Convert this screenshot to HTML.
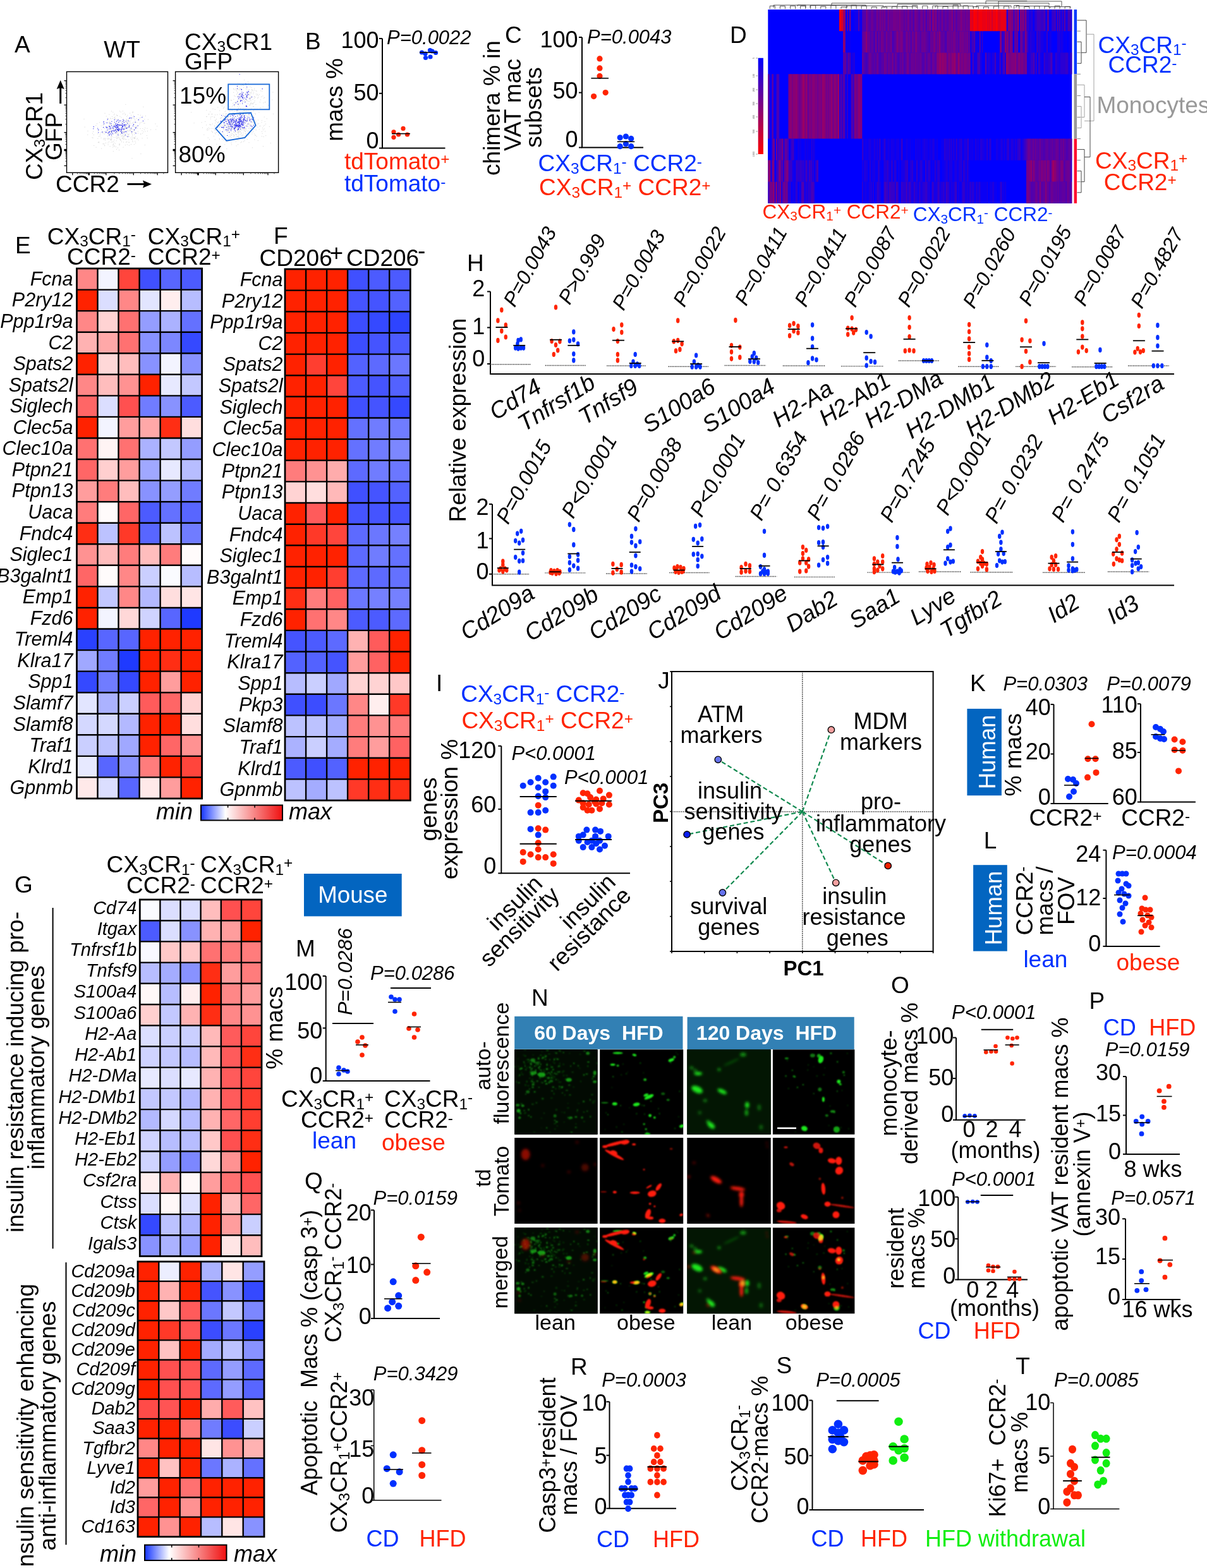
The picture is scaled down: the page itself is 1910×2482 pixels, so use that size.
<!DOCTYPE html>
<html><head><meta charset="utf-8"><title>Figure</title>
<style>
html,body{margin:0;padding:0;background:#fff;}
body{width:1910px;height:2482px;overflow:hidden;}
svg{display:block;font-family:'Liberation Sans', Arial, sans-serif;}
</style></head>
<body>
<svg xmlns="http://www.w3.org/2000/svg" width="1910" height="2482" viewBox="0 0 1910 2482">
<rect width="1910" height="2482" fill="#fff"/>
<text x="23.0" y="83.0" font-size="37.0">A</text>
<text x="193.0" y="91.0" font-size="37.0" text-anchor="middle">WT</text>
<text x="292.0" y="78.5" font-size="37.0"><tspan>CX</tspan><tspan dy="3.70" font-size="24.4">3</tspan><tspan dy="-3.70">CR1</tspan></text>
<text x="292.0" y="110.0" font-size="37.0">GFP</text>
<text x="67.0" y="285.0" font-size="37.0" transform="rotate(-90.0 67.0 285.0)"><tspan>CX</tspan><tspan dy="3.70" font-size="24.4">3</tspan><tspan dy="-3.70">CR1</tspan></text>
<text x="98.0" y="254.0" font-size="37.0" transform="rotate(-90.0 98.0 254.0)">GFP</text>
<text x="88.0" y="304.0" font-size="37.0">CCR2</text>
<line x1="201.5" y1="291.5" x2="230.0" y2="291.5" stroke="#000" stroke-width="3.00" />
<polygon points="240,291.5 226,285.5 228,291.5 226,297.5" fill="#000"/>
<line x1="95.7" y1="164.0" x2="95.7" y2="136.0" stroke="#000" stroke-width="3.00" />
<polygon points="95.7,127 89.7,141 95.7,139 101.7,141" fill="#000"/>
<rect x="105.5" y="113.5" width="160.0" height="159.8" fill="none" stroke="#000" stroke-width="1.40" />
<line x1="101.5" y1="127.7" x2="105.5" y2="127.7" stroke="#000" stroke-width="1.30" />
<line x1="101.5" y1="166.2" x2="105.5" y2="166.2" stroke="#000" stroke-width="1.30" />
<line x1="101.5" y1="209.7" x2="105.5" y2="209.7" stroke="#000" stroke-width="1.30" />
<line x1="101.5" y1="262.4" x2="105.5" y2="262.4" stroke="#000" stroke-width="1.30" />
<line x1="101.5" y1="236.5" x2="105.5" y2="236.5" stroke="#000" stroke-width="1.30" />
<line x1="101.5" y1="237.5" x2="105.5" y2="237.5" stroke="#000" stroke-width="1.30" />
<line x1="101.5" y1="238.5" x2="105.5" y2="238.5" stroke="#000" stroke-width="1.30" />
<line x1="103.3" y1="154.7" x2="105.5" y2="154.7" stroke="#000" stroke-width="0.70" />
<line x1="103.3" y1="147.7" x2="105.5" y2="147.7" stroke="#000" stroke-width="0.70" />
<line x1="103.3" y1="143.1" x2="105.5" y2="143.1" stroke="#000" stroke-width="0.70" />
<line x1="103.3" y1="139.3" x2="105.5" y2="139.3" stroke="#000" stroke-width="0.70" />
<line x1="103.3" y1="136.2" x2="105.5" y2="136.2" stroke="#000" stroke-width="0.70" />
<line x1="103.3" y1="133.5" x2="105.5" y2="133.5" stroke="#000" stroke-width="0.70" />
<line x1="103.3" y1="131.6" x2="105.5" y2="131.6" stroke="#000" stroke-width="0.70" />
<line x1="103.3" y1="129.6" x2="105.5" y2="129.6" stroke="#000" stroke-width="0.70" />
<line x1="103.3" y1="196.7" x2="105.5" y2="196.7" stroke="#000" stroke-width="0.70" />
<line x1="103.3" y1="188.8" x2="105.5" y2="188.8" stroke="#000" stroke-width="0.70" />
<line x1="103.3" y1="183.6" x2="105.5" y2="183.6" stroke="#000" stroke-width="0.70" />
<line x1="103.3" y1="179.3" x2="105.5" y2="179.3" stroke="#000" stroke-width="0.70" />
<line x1="103.3" y1="175.8" x2="105.5" y2="175.8" stroke="#000" stroke-width="0.70" />
<line x1="103.3" y1="172.8" x2="105.5" y2="172.8" stroke="#000" stroke-width="0.70" />
<line x1="103.3" y1="170.6" x2="105.5" y2="170.6" stroke="#000" stroke-width="0.70" />
<line x1="103.3" y1="168.4" x2="105.5" y2="168.4" stroke="#000" stroke-width="0.70" />
<line x1="103.3" y1="228.5" x2="105.5" y2="228.5" stroke="#000" stroke-width="0.70" />
<line x1="103.3" y1="223.7" x2="105.5" y2="223.7" stroke="#000" stroke-width="0.70" />
<line x1="103.3" y1="220.4" x2="105.5" y2="220.4" stroke="#000" stroke-width="0.70" />
<line x1="103.3" y1="217.8" x2="105.5" y2="217.8" stroke="#000" stroke-width="0.70" />
<line x1="103.3" y1="215.6" x2="105.5" y2="215.6" stroke="#000" stroke-width="0.70" />
<line x1="103.3" y1="213.7" x2="105.5" y2="213.7" stroke="#000" stroke-width="0.70" />
<line x1="103.3" y1="212.4" x2="105.5" y2="212.4" stroke="#000" stroke-width="0.70" />
<line x1="103.3" y1="211.0" x2="105.5" y2="211.0" stroke="#000" stroke-width="0.70" />
<line x1="103.3" y1="255.2" x2="105.5" y2="255.2" stroke="#000" stroke-width="0.70" />
<line x1="103.3" y1="250.9" x2="105.5" y2="250.9" stroke="#000" stroke-width="0.70" />
<line x1="103.3" y1="248.1" x2="105.5" y2="248.1" stroke="#000" stroke-width="0.70" />
<line x1="103.3" y1="245.7" x2="105.5" y2="245.7" stroke="#000" stroke-width="0.70" />
<line x1="103.3" y1="243.7" x2="105.5" y2="243.7" stroke="#000" stroke-width="0.70" />
<line x1="103.3" y1="242.1" x2="105.5" y2="242.1" stroke="#000" stroke-width="0.70" />
<line x1="103.3" y1="240.9" x2="105.5" y2="240.9" stroke="#000" stroke-width="0.70" />
<line x1="103.3" y1="239.7" x2="105.5" y2="239.7" stroke="#000" stroke-width="0.70" />
<line x1="114.8" y1="273.3" x2="114.8" y2="277.3" stroke="#000" stroke-width="1.30" />
<line x1="140.1" y1="273.3" x2="140.1" y2="277.3" stroke="#000" stroke-width="1.30" />
<line x1="140.7" y1="273.3" x2="140.7" y2="277.3" stroke="#000" stroke-width="1.30" />
<line x1="141.3" y1="273.3" x2="141.3" y2="277.3" stroke="#000" stroke-width="1.30" />
<line x1="167.9" y1="273.3" x2="167.9" y2="277.3" stroke="#000" stroke-width="1.30" />
<line x1="211.3" y1="273.3" x2="211.3" y2="277.3" stroke="#000" stroke-width="1.30" />
<line x1="249.2" y1="273.3" x2="249.2" y2="277.3" stroke="#000" stroke-width="1.30" />
<line x1="122.4" y1="273.3" x2="122.4" y2="275.5" stroke="#000" stroke-width="0.70" />
<line x1="126.9" y1="273.3" x2="126.9" y2="275.5" stroke="#000" stroke-width="0.70" />
<line x1="129.9" y1="273.3" x2="129.9" y2="275.5" stroke="#000" stroke-width="0.70" />
<line x1="132.5" y1="273.3" x2="132.5" y2="275.5" stroke="#000" stroke-width="0.70" />
<line x1="134.5" y1="273.3" x2="134.5" y2="275.5" stroke="#000" stroke-width="0.70" />
<line x1="136.3" y1="273.3" x2="136.3" y2="275.5" stroke="#000" stroke-width="0.70" />
<line x1="137.5" y1="273.3" x2="137.5" y2="275.5" stroke="#000" stroke-width="0.70" />
<line x1="138.8" y1="273.3" x2="138.8" y2="275.5" stroke="#000" stroke-width="0.70" />
<line x1="149.3" y1="273.3" x2="149.3" y2="275.5" stroke="#000" stroke-width="0.70" />
<line x1="154.1" y1="273.3" x2="154.1" y2="275.5" stroke="#000" stroke-width="0.70" />
<line x1="157.3" y1="273.3" x2="157.3" y2="275.5" stroke="#000" stroke-width="0.70" />
<line x1="159.9" y1="273.3" x2="159.9" y2="275.5" stroke="#000" stroke-width="0.70" />
<line x1="162.1" y1="273.3" x2="162.1" y2="275.5" stroke="#000" stroke-width="0.70" />
<line x1="163.9" y1="273.3" x2="163.9" y2="275.5" stroke="#000" stroke-width="0.70" />
<line x1="165.2" y1="273.3" x2="165.2" y2="275.5" stroke="#000" stroke-width="0.70" />
<line x1="166.6" y1="273.3" x2="166.6" y2="275.5" stroke="#000" stroke-width="0.70" />
<line x1="180.9" y1="273.3" x2="180.9" y2="275.5" stroke="#000" stroke-width="0.70" />
<line x1="188.7" y1="273.3" x2="188.7" y2="275.5" stroke="#000" stroke-width="0.70" />
<line x1="193.9" y1="273.3" x2="193.9" y2="275.5" stroke="#000" stroke-width="0.70" />
<line x1="198.3" y1="273.3" x2="198.3" y2="275.5" stroke="#000" stroke-width="0.70" />
<line x1="201.7" y1="273.3" x2="201.7" y2="275.5" stroke="#000" stroke-width="0.70" />
<line x1="204.8" y1="273.3" x2="204.8" y2="275.5" stroke="#000" stroke-width="0.70" />
<line x1="206.9" y1="273.3" x2="206.9" y2="275.5" stroke="#000" stroke-width="0.70" />
<line x1="209.1" y1="273.3" x2="209.1" y2="275.5" stroke="#000" stroke-width="0.70" />
<line x1="222.6" y1="273.3" x2="222.6" y2="275.5" stroke="#000" stroke-width="0.70" />
<line x1="229.5" y1="273.3" x2="229.5" y2="275.5" stroke="#000" stroke-width="0.70" />
<line x1="234.0" y1="273.3" x2="234.0" y2="275.5" stroke="#000" stroke-width="0.70" />
<line x1="237.8" y1="273.3" x2="237.8" y2="275.5" stroke="#000" stroke-width="0.70" />
<line x1="240.8" y1="273.3" x2="240.8" y2="275.5" stroke="#000" stroke-width="0.70" />
<line x1="243.5" y1="273.3" x2="243.5" y2="275.5" stroke="#000" stroke-width="0.70" />
<line x1="245.4" y1="273.3" x2="245.4" y2="275.5" stroke="#000" stroke-width="0.70" />
<line x1="247.3" y1="273.3" x2="247.3" y2="275.5" stroke="#000" stroke-width="0.70" />
<line x1="258.9" y1="273.3" x2="258.9" y2="275.5" stroke="#000" stroke-width="0.70" />
<rect x="277.6" y="113.5" width="163.0" height="159.8" fill="none" stroke="#000" stroke-width="1.40" />
<line x1="273.6" y1="127.7" x2="277.6" y2="127.7" stroke="#000" stroke-width="1.30" />
<line x1="273.6" y1="166.2" x2="277.6" y2="166.2" stroke="#000" stroke-width="1.30" />
<line x1="273.6" y1="209.7" x2="277.6" y2="209.7" stroke="#000" stroke-width="1.30" />
<line x1="273.6" y1="262.4" x2="277.6" y2="262.4" stroke="#000" stroke-width="1.30" />
<line x1="273.6" y1="236.5" x2="277.6" y2="236.5" stroke="#000" stroke-width="1.30" />
<line x1="273.6" y1="237.5" x2="277.6" y2="237.5" stroke="#000" stroke-width="1.30" />
<line x1="273.6" y1="238.5" x2="277.6" y2="238.5" stroke="#000" stroke-width="1.30" />
<line x1="275.4" y1="154.7" x2="277.6" y2="154.7" stroke="#000" stroke-width="0.70" />
<line x1="275.4" y1="147.7" x2="277.6" y2="147.7" stroke="#000" stroke-width="0.70" />
<line x1="275.4" y1="143.1" x2="277.6" y2="143.1" stroke="#000" stroke-width="0.70" />
<line x1="275.4" y1="139.3" x2="277.6" y2="139.3" stroke="#000" stroke-width="0.70" />
<line x1="275.4" y1="136.2" x2="277.6" y2="136.2" stroke="#000" stroke-width="0.70" />
<line x1="275.4" y1="133.5" x2="277.6" y2="133.5" stroke="#000" stroke-width="0.70" />
<line x1="275.4" y1="131.6" x2="277.6" y2="131.6" stroke="#000" stroke-width="0.70" />
<line x1="275.4" y1="129.6" x2="277.6" y2="129.6" stroke="#000" stroke-width="0.70" />
<line x1="275.4" y1="196.7" x2="277.6" y2="196.7" stroke="#000" stroke-width="0.70" />
<line x1="275.4" y1="188.8" x2="277.6" y2="188.8" stroke="#000" stroke-width="0.70" />
<line x1="275.4" y1="183.6" x2="277.6" y2="183.6" stroke="#000" stroke-width="0.70" />
<line x1="275.4" y1="179.3" x2="277.6" y2="179.3" stroke="#000" stroke-width="0.70" />
<line x1="275.4" y1="175.8" x2="277.6" y2="175.8" stroke="#000" stroke-width="0.70" />
<line x1="275.4" y1="172.8" x2="277.6" y2="172.8" stroke="#000" stroke-width="0.70" />
<line x1="275.4" y1="170.6" x2="277.6" y2="170.6" stroke="#000" stroke-width="0.70" />
<line x1="275.4" y1="168.4" x2="277.6" y2="168.4" stroke="#000" stroke-width="0.70" />
<line x1="275.4" y1="228.5" x2="277.6" y2="228.5" stroke="#000" stroke-width="0.70" />
<line x1="275.4" y1="223.7" x2="277.6" y2="223.7" stroke="#000" stroke-width="0.70" />
<line x1="275.4" y1="220.4" x2="277.6" y2="220.4" stroke="#000" stroke-width="0.70" />
<line x1="275.4" y1="217.8" x2="277.6" y2="217.8" stroke="#000" stroke-width="0.70" />
<line x1="275.4" y1="215.6" x2="277.6" y2="215.6" stroke="#000" stroke-width="0.70" />
<line x1="275.4" y1="213.7" x2="277.6" y2="213.7" stroke="#000" stroke-width="0.70" />
<line x1="275.4" y1="212.4" x2="277.6" y2="212.4" stroke="#000" stroke-width="0.70" />
<line x1="275.4" y1="211.0" x2="277.6" y2="211.0" stroke="#000" stroke-width="0.70" />
<line x1="275.4" y1="255.2" x2="277.6" y2="255.2" stroke="#000" stroke-width="0.70" />
<line x1="275.4" y1="250.9" x2="277.6" y2="250.9" stroke="#000" stroke-width="0.70" />
<line x1="275.4" y1="248.1" x2="277.6" y2="248.1" stroke="#000" stroke-width="0.70" />
<line x1="275.4" y1="245.7" x2="277.6" y2="245.7" stroke="#000" stroke-width="0.70" />
<line x1="275.4" y1="243.7" x2="277.6" y2="243.7" stroke="#000" stroke-width="0.70" />
<line x1="275.4" y1="242.1" x2="277.6" y2="242.1" stroke="#000" stroke-width="0.70" />
<line x1="275.4" y1="240.9" x2="277.6" y2="240.9" stroke="#000" stroke-width="0.70" />
<line x1="275.4" y1="239.7" x2="277.6" y2="239.7" stroke="#000" stroke-width="0.70" />
<line x1="287.1" y1="273.3" x2="287.1" y2="277.3" stroke="#000" stroke-width="1.30" />
<line x1="312.8" y1="273.3" x2="312.8" y2="277.3" stroke="#000" stroke-width="1.30" />
<line x1="313.5" y1="273.3" x2="313.5" y2="277.3" stroke="#000" stroke-width="1.30" />
<line x1="314.1" y1="273.3" x2="314.1" y2="277.3" stroke="#000" stroke-width="1.30" />
<line x1="341.2" y1="273.3" x2="341.2" y2="277.3" stroke="#000" stroke-width="1.30" />
<line x1="385.3" y1="273.3" x2="385.3" y2="277.3" stroke="#000" stroke-width="1.30" />
<line x1="424.0" y1="273.3" x2="424.0" y2="277.3" stroke="#000" stroke-width="1.30" />
<line x1="294.8" y1="273.3" x2="294.8" y2="275.5" stroke="#000" stroke-width="0.70" />
<line x1="299.4" y1="273.3" x2="299.4" y2="275.5" stroke="#000" stroke-width="0.70" />
<line x1="302.5" y1="273.3" x2="302.5" y2="275.5" stroke="#000" stroke-width="0.70" />
<line x1="305.1" y1="273.3" x2="305.1" y2="275.5" stroke="#000" stroke-width="0.70" />
<line x1="307.1" y1="273.3" x2="307.1" y2="275.5" stroke="#000" stroke-width="0.70" />
<line x1="308.9" y1="273.3" x2="308.9" y2="275.5" stroke="#000" stroke-width="0.70" />
<line x1="310.2" y1="273.3" x2="310.2" y2="275.5" stroke="#000" stroke-width="0.70" />
<line x1="311.5" y1="273.3" x2="311.5" y2="275.5" stroke="#000" stroke-width="0.70" />
<line x1="322.2" y1="273.3" x2="322.2" y2="275.5" stroke="#000" stroke-width="0.70" />
<line x1="327.1" y1="273.3" x2="327.1" y2="275.5" stroke="#000" stroke-width="0.70" />
<line x1="330.3" y1="273.3" x2="330.3" y2="275.5" stroke="#000" stroke-width="0.70" />
<line x1="333.1" y1="273.3" x2="333.1" y2="275.5" stroke="#000" stroke-width="0.70" />
<line x1="335.2" y1="273.3" x2="335.2" y2="275.5" stroke="#000" stroke-width="0.70" />
<line x1="337.1" y1="273.3" x2="337.1" y2="275.5" stroke="#000" stroke-width="0.70" />
<line x1="338.5" y1="273.3" x2="338.5" y2="275.5" stroke="#000" stroke-width="0.70" />
<line x1="339.8" y1="273.3" x2="339.8" y2="275.5" stroke="#000" stroke-width="0.70" />
<line x1="354.4" y1="273.3" x2="354.4" y2="275.5" stroke="#000" stroke-width="0.70" />
<line x1="362.4" y1="273.3" x2="362.4" y2="275.5" stroke="#000" stroke-width="0.70" />
<line x1="367.7" y1="273.3" x2="367.7" y2="275.5" stroke="#000" stroke-width="0.70" />
<line x1="372.1" y1="273.3" x2="372.1" y2="275.5" stroke="#000" stroke-width="0.70" />
<line x1="375.6" y1="273.3" x2="375.6" y2="275.5" stroke="#000" stroke-width="0.70" />
<line x1="378.7" y1="273.3" x2="378.7" y2="275.5" stroke="#000" stroke-width="0.70" />
<line x1="380.9" y1="273.3" x2="380.9" y2="275.5" stroke="#000" stroke-width="0.70" />
<line x1="383.1" y1="273.3" x2="383.1" y2="275.5" stroke="#000" stroke-width="0.70" />
<line x1="396.9" y1="273.3" x2="396.9" y2="275.5" stroke="#000" stroke-width="0.70" />
<line x1="403.9" y1="273.3" x2="403.9" y2="275.5" stroke="#000" stroke-width="0.70" />
<line x1="408.5" y1="273.3" x2="408.5" y2="275.5" stroke="#000" stroke-width="0.70" />
<line x1="412.4" y1="273.3" x2="412.4" y2="275.5" stroke="#000" stroke-width="0.70" />
<line x1="415.5" y1="273.3" x2="415.5" y2="275.5" stroke="#000" stroke-width="0.70" />
<line x1="418.2" y1="273.3" x2="418.2" y2="275.5" stroke="#000" stroke-width="0.70" />
<line x1="420.1" y1="273.3" x2="420.1" y2="275.5" stroke="#000" stroke-width="0.70" />
<line x1="422.0" y1="273.3" x2="422.0" y2="275.5" stroke="#000" stroke-width="0.70" />
<line x1="433.9" y1="273.3" x2="433.9" y2="275.5" stroke="#000" stroke-width="0.70" />
<path stroke="#d4d4d4" stroke-width="1" d="M227.8 205.3h1M193.9 180.5h1M186.5 201.2h1M190.3 197.1h1M191.1 198.9h1M165.7 220.4h1M209.6 224.6h1M193.0 199.6h1M181.1 186.5h1M211.6 187.7h1M168.3 205.9h1M221.7 203.6h1M171.5 198.8h1M204.5 201.0h1M176.6 204.3h1M206.9 228.5h1M167.1 200.6h1M175.9 176.0h1M173.5 194.5h1M214.5 199.9h1M159.5 218.3h1M184.9 183.4h1M180.1 199.1h1M174.5 208.0h1M147.0 208.3h1M212.3 213.0h1M214.2 216.2h1M221.8 186.0h1M208.9 178.3h1M179.9 181.9h1M213.0 219.2h1M188.1 228.7h1M178.5 209.0h1M195.1 190.7h1M200.8 228.9h1M171.5 219.8h1M188.9 228.5h1M201.7 212.3h1M204.9 206.3h1M164.1 227.3h1M164.6 212.2h1M204.3 192.3h1M194.9 219.7h1M191.5 193.5h1M133.7 201.1h1M180.2 200.1h1M172.8 212.8h1M180.5 205.3h1M205.6 191.8h1M186.0 234.0h1M209.5 185.6h1M190.4 212.6h1M216.7 203.2h1M181.4 197.1h1M204.9 207.1h1M181.7 204.1h1M183.7 215.7h1M178.2 213.4h1M209.0 208.8h1M175.3 225.0h1M178.4 212.6h1M176.9 184.6h1M196.5 208.1h1M190.5 208.8h1M179.0 197.4h1M188.6 230.3h1M208.3 195.8h1M203.2 197.1h1M182.9 217.5h1M181.5 184.8h1M173.9 208.9h1M194.6 220.8h1M177.7 216.7h1M200.5 201.8h1M208.7 208.9h1M174.8 221.5h1M167.6 209.4h1M192.0 210.5h1M177.5 206.7h1M189.2 218.4h1M176.1 208.3h1M186.8 188.9h1M245.5 196.0h1M162.3 227.8h1M170.6 213.0h1M209.3 194.0h1M183.4 199.3h1M189.4 184.3h1M167.3 206.9h1M212.8 210.1h1M226.6 208.8h1M181.8 204.9h1M151.4 198.6h1M171.6 211.6h1M205.0 195.8h1M180.2 186.7h1M189.4 208.6h1M200.9 193.5h1M231.8 214.6h1M190.1 198.4h1M185.6 207.9h1M191.6 211.3h1M207.4 220.5h1M214.9 200.1h1M199.8 198.8h1M180.3 231.6h1M182.8 232.3h1M185.0 209.3h1M213.8 202.0h1M199.9 200.7h1M182.5 204.3h1M179.0 228.2h1M188.6 227.9h1M138.3 213.3h1M203.2 199.5h1M213.9 210.0h1M186.5 211.5h1M248.2 199.8h1M198.0 198.4h1M194.7 187.8h1M188.0 237.5h1M213.3 210.1h1M214.1 226.2h1M203.9 230.1h1M213.4 204.0h1M226.4 169.2h1M180.6 210.2h1M173.8 205.7h1M179.2 198.4h1M246.2 205.0h1M190.9 222.3h1M187.3 217.2h1M199.0 225.1h1M163.6 219.2h1M194.4 189.6h1M213.3 190.5h1M224.4 206.8h1M205.9 204.0h1M210.1 178.0h1M193.5 196.6h1M197.7 203.5h1M204.3 192.3h1M228.8 229.6h1M187.8 205.4h1M197.8 220.6h1M229.9 183.6h1M179.7 193.0h1M169.7 187.0h1M199.3 188.8h1M222.1 212.3h1M171.4 194.7h1M179.8 225.0h1M175.0 188.1h1M191.0 210.0h1M178.9 228.0h1M196.8 210.2h1M174.9 207.1h1M188.9 175.9h1M197.8 180.8h1M191.4 185.9h1M232.4 203.2h1M209.2 214.4h1M165.5 179.3h1M185.4 217.7h1M193.8 214.9h1M210.7 182.8h1M197.8 229.7h1M180.6 180.3h1M187.4 199.7h1M200.4 192.1h1M193.8 175.9h1M209.1 223.1h1M218.0 181.4h1M198.4 165.3h1M197.7 203.3h1M172.1 212.5h1M194.8 216.8h1M194.5 207.7h1M153.1 195.8h1M182.5 210.3h1M191.9 224.5h1M174.6 204.5h1M197.1 201.2h1M201.9 196.1h1M220.4 196.6h1M214.3 201.3h1M221.8 182.3h1M202.3 197.8h1M196.6 219.8h1M169.2 191.2h1M172.0 211.3h1M154.3 211.9h1M166.3 194.0h1M184.6 211.1h1M179.5 200.5h1M191.2 201.6h1M138.5 207.4h1M193.7 219.0h1M232.9 207.5h1M193.6 192.2h1M193.8 214.9h1M217.3 189.8h1M196.7 214.9h1M229.2 202.7h1M181.2 197.7h1M184.9 197.6h1M208.5 216.4h1M206.5 218.3h1M182.9 211.3h1M184.3 206.7h1M216.5 200.9h1M154.7 207.3h1M177.7 187.5h1M176.2 219.9h1M225.6 193.6h1M212.1 217.3h1M168.8 208.0h1M191.1 207.4h1M160.1 205.2h1M213.2 218.2h1M228.6 195.1h1M229.4 208.0h1M164.8 219.0h1M185.0 212.8h1M189.9 221.0h1M197.1 200.6h1M211.3 205.4h1M183.7 222.8h1M183.8 197.9h1M181.2 187.6h1M180.9 230.9h1M173.8 207.8h1M169.8 200.4h1M222.4 212.1h1M179.8 206.9h1M175.5 197.3h1M173.7 196.1h1M198.5 211.8h1M201.8 201.3h1M164.8 208.2h1M173.5 219.2h1M203.1 213.0h1M185.0 182.5h1M211.2 218.1h1M162.3 211.2h1M215.9 187.4h1M227.4 195.2h1M170.5 226.1h1M197.9 195.6h1M209.6 176.9h1M228.3 188.9h1M197.7 199.0h1M200.7 215.2h1M175.5 217.7h1M186.1 196.9h1M187.5 192.6h1M176.1 219.7h1M189.0 220.3h1M200.6 190.4h1M154.0 201.8h1M197.3 204.3h1M175.4 220.7h1M157.1 193.9h1M194.5 233.1h1M200.3 190.7h1M203.9 212.1h1M210.8 196.9h1M176.0 208.9h1M200.3 224.5h1M233.8 189.2h1M181.5 205.7h1M187.0 212.1h1M201.7 206.9h1M218.9 198.9h1M171.0 187.9h1M171.4 194.5h1M154.3 219.3h1M195.7 198.9h1M174.2 187.1h1M173.6 231.8h1M147.8 213.5h1M206.9 204.5h1M185.7 215.9h1M169.9 215.5h1M220.6 187.2h1M175.6 209.2h1M211.8 219.4h1M205.6 194.3h1M169.7 211.5h1M200.0 189.5h1M193.2 209.1h1M212.9 189.0h1M203.1 188.1h1M183.5 205.3h1M222.4 243.5h1M197.1 210.7h1M212.2 184.3h1M207.3 186.6h1M224.6 218.9h1M202.0 193.0h1M225.4 203.4h1M194.2 212.2h1M157.8 215.7h1M211.9 206.4h1M194.9 192.2h1M204.9 205.7h1M192.2 197.7h1M209.1 218.6h1M199.8 215.5h1M218.5 221.7h1M196.5 201.5h1M183.7 206.4h1M203.0 215.5h1M183.5 208.2h1M172.1 224.4h1M184.2 210.8h1M177.6 203.3h1M178.3 229.2h1M199.2 201.8h1M173.0 199.9h1M203.4 225.0h1M163.4 197.4h1M188.5 197.4h1M158.8 210.2h1M207.0 182.2h1M196.2 216.9h1M211.6 196.6h1M238.1 205.3h1M175.8 220.2h1M169.5 220.0h1M166.8 219.1h1M180.3 221.5h1M206.8 208.6h1M193.2 219.0h1M155.9 216.0h1M200.3 211.1h1M208.5 250.7h1M194.3 215.1h1M195.0 225.0h1M151.6 233.1h1M178.3 177.6h1M170.4 206.0h1M195.9 203.8h1M208.3 202.1h1M190.7 177.3h1M201.7 216.7h1M183.6 181.9h1M165.3 230.8h1M179.9 198.2h1M175.6 216.3h1M180.2 195.5h1M161.9 208.1h1M212.0 200.1h1M209.6 204.6h1M195.0 206.9h1M192.7 218.2h1M201.8 196.0h1M194.6 203.6h1M201.7 205.9h1M200.3 184.6h1M199.6 220.9h1M165.0 229.9h1M197.9 201.4h1M155.9 224.6h1M172.6 201.3h1M202.9 190.0h1M172.3 193.0h1M189.8 213.0h1M200.1 209.1h1M185.1 207.9h1M178.2 233.0h1M195.9 179.0h1M170.6 229.0h1M164.7 203.4h1M200.1 189.5h1M213.3 223.6h1M175.5 222.2h1M174.2 194.7h1M196.9 207.4h1M180.1 217.7h1M162.6 198.3h1M170.4 218.1h1M208.1 211.3h1M166.1 210.6h1M201.2 182.6h1M175.6 215.9h1M206.1 206.2h1M202.8 207.6h1M195.0 203.1h1M174.6 204.4h1M183.9 236.3h1M197.2 204.1h1M187.4 204.2h1M186.6 212.9h1M191.4 215.6h1M178.1 211.6h1M209.5 187.4h1M195.4 207.7h1M185.3 199.7h1M154.9 225.5h1M173.3 191.7h1M205.2 179.2h1M211.3 207.8h1M204.0 201.1h1M167.7 184.1h1M221.1 194.5h1M181.7 227.1h1M179.4 203.8h1M187.3 203.9h1M171.2 200.8h1M217.7 211.0h1M132.5 188.5h1M198.7 202.5h1M184.5 219.7h1M156.3 225.9h1M194.6 211.7h1M197.1 215.2h1M187.0 198.7h1M207.6 204.9h1M166.9 226.3h1M216.2 220.1h1M193.6 209.3h1M184.4 193.5h1M193.3 207.1h1M178.7 230.8h1M159.7 199.2h1M178.6 223.8h1M186.9 201.5h1M174.3 197.7h1M165.9 222.1h1M204.2 216.0h1M178.8 239.6h1M172.4 181.2h1M186.2 207.7h1M207.1 189.5h1M203.8 225.4h1M175.0 197.9h1M157.9 213.2h1M209.1 212.4h1M208.7 220.9h1M194.5 217.0h1M173.0 197.6h1M196.8 193.6h1M203.4 221.2h1M200.1 194.2h1M177.0 225.0h1M176.0 208.6h1M186.8 206.5h1M213.9 194.7h1M163.8 228.1h1M196.5 213.8h1M191.6 215.2h1M217.3 219.0h1M186.5 201.2h1M199.9 206.5h1M203.3 194.1h1M145.5 217.8h1M207.6 211.0h1M225.2 211.1h1M184.2 219.0h1M190.3 221.6h1M196.8 210.2h1M196.6 205.0h1M162.1 210.2h1M146.5 218.3h1M211.8 228.7h1M199.5 194.6h1M160.2 235.1h1M163.5 220.9h1M145.9 211.2h1M205.7 207.2h1M191.2 194.4h1M173.9 220.8h1M200.7 201.6h1M196.1 192.3h1M212.4 218.3h1M176.4 208.7h1M213.0 193.5h1M232.7 218.5h1M186.4 218.6h1M225.2 183.8h1M204.4 201.3h1M187.7 214.9h1M182.5 188.2h1M163.6 209.0h1M204.6 202.8h1M188.9 205.1h1M217.8 208.0h1M177.1 203.5h1M216.1 193.8h1M184.1 205.9h1M170.7 219.9h1M148.2 230.4h1M183.3 190.0h1M197.6 181.9h1M202.7 213.4h1M180.5 201.7h1M211.0 193.4h1M192.5 209.5h1M223.2 193.8h1"/>
<path stroke="#2020ee" stroke-width="1.1" d="M190.5 207.7h1.1M154.2 203.7h1.1M163.3 193.2h1.1M217.4 199.0h1.1M210.8 197.1h1.1M197.6 197.5h1.1M182.3 201.5h1.1M191.8 210.0h1.1M187.2 203.6h1.1M186.4 202.3h1.1M171.6 209.8h1.1M182.7 202.1h1.1M187.0 207.3h1.1M197.3 200.2h1.1M192.5 202.8h1.1M200.6 202.8h1.1M208.0 208.6h1.1M198.6 192.0h1.1M214.5 211.0h1.1M184.9 199.1h1.1M161.2 209.1h1.1M175.9 213.7h1.1M155.3 205.6h1.1M199.4 197.5h1.1M178.9 203.8h1.1M182.6 199.8h1.1M189.4 197.7h1.1M186.8 206.1h1.1M184.5 202.7h1.1M179.4 207.7h1.1M172.0 208.9h1.1M147.6 200.6h1.1M167.7 209.8h1.1M193.8 192.7h1.1M182.0 210.0h1.1M189.1 204.4h1.1M168.7 194.4h1.1M197.8 213.8h1.1M182.2 205.4h1.1M176.5 210.0h1.1M183.3 199.0h1.1M163.1 201.6h1.1M192.2 208.8h1.1M173.1 208.7h1.1M184.8 199.7h1.1M176.3 192.2h1.1M172.5 212.6h1.1M172.8 200.2h1.1M204.9 186.3h1.1M195.5 197.0h1.1M191.9 205.7h1.1M187.1 199.8h1.1M199.4 203.4h1.1M179.2 200.9h1.1M170.4 210.8h1.1M172.3 203.9h1.1M213.7 202.7h1.1M185.2 196.9h1.1M180.6 207.4h1.1M194.2 200.2h1.1M225.9 191.5h1.1M182.6 199.4h1.1M192.6 202.3h1.1M185.7 205.7h1.1M197.1 198.1h1.1M155.2 209.7h1.1M176.1 198.5h1.1M187.3 193.6h1.1M177.9 202.5h1.1M184.1 203.1h1.1M176.8 200.7h1.1M173.9 200.7h1.1M192.8 198.7h1.1M168.7 201.9h1.1M190.8 207.2h1.1M188.2 198.2h1.1M172.4 214.5h1.1M175.5 195.5h1.1M186.7 190.0h1.1M203.9 199.9h1.1M195.7 194.0h1.1M181.8 206.7h1.1M201.6 216.2h1.1M204.4 187.5h1.1M190.3 198.4h1.1M204.4 198.3h1.1M196.0 198.0h1.1M197.7 208.5h1.1M180.6 189.6h1.1M174.7 211.9h1.1M192.3 198.6h1.1M175.7 208.7h1.1M193.3 199.6h1.1M181.7 200.7h1.1M184.8 204.7h1.1M207.1 186.9h1.1M168.9 202.6h1.1M190.4 191.3h1.1M180.6 199.4h1.1M183.0 198.7h1.1M188.0 206.2h1.1M199.6 203.1h1.1M193.1 196.0h1.1M182.5 205.7h1.1M190.8 205.4h1.1M193.0 200.7h1.1M195.4 190.8h1.1M187.0 197.5h1.1M201.1 195.3h1.1M192.5 197.8h1.1M195.9 204.3h1.1M186.2 201.7h1.1M191.6 205.1h1.1M184.5 201.5h1.1M183.1 195.7h1.1M191.5 203.0h1.1M177.7 211.5h1.1M178.5 206.4h1.1M194.2 189.8h1.1M188.6 191.3h1.1M187.4 204.9h1.1M214.8 202.3h1.1M167.5 201.1h1.1M209.9 199.2h1.1M213.7 193.3h1.1M181.1 193.5h1.1M183.5 208.8h1.1M175.9 207.2h1.1M195.3 204.6h1.1M185.2 201.2h1.1M218.8 189.6h1.1M199.5 208.5h1.1M195.3 209.8h1.1M147.3 203.8h1.1M172.4 200.1h1.1M187.3 203.7h1.1M176.7 207.3h1.1M166.6 209.0h1.1M185.1 190.3h1.1M163.7 192.8h1.1M174.6 202.9h1.1M207.0 203.0h1.1M169.7 188.9h1.1M184.1 192.4h1.1M185.8 196.6h1.1M224.3 185.8h1.1M192.6 211.1h1.1M182.4 196.4h1.1M211.7 184.8h1.1M164.0 195.9h1.1M193.6 204.4h1.1M186.3 213.8h1.1M185.2 200.8h1.1M183.8 208.4h1.1M188.4 198.1h1.1M212.0 205.5h1.1M202.6 191.2h1.1M173.4 200.9h1.1M185.0 198.4h1.1M185.6 204.9h1.1M174.5 203.8h1.1M183.3 198.4h1.1M184.9 205.6h1.1M192.9 195.5h1.1M193.8 201.0h1.1M195.1 198.5h1.1M203.4 201.4h1.1M173.4 195.0h1.1M169.7 205.7h1.1M179.9 200.0h1.1"/>
<path stroke="#d4d4d4" stroke-width="1" d="M369.9 215.0h1M419.9 196.2h1M415.8 205.6h1M398.4 194.0h1M344.4 204.7h1M400.4 176.0h1M370.5 201.0h1M385.1 182.7h1M359.6 211.0h1M411.8 199.4h1M393.5 200.3h1M381.5 192.5h1M366.9 189.9h1M374.1 213.5h1M376.1 207.2h1M357.8 208.0h1M302.2 177.9h1M364.4 172.3h1M384.4 200.8h1M351.6 199.2h1M338.4 185.1h1M363.3 175.3h1M394.9 188.6h1M394.4 195.8h1M378.7 185.1h1M365.1 192.0h1M377.1 217.3h1M359.5 195.6h1M379.8 210.0h1M369.5 192.6h1M359.0 198.1h1M377.3 188.4h1M365.2 208.6h1M371.4 189.9h1M387.6 208.0h1M385.5 207.3h1M363.3 200.9h1M378.9 199.7h1M333.3 197.7h1M379.7 204.9h1M365.4 198.5h1M332.2 177.0h1M306.6 194.8h1M407.8 222.5h1M347.2 207.1h1M399.7 193.7h1M328.7 218.0h1M364.1 192.5h1M409.7 204.6h1M390.7 220.5h1M368.9 184.4h1M389.6 198.2h1M388.8 203.9h1M355.8 198.8h1M365.3 195.2h1M371.8 203.4h1M377.4 180.7h1M386.8 178.5h1M421.7 187.9h1M371.6 217.4h1M368.6 180.8h1M341.5 202.6h1M382.1 210.3h1M379.0 191.9h1M383.4 218.8h1M355.4 248.8h1M363.8 216.2h1M414.6 211.4h1M379.7 208.8h1M402.4 161.6h1M383.1 192.9h1M357.6 200.2h1M376.8 205.5h1M359.9 214.3h1M326.6 184.8h1M345.7 199.7h1M361.3 205.6h1M354.9 216.2h1M388.5 190.9h1M334.8 181.3h1M337.9 215.4h1M388.7 180.2h1M413.5 193.9h1M322.3 213.3h1M400.7 198.1h1M352.2 215.3h1M360.9 197.8h1M382.4 202.3h1M361.9 183.4h1M388.6 167.0h1M379.3 201.8h1M383.6 192.9h1M376.9 209.2h1M349.0 198.8h1M380.4 180.4h1M351.2 220.2h1M394.9 187.6h1M388.0 203.8h1M403.0 214.1h1M318.6 193.9h1M402.4 221.0h1M358.5 180.8h1M377.8 189.1h1M371.7 181.7h1M389.0 206.1h1M382.2 182.7h1M334.9 180.1h1M383.0 172.8h1M386.6 222.9h1M358.2 195.4h1M393.8 210.9h1M358.5 195.6h1M374.8 194.4h1M384.9 202.7h1M400.9 174.2h1M398.3 209.6h1M369.3 204.0h1M393.7 202.4h1M366.8 202.1h1M356.9 179.8h1M353.0 187.3h1M376.4 209.3h1M377.6 218.6h1M370.3 189.2h1M356.3 185.6h1M365.6 217.5h1M340.0 206.0h1M372.1 210.0h1M362.2 208.5h1M361.7 207.3h1M329.7 205.4h1M389.2 176.3h1M391.6 182.7h1M394.8 198.6h1M388.2 204.0h1M346.8 220.5h1M400.1 184.5h1M385.8 205.4h1M358.5 184.4h1M401.7 193.4h1M393.5 225.7h1M384.3 186.6h1M395.3 179.8h1M353.7 240.1h1M356.2 204.0h1M350.4 197.4h1M378.1 162.0h1M359.3 208.4h1M392.8 203.8h1M352.8 204.6h1M362.8 188.2h1M373.6 230.9h1M353.7 213.5h1M379.1 178.2h1M353.4 196.6h1M363.1 202.6h1M351.6 184.7h1M395.5 198.4h1M354.7 198.9h1M413.8 190.7h1M340.6 212.0h1M416.5 216.5h1M344.3 169.9h1M400.9 196.2h1M384.2 196.0h1M410.0 199.6h1M365.9 200.5h1M346.4 200.8h1M370.8 168.8h1M347.5 180.8h1M337.9 203.3h1M397.2 202.7h1M339.7 173.2h1M389.4 193.8h1M369.9 179.9h1M327.4 229.0h1M358.6 195.2h1M346.7 219.3h1M364.0 195.6h1M372.7 197.6h1M402.8 172.2h1M385.4 189.0h1M362.5 189.0h1M380.8 179.6h1M359.5 205.4h1M358.7 190.9h1M379.6 198.8h1M363.9 198.3h1M351.7 209.5h1M347.2 175.0h1M380.5 179.0h1M350.0 194.4h1M386.5 190.6h1M361.2 191.3h1M379.1 190.1h1M376.0 216.2h1M365.8 191.9h1M350.2 186.5h1M343.3 181.7h1M357.8 201.8h1M381.1 191.0h1M377.5 178.8h1M415.9 231.6h1M367.8 204.1h1M372.6 207.9h1M356.6 175.8h1M388.2 181.8h1M378.2 184.1h1M353.5 210.8h1M405.9 194.9h1M361.2 201.2h1M358.5 172.8h1M370.0 165.7h1M379.9 190.0h1M374.6 176.5h1M354.0 204.9h1M400.4 208.7h1M378.9 181.4h1M383.0 198.8h1M363.5 215.2h1M353.5 221.6h1M356.2 187.5h1M368.3 178.5h1M360.1 198.1h1M333.1 185.4h1M339.8 190.8h1M395.4 190.9h1M366.2 200.1h1M346.0 200.1h1M358.9 187.9h1M332.7 188.1h1M393.1 213.8h1M363.9 197.9h1M361.1 181.6h1M330.8 220.8h1M348.7 200.0h1M404.6 191.7h1M367.0 200.9h1M362.9 200.8h1M363.5 213.2h1M381.7 180.9h1M341.9 188.5h1M357.8 187.2h1M391.7 187.5h1M361.4 199.6h1M327.8 203.7h1M384.3 217.3h1M350.1 191.3h1M376.3 192.6h1M339.8 210.5h1M365.6 202.8h1M348.3 211.3h1M364.2 187.9h1M389.2 213.4h1M351.4 211.9h1M407.5 201.6h1M341.0 206.0h1M395.4 183.8h1M408.8 195.3h1M369.5 213.4h1M376.7 215.5h1M371.9 203.5h1M372.7 201.4h1M385.0 204.9h1M365.5 211.2h1M370.2 214.9h1M385.7 196.9h1M356.1 198.7h1M402.7 200.8h1M393.6 196.9h1M365.3 188.4h1M329.5 202.5h1M372.9 197.4h1M389.3 184.3h1M409.4 177.6h1M377.6 181.4h1M366.0 214.2h1M339.2 200.5h1M374.4 200.5h1M377.5 209.2h1M382.8 203.2h1M391.5 207.2h1M369.1 180.7h1M389.4 193.1h1M408.0 190.1h1M345.3 213.7h1M355.5 176.9h1M397.7 177.5h1M400.7 184.5h1M380.7 201.0h1M331.8 197.6h1M362.5 199.6h1M383.4 219.9h1M366.5 196.4h1M419.1 208.0h1M388.5 176.4h1M341.0 190.1h1M367.6 204.7h1M431.9 180.3h1M362.7 206.6h1M377.6 213.5h1M365.3 185.2h1M417.6 203.9h1M345.3 192.9h1M370.2 176.8h1M388.5 199.8h1M363.4 188.5h1M407.6 196.5h1M354.2 168.9h1M347.8 207.2h1M403.9 181.1h1M326.1 197.9h1M370.0 209.5h1M355.4 198.9h1M330.2 180.1h1M359.0 191.1h1M382.7 214.5h1M339.7 220.9h1M354.5 191.5h1M395.8 163.8h1M339.1 185.8h1M372.9 212.6h1M395.3 184.7h1M387.7 191.6h1M404.0 193.6h1M394.6 183.2h1M388.4 178.4h1M373.7 174.9h1M368.2 186.6h1M349.9 201.0h1M388.8 199.3h1M378.3 207.8h1M398.4 212.0h1M380.5 225.7h1M360.4 208.9h1M346.4 231.2h1M366.1 199.9h1M402.0 195.0h1M353.0 171.7h1M365.5 226.3h1M375.2 221.9h1M389.7 191.3h1M340.3 194.9h1M385.0 194.5h1M375.1 205.6h1M363.2 177.1h1M363.9 205.4h1M352.9 182.5h1M348.8 194.0h1M368.1 196.4h1M342.8 197.6h1M356.8 183.9h1M329.9 181.5h1M357.0 199.0h1M379.5 197.5h1M375.5 181.2h1M388.1 208.5h1M385.5 190.1h1M368.7 190.5h1M341.5 192.3h1M336.5 172.3h1M382.9 204.8h1M389.1 191.0h1M371.3 204.7h1M362.6 168.7h1M420.2 214.7h1M398.5 198.6h1M353.5 198.6h1M377.6 178.4h1M360.9 205.5h1M404.6 206.2h1M362.7 179.8h1M416.4 199.6h1M388.6 198.3h1M342.4 228.3h1M386.6 215.0h1M354.6 197.5h1M401.9 193.0h1M356.0 182.1h1M342.0 209.5h1M370.6 172.7h1M405.4 215.8h1M397.3 172.0h1M374.2 216.1h1M349.1 186.7h1M366.6 169.6h1M376.6 211.8h1M386.5 218.9h1M374.0 197.5h1M367.8 188.1h1M348.2 187.5h1M370.0 190.4h1M374.2 199.0h1M386.0 190.7h1M326.3 184.4h1M414.0 208.5h1M362.9 195.1h1M370.0 191.4h1M376.2 207.6h1M398.8 192.9h1M365.5 193.3h1M372.6 212.9h1M355.3 228.9h1M384.2 213.6h1M352.1 192.7h1M360.5 198.7h1M327.2 205.0h1M335.0 203.3h1M394.6 197.3h1M368.5 195.8h1M367.5 202.0h1M392.5 207.5h1M405.8 199.8h1M361.7 192.1h1M345.9 193.4h1M360.3 223.9h1M385.0 224.1h1M331.6 203.3h1M396.3 203.6h1M363.7 201.5h1M376.1 201.1h1M379.8 212.5h1M379.0 203.3h1M374.5 205.8h1M358.7 207.6h1M367.3 211.5h1M361.6 198.9h1M370.8 185.5h1M397.6 204.9h1M375.5 216.9h1M367.5 199.4h1M398.9 233.8h1M376.6 222.3h1M378.6 188.6h1M385.8 217.0h1M379.1 206.3h1M351.0 168.0h1M379.7 179.4h1M372.2 189.8h1M376.5 210.6h1M335.8 196.1h1M368.9 216.8h1M373.4 186.5h1M359.2 223.0h1M352.5 198.6h1M377.7 181.9h1M353.9 170.4h1M352.0 207.1h1M376.6 171.6h1M403.3 179.5h1M351.1 220.3h1M382.1 196.9h1M404.7 197.0h1M379.6 190.1h1M369.4 197.0h1M396.1 189.3h1M367.6 167.7h1M334.4 207.6h1M363.3 193.1h1M385.1 193.2h1M373.9 193.9h1M327.6 206.3h1M404.1 214.1h1M372.9 201.3h1M379.9 218.6h1M397.5 192.8h1M368.3 194.7h1M358.5 188.8h1M368.1 163.7h1M378.8 190.8h1M344.0 194.4h1M353.9 213.7h1M346.1 197.8h1M377.7 185.3h1M343.3 202.1h1M361.5 183.8h1M338.8 205.3h1M402.9 189.6h1M381.8 212.1h1M392.1 189.0h1M382.1 206.6h1M425.8 200.3h1M393.7 208.8h1M385.4 184.1h1M377.9 218.4h1M363.8 201.2h1M355.2 201.8h1M379.6 207.6h1M363.7 192.3h1M360.1 201.9h1M376.1 228.8h1M358.8 207.6h1M360.6 191.8h1M395.3 203.9h1M383.6 180.0h1M427.7 226.5h1M357.1 180.0h1M357.0 201.4h1M352.5 202.0h1M358.3 235.6h1M367.4 192.0h1M415.1 202.7h1M372.5 197.7h1M384.3 192.3h1M374.7 190.8h1M343.6 193.8h1M375.8 219.8h1M377.0 193.5h1M374.9 206.2h1M324.3 192.5h1M326.3 174.4h1M356.5 196.4h1M373.2 199.9h1M400.2 204.3h1M380.6 193.9h1M413.7 215.8h1M360.0 190.5h1M389.0 211.9h1M365.8 213.6h1M347.3 196.3h1M394.3 190.7h1M375.8 198.3h1M367.2 173.1h1M365.9 200.9h1M377.1 208.9h1M392.9 193.8h1M368.3 221.5h1M392.0 199.0h1M368.6 213.2h1M396.0 197.6h1M383.1 199.4h1M372.6 224.2h1M346.1 209.2h1M350.9 189.4h1M391.5 181.0h1M353.2 183.3h1M360.5 202.9h1M398.2 189.9h1M392.7 182.1h1M418.7 192.4h1M362.4 202.0h1M374.4 195.9h1M335.9 209.7h1M387.3 192.6h1M346.8 201.5h1M395.8 174.1h1M347.7 199.0h1M354.2 193.0h1M369.4 208.4h1M388.3 211.2h1M391.1 189.2h1M320.0 202.0h1M381.2 203.8h1M357.1 223.9h1M335.6 208.8h1M385.1 210.4h1M401.7 204.5h1M378.9 193.9h1M388.2 203.1h1M388.9 182.2h1M338.9 198.6h1M383.0 176.9h1M349.9 193.1h1M378.0 202.2h1M393.1 195.6h1M381.0 215.4h1M366.1 228.9h1M364.1 199.7h1M331.5 196.9h1M360.6 189.3h1M378.3 183.0h1M376.9 170.9h1M361.4 216.6h1M374.9 206.3h1M352.6 180.2h1M401.8 211.9h1M390.5 198.0h1M397.2 192.3h1M386.9 207.0h1M352.9 217.4h1M374.9 209.2h1M340.0 181.9h1M363.1 205.0h1M397.0 203.2h1M369.5 206.0h1M367.3 200.4h1M380.7 188.7h1M380.9 178.3h1M354.6 207.1h1M358.2 204.7h1M377.0 195.4h1M404.6 204.6h1M359.6 191.1h1M374.7 177.7h1M396.7 197.1h1M335.2 184.5h1M402.3 201.1h1M418.4 198.3h1M382.0 224.6h1M417.7 185.2h1M402.0 142.7h1M383.6 134.5h1M397.9 143.0h1M379.3 177.4h1M402.0 153.0h1M365.4 158.6h1M358.5 144.3h1M399.0 164.4h1M391.9 164.4h1M392.5 145.8h1M390.3 175.2h1M389.3 158.5h1M397.4 138.7h1M375.9 136.5h1M394.8 150.7h1M372.9 140.1h1M399.8 164.6h1M395.5 155.2h1M396.7 155.0h1M394.7 150.0h1M375.8 146.0h1M393.2 174.5h1M377.9 141.6h1M399.5 163.2h1M379.7 147.7h1M381.3 158.4h1M431.4 146.0h1M393.5 148.6h1M391.3 159.2h1M393.1 142.5h1M375.6 165.2h1M392.8 156.5h1M396.9 145.3h1M405.5 144.5h1M374.2 142.4h1M387.1 184.9h1M389.4 157.3h1M409.7 149.5h1M369.2 146.3h1M383.3 134.4h1M384.7 154.8h1M416.3 162.9h1M390.0 147.4h1M378.2 132.1h1M386.2 126.8h1M385.9 172.7h1M382.7 158.2h1M376.0 131.2h1M391.5 150.3h1M394.4 154.8h1M396.3 147.7h1M395.4 165.1h1M380.7 149.5h1M402.6 159.2h1M385.2 135.4h1M384.4 171.0h1M382.2 151.4h1M375.9 152.3h1M388.3 156.9h1M379.3 140.4h1M416.9 155.3h1M376.5 151.6h1M394.8 166.3h1M392.5 149.7h1M395.3 137.4h1M375.5 168.2h1M391.3 153.0h1M379.8 140.1h1M392.0 154.2h1M412.1 143.8h1M388.7 149.6h1M376.3 175.0h1M407.2 155.4h1M369.4 157.3h1M395.3 146.5h1M366.6 174.7h1M369.7 166.3h1M379.2 149.0h1M402.2 140.2h1M383.8 152.9h1M404.4 165.4h1M390.3 139.1h1M404.8 148.8h1M392.4 131.9h1M386.1 159.7h1M383.6 160.9h1M406.3 172.4h1M381.0 135.8h1M354.9 149.9h1M366.2 159.2h1M359.7 166.3h1M389.2 134.8h1M392.2 160.3h1M396.1 153.4h1M396.7 159.7h1M383.5 154.5h1M370.2 162.4h1M370.3 151.2h1M371.9 164.4h1M390.3 141.0h1M391.6 150.6h1M396.9 153.6h1M387.1 150.3h1M365.0 158.6h1M397.9 141.6h1M394.6 166.8h1M400.3 168.4h1M400.4 148.6h1M418.2 154.5h1M380.7 171.2h1M379.4 164.3h1M378.3 168.1h1M407.0 149.2h1M397.4 163.0h1M388.4 160.7h1M388.2 147.1h1M376.1 158.1h1M397.3 164.7h1M396.6 163.1h1M385.3 175.6h1M379.0 164.4h1M388.3 152.1h1M418.7 161.9h1M375.2 160.1h1M384.8 177.7h1M379.9 156.6h1M383.8 149.0h1M400.9 169.0h1M408.0 154.4h1M383.1 162.3h1M385.6 174.2h1M372.1 161.1h1M374.2 144.2h1M369.1 140.4h1M397.7 147.1h1M375.8 141.0h1M377.6 150.0h1M401.9 155.3h1M389.3 153.6h1M399.7 144.0h1M394.2 141.9h1M375.4 162.3h1M390.6 152.5h1M376.5 160.1h1M419.5 161.5h1M397.7 153.9h1M406.2 150.5h1M430.2 158.1h1M391.1 169.6h1M375.2 147.3h1M380.4 152.7h1M414.3 144.3h1M424.0 166.7h1M411.9 158.0h1M369.7 141.4h1M408.5 151.7h1M395.4 159.0h1M410.9 170.8h1M395.4 156.9h1M404.5 143.3h1M381.5 140.5h1M378.4 138.0h1M402.6 152.8h1M415.4 152.1h1M394.8 150.2h1M401.0 162.8h1M386.5 159.7h1M380.6 149.3h1M377.1 165.9h1M377.9 142.8h1M403.7 154.2h1M371.7 142.1h1M382.0 142.0h1M388.6 140.8h1M373.2 163.8h1M412.5 170.3h1M384.2 161.0h1M387.0 175.7h1M393.8 160.5h1M415.7 169.5h1M391.7 143.2h1M385.0 138.7h1M413.0 153.1h1M399.6 157.4h1M380.1 158.4h1M395.3 154.6h1M389.7 159.1h1M377.2 153.7h1M383.9 146.2h1M392.0 129.6h1M371.4 152.6h1M410.9 161.7h1M379.7 171.8h1M391.9 147.1h1M388.2 172.5h1M400.8 146.6h1M375.5 161.8h1M374.1 149.3h1M399.3 142.7h1M379.0 157.4h1"/>
<path stroke="#2020ee" stroke-width="1.1" d="M370.6 202.8h1.1M373.8 198.5h1.1M381.5 190.8h1.1M383.5 201.6h1.1M371.7 191.8h1.1M370.8 203.4h1.1M373.6 192.1h1.1M359.2 196.1h1.1M358.1 201.8h1.1M364.4 188.4h1.1M385.0 195.7h1.1M379.1 189.0h1.1M382.5 195.7h1.1M375.5 199.8h1.1M386.0 193.3h1.1M391.8 196.2h1.1M372.8 198.6h1.1M376.6 203.5h1.1M376.8 193.8h1.1M373.8 199.6h1.1M355.6 189.1h1.1M370.7 197.8h1.1M381.0 192.3h1.1M355.4 184.3h1.1M371.2 192.4h1.1M376.6 200.0h1.1M363.1 203.7h1.1M368.4 194.1h1.1M375.2 183.5h1.1M400.7 190.2h1.1M386.2 189.5h1.1M354.8 190.4h1.1M360.1 184.9h1.1M343.6 201.8h1.1M364.9 196.2h1.1M387.4 190.1h1.1M373.3 200.5h1.1M377.5 195.4h1.1M362.0 190.3h1.1M381.4 192.4h1.1M383.6 197.8h1.1M378.1 198.2h1.1M375.9 201.4h1.1M348.9 193.0h1.1M377.2 204.1h1.1M354.0 193.6h1.1M378.5 201.8h1.1M368.2 183.5h1.1M377.5 199.0h1.1M378.9 196.8h1.1M380.6 189.8h1.1M380.3 199.1h1.1M373.7 189.9h1.1M366.5 199.6h1.1M366.0 203.0h1.1M376.1 193.1h1.1M383.4 193.7h1.1M398.5 200.6h1.1M365.1 193.6h1.1M350.3 201.8h1.1M378.5 195.4h1.1M356.9 205.5h1.1M388.0 190.7h1.1M366.2 192.6h1.1M382.6 195.8h1.1M372.1 193.3h1.1M357.4 192.7h1.1M353.1 202.4h1.1M372.3 194.6h1.1M367.9 189.3h1.1M348.8 191.9h1.1M366.6 192.5h1.1M382.8 198.7h1.1M360.9 190.4h1.1M384.2 180.4h1.1M369.4 199.3h1.1M374.3 191.7h1.1M380.5 190.3h1.1M363.2 196.9h1.1M371.6 198.1h1.1M386.7 201.2h1.1M344.9 199.4h1.1M379.6 198.9h1.1M369.3 193.2h1.1M377.4 189.6h1.1M353.6 200.8h1.1M381.2 186.9h1.1M385.7 188.2h1.1M377.6 186.7h1.1M373.1 190.3h1.1M366.9 197.1h1.1M380.2 188.2h1.1M390.6 187.8h1.1M354.2 194.6h1.1M395.0 189.4h1.1M356.9 192.1h1.1M376.6 197.4h1.1M378.1 200.2h1.1M396.7 193.0h1.1M378.2 194.4h1.1M377.8 201.5h1.1M377.8 188.5h1.1M384.0 202.7h1.1M376.1 205.7h1.1M385.8 184.9h1.1M368.1 188.7h1.1M367.3 190.2h1.1M375.6 198.2h1.1M350.0 201.6h1.1M371.7 200.6h1.1M369.9 181.7h1.1M371.8 197.0h1.1M377.9 193.8h1.1M360.7 190.5h1.1M363.6 189.6h1.1M373.7 196.9h1.1M382.8 196.0h1.1M371.7 198.4h1.1M373.2 188.8h1.1M383.9 193.4h1.1M372.6 202.0h1.1M379.8 198.1h1.1M396.7 199.4h1.1M383.8 194.5h1.1M350.1 182.7h1.1M362.3 209.5h1.1M371.5 192.3h1.1M379.9 200.8h1.1M377.9 197.7h1.1M377.7 192.2h1.1M366.9 182.1h1.1M372.6 194.5h1.1M376.5 200.0h1.1M357.0 189.2h1.1M381.1 184.2h1.1M375.0 194.4h1.1M378.5 188.8h1.1M379.4 186.6h1.1M381.6 193.3h1.1M367.4 195.8h1.1M387.1 186.6h1.1M369.9 187.1h1.1M383.3 197.3h1.1M361.5 193.8h1.1M358.9 195.7h1.1M384.0 189.7h1.1M372.1 184.5h1.1M391.8 185.3h1.1M373.4 191.9h1.1M384.4 191.6h1.1M367.2 186.8h1.1M386.1 182.6h1.1M390.3 200.0h1.1M393.8 186.7h1.1M363.9 196.3h1.1M385.6 187.1h1.1M387.1 186.4h1.1M381.2 194.0h1.1M375.4 194.0h1.1M381.2 183.6h1.1M385.1 190.1h1.1M370.6 190.2h1.1M380.9 196.2h1.1M368.8 189.7h1.1M394.8 191.2h1.1M379.9 192.3h1.1M385.9 201.6h1.1M386.0 203.3h1.1M393.6 180.5h1.1M366.3 188.6h1.1M381.6 195.9h1.1M360.1 205.9h1.1M376.0 204.4h1.1M366.9 200.8h1.1M389.2 191.6h1.1M378.3 194.7h1.1M369.9 197.5h1.1M351.7 201.6h1.1M375.5 187.7h1.1M382.5 182.7h1.1M360.8 203.3h1.1M380.5 190.6h1.1M390.9 191.5h1.1M372.0 195.5h1.1M382.0 197.3h1.1M363.1 193.8h1.1M381.1 201.0h1.1M377.4 200.0h1.1M384.4 188.2h1.1M371.9 207.8h1.1M371.3 199.8h1.1M359.2 214.5h1.1M365.5 200.0h1.1M380.5 185.5h1.1M372.3 201.9h1.1M366.9 201.5h1.1M370.9 202.8h1.1M401.0 186.3h1.1M378.4 190.7h1.1M363.2 196.4h1.1M376.8 197.5h1.1M379.3 181.7h1.1M368.4 183.3h1.1M377.8 199.6h1.1M377.6 191.7h1.1M378.5 199.3h1.1M380.5 191.2h1.1M369.8 202.9h1.1M374.0 196.1h1.1M374.6 198.5h1.1M380.5 192.6h1.1M370.0 193.7h1.1M375.7 198.2h1.1M357.5 205.6h1.1M361.6 196.8h1.1M361.2 193.2h1.1M372.9 198.2h1.1M376.7 199.5h1.1M370.2 204.6h1.1M355.2 198.2h1.1M377.5 191.9h1.1M373.4 190.0h1.1M378.4 192.1h1.1M382.5 196.2h1.1M378.6 195.1h1.1M363.8 200.1h1.1M383.5 192.0h1.1M361.3 192.4h1.1M386.2 184.2h1.1M378.0 192.6h1.1M382.7 185.6h1.1M379.2 188.5h1.1M380.1 204.2h1.1M371.3 206.2h1.1M374.6 199.1h1.1M400.8 198.2h1.1M380.0 180.9h1.1M364.7 198.2h1.1M365.3 190.2h1.1M379.6 186.2h1.1M360.7 200.3h1.1M397.3 188.2h1.1M375.2 198.0h1.1M366.3 190.8h1.1M378.6 188.2h1.1M365.0 206.7h1.1M351.5 208.5h1.1M390.5 189.8h1.1M387.4 194.8h1.1M363.0 192.7h1.1M365.3 204.9h1.1M359.8 188.8h1.1M369.1 191.5h1.1M398.8 189.4h1.1M365.0 191.1h1.1M364.0 183.8h1.1M373.8 190.2h1.1M369.5 202.0h1.1M385.0 198.1h1.1M362.1 195.1h1.1M381.8 149.0h1.1M384.4 146.7h1.1M392.5 144.9h1.1M394.8 156.3h1.1M384.6 156.8h1.1M383.1 149.1h1.1M392.4 149.6h1.1M414.6 140.6h1.1M376.4 164.9h1.1M382.1 146.0h1.1M378.2 149.8h1.1M379.9 159.2h1.1M380.9 151.7h1.1M389.6 154.0h1.1M381.7 141.5h1.1M374.9 136.5h1.1M390.1 146.0h1.1M382.1 153.4h1.1M387.3 161.7h1.1M388.2 149.3h1.1M377.0 156.1h1.1M384.4 151.4h1.1M379.2 154.7h1.1M391.0 150.3h1.1M389.9 152.4h1.1M383.1 164.0h1.1M383.5 154.8h1.1M375.1 160.6h1.1M382.7 151.0h1.1M382.8 155.1h1.1M381.4 141.9h1.1M386.6 155.0h1.1M382.2 159.1h1.1M393.0 145.2h1.1M388.7 157.0h1.1M375.0 140.3h1.1M370.3 166.0h1.1M382.6 148.7h1.1M390.0 168.2h1.1M388.9 168.5h1.1M394.7 189.7h1.1M379.4 148.5h1.1M380.6 159.0h1.1M380.1 160.4h1.1M372.7 162.5h1.1M389.3 167.5h1.1M390.4 154.1h1.1M388.3 132.7h1.1M383.9 154.1h1.1M398.0 153.5h1.1M374.7 174.3h1.1M379.0 153.0h1.1M378.6 117.5h1.1M391.1 147.5h1.1M390.9 146.0h1.1M389.8 168.2h1.1M389.9 151.0h1.1M381.9 152.3h1.1M376.3 153.4h1.1M390.1 137.7h1.1"/>
<rect x="361.2" y="133.4" width="65.1" height="39.9" fill="none" stroke="#1a6ad8" stroke-width="1.80" />
<polygon points="341.2,203.3 362.6,180.5 396.9,178.5 404.6,198.5 387.5,217.9 358.4,222.7" fill="none" stroke="#1a6ad8" stroke-width="1.8"/>
<text x="284.0" y="164.0" font-size="37.0">15%</text>
<text x="282.5" y="257.0" font-size="37.0">80%</text>
<text x="483.0" y="78.0" font-size="37.0">B</text>
<line x1="605.0" y1="61.0" x2="605.0" y2="234.5" stroke="#000" stroke-width="2.00" />
<line x1="604.0" y1="234.5" x2="704.5" y2="234.5" stroke="#000" stroke-width="2.00" />
<line x1="600.0" y1="61.0" x2="605.0" y2="61.0" stroke="#000" stroke-width="2.00" />
<text x="599.5" y="76.0" font-size="36.0" text-anchor="end">100</text>
<line x1="600.0" y1="147.8" x2="605.0" y2="147.8" stroke="#000" stroke-width="2.00" />
<text x="599.5" y="158.5" font-size="36.0" text-anchor="end">50</text>
<line x1="600.0" y1="234.5" x2="605.0" y2="234.5" stroke="#000" stroke-width="2.00" />
<text x="599.5" y="234.5" font-size="36.0" text-anchor="end">0</text>
<text x="612.0" y="69.6" font-size="31.0" font-style="italic">P=0.0022</text>
<text x="542.0" y="158.0" font-size="37.0" text-anchor="middle" transform="rotate(-90.0 542.0 158.0)">macs %</text>
<circle cx="623.0" cy="208.8" r="3.6" fill="#ff2400"/>
<circle cx="630.6" cy="213.0" r="3.6" fill="#ff2400"/>
<circle cx="638.0" cy="203.4" r="3.6" fill="#ff2400"/>
<circle cx="644.5" cy="213.0" r="3.6" fill="#ff2400"/>
<circle cx="623.0" cy="217.3" r="3.6" fill="#ff2400"/>
<line x1="620.0" y1="211.6" x2="649.0" y2="211.6" stroke="#000" stroke-width="1.60" />
<circle cx="667.5" cy="83.0" r="3.6" fill="#0030ff"/>
<circle cx="673.0" cy="85.0" r="3.6" fill="#0030ff"/>
<circle cx="680.5" cy="79.5" r="3.6" fill="#0030ff"/>
<circle cx="684.0" cy="81.0" r="3.6" fill="#0030ff"/>
<circle cx="689.5" cy="83.5" r="3.6" fill="#0030ff"/>
<circle cx="673.5" cy="91.5" r="3.6" fill="#0030ff"/>
<circle cx="681.0" cy="90.0" r="3.6" fill="#0030ff"/>
<line x1="664.0" y1="83.0" x2="691.6" y2="83.0" stroke="#000" stroke-width="1.60" />
<text x="545.0" y="267.7" font-size="37.0" fill="#ff2400"><tspan>tdTomato</tspan><tspan dy="-7.40" font-size="24.4">+</tspan></text>
<text x="545.0" y="303.0" font-size="37.0" fill="#0030ff"><tspan>tdTomato</tspan><tspan dy="-7.40" font-size="24.4">-</tspan></text>
<text x="799.0" y="68.0" font-size="37.0">C</text>
<line x1="921.0" y1="59.0" x2="921.0" y2="233.5" stroke="#000" stroke-width="2.00" />
<line x1="920.0" y1="233.5" x2="1018.0" y2="233.5" stroke="#000" stroke-width="2.00" />
<line x1="916.0" y1="59.0" x2="921.0" y2="59.0" stroke="#000" stroke-width="2.00" />
<text x="914.5" y="74.6" font-size="36.0" text-anchor="end">100</text>
<line x1="916.0" y1="146.6" x2="921.0" y2="146.6" stroke="#000" stroke-width="2.00" />
<text x="914.5" y="155.8" font-size="36.0" text-anchor="end">50</text>
<line x1="916.0" y1="233.5" x2="921.0" y2="233.5" stroke="#000" stroke-width="2.00" />
<text x="914.5" y="233.0" font-size="36.0" text-anchor="end">0</text>
<text x="929.0" y="69.4" font-size="31.0" font-style="italic">P=0.0043</text>
<text x="791.0" y="171.0" font-size="37.0" text-anchor="middle" transform="rotate(-90.0 791.0 171.0)">chimera % in</text>
<text x="824.0" y="166.0" font-size="37.0" text-anchor="middle" transform="rotate(-90.0 824.0 166.0)">VAT mac</text>
<text x="857.0" y="170.0" font-size="37.0" text-anchor="middle" transform="rotate(-90.0 857.0 170.0)">subsets</text>
<circle cx="949.0" cy="92.9" r="4.6" fill="#ff2400"/>
<circle cx="949.0" cy="107.9" r="4.6" fill="#ff2400"/>
<circle cx="949.0" cy="120.4" r="4.6" fill="#ff2400"/>
<circle cx="958.2" cy="146.6" r="4.6" fill="#ff2400"/>
<circle cx="939.6" cy="152.6" r="4.6" fill="#ff2400"/>
<line x1="935.4" y1="123.8" x2="963.0" y2="123.8" stroke="#000" stroke-width="1.60" />
<circle cx="981.2" cy="217.8" r="4.6" fill="#0030ff"/>
<circle cx="990.4" cy="216.0" r="4.6" fill="#0030ff"/>
<circle cx="998.7" cy="219.4" r="4.6" fill="#0030ff"/>
<circle cx="981.2" cy="231.7" r="4.6" fill="#0030ff"/>
<circle cx="990.4" cy="227.7" r="4.6" fill="#0030ff"/>
<circle cx="998.7" cy="231.7" r="4.6" fill="#0030ff"/>
<line x1="976.8" y1="224.3" x2="1004.2" y2="224.3" stroke="#000" stroke-width="1.60" />
<text x="851.6" y="271.0" font-size="37.0" fill="#0030ff"><tspan>CX</tspan><tspan dy="3.70" font-size="24.4">3</tspan><tspan dy="-3.70">CR</tspan><tspan dy="3.70" font-size="24.4">1</tspan><tspan dy="-11.10" font-size="24.4">-</tspan><tspan dy="7.40"> CCR2</tspan><tspan dy="-7.40" font-size="24.4">-</tspan></text>
<text x="853.0" y="309.0" font-size="37.0" fill="#ff2400"><tspan>CX</tspan><tspan dy="3.70" font-size="24.4">3</tspan><tspan dy="-3.70">CR</tspan><tspan dy="3.70" font-size="24.4">1</tspan><tspan dy="-11.10" font-size="24.4">+</tspan><tspan dy="7.40"> CCR2</tspan><tspan dy="-7.40" font-size="24.4">+</tspan></text>
<text x="1155.0" y="68.0" font-size="37.0">D</text>
<rect x="1215.3" y="15.1" width="480.9" height="306.7" fill="#0000ff" />
<path fill="#0000ff" d="M1337.7 15.1h2.9v34.1h-2.9zM1363.2 15.1h1.0v34.1h-1.0zM1659.6 15.1h2.0v34.1h-2.0zM1670.8 15.1h2.1v34.1h-2.1zM1686.0 15.1h2.0v34.1h-2.0zM1337.8 49.2h2.5v34.1h-2.5zM1547.6 49.2h2.1v34.1h-2.1zM1638.5 49.2h1.8v34.1h-1.8zM1657.8 49.2h2.5v34.1h-2.5zM1664.6 49.2h1.3v34.1h-1.3zM1665.6 49.2h2.3v34.1h-2.3zM1667.7 49.2h2.4v34.1h-2.4zM1669.9 49.2h3.1v34.1h-3.1zM1683.9 49.2h1.9v34.1h-1.9zM1688.1 49.2h3.1v34.1h-3.1zM1339.8 83.3h1.5v34.1h-1.5zM1350.9 83.3h1.1v34.1h-1.1zM1536.1 83.3h2.4v34.1h-2.4zM1554.0 83.3h2.3v34.1h-2.3zM1556.0 83.3h1.4v34.1h-1.4zM1625.0 83.3h1.4v34.1h-1.4zM1640.8 83.3h2.6v34.1h-2.6zM1690.8 83.3h2.1v34.1h-2.1zM1218.6 117.3h2.3v102.2h-2.3zM1328.0 117.3h1.8v102.2h-1.8zM1337.2 117.3h1.5v102.2h-1.5zM1341.8 117.3h2.3v102.2h-2.3zM1351.4 117.3h0.8v102.2h-0.8zM1215.3 219.6h1.5v34.1h-1.5zM1216.5 219.6h2.8v34.1h-2.8zM1219.1 219.6h2.6v34.1h-2.6zM1225.5 219.6h2.6v34.1h-2.6zM1259.4 219.6h3.1v34.1h-3.1zM1268.6 219.6h2.2v34.1h-2.2zM1271.6 219.6h1.7v34.1h-1.7zM1281.9 219.6h1.9v34.1h-1.9zM1393.5 219.6h2.1v34.1h-2.1zM1423.0 219.6h2.9v34.1h-2.9zM1428.4 219.6h3.0v34.1h-3.0zM1441.5 219.6h2.3v34.1h-2.3zM1444.8 219.6h1.6v34.1h-1.6zM1446.2 219.6h2.3v34.1h-2.3zM1449.4 219.6h1.3v34.1h-1.3zM1457.4 219.6h2.0v34.1h-2.0zM1479.3 219.6h1.7v34.1h-1.7zM1483.7 219.6h1.8v34.1h-1.8zM1485.3 219.6h1.7v34.1h-1.7zM1486.7 219.6h2.5v34.1h-2.5zM1516.1 219.6h1.2v34.1h-1.2zM1532.9 219.6h1.1v34.1h-1.1zM1540.1 219.6h2.8v34.1h-2.8zM1545.3 219.6h1.2v34.1h-1.2zM1568.3 219.6h2.2v34.1h-2.2zM1570.3 219.6h1.8v34.1h-1.8zM1573.4 219.6h2.5v34.1h-2.5zM1591.6 219.6h1.4v34.1h-1.4zM1597.8 219.6h1.5v34.1h-1.5zM1604.0 219.6h1.6v34.1h-1.6zM1623.8 219.6h0.4v34.1h-0.4zM1225.2 253.6h1.3v34.1h-1.3zM1278.0 253.6h1.8v34.1h-1.8zM1288.0 253.6h2.3v34.1h-2.3zM1294.9 253.6h0.4v34.1h-0.4zM1365.4 253.6h1.5v34.1h-1.5zM1373.3 253.6h3.0v34.1h-3.0zM1387.5 253.6h1.6v34.1h-1.6zM1394.7 253.6h2.6v34.1h-2.6zM1416.9 253.6h1.2v34.1h-1.2zM1418.9 253.6h3.1v34.1h-3.1zM1422.9 253.6h3.1v34.1h-3.1zM1437.9 253.6h2.0v34.1h-2.0zM1461.0 253.6h3.2v34.1h-3.2zM1474.2 253.6h1.6v34.1h-1.6zM1476.4 253.6h1.3v34.1h-1.3zM1487.0 253.6h2.7v34.1h-2.7zM1489.4 253.6h1.6v34.1h-1.6zM1509.0 253.6h1.9v34.1h-1.9zM1251.6 287.7h2.5v34.1h-2.5zM1256.5 287.7h1.5v34.1h-1.5zM1261.6 287.7h2.6v34.1h-2.6zM1288.5 287.7h1.8v34.1h-1.8zM1382.8 287.7h2.5v34.1h-2.5zM1394.6 287.7h2.2v34.1h-2.2zM1396.6 287.7h1.9v34.1h-1.9zM1405.4 287.7h1.4v34.1h-1.4zM1424.9 287.7h1.4v34.1h-1.4zM1472.1 287.7h2.4v34.1h-2.4zM1562.7 287.7h3.1v34.1h-3.1zM1577.6 287.7h2.8v34.1h-2.8zM1585.2 287.7h1.3v34.1h-1.3z"/>
<path fill="#0a00f4" d="M1341.5 15.1h2.8v34.1h-2.8zM1351.0 15.1h1.2v34.1h-1.2zM1351.9 15.1h2.0v34.1h-2.0zM1355.5 15.1h2.6v34.1h-2.6zM1362.2 15.1h1.3v34.1h-1.3zM1593.3 15.1h2.1v34.1h-2.1zM1603.4 15.1h1.1v34.1h-1.1zM1633.6 15.1h1.6v34.1h-1.6zM1634.9 15.1h2.7v34.1h-2.7zM1654.2 15.1h3.1v34.1h-3.1zM1661.4 15.1h3.1v34.1h-3.1zM1674.5 15.1h1.7v34.1h-1.7zM1682.5 15.1h1.7v34.1h-1.7zM1688.8 15.1h1.6v34.1h-1.6zM1340.0 49.2h3.1v34.1h-3.1zM1342.9 49.2h1.8v34.1h-1.8zM1344.4 49.2h1.8v34.1h-1.8zM1535.0 49.2h2.6v34.1h-2.6zM1543.0 49.2h1.9v34.1h-1.9zM1551.4 49.2h3.1v34.1h-3.1zM1596.1 49.2h1.5v34.1h-1.5zM1602.5 49.2h2.9v34.1h-2.9zM1610.9 49.2h2.0v34.1h-2.0zM1612.6 49.2h2.1v34.1h-2.1zM1617.0 49.2h1.3v34.1h-1.3zM1619.1 49.2h2.2v34.1h-2.2zM1634.0 49.2h1.2v34.1h-1.2zM1637.2 49.2h1.5v34.1h-1.5zM1643.4 49.2h1.3v34.1h-1.3zM1651.7 49.2h2.3v34.1h-2.3zM1653.7 49.2h2.0v34.1h-2.0zM1660.0 49.2h1.1v34.1h-1.1zM1662.7 49.2h1.3v34.1h-1.3zM1663.8 49.2h1.1v34.1h-1.1zM1677.3 49.2h2.3v34.1h-2.3zM1681.1 49.2h3.0v34.1h-3.0zM1685.6 49.2h2.8v34.1h-2.8zM1691.0 49.2h2.4v34.1h-2.4zM1693.1 49.2h2.8v34.1h-2.8zM1346.0 83.3h2.2v34.1h-2.2zM1541.2 83.3h1.4v34.1h-1.4zM1557.2 83.3h2.1v34.1h-2.1zM1568.0 83.3h2.4v34.1h-2.4zM1577.5 83.3h1.9v34.1h-1.9zM1579.1 83.3h2.7v34.1h-2.7zM1583.3 83.3h2.9v34.1h-2.9zM1590.3 83.3h1.7v34.1h-1.7zM1629.4 83.3h1.3v34.1h-1.3zM1647.8 83.3h2.1v34.1h-2.1zM1649.6 83.3h2.3v34.1h-2.3zM1665.2 83.3h2.4v34.1h-2.4zM1667.3 83.3h3.0v34.1h-3.0zM1672.2 83.3h1.1v34.1h-1.1zM1224.7 117.3h1.9v102.2h-1.9zM1226.3 117.3h2.8v102.2h-2.8zM1338.4 117.3h2.4v102.2h-2.4zM1343.9 117.3h2.7v102.2h-2.7zM1229.8 219.6h1.7v34.1h-1.7zM1239.2 219.6h1.8v34.1h-1.8zM1247.5 219.6h2.4v34.1h-2.4zM1249.7 219.6h1.2v34.1h-1.2zM1256.2 219.6h1.1v34.1h-1.1zM1257.1 219.6h2.5v34.1h-2.5zM1264.1 219.6h1.7v34.1h-1.7zM1266.6 219.6h2.2v34.1h-2.2zM1270.5 219.6h1.3v34.1h-1.3zM1275.1 219.6h2.4v34.1h-2.4zM1278.4 219.6h2.4v34.1h-2.4zM1280.6 219.6h1.6v34.1h-1.6zM1285.1 219.6h1.6v34.1h-1.6zM1289.1 219.6h1.2v34.1h-1.2zM1366.8 219.6h2.7v34.1h-2.7zM1370.8 219.6h2.9v34.1h-2.9zM1377.7 219.6h1.3v34.1h-1.3zM1379.6 219.6h3.2v34.1h-3.2zM1385.0 219.6h2.4v34.1h-2.4zM1389.0 219.6h2.3v34.1h-2.3zM1395.4 219.6h1.7v34.1h-1.7zM1401.7 219.6h1.1v34.1h-1.1zM1402.6 219.6h2.1v34.1h-2.1zM1407.0 219.6h2.2v34.1h-2.2zM1408.9 219.6h1.9v34.1h-1.9zM1412.1 219.6h1.3v34.1h-1.3zM1415.2 219.6h3.2v34.1h-3.2zM1431.1 219.6h1.7v34.1h-1.7zM1432.6 219.6h1.5v34.1h-1.5zM1435.9 219.6h2.5v34.1h-2.5zM1438.1 219.6h2.8v34.1h-2.8zM1443.5 219.6h1.5v34.1h-1.5zM1452.4 219.6h1.2v34.1h-1.2zM1454.8 219.6h1.8v34.1h-1.8zM1467.7 219.6h2.8v34.1h-2.8zM1473.3 219.6h1.6v34.1h-1.6zM1480.8 219.6h2.2v34.1h-2.2zM1488.9 219.6h2.6v34.1h-2.6zM1491.3 219.6h2.9v34.1h-2.9zM1496.6 219.6h1.4v34.1h-1.4zM1499.4 219.6h2.2v34.1h-2.2zM1506.3 219.6h2.2v34.1h-2.2zM1510.0 219.6h2.3v34.1h-2.3zM1514.5 219.6h1.8v34.1h-1.8zM1522.1 219.6h1.7v34.1h-1.7zM1523.5 219.6h2.5v34.1h-2.5zM1533.8 219.6h1.5v34.1h-1.5zM1535.1 219.6h1.1v34.1h-1.1zM1537.2 219.6h1.6v34.1h-1.6zM1548.7 219.6h2.7v34.1h-2.7zM1558.2 219.6h2.0v34.1h-2.0zM1562.8 219.6h2.8v34.1h-2.8zM1571.9 219.6h1.7v34.1h-1.7zM1579.2 219.6h1.4v34.1h-1.4zM1580.3 219.6h2.8v34.1h-2.8zM1586.5 219.6h1.3v34.1h-1.3zM1587.6 219.6h1.5v34.1h-1.5zM1590.1 219.6h1.8v34.1h-1.8zM1596.7 219.6h1.3v34.1h-1.3zM1607.8 219.6h1.7v34.1h-1.7zM1616.1 219.6h1.8v34.1h-1.8zM1226.2 253.6h2.8v34.1h-2.8zM1253.6 253.6h1.6v34.1h-1.6zM1256.4 253.6h3.2v34.1h-3.2zM1272.9 253.6h1.9v34.1h-1.9zM1377.3 253.6h3.1v34.1h-3.1zM1384.2 253.6h2.0v34.1h-2.0zM1386.0 253.6h1.8v34.1h-1.8zM1391.7 253.6h3.2v34.1h-3.2zM1397.1 253.6h1.4v34.1h-1.4zM1407.4 253.6h3.2v34.1h-3.2zM1412.3 253.6h1.3v34.1h-1.3zM1413.4 253.6h2.5v34.1h-2.5zM1436.6 253.6h1.5v34.1h-1.5zM1444.7 253.6h3.0v34.1h-3.0zM1447.4 253.6h2.9v34.1h-2.9zM1451.9 253.6h2.4v34.1h-2.4zM1466.2 253.6h1.3v34.1h-1.3zM1471.9 253.6h2.6v34.1h-2.6zM1477.4 253.6h2.0v34.1h-2.0zM1480.3 253.6h2.2v34.1h-2.2zM1490.8 253.6h2.2v34.1h-2.2zM1492.7 253.6h1.8v34.1h-1.8zM1499.5 253.6h2.6v34.1h-2.6zM1506.2 253.6h3.1v34.1h-3.1zM1511.7 253.6h1.2v34.1h-1.2zM1514.1 253.6h3.2v34.1h-3.2zM1521.8 253.6h2.7v34.1h-2.7zM1528.1 253.6h2.2v34.1h-2.2zM1225.4 287.7h2.0v34.1h-2.0zM1229.8 287.7h1.5v34.1h-1.5zM1235.8 287.7h2.3v34.1h-2.3zM1266.3 287.7h1.7v34.1h-1.7zM1272.7 287.7h2.5v34.1h-2.5zM1365.4 287.7h3.1v34.1h-3.1zM1371.2 287.7h2.5v34.1h-2.5zM1373.4 287.7h2.0v34.1h-2.0zM1376.4 287.7h1.7v34.1h-1.7zM1378.9 287.7h2.1v34.1h-2.1zM1392.8 287.7h2.1v34.1h-2.1zM1421.6 287.7h1.2v34.1h-1.2zM1422.6 287.7h2.5v34.1h-2.5zM1453.3 287.7h1.6v34.1h-1.6zM1502.1 287.7h2.4v34.1h-2.4zM1513.7 287.7h2.7v34.1h-2.7zM1517.2 287.7h3.0v34.1h-3.0zM1520.0 287.7h2.3v34.1h-2.3zM1532.3 287.7h1.7v34.1h-1.7zM1537.1 287.7h1.2v34.1h-1.2zM1542.1 287.7h1.5v34.1h-1.5zM1543.4 287.7h1.3v34.1h-1.3zM1551.1 287.7h1.7v34.1h-1.7zM1552.6 287.7h2.1v34.1h-2.1zM1554.4 287.7h2.7v34.1h-2.7zM1556.9 287.7h3.1v34.1h-3.1zM1559.7 287.7h2.4v34.1h-2.4zM1565.6 287.7h1.2v34.1h-1.2zM1568.9 287.7h1.3v34.1h-1.3zM1572.8 287.7h2.6v34.1h-2.6zM1575.2 287.7h2.7v34.1h-2.7zM1580.2 287.7h3.0v34.1h-3.0zM1588.0 287.7h2.5v34.1h-2.5z"/>
<path fill="#1500e9" d="M1353.7 15.1h2.0v34.1h-2.0zM1359.8 15.1h2.7v34.1h-2.7zM1611.7 15.1h2.5v34.1h-2.5zM1628.3 15.1h2.1v34.1h-2.1zM1677.5 15.1h2.9v34.1h-2.9zM1544.6 49.2h1.5v34.1h-1.5zM1545.8 49.2h2.0v34.1h-2.0zM1585.0 49.2h1.5v34.1h-1.5zM1627.0 49.2h2.8v34.1h-2.8zM1636.1 49.2h1.4v34.1h-1.4zM1646.1 49.2h2.3v34.1h-2.3zM1649.1 49.2h2.8v34.1h-2.8zM1660.9 49.2h2.0v34.1h-2.0zM1695.7 49.2h0.7v34.1h-0.7zM1347.9 83.3h3.2v34.1h-3.2zM1542.3 83.3h1.8v34.1h-1.8zM1543.9 83.3h2.8v34.1h-2.8zM1550.8 83.3h1.5v34.1h-1.5zM1552.1 83.3h2.2v34.1h-2.2zM1560.9 83.3h2.9v34.1h-2.9zM1565.4 83.3h1.9v34.1h-1.9zM1567.0 83.3h1.2v34.1h-1.2zM1572.5 83.3h2.2v34.1h-2.2zM1575.3 83.3h2.4v34.1h-2.4zM1626.1 83.3h2.6v34.1h-2.6zM1637.0 83.3h2.6v34.1h-2.6zM1645.4 83.3h2.7v34.1h-2.7zM1675.1 83.3h3.0v34.1h-3.0zM1223.5 117.3h1.4v102.2h-1.4zM1332.2 117.3h1.5v102.2h-1.5zM1250.6 219.6h1.1v34.1h-1.1zM1262.2 219.6h2.2v34.1h-2.2zM1265.6 219.6h1.3v34.1h-1.3zM1273.1 219.6h2.3v34.1h-2.3zM1277.2 219.6h1.5v34.1h-1.5zM1287.9 219.6h1.4v34.1h-1.4zM1365.8 219.6h1.3v34.1h-1.3zM1369.2 219.6h1.8v34.1h-1.8zM1373.4 219.6h2.7v34.1h-2.7zM1378.8 219.6h1.1v34.1h-1.1zM1396.9 219.6h2.3v34.1h-2.3zM1400.5 219.6h1.5v34.1h-1.5zM1404.5 219.6h2.8v34.1h-2.8zM1413.1 219.6h2.3v34.1h-2.3zM1418.1 219.6h2.4v34.1h-2.4zM1420.3 219.6h1.8v34.1h-1.8zM1421.8 219.6h1.4v34.1h-1.4zM1433.8 219.6h2.4v34.1h-2.4zM1440.7 219.6h1.1v34.1h-1.1zM1450.4 219.6h2.2v34.1h-2.2zM1453.3 219.6h1.8v34.1h-1.8zM1456.4 219.6h1.3v34.1h-1.3zM1459.2 219.6h3.0v34.1h-3.0zM1463.7 219.6h1.6v34.1h-1.6zM1465.1 219.6h2.9v34.1h-2.9zM1470.3 219.6h3.2v34.1h-3.2zM1474.6 219.6h1.5v34.1h-1.5zM1477.7 219.6h1.8v34.1h-1.8zM1482.7 219.6h1.2v34.1h-1.2zM1502.4 219.6h1.6v34.1h-1.6zM1512.0 219.6h1.2v34.1h-1.2zM1518.1 219.6h1.7v34.1h-1.7zM1528.0 219.6h1.6v34.1h-1.6zM1529.3 219.6h1.4v34.1h-1.4zM1536.0 219.6h1.4v34.1h-1.4zM1538.5 219.6h1.8v34.1h-1.8zM1546.2 219.6h2.8v34.1h-2.8zM1555.6 219.6h2.9v34.1h-2.9zM1560.0 219.6h2.0v34.1h-2.0zM1575.7 219.6h2.2v34.1h-2.2zM1577.6 219.6h1.8v34.1h-1.8zM1582.9 219.6h1.4v34.1h-1.4zM1614.6 219.6h1.8v34.1h-1.8zM1219.1 253.6h2.8v34.1h-2.8zM1230.2 253.6h1.9v34.1h-1.9zM1235.8 253.6h1.1v34.1h-1.1zM1239.0 253.6h2.1v34.1h-2.1zM1255.0 253.6h1.6v34.1h-1.6zM1285.0 253.6h1.7v34.1h-1.7zM1371.2 253.6h2.4v34.1h-2.4zM1380.1 253.6h2.7v34.1h-2.7zM1398.2 253.6h1.2v34.1h-1.2zM1425.7 253.6h2.8v34.1h-2.8zM1428.2 253.6h2.1v34.1h-2.1zM1430.1 253.6h2.1v34.1h-2.1zM1433.0 253.6h1.2v34.1h-1.2zM1454.0 253.6h3.0v34.1h-3.0zM1458.3 253.6h2.9v34.1h-2.9zM1467.2 253.6h1.2v34.1h-1.2zM1494.3 253.6h2.5v34.1h-2.5zM1503.6 253.6h2.0v34.1h-2.0zM1531.4 253.6h2.1v34.1h-2.1zM1533.3 253.6h1.0v34.1h-1.0zM1246.2 287.7h1.5v34.1h-1.5zM1253.8 287.7h2.9v34.1h-2.9zM1263.9 287.7h2.6v34.1h-2.6zM1275.9 287.7h2.5v34.1h-2.5zM1368.2 287.7h3.2v34.1h-3.2zM1385.0 287.7h3.1v34.1h-3.1zM1390.6 287.7h1.4v34.1h-1.4zM1416.5 287.7h1.8v34.1h-1.8zM1435.8 287.7h1.8v34.1h-1.8zM1443.1 287.7h2.8v34.1h-2.8zM1448.2 287.7h1.7v34.1h-1.7zM1450.8 287.7h2.8v34.1h-2.8zM1455.9 287.7h2.6v34.1h-2.6zM1468.3 287.7h1.1v34.1h-1.1zM1470.8 287.7h1.5v34.1h-1.5zM1477.4 287.7h2.6v34.1h-2.6zM1479.7 287.7h1.5v34.1h-1.5zM1481.0 287.7h1.8v34.1h-1.8zM1486.4 287.7h3.2v34.1h-3.2zM1490.5 287.7h1.1v34.1h-1.1zM1494.1 287.7h2.9v34.1h-2.9zM1499.6 287.7h1.2v34.1h-1.2zM1506.6 287.7h3.2v34.1h-3.2zM1527.6 287.7h2.5v34.1h-2.5zM1540.9 287.7h1.5v34.1h-1.5zM1546.1 287.7h3.0v34.1h-3.0zM1566.6 287.7h2.5v34.1h-2.5zM1586.2 287.7h2.0v34.1h-2.0zM1590.2 287.7h2.0v34.1h-2.0z"/>
<path fill="#1f00df" d="M1625.1 15.1h1.3v34.1h-1.3zM1630.2 15.1h2.7v34.1h-2.7zM1694.3 15.1h2.2v34.1h-2.2zM1631.5 49.2h2.8v34.1h-2.8zM1634.9 49.2h1.4v34.1h-1.4zM1648.1 49.2h1.3v34.1h-1.3zM1655.5 49.2h1.2v34.1h-1.2zM1672.8 49.2h1.3v34.1h-1.3zM1673.8 49.2h3.0v34.1h-3.0zM1679.3 49.2h2.0v34.1h-2.0zM1570.2 83.3h2.6v34.1h-2.6zM1654.4 83.3h1.9v34.1h-1.9zM1656.1 83.3h3.1v34.1h-3.1zM1673.0 83.3h2.3v34.1h-2.3zM1346.3 117.3h1.2v102.2h-1.2zM1286.5 219.6h1.7v34.1h-1.7zM1375.9 219.6h2.1v34.1h-2.1zM1382.5 219.6h2.8v34.1h-2.8zM1387.2 219.6h2.1v34.1h-2.1zM1410.5 219.6h1.8v34.1h-1.8zM1448.2 219.6h1.4v34.1h-1.4zM1462.0 219.6h2.0v34.1h-2.0zM1475.9 219.6h2.1v34.1h-2.1zM1503.7 219.6h1.6v34.1h-1.6zM1525.7 219.6h2.5v34.1h-2.5zM1542.6 219.6h2.9v34.1h-2.9zM1552.8 219.6h1.2v34.1h-1.2zM1553.8 219.6h2.0v34.1h-2.0zM1584.0 219.6h2.7v34.1h-2.7zM1588.8 219.6h1.5v34.1h-1.5zM1599.0 219.6h3.1v34.1h-3.1zM1601.8 219.6h2.4v34.1h-2.4zM1605.3 219.6h2.8v34.1h-2.8zM1617.6 219.6h1.9v34.1h-1.9zM1364.0 253.6h1.6v34.1h-1.6zM1366.7 253.6h2.4v34.1h-2.4zM1368.8 253.6h2.7v34.1h-2.7zM1382.6 253.6h1.9v34.1h-1.9zM1401.3 253.6h2.5v34.1h-2.5zM1404.9 253.6h2.7v34.1h-2.7zM1417.9 253.6h1.2v34.1h-1.2zM1421.7 253.6h1.4v34.1h-1.4zM1439.6 253.6h2.7v34.1h-2.7zM1475.5 253.6h1.1v34.1h-1.1zM1482.2 253.6h2.1v34.1h-2.1zM1496.6 253.6h3.2v34.1h-3.2zM1501.9 253.6h2.0v34.1h-2.0zM1512.6 253.6h1.8v34.1h-1.8zM1517.0 253.6h2.9v34.1h-2.9zM1525.9 253.6h2.4v34.1h-2.4zM1248.5 287.7h1.4v34.1h-1.4zM1257.7 287.7h2.8v34.1h-2.8zM1380.7 287.7h1.3v34.1h-1.3zM1431.9 287.7h1.5v34.1h-1.5zM1440.7 287.7h2.7v34.1h-2.7zM1458.3 287.7h2.8v34.1h-2.8zM1467.5 287.7h1.1v34.1h-1.1zM1469.1 287.7h2.0v34.1h-2.0zM1504.3 287.7h2.5v34.1h-2.5zM1516.1 287.7h1.4v34.1h-1.4zM1525.9 287.7h2.0v34.1h-2.0zM1529.9 287.7h2.6v34.1h-2.6zM1561.9 287.7h1.1v34.1h-1.1zM1569.9 287.7h3.2v34.1h-3.2z"/>
<path fill="#2a00d4" d="M1637.3 15.1h3.2v34.1h-3.2zM1629.6 49.2h2.1v34.1h-2.1zM1676.5 49.2h1.1v34.1h-1.1zM1535.0 83.3h1.4v34.1h-1.4zM1563.6 83.3h2.1v34.1h-2.1zM1585.9 83.3h1.6v34.1h-1.6zM1591.8 83.3h0.5v34.1h-0.5zM1628.4 83.3h1.2v34.1h-1.2zM1652.8 83.3h1.8v34.1h-1.8zM1658.9 83.3h1.2v34.1h-1.2zM1659.9 83.3h2.6v34.1h-2.6zM1677.8 83.3h2.8v34.1h-2.8zM1680.4 83.3h2.9v34.1h-2.9zM1683.1 83.3h2.6v34.1h-2.6zM1688.6 83.3h2.4v34.1h-2.4zM1692.6 83.3h2.7v34.1h-2.7zM1216.6 117.3h2.2v102.2h-2.2zM1283.6 219.6h1.8v34.1h-1.8zM1391.0 219.6h2.8v34.1h-2.8zM1493.9 219.6h2.9v34.1h-2.9zM1497.7 219.6h1.9v34.1h-1.9zM1505.1 219.6h1.5v34.1h-1.5zM1508.3 219.6h1.9v34.1h-1.9zM1517.1 219.6h1.3v34.1h-1.3zM1519.6 219.6h2.8v34.1h-2.8zM1551.2 219.6h1.9v34.1h-1.9zM1565.4 219.6h3.2v34.1h-3.2zM1592.7 219.6h3.2v34.1h-3.2zM1609.3 219.6h2.9v34.1h-2.9zM1619.2 219.6h2.3v34.1h-2.3zM1261.9 253.6h2.8v34.1h-2.8zM1264.4 253.6h1.7v34.1h-1.7zM1268.5 253.6h2.7v34.1h-2.7zM1271.0 253.6h2.2v34.1h-2.2zM1286.5 253.6h1.8v34.1h-1.8zM1290.1 253.6h2.3v34.1h-2.3zM1388.9 253.6h3.1v34.1h-3.1zM1399.2 253.6h2.3v34.1h-2.3zM1442.1 253.6h1.7v34.1h-1.7zM1465.1 253.6h1.4v34.1h-1.4zM1468.2 253.6h2.6v34.1h-2.6zM1470.6 253.6h1.6v34.1h-1.6zM1484.1 253.6h3.2v34.1h-3.2zM1505.3 253.6h1.1v34.1h-1.1zM1510.6 253.6h1.3v34.1h-1.3zM1519.7 253.6h2.4v34.1h-2.4zM1249.7 287.7h2.1v34.1h-2.1zM1278.2 287.7h1.3v34.1h-1.3zM1279.3 287.7h3.2v34.1h-3.2zM1375.2 287.7h1.4v34.1h-1.4zM1381.7 287.7h1.3v34.1h-1.3zM1391.8 287.7h1.3v34.1h-1.3zM1398.2 287.7h1.6v34.1h-1.6zM1415.6 287.7h1.1v34.1h-1.1zM1427.5 287.7h2.1v34.1h-2.1zM1429.4 287.7h2.8v34.1h-2.8zM1449.7 287.7h1.3v34.1h-1.3zM1460.8 287.7h3.1v34.1h-3.1zM1482.6 287.7h2.4v34.1h-2.4zM1489.3 287.7h1.4v34.1h-1.4zM1491.3 287.7h2.1v34.1h-2.1zM1509.6 287.7h2.6v34.1h-2.6zM1522.0 287.7h2.7v34.1h-2.7zM1533.7 287.7h0.5v34.1h-0.5zM1534.0 287.7h2.2v34.1h-2.2zM1535.9 287.7h1.4v34.1h-1.4zM1538.0 287.7h3.2v34.1h-3.2zM1544.4 287.7h1.9v34.1h-1.9zM1548.9 287.7h2.5v34.1h-2.5z"/>
<path fill="#3500c9" d="M1626.1 15.1h2.4v34.1h-2.4zM1632.6 15.1h1.2v34.1h-1.2zM1647.6 15.1h1.6v34.1h-1.6zM1649.0 15.1h2.6v34.1h-2.6zM1665.4 15.1h2.9v34.1h-2.9zM1680.1 15.1h2.6v34.1h-2.6zM1687.8 15.1h1.3v34.1h-1.3zM1538.8 49.2h1.7v34.1h-1.7zM1586.2 49.2h3.2v34.1h-3.2zM1641.1 49.2h2.5v34.1h-2.5zM1630.5 83.3h1.6v34.1h-1.6zM1631.8 83.3h2.8v34.1h-2.8zM1670.1 83.3h2.4v34.1h-2.4zM1685.4 83.3h2.3v34.1h-2.3zM1695.1 83.3h1.4v34.1h-1.4zM1220.7 117.3h1.4v102.2h-1.4zM1348.7 117.3h1.1v102.2h-1.1zM1245.1 219.6h1.2v34.1h-1.2zM1251.5 219.6h2.8v34.1h-2.8zM1364.0 219.6h2.0v34.1h-2.0zM1399.0 219.6h1.8v34.1h-1.8zM1425.6 219.6h3.0v34.1h-3.0zM1513.0 219.6h1.8v34.1h-1.8zM1530.5 219.6h2.7v34.1h-2.7zM1561.7 219.6h1.3v34.1h-1.3zM1595.7 219.6h1.2v34.1h-1.2zM1611.9 219.6h2.9v34.1h-2.9zM1247.5 253.6h2.3v34.1h-2.3zM1249.6 253.6h2.3v34.1h-2.3zM1252.5 253.6h1.4v34.1h-1.4zM1259.4 253.6h2.7v34.1h-2.7zM1265.8 253.6h3.0v34.1h-3.0zM1276.1 253.6h2.1v34.1h-2.1zM1282.3 253.6h2.0v34.1h-2.0zM1376.1 253.6h1.5v34.1h-1.5zM1403.5 253.6h1.6v34.1h-1.6zM1410.3 253.6h2.2v34.1h-2.2zM1432.0 253.6h1.3v34.1h-1.3zM1433.9 253.6h1.2v34.1h-1.2zM1434.9 253.6h2.0v34.1h-2.0zM1443.5 253.6h1.4v34.1h-1.4zM1450.0 253.6h2.1v34.1h-2.1zM1456.7 253.6h1.8v34.1h-1.8zM1524.2 253.6h1.9v34.1h-1.9zM1530.1 253.6h1.6v34.1h-1.6zM1694.6 253.6h1.8v34.1h-1.8zM1271.9 287.7h1.1v34.1h-1.1zM1274.9 287.7h1.3v34.1h-1.3zM1282.3 287.7h1.8v34.1h-1.8zM1364.0 287.7h1.6v34.1h-1.6zM1377.8 287.7h1.3v34.1h-1.3zM1387.9 287.7h3.0v34.1h-3.0zM1401.5 287.7h2.1v34.1h-2.1zM1403.3 287.7h2.3v34.1h-2.3zM1409.6 287.7h1.6v34.1h-1.6zM1411.0 287.7h2.8v34.1h-2.8zM1413.5 287.7h2.4v34.1h-2.4zM1419.9 287.7h2.0v34.1h-2.0zM1437.3 287.7h2.5v34.1h-2.5zM1445.7 287.7h2.8v34.1h-2.8zM1463.7 287.7h2.5v34.1h-2.5zM1465.9 287.7h1.8v34.1h-1.8zM1474.3 287.7h1.6v34.1h-1.6zM1475.7 287.7h2.0v34.1h-2.0zM1493.1 287.7h1.3v34.1h-1.3zM1500.5 287.7h1.8v34.1h-1.8zM1582.9 287.7h2.5v34.1h-2.5zM1693.6 287.7h1.4v34.1h-1.4z"/>
<path fill="#3f00bf" d="M1464.6 15.1h1.9v34.1h-1.9zM1624.0 15.1h1.3v34.1h-1.3zM1640.3 15.1h2.6v34.1h-2.6zM1642.6 15.1h2.4v34.1h-2.4zM1644.7 15.1h1.6v34.1h-1.6zM1646.1 15.1h1.7v34.1h-1.7zM1664.3 15.1h1.4v34.1h-1.4zM1668.0 15.1h3.0v34.1h-3.0zM1691.4 15.1h3.2v34.1h-3.2zM1383.3 49.2h1.6v34.1h-1.6zM1624.0 49.2h3.2v34.1h-3.2zM1640.0 49.2h1.4v34.1h-1.4zM1644.5 49.2h1.8v34.1h-1.8zM1656.4 49.2h1.6v34.1h-1.6zM1370.0 83.3h2.1v34.1h-2.1zM1385.3 83.3h1.2v34.1h-1.2zM1538.3 83.3h3.1v34.1h-3.1zM1639.4 83.3h1.6v34.1h-1.6zM1643.1 83.3h2.5v34.1h-2.5zM1651.7 83.3h1.4v34.1h-1.4zM1687.4 83.3h1.5v34.1h-1.5zM1340.5 117.3h1.5v102.2h-1.5zM1254.0 219.6h2.4v34.1h-2.4zM1501.3 219.6h1.3v34.1h-1.3zM1621.2 219.6h2.9v34.1h-2.9zM1643.1 219.6h1.2v34.1h-1.2zM1233.8 253.6h1.1v34.1h-1.1zM1251.6 253.6h1.1v34.1h-1.1zM1279.5 253.6h3.0v34.1h-3.0zM1284.0 253.6h1.2v34.1h-1.2zM1293.9 253.6h1.2v34.1h-1.2zM1415.6 253.6h1.6v34.1h-1.6zM1464.0 253.6h1.3v34.1h-1.3zM1479.2 253.6h1.4v34.1h-1.4zM1247.5 287.7h1.2v34.1h-1.2zM1260.3 287.7h1.6v34.1h-1.6zM1285.8 287.7h3.0v34.1h-3.0zM1406.5 287.7h1.9v34.1h-1.9zM1408.2 287.7h1.7v34.1h-1.7zM1426.0 287.7h1.8v34.1h-1.8zM1433.1 287.7h2.9v34.1h-2.9zM1454.6 287.7h1.6v34.1h-1.6zM1484.7 287.7h1.9v34.1h-1.9zM1496.8 287.7h3.0v34.1h-3.0zM1511.9 287.7h2.0v34.1h-2.0zM1524.5 287.7h1.7v34.1h-1.7z"/>
<path fill="#4a00b4" d="M1357.8 15.1h2.2v34.1h-2.2zM1364.0 15.1h2.5v34.1h-2.5zM1367.8 15.1h2.4v34.1h-2.4zM1444.5 15.1h2.6v34.1h-2.6zM1472.9 15.1h2.5v34.1h-2.5zM1651.3 15.1h2.1v34.1h-2.1zM1653.1 15.1h1.3v34.1h-1.3zM1388.2 49.2h2.1v34.1h-2.1zM1412.6 49.2h2.1v34.1h-2.1zM1468.9 49.2h2.7v34.1h-2.7zM1471.4 49.2h1.1v34.1h-1.1zM1490.8 49.2h1.2v34.1h-1.2zM1495.2 49.2h2.9v34.1h-2.9zM1537.3 49.2h1.7v34.1h-1.7zM1554.2 49.2h1.0v34.1h-1.0zM1589.2 49.2h1.2v34.1h-1.2zM1342.0 83.3h2.9v34.1h-2.9zM1344.6 83.3h1.6v34.1h-1.6zM1367.8 83.3h2.4v34.1h-2.4zM1371.8 83.3h2.6v34.1h-2.6zM1382.8 83.3h1.2v34.1h-1.2zM1390.1 83.3h2.9v34.1h-2.9zM1392.8 83.3h2.4v34.1h-2.4zM1421.4 83.3h2.4v34.1h-2.4zM1430.9 83.3h1.6v34.1h-1.6zM1439.6 83.3h1.3v34.1h-1.3zM1461.6 83.3h1.4v34.1h-1.4zM1472.5 83.3h2.5v34.1h-2.5zM1546.4 83.3h2.4v34.1h-2.4zM1548.6 83.3h2.5v34.1h-2.5zM1581.6 83.3h2.0v34.1h-2.0zM1587.3 83.3h3.2v34.1h-3.2zM1634.4 83.3h2.9v34.1h-2.9zM1662.2 83.3h3.2v34.1h-3.2zM1230.4 117.3h2.9v102.2h-2.9zM1349.6 117.3h2.1v102.2h-2.1zM1232.3 219.6h2.3v34.1h-2.3zM1240.7 219.6h2.0v34.1h-2.0zM1650.7 219.6h2.4v34.1h-2.4zM1676.4 219.6h1.3v34.1h-1.3zM1687.1 219.6h2.0v34.1h-2.0zM1274.6 253.6h1.8v34.1h-1.8zM1292.2 253.6h2.0v34.1h-2.0zM1215.3 287.7h2.8v34.1h-2.8zM1267.7 287.7h1.8v34.1h-1.8zM1270.7 287.7h1.4v34.1h-1.4zM1283.9 287.7h2.1v34.1h-2.1zM1399.6 287.7h2.2v34.1h-2.2zM1418.0 287.7h2.1v34.1h-2.1zM1439.6 287.7h1.3v34.1h-1.3zM1631.8 287.7h2.5v34.1h-2.5zM1648.3 287.7h1.2v34.1h-1.2zM1685.8 287.7h1.2v34.1h-1.2z"/>
<path fill="#5500aa" d="M1375.0 15.1h3.2v34.1h-3.2zM1383.6 15.1h3.0v34.1h-3.0zM1401.0 15.1h2.6v34.1h-2.6zM1438.7 15.1h2.7v34.1h-2.7zM1452.7 15.1h3.0v34.1h-3.0zM1460.3 15.1h2.1v34.1h-2.1zM1482.2 15.1h1.5v34.1h-1.5zM1486.7 15.1h3.1v34.1h-3.1zM1492.3 15.1h3.1v34.1h-3.1zM1499.0 15.1h2.3v34.1h-2.3zM1507.5 15.1h2.7v34.1h-2.7zM1511.9 15.1h2.6v34.1h-2.6zM1604.3 15.1h1.6v34.1h-1.6zM1616.7 15.1h1.4v34.1h-1.4zM1619.7 15.1h2.3v34.1h-2.3zM1672.6 15.1h2.1v34.1h-2.1zM1676.0 15.1h1.7v34.1h-1.7zM1375.9 49.2h2.0v34.1h-2.0zM1381.0 49.2h1.3v34.1h-1.3zM1382.0 49.2h1.5v34.1h-1.5zM1390.8 49.2h2.9v34.1h-2.9zM1399.5 49.2h2.3v34.1h-2.3zM1410.7 49.2h2.1v34.1h-2.1zM1415.7 49.2h1.1v34.1h-1.1zM1421.7 49.2h1.1v34.1h-1.1zM1429.0 49.2h3.1v34.1h-3.1zM1431.9 49.2h1.5v34.1h-1.5zM1440.3 49.2h3.2v34.1h-3.2zM1455.4 49.2h3.1v34.1h-3.1zM1467.5 49.2h1.7v34.1h-1.7zM1516.3 49.2h2.3v34.1h-2.3zM1540.3 49.2h3.0v34.1h-3.0zM1549.4 49.2h2.3v34.1h-2.3zM1622.0 49.2h1.2v34.1h-1.2zM1337.3 83.3h2.7v34.1h-2.7zM1366.4 83.3h1.6v34.1h-1.6zM1380.5 83.3h2.6v34.1h-2.6zM1396.0 83.3h1.8v34.1h-1.8zM1402.9 83.3h1.1v34.1h-1.1zM1403.8 83.3h2.0v34.1h-2.0zM1410.2 83.3h1.1v34.1h-1.1zM1415.4 83.3h1.5v34.1h-1.5zM1419.4 83.3h1.3v34.1h-1.3zM1420.4 83.3h1.2v34.1h-1.2zM1429.2 83.3h1.9v34.1h-1.9zM1459.5 83.3h2.4v34.1h-2.4zM1465.6 83.3h2.3v34.1h-2.3zM1478.7 83.3h2.4v34.1h-2.4zM1559.0 83.3h2.1v34.1h-2.1zM1228.8 117.3h1.8v102.2h-1.8zM1329.5 117.3h2.9v102.2h-2.9zM1333.4 117.3h1.5v102.2h-1.5zM1334.7 117.3h2.7v102.2h-2.7zM1221.4 219.6h2.4v34.1h-2.4zM1235.5 219.6h2.0v34.1h-2.0zM1246.0 219.6h1.8v34.1h-1.8zM1624.0 219.6h1.7v34.1h-1.7zM1631.1 219.6h2.9v34.1h-2.9zM1636.0 219.6h2.0v34.1h-2.0zM1640.3 219.6h1.4v34.1h-1.4zM1646.9 219.6h3.2v34.1h-3.2zM1649.8 219.6h1.2v34.1h-1.2zM1652.9 219.6h2.1v34.1h-2.1zM1659.2 219.6h2.3v34.1h-2.3zM1666.4 219.6h1.3v34.1h-1.3zM1667.4 219.6h1.6v34.1h-1.6zM1679.9 219.6h1.4v34.1h-1.4zM1684.0 219.6h1.9v34.1h-1.9zM1688.8 219.6h2.3v34.1h-2.3zM1693.6 219.6h2.7v34.1h-2.7zM1696.1 219.6h0.4v34.1h-0.4zM1228.8 253.6h1.7v34.1h-1.7zM1236.7 253.6h2.5v34.1h-2.5zM1632.7 253.6h1.1v34.1h-1.1zM1662.3 253.6h1.8v34.1h-1.8zM1682.6 253.6h2.7v34.1h-2.7zM1685.1 253.6h1.1v34.1h-1.1zM1692.8 253.6h2.1v34.1h-2.1zM1232.7 287.7h2.1v34.1h-2.1zM1242.6 287.7h2.1v34.1h-2.1zM1269.2 287.7h1.8v34.1h-1.8zM1635.1 287.7h1.7v34.1h-1.7zM1642.2 287.7h2.6v34.1h-2.6zM1659.1 287.7h2.4v34.1h-2.4zM1676.3 287.7h1.5v34.1h-1.5zM1678.7 287.7h1.5v34.1h-1.5zM1687.6 287.7h1.6v34.1h-1.6zM1692.6 287.7h1.3v34.1h-1.3z"/>
<path fill="#5f009f" d="M1366.3 15.1h1.7v34.1h-1.7zM1372.7 15.1h2.5v34.1h-2.5zM1382.3 15.1h1.6v34.1h-1.6zM1389.1 15.1h3.0v34.1h-3.0zM1397.5 15.1h1.6v34.1h-1.6zM1403.3 15.1h1.2v34.1h-1.2zM1406.7 15.1h1.9v34.1h-1.9zM1430.4 15.1h1.9v34.1h-1.9zM1434.5 15.1h1.5v34.1h-1.5zM1483.5 15.1h1.7v34.1h-1.7zM1497.1 15.1h2.1v34.1h-2.1zM1607.9 15.1h3.0v34.1h-3.0zM1657.0 15.1h2.9v34.1h-2.9zM1683.9 15.1h2.3v34.1h-2.3zM1690.1 15.1h1.5v34.1h-1.5zM1364.0 49.2h1.7v34.1h-1.7zM1377.6 49.2h2.2v34.1h-2.2zM1387.3 49.2h1.1v34.1h-1.1zM1404.1 49.2h1.7v34.1h-1.7zM1405.5 49.2h1.6v34.1h-1.6zM1406.9 49.2h1.2v34.1h-1.2zM1414.4 49.2h1.6v34.1h-1.6zM1437.7 49.2h1.2v34.1h-1.2zM1444.8 49.2h1.1v34.1h-1.1zM1445.7 49.2h1.9v34.1h-1.9zM1450.9 49.2h2.9v34.1h-2.9zM1464.0 49.2h1.6v34.1h-1.6zM1465.4 49.2h2.4v34.1h-2.4zM1474.1 49.2h1.6v34.1h-1.6zM1479.8 49.2h2.8v34.1h-2.8zM1484.8 49.2h1.2v34.1h-1.2zM1487.8 49.2h3.2v34.1h-3.2zM1493.5 49.2h2.0v34.1h-2.0zM1497.9 49.2h1.3v34.1h-1.3zM1512.2 49.2h3.1v34.1h-3.1zM1528.5 49.2h1.5v34.1h-1.5zM1531.0 49.2h1.5v34.1h-1.5zM1532.2 49.2h1.3v34.1h-1.3zM1607.1 49.2h1.7v34.1h-1.7zM1334.0 83.3h2.8v34.1h-2.8zM1378.6 83.3h1.3v34.1h-1.3zM1395.0 83.3h1.3v34.1h-1.3zM1397.5 83.3h1.1v34.1h-1.1zM1407.5 83.3h2.9v34.1h-2.9zM1413.5 83.3h2.1v34.1h-2.1zM1417.9 83.3h1.7v34.1h-1.7zM1425.2 83.3h3.0v34.1h-3.0zM1432.2 83.3h2.7v34.1h-2.7zM1438.5 83.3h1.4v34.1h-1.4zM1445.8 83.3h1.4v34.1h-1.4zM1450.4 83.3h1.3v34.1h-1.3zM1452.5 83.3h2.7v34.1h-2.7zM1457.8 83.3h1.9v34.1h-1.9zM1608.0 83.3h2.5v34.1h-2.5zM1221.9 117.3h1.9v102.2h-1.9zM1347.2 117.3h1.8v102.2h-1.8zM1231.2 219.6h1.4v34.1h-1.4zM1654.7 219.6h1.7v34.1h-1.7zM1656.2 219.6h1.5v34.1h-1.5zM1657.4 219.6h2.0v34.1h-2.0zM1661.3 219.6h2.2v34.1h-2.2zM1663.2 219.6h1.4v34.1h-1.4zM1668.8 219.6h2.3v34.1h-2.3zM1673.7 219.6h2.9v34.1h-2.9zM1685.6 219.6h1.7v34.1h-1.7zM1690.9 219.6h3.0v34.1h-3.0zM1637.6 253.6h1.8v34.1h-1.8zM1640.2 253.6h3.2v34.1h-3.2zM1645.7 253.6h1.4v34.1h-1.4zM1660.8 253.6h1.7v34.1h-1.7zM1676.2 253.6h2.1v34.1h-2.1zM1231.1 287.7h1.9v34.1h-1.9zM1237.8 287.7h2.2v34.1h-2.2zM1629.0 287.7h3.0v34.1h-3.0zM1634.0 287.7h1.3v34.1h-1.3zM1636.5 287.7h2.4v34.1h-2.4zM1649.2 287.7h1.1v34.1h-1.1zM1650.1 287.7h1.3v34.1h-1.3zM1651.1 287.7h1.8v34.1h-1.8zM1661.3 287.7h2.2v34.1h-2.2zM1667.5 287.7h3.2v34.1h-3.2zM1672.2 287.7h2.6v34.1h-2.6zM1677.5 287.7h1.5v34.1h-1.5zM1680.0 287.7h3.2v34.1h-3.2zM1682.9 287.7h3.1v34.1h-3.1zM1686.7 287.7h1.1v34.1h-1.1z"/>
<path fill="#6a0094" d="M1378.0 15.1h1.7v34.1h-1.7zM1379.4 15.1h2.1v34.1h-2.1zM1381.2 15.1h1.3v34.1h-1.3zM1394.5 15.1h1.4v34.1h-1.4zM1410.6 15.1h1.4v34.1h-1.4zM1411.7 15.1h1.2v34.1h-1.2zM1419.6 15.1h2.1v34.1h-2.1zM1421.5 15.1h1.3v34.1h-1.3zM1427.4 15.1h3.2v34.1h-3.2zM1432.0 15.1h2.7v34.1h-2.7zM1441.2 15.1h2.2v34.1h-2.2zM1443.1 15.1h1.7v34.1h-1.7zM1449.8 15.1h1.9v34.1h-1.9zM1455.4 15.1h2.8v34.1h-2.8zM1466.3 15.1h3.1v34.1h-3.1zM1477.2 15.1h2.5v34.1h-2.5zM1485.0 15.1h2.0v34.1h-2.0zM1495.1 15.1h1.1v34.1h-1.1zM1495.9 15.1h1.5v34.1h-1.5zM1501.0 15.1h2.8v34.1h-2.8zM1503.5 15.1h2.3v34.1h-2.3zM1514.2 15.1h3.1v34.1h-3.1zM1517.0 15.1h3.0v34.1h-3.0zM1522.7 15.1h1.4v34.1h-1.4zM1523.8 15.1h1.6v34.1h-1.6zM1527.4 15.1h2.6v34.1h-2.6zM1530.8 15.1h3.1v34.1h-3.1zM1592.0 15.1h1.6v34.1h-1.6zM1365.5 49.2h1.4v34.1h-1.4zM1366.6 49.2h3.0v34.1h-3.0zM1373.5 49.2h1.3v34.1h-1.3zM1379.5 49.2h1.7v34.1h-1.7zM1397.1 49.2h2.6v34.1h-2.6zM1407.8 49.2h2.3v34.1h-2.3zM1416.6 49.2h2.5v34.1h-2.5zM1427.7 49.2h1.6v34.1h-1.6zM1436.0 49.2h1.9v34.1h-1.9zM1447.3 49.2h1.1v34.1h-1.1zM1453.5 49.2h2.1v34.1h-2.1zM1459.1 49.2h2.8v34.1h-2.8zM1461.7 49.2h1.2v34.1h-1.2zM1483.8 49.2h1.2v34.1h-1.2zM1491.7 49.2h2.0v34.1h-2.0zM1500.6 49.2h1.5v34.1h-1.5zM1501.8 49.2h3.0v34.1h-3.0zM1506.1 49.2h1.6v34.1h-1.6zM1515.0 49.2h1.5v34.1h-1.5zM1524.8 49.2h1.9v34.1h-1.9zM1533.3 49.2h2.0v34.1h-2.0zM1605.1 49.2h2.3v34.1h-2.3zM1608.6 49.2h2.5v34.1h-2.5zM1364.0 83.3h2.7v34.1h-2.7zM1374.1 83.3h2.3v34.1h-2.3zM1379.6 83.3h1.1v34.1h-1.1zM1383.7 83.3h1.8v34.1h-1.8zM1386.3 83.3h3.1v34.1h-3.1zM1389.1 83.3h1.3v34.1h-1.3zM1400.0 83.3h3.2v34.1h-3.2zM1423.6 83.3h1.9v34.1h-1.9zM1440.7 83.3h3.0v34.1h-3.0zM1443.5 83.3h2.6v34.1h-2.6zM1447.0 83.3h2.2v34.1h-2.2zM1454.9 83.3h1.5v34.1h-1.5zM1456.1 83.3h1.9v34.1h-1.9zM1462.8 83.3h3.0v34.1h-3.0zM1467.6 83.3h2.6v34.1h-2.6zM1470.0 83.3h2.8v34.1h-2.8zM1474.7 83.3h1.7v34.1h-1.7zM1476.2 83.3h2.8v34.1h-2.8zM1480.9 83.3h2.3v34.1h-2.3zM1497.6 83.3h2.0v34.1h-2.0zM1499.3 83.3h1.5v34.1h-1.5zM1512.7 83.3h2.1v34.1h-2.1zM1615.8 83.3h1.2v34.1h-1.2zM1620.4 83.3h1.1v34.1h-1.1zM1262.9 117.3h3.2v102.2h-3.2zM1273.4 117.3h1.1v102.2h-1.1zM1278.0 117.3h3.2v102.2h-3.2zM1353.6 117.3h1.1v102.2h-1.1zM1234.3 219.6h1.4v34.1h-1.4zM1242.5 219.6h2.8v34.1h-2.8zM1625.5 219.6h1.2v34.1h-1.2zM1626.4 219.6h3.2v34.1h-3.2zM1629.4 219.6h1.1v34.1h-1.1zM1633.7 219.6h2.5v34.1h-2.5zM1637.7 219.6h2.9v34.1h-2.9zM1641.5 219.6h1.8v34.1h-1.8zM1644.1 219.6h3.0v34.1h-3.0zM1664.4 219.6h2.3v34.1h-2.3zM1670.9 219.6h2.2v34.1h-2.2zM1672.8 219.6h1.2v34.1h-1.2zM1677.5 219.6h2.6v34.1h-2.6zM1681.1 219.6h2.3v34.1h-2.3zM1240.8 253.6h1.9v34.1h-1.9zM1242.5 253.6h1.8v34.1h-1.8zM1655.3 253.6h2.0v34.1h-2.0zM1674.1 253.6h2.4v34.1h-2.4zM1686.0 253.6h2.7v34.1h-2.7zM1689.7 253.6h1.2v34.1h-1.2zM1690.7 253.6h2.3v34.1h-2.3zM1239.8 287.7h1.7v34.1h-1.7zM1639.9 287.7h2.5v34.1h-2.5zM1647.2 287.7h1.4v34.1h-1.4zM1652.7 287.7h1.5v34.1h-1.5zM1657.4 287.7h2.0v34.1h-2.0zM1664.5 287.7h3.2v34.1h-3.2zM1670.4 287.7h2.0v34.1h-2.0zM1674.6 287.7h1.9v34.1h-1.9zM1690.1 287.7h1.1v34.1h-1.1zM1691.0 287.7h1.8v34.1h-1.8zM1694.7 287.7h1.7v34.1h-1.7z"/>
<path fill="#74008a" d="M1369.9 15.1h3.1v34.1h-3.1zM1386.4 15.1h3.0v34.1h-3.0zM1391.8 15.1h3.0v34.1h-3.0zM1395.7 15.1h2.1v34.1h-2.1zM1398.9 15.1h2.3v34.1h-2.3zM1404.2 15.1h2.8v34.1h-2.8zM1408.4 15.1h2.4v34.1h-2.4zM1412.7 15.1h1.8v34.1h-1.8zM1414.3 15.1h3.0v34.1h-3.0zM1417.0 15.1h1.8v34.1h-1.8zM1423.7 15.1h3.1v34.1h-3.1zM1435.8 15.1h3.2v34.1h-3.2zM1446.8 15.1h3.2v34.1h-3.2zM1451.4 15.1h1.5v34.1h-1.5zM1458.0 15.1h2.5v34.1h-2.5zM1462.1 15.1h2.8v34.1h-2.8zM1469.2 15.1h1.4v34.1h-1.4zM1489.5 15.1h3.0v34.1h-3.0zM1509.9 15.1h2.2v34.1h-2.2zM1525.1 15.1h2.5v34.1h-2.5zM1529.7 15.1h1.4v34.1h-1.4zM1533.7 15.1h1.5v34.1h-1.5zM1605.6 15.1h2.5v34.1h-2.5zM1372.4 49.2h1.4v34.1h-1.4zM1374.5 49.2h1.6v34.1h-1.6zM1384.6 49.2h2.9v34.1h-2.9zM1393.5 49.2h1.6v34.1h-1.6zM1394.8 49.2h2.6v34.1h-2.6zM1401.5 49.2h2.8v34.1h-2.8zM1422.6 49.2h1.5v34.1h-1.5zM1423.8 49.2h2.7v34.1h-2.7zM1433.1 49.2h3.1v34.1h-3.1zM1438.6 49.2h1.9v34.1h-1.9zM1462.6 49.2h1.6v34.1h-1.6zM1472.2 49.2h2.1v34.1h-2.1zM1475.4 49.2h2.1v34.1h-2.1zM1482.3 49.2h1.8v34.1h-1.8zM1499.0 49.2h1.9v34.1h-1.9zM1504.6 49.2h1.8v34.1h-1.8zM1507.4 49.2h2.5v34.1h-2.5zM1509.6 49.2h2.9v34.1h-2.9zM1520.1 49.2h2.8v34.1h-2.8zM1522.6 49.2h2.4v34.1h-2.4zM1526.4 49.2h2.4v34.1h-2.4zM1592.2 49.2h1.4v34.1h-1.4zM1601.6 49.2h1.1v34.1h-1.1zM1621.0 49.2h1.2v34.1h-1.2zM1336.5 83.3h1.1v34.1h-1.1zM1341.1 83.3h1.1v34.1h-1.1zM1377.4 83.3h1.4v34.1h-1.4zM1398.4 83.3h1.9v34.1h-1.9zM1405.5 83.3h2.2v34.1h-2.2zM1411.0 83.3h2.7v34.1h-2.7zM1416.6 83.3h1.6v34.1h-1.6zM1428.0 83.3h1.5v34.1h-1.5zM1434.7 83.3h1.8v34.1h-1.8zM1436.2 83.3h2.5v34.1h-2.5zM1448.9 83.3h1.8v34.1h-1.8zM1504.1 83.3h2.0v34.1h-2.0zM1514.5 83.3h1.5v34.1h-1.5zM1518.4 83.3h2.1v34.1h-2.1zM1522.9 83.3h2.9v34.1h-2.9zM1529.6 83.3h2.0v34.1h-2.0zM1531.3 83.3h3.1v34.1h-3.1zM1574.4 83.3h1.1v34.1h-1.1zM1596.9 83.3h3.1v34.1h-3.1zM1614.3 83.3h1.8v34.1h-1.8zM1617.6 83.3h3.1v34.1h-3.1zM1621.2 83.3h3.2v34.1h-3.2zM1215.3 117.3h1.6v102.2h-1.6zM1265.9 117.3h3.2v102.2h-3.2zM1277.1 117.3h1.2v102.2h-1.2zM1282.1 117.3h1.7v102.2h-1.7zM1293.2 117.3h3.0v102.2h-3.0zM1298.8 117.3h2.4v102.2h-2.4zM1305.9 117.3h3.0v102.2h-3.0zM1310.0 117.3h1.8v102.2h-1.8zM1317.3 117.3h1.5v102.2h-1.5zM1323.0 117.3h3.1v102.2h-3.1zM1355.5 117.3h2.8v102.2h-2.8zM1227.9 219.6h2.1v34.1h-2.1zM1630.3 219.6h1.1v34.1h-1.1zM1683.1 219.6h1.2v34.1h-1.2zM1246.8 253.6h1.0v34.1h-1.0zM1624.0 253.6h2.2v34.1h-2.2zM1626.0 253.6h2.2v34.1h-2.2zM1639.2 253.6h1.2v34.1h-1.2zM1643.2 253.6h2.8v34.1h-2.8zM1649.7 253.6h2.3v34.1h-2.3zM1651.8 253.6h1.4v34.1h-1.4zM1659.2 253.6h1.9v34.1h-1.9zM1672.2 253.6h2.1v34.1h-2.1zM1688.5 253.6h1.5v34.1h-1.5zM1217.9 287.7h1.4v34.1h-1.4zM1219.0 287.7h3.2v34.1h-3.2zM1222.0 287.7h1.6v34.1h-1.6zM1624.0 287.7h2.8v34.1h-2.8zM1626.5 287.7h2.7v34.1h-2.7zM1638.6 287.7h1.5v34.1h-1.5zM1656.5 287.7h1.1v34.1h-1.1zM1688.9 287.7h1.4v34.1h-1.4z"/>
<path fill="#7f007f" d="M1344.1 15.1h2.2v34.1h-2.2zM1418.6 15.1h1.3v34.1h-1.3zM1426.6 15.1h1.1v34.1h-1.1zM1470.3 15.1h2.8v34.1h-2.8zM1479.4 15.1h3.1v34.1h-3.1zM1519.8 15.1h3.1v34.1h-3.1zM1596.5 15.1h1.6v34.1h-1.6zM1599.3 15.1h2.1v34.1h-2.1zM1602.4 15.1h1.2v34.1h-1.2zM1614.0 15.1h3.0v34.1h-3.0zM1621.8 15.1h2.4v34.1h-2.4zM1336.0 49.2h2.0v34.1h-2.0zM1390.0 49.2h1.1v34.1h-1.1zM1409.9 49.2h1.1v34.1h-1.1zM1418.9 49.2h3.1v34.1h-3.1zM1443.3 49.2h1.8v34.1h-1.8zM1448.1 49.2h1.8v34.1h-1.8zM1449.7 49.2h1.5v34.1h-1.5zM1458.2 49.2h1.1v34.1h-1.1zM1477.3 49.2h2.7v34.1h-2.7zM1518.3 49.2h2.0v34.1h-2.0zM1529.8 49.2h1.5v34.1h-1.5zM1582.0 49.2h2.2v34.1h-2.2zM1597.3 49.2h2.2v34.1h-2.2zM1599.2 49.2h2.6v34.1h-2.6zM1614.5 49.2h2.8v34.1h-2.8zM1351.7 83.3h0.5v34.1h-0.5zM1376.2 83.3h1.5v34.1h-1.5zM1451.5 83.3h1.3v34.1h-1.3zM1489.7 83.3h1.4v34.1h-1.4zM1501.6 83.3h1.8v34.1h-1.8zM1520.3 83.3h2.9v34.1h-2.9zM1527.3 83.3h1.1v34.1h-1.1zM1592.9 83.3h1.2v34.1h-1.2zM1594.6 83.3h2.5v34.1h-2.5zM1599.7 83.3h2.6v34.1h-2.6zM1602.0 83.3h2.5v34.1h-2.5zM1604.3 83.3h2.7v34.1h-2.7zM1610.2 83.3h2.9v34.1h-2.9zM1624.2 83.3h1.0v34.1h-1.0zM1247.5 117.3h2.1v102.2h-2.1zM1253.6 117.3h1.1v102.2h-1.1zM1283.5 117.3h2.7v102.2h-2.7zM1290.3 117.3h3.1v102.2h-3.1zM1295.9 117.3h3.1v102.2h-3.1zM1308.6 117.3h1.6v102.2h-1.6zM1311.6 117.3h3.0v102.2h-3.0zM1318.6 117.3h1.7v102.2h-1.7zM1360.7 117.3h2.2v102.2h-2.2zM1223.6 219.6h2.2v34.1h-2.2zM1237.2 219.6h2.2v34.1h-2.2zM1221.6 253.6h2.5v34.1h-2.5zM1223.9 253.6h1.5v34.1h-1.5zM1244.0 253.6h3.0v34.1h-3.0zM1627.9 253.6h2.9v34.1h-2.9zM1633.6 253.6h2.9v34.1h-2.9zM1636.3 253.6h1.6v34.1h-1.6zM1646.9 253.6h1.6v34.1h-1.6zM1648.2 253.6h1.8v34.1h-1.8zM1653.0 253.6h1.6v34.1h-1.6zM1654.3 253.6h1.3v34.1h-1.3zM1670.6 253.6h1.9v34.1h-1.9zM1678.0 253.6h3.0v34.1h-3.0zM1680.8 253.6h2.1v34.1h-2.1zM1227.1 287.7h3.0v34.1h-3.0zM1241.2 287.7h1.7v34.1h-1.7zM1644.5 287.7h2.9v34.1h-2.9zM1654.0 287.7h2.8v34.1h-2.8zM1663.2 287.7h1.5v34.1h-1.5z"/>
<path fill="#8a0074" d="M1340.4 15.1h1.3v34.1h-1.3zM1422.5 15.1h1.4v34.1h-1.4zM1505.6 15.1h2.2v34.1h-2.2zM1617.8 15.1h2.2v34.1h-2.2zM1369.4 49.2h3.2v34.1h-3.2zM1426.2 49.2h1.7v34.1h-1.7zM1485.8 49.2h2.3v34.1h-2.3zM1583.9 49.2h1.3v34.1h-1.3zM1593.4 49.2h2.9v34.1h-2.9zM1618.1 49.2h1.3v34.1h-1.3zM1483.0 83.3h2.5v34.1h-2.5zM1493.7 83.3h2.2v34.1h-2.2zM1495.7 83.3h2.2v34.1h-2.2zM1503.2 83.3h1.1v34.1h-1.1zM1505.8 83.3h1.5v34.1h-1.5zM1507.1 83.3h3.1v34.1h-3.1zM1511.6 83.3h1.3v34.1h-1.3zM1525.6 83.3h2.0v34.1h-2.0zM1528.1 83.3h1.7v34.1h-1.7zM1612.8 83.3h1.7v34.1h-1.7zM1251.1 117.3h2.7v102.2h-2.7zM1255.7 117.3h3.0v102.2h-3.0zM1261.3 117.3h1.9v102.2h-1.9zM1286.0 117.3h1.3v102.2h-1.3zM1287.1 117.3h1.4v102.2h-1.4zM1289.1 117.3h1.5v102.2h-1.5zM1303.9 117.3h2.3v102.2h-2.3zM1320.0 117.3h3.2v102.2h-3.2zM1352.0 117.3h1.9v102.2h-1.9zM1354.4 117.3h1.3v102.2h-1.3zM1362.6 117.3h1.7v102.2h-1.7zM1215.3 253.6h3.1v34.1h-3.1zM1218.2 253.6h1.1v34.1h-1.1zM1231.8 253.6h2.2v34.1h-2.2zM1657.1 253.6h2.4v34.1h-2.4zM1663.9 253.6h2.3v34.1h-2.3zM1244.4 287.7h2.0v34.1h-2.0z"/>
<path fill="#94006a" d="M1335.7 15.1h2.3v34.1h-2.3zM1475.2 15.1h2.3v34.1h-2.3zM1597.9 15.1h1.7v34.1h-1.7zM1601.2 15.1h1.5v34.1h-1.5zM1334.0 49.2h2.3v34.1h-2.3zM1590.1 49.2h2.4v34.1h-2.4zM1622.9 49.2h1.4v34.1h-1.4zM1485.3 83.3h2.8v34.1h-2.8zM1487.8 83.3h2.1v34.1h-2.1zM1490.8 83.3h3.1v34.1h-3.1zM1500.6 83.3h1.3v34.1h-1.3zM1515.8 83.3h2.9v34.1h-2.9zM1534.2 83.3h1.1v34.1h-1.1zM1606.8 83.3h1.4v34.1h-1.4zM1616.7 83.3h1.1v34.1h-1.1zM1249.4 117.3h2.0v102.2h-2.0zM1254.5 117.3h1.4v102.2h-1.4zM1258.4 117.3h3.1v102.2h-3.1zM1268.8 117.3h1.9v102.2h-1.9zM1274.3 117.3h3.0v102.2h-3.0zM1281.0 117.3h1.4v102.2h-1.4zM1288.2 117.3h1.1v102.2h-1.1zM1300.9 117.3h2.1v102.2h-2.1zM1302.8 117.3h1.4v102.2h-1.4zM1314.4 117.3h3.2v102.2h-3.2zM1358.1 117.3h1.9v102.2h-1.9zM1359.7 117.3h1.2v102.2h-1.2zM1234.7 253.6h1.4v34.1h-1.4zM1630.5 253.6h2.5v34.1h-2.5zM1668.3 253.6h2.5v34.1h-2.5zM1234.6 287.7h1.5v34.1h-1.5z"/>
<path fill="#9f005f" d="M1333.5 15.1h2.4v34.1h-2.4zM1595.1 15.1h1.6v34.1h-1.6zM1509.9 83.3h1.9v34.1h-1.9zM1592.0 83.3h1.1v34.1h-1.1zM1593.8 83.3h1.1v34.1h-1.1zM1270.4 117.3h3.2v102.2h-3.2zM1325.8 117.3h1.2v102.2h-1.2zM1326.7 117.3h1.5v102.2h-1.5zM1665.9 253.6h2.6v34.1h-2.6zM1223.4 287.7h2.3v34.1h-2.3z"/>
<path fill="#bf003f" d="M1610.6 15.1h1.4v34.1h-1.4z"/>
<path fill="#df001f" d="M1579.6 15.1h2.9v34.1h-2.9z"/>
<path fill="#e90015" d="M1535.0 15.1h2.0v34.1h-2.0zM1536.7 15.1h1.8v34.1h-1.8zM1539.1 15.1h2.0v34.1h-2.0zM1545.8 15.1h1.6v34.1h-1.6zM1553.9 15.1h2.6v34.1h-2.6zM1556.2 15.1h1.2v34.1h-1.2zM1557.1 15.1h3.1v34.1h-3.1zM1562.6 15.1h2.9v34.1h-2.9zM1566.8 15.1h1.3v34.1h-1.3zM1567.9 15.1h1.6v34.1h-1.6zM1570.5 15.1h1.7v34.1h-1.7zM1574.0 15.1h2.3v34.1h-2.3zM1582.2 15.1h3.2v34.1h-3.2zM1585.2 15.1h2.9v34.1h-2.9zM1587.8 15.1h1.8v34.1h-1.8zM1589.4 15.1h1.3v34.1h-1.3zM1590.5 15.1h1.4v34.1h-1.4zM1591.6 15.1h0.6v34.1h-0.6z"/>
<path fill="#f4000a" d="M1328.0 15.1h1.8v34.1h-1.8zM1329.5 15.1h2.2v34.1h-2.2zM1332.4 15.1h1.2v34.1h-1.2zM1333.4 15.1h0.4v34.1h-0.4zM1542.8 15.1h3.2v34.1h-3.2zM1547.2 15.1h2.8v34.1h-2.8zM1549.7 15.1h3.1v34.1h-3.1zM1552.5 15.1h1.6v34.1h-1.6zM1560.0 15.1h2.8v34.1h-2.8zM1565.3 15.1h1.8v34.1h-1.8zM1569.2 15.1h1.5v34.1h-1.5zM1571.9 15.1h1.4v34.1h-1.4zM1577.8 15.1h2.0v34.1h-2.0z"/>
<path fill="#ff0000" d="M1331.5 15.1h1.2v34.1h-1.2zM1538.3 15.1h1.1v34.1h-1.1zM1540.9 15.1h2.2v34.1h-2.2zM1573.1 15.1h1.1v34.1h-1.1zM1576.0 15.1h2.1v34.1h-2.1z"/>
<rect x="1699.5" y="15.1" width="4.6" height="102.2" fill="#0a3cff" />
<rect x="1699.5" y="117.3" width="4.6" height="102.2" fill="#999999" />
<rect x="1699.5" y="219.6" width="4.6" height="102.2" fill="#ff1030" />
<polyline points="1704.5,66.2 1711.0,66.2 1711.0,100.3 1704.5,100.3" stroke="#333" stroke-width="0.9" fill="none"/>
<polyline points="1704.5,32.1 1719.0,32.1 1719.0,83.3 1711.0,83.3" stroke="#333" stroke-width="0.9" fill="none"/>
<polyline points="1704.5,168.4 1711.0,168.4 1711.0,202.5 1704.5,202.5" stroke="#999" stroke-width="0.9" fill="none"/>
<polyline points="1704.5,134.4 1716.0,134.4 1716.0,185.5 1711.0,185.5" stroke="#999" stroke-width="0.9" fill="none"/>
<polyline points="1704.5,270.7 1711.0,270.7 1711.0,304.8 1704.5,304.8" stroke="#333" stroke-width="0.9" fill="none"/>
<polyline points="1704.5,236.6 1716.0,236.6 1716.0,287.7 1711.0,287.7" stroke="#333" stroke-width="0.9" fill="none"/>
<polyline points="1719.0,54.2 1731.0,54.2 1731.0,191.4 1716.0,191.4" stroke="#999" stroke-width="0.9" fill="none"/>
<polyline points="1716.0,248.6 1725.0,248.6 1725.0,153.4 1716.0,153.4" stroke="#333" stroke-width="0.9" fill="none"/>
<line x1="1704.5" y1="49.2" x2="1710.0" y2="49.2" stroke="#555" stroke-width="0.70" />
<line x1="1704.5" y1="83.3" x2="1710.0" y2="83.3" stroke="#555" stroke-width="0.70" />
<line x1="1704.5" y1="117.3" x2="1710.0" y2="117.3" stroke="#555" stroke-width="0.70" />
<line x1="1704.5" y1="151.4" x2="1710.0" y2="151.4" stroke="#555" stroke-width="0.70" />
<line x1="1704.5" y1="185.5" x2="1710.0" y2="185.5" stroke="#555" stroke-width="0.70" />
<line x1="1704.5" y1="219.6" x2="1710.0" y2="219.6" stroke="#555" stroke-width="0.70" />
<line x1="1704.5" y1="253.6" x2="1710.0" y2="253.6" stroke="#555" stroke-width="0.70" />
<line x1="1704.5" y1="287.7" x2="1710.0" y2="287.7" stroke="#555" stroke-width="0.70" />
<polyline points="1218.3,14.1 1218.3,9.4 1226.3,9.4 1226.3,14.1" stroke="#444" stroke-width="0.9" fill="none"/>
<polyline points="1234.4,14.1 1234.4,9.7 1242.4,9.7 1242.4,14.1" stroke="#444" stroke-width="0.9" fill="none"/>
<polyline points="1250.5,14.1 1250.5,9.3 1258.5,9.3 1258.5,14.1" stroke="#444" stroke-width="0.9" fill="none"/>
<polyline points="1266.6,14.1 1266.6,9.6 1274.6,9.6 1274.6,14.1" stroke="#444" stroke-width="0.9" fill="none"/>
<polyline points="1282.7,14.1 1282.7,8.7 1290.7,8.7 1290.7,14.1" stroke="#444" stroke-width="0.9" fill="none"/>
<polyline points="1298.8,14.1 1298.8,10.2 1306.8,10.2 1306.8,14.1" stroke="#444" stroke-width="0.9" fill="none"/>
<polyline points="1314.9,14.1 1314.9,8.7 1322.9,8.7 1322.9,14.1" stroke="#444" stroke-width="0.9" fill="none"/>
<polyline points="1331.0,14.1 1331.0,11.0 1339.0,11.0 1339.0,14.1" stroke="#444" stroke-width="0.9" fill="none"/>
<polyline points="1347.1,14.1 1347.1,8.2 1355.1,8.2 1355.1,14.1" stroke="#444" stroke-width="0.9" fill="none"/>
<polyline points="1363.2,14.1 1363.2,9.3 1371.2,9.3 1371.2,14.1" stroke="#444" stroke-width="0.9" fill="none"/>
<polyline points="1379.3,14.1 1379.3,11.1 1387.3,11.1 1387.3,14.1" stroke="#444" stroke-width="0.9" fill="none"/>
<polyline points="1395.4,14.1 1395.4,10.9 1403.4,10.9 1403.4,14.1" stroke="#444" stroke-width="0.9" fill="none"/>
<polyline points="1411.5,14.1 1411.5,10.4 1419.5,10.4 1419.5,14.1" stroke="#444" stroke-width="0.9" fill="none"/>
<polyline points="1427.6,14.1 1427.6,9.7 1435.6,9.7 1435.6,14.1" stroke="#444" stroke-width="0.9" fill="none"/>
<polyline points="1443.7,14.1 1443.7,8.6 1451.7,8.6 1451.7,14.1" stroke="#444" stroke-width="0.9" fill="none"/>
<polyline points="1459.8,14.1 1459.8,9.2 1467.8,9.2 1467.8,14.1" stroke="#444" stroke-width="0.9" fill="none"/>
<polyline points="1475.9,14.1 1475.9,9.1 1483.9,9.1 1483.9,14.1" stroke="#444" stroke-width="0.9" fill="none"/>
<polyline points="1492.0,14.1 1492.0,10.3 1500.0,10.3 1500.0,14.1" stroke="#444" stroke-width="0.9" fill="none"/>
<polyline points="1508.1,14.1 1508.1,8.1 1516.1,8.1 1516.1,14.1" stroke="#444" stroke-width="0.9" fill="none"/>
<polyline points="1524.2,14.1 1524.2,9.0 1532.2,9.0 1532.2,14.1" stroke="#444" stroke-width="0.9" fill="none"/>
<polyline points="1540.3,14.1 1540.3,10.4 1548.3,10.4 1548.3,14.1" stroke="#444" stroke-width="0.9" fill="none"/>
<polyline points="1556.4,14.1 1556.4,10.9 1564.4,10.9 1564.4,14.1" stroke="#444" stroke-width="0.9" fill="none"/>
<polyline points="1572.5,14.1 1572.5,9.9 1580.5,9.9 1580.5,14.1" stroke="#444" stroke-width="0.9" fill="none"/>
<polyline points="1588.6,14.1 1588.6,9.9 1596.6,9.9 1596.6,14.1" stroke="#444" stroke-width="0.9" fill="none"/>
<polyline points="1604.7,14.1 1604.7,8.6 1612.7,8.6 1612.7,14.1" stroke="#444" stroke-width="0.9" fill="none"/>
<polyline points="1620.8,14.1 1620.8,10.5 1628.8,10.5 1628.8,14.1" stroke="#444" stroke-width="0.9" fill="none"/>
<polyline points="1636.9,14.1 1636.9,9.7 1644.9,9.7 1644.9,14.1" stroke="#444" stroke-width="0.9" fill="none"/>
<polyline points="1653.0,14.1 1653.0,9.9 1661.0,9.9 1661.0,14.1" stroke="#444" stroke-width="0.9" fill="none"/>
<polyline points="1669.1,14.1 1669.1,9.2 1677.1,9.2 1677.1,14.1" stroke="#444" stroke-width="0.9" fill="none"/>
<polyline points="1685.2,14.1 1685.2,10.3 1693.2,10.3 1693.2,14.1" stroke="#444" stroke-width="0.9" fill="none"/>
<polyline points="1224.0,12.1 1224.0,8.1 1275.0,8.1 1275.0,12.1" stroke="#444" stroke-width="0.9" fill="none"/>
<polyline points="1282.0,12.1 1282.0,8.6 1340.0,8.6 1340.0,12.1" stroke="#444" stroke-width="0.9" fill="none"/>
<polyline points="1340.0,12.1 1340.0,9.1 1398.0,9.1 1398.0,12.1" stroke="#444" stroke-width="0.9" fill="none"/>
<polyline points="1400.0,12.1 1400.0,10.1 1450.0,10.1 1450.0,12.1" stroke="#444" stroke-width="0.9" fill="none"/>
<polyline points="1480.0,12.1 1480.0,9.6 1540.0,9.6 1540.0,12.1" stroke="#444" stroke-width="0.9" fill="none"/>
<polyline points="1545.0,12.1 1545.0,9.1 1600.0,9.1 1600.0,12.1" stroke="#444" stroke-width="0.9" fill="none"/>
<polyline points="1608.0,12.1 1608.0,9.6 1660.0,9.6 1660.0,12.1" stroke="#444" stroke-width="0.9" fill="none"/>
<polyline points="1662.0,12.1 1662.0,10.6 1694.0,10.6 1694.0,12.1" stroke="#444" stroke-width="0.9" fill="none"/>
<polyline points="1262.0,10.0 1262.0,8.0 1370.0,8.0 1370.0,10.0" stroke="#444" stroke-width="0.9" fill="none"/>
<polyline points="1316.0,8.0 1316.0,5.0 1660.0,5.0 1660.0,8.0" stroke="#444" stroke-width="0.9" fill="none"/>
<polyline points="1420.0,10.0 1420.0,6.5 1520.0,6.5 1520.0,10.0" stroke="#444" stroke-width="0.9" fill="none"/>
<polyline points="1580.0,10.0 1580.0,2.0 1680.0,2.0 1680.0,10.0" stroke="#444" stroke-width="0.9" fill="none"/>
<polyline points="1560.0,6.5 1560.0,1.5 1625.0,1.5 1625.0,2.0" stroke="#444" stroke-width="0.9" fill="none"/>
<defs><linearGradient id="dkey" x1="0" y1="0" x2="0" y2="1"><stop offset="0" stop-color="#0000ff"/><stop offset="1" stop-color="#ff0000"/></linearGradient></defs>
<rect x="1199.7" y="91.8" width="8.2" height="152.2" fill="url(#dkey)" />
<line x1="1196.0" y1="92.0" x2="1199.0" y2="92.0" stroke="#666" stroke-width="0.60" />
<text x="1194.0" y="92.0" font-size="4.0" text-anchor="middle" fill="#555" transform="rotate(-90.0 1194.0 92.0)">5</text>
<line x1="1196.0" y1="120.0" x2="1199.0" y2="120.0" stroke="#666" stroke-width="0.60" />
<text x="1194.0" y="120.0" font-size="4.0" text-anchor="middle" fill="#555" transform="rotate(-90.0 1194.0 120.0)">100</text>
<line x1="1196.0" y1="142.0" x2="1199.0" y2="142.0" stroke="#666" stroke-width="0.60" />
<text x="1194.0" y="142.0" font-size="4.0" text-anchor="middle" fill="#555" transform="rotate(-90.0 1194.0 142.0)">200</text>
<line x1="1196.0" y1="164.0" x2="1199.0" y2="164.0" stroke="#666" stroke-width="0.60" />
<text x="1194.0" y="164.0" font-size="4.0" text-anchor="middle" fill="#555" transform="rotate(-90.0 1194.0 164.0)">300</text>
<line x1="1196.0" y1="185.0" x2="1199.0" y2="185.0" stroke="#666" stroke-width="0.60" />
<text x="1194.0" y="185.0" font-size="4.0" text-anchor="middle" fill="#555" transform="rotate(-90.0 1194.0 185.0)">400</text>
<line x1="1196.0" y1="208.0" x2="1199.0" y2="208.0" stroke="#666" stroke-width="0.60" />
<text x="1194.0" y="208.0" font-size="4.0" text-anchor="middle" fill="#555" transform="rotate(-90.0 1194.0 208.0)">500</text>
<line x1="1196.0" y1="244.0" x2="1199.0" y2="244.0" stroke="#666" stroke-width="0.60" />
<text x="1194.0" y="244.0" font-size="4.0" text-anchor="middle" fill="#555" transform="rotate(-90.0 1194.0 244.0)">1000</text>
<text x="1737.5" y="83.6" font-size="37.0" fill="#0030ff"><tspan>CX</tspan><tspan dy="3.70" font-size="24.4">3</tspan><tspan dy="-3.70">CR</tspan><tspan dy="3.70" font-size="24.4">1</tspan><tspan dy="-11.10" font-size="24.4">-</tspan></text>
<text x="1753.5" y="115.3" font-size="37.0" fill="#0030ff"><tspan>CCR2</tspan><tspan dy="-7.40" font-size="24.4">-</tspan></text>
<text x="1735.4" y="178.6" font-size="37.0" fill="#999999">Monocytes</text>
<text x="1733.0" y="266.7" font-size="37.0" fill="#ff2400"><tspan>CX</tspan><tspan dy="3.70" font-size="24.4">3</tspan><tspan dy="-3.70">CR</tspan><tspan dy="3.70" font-size="24.4">1</tspan><tspan dy="-11.10" font-size="24.4">+</tspan></text>
<text x="1746.7" y="300.6" font-size="37.0" fill="#ff2400"><tspan>CCR2</tspan><tspan dy="-7.40" font-size="24.4">+</tspan></text>
<text x="1206.5" y="345.8" font-size="31.5" fill="#ff2400"><tspan>CX</tspan><tspan dy="3.15" font-size="20.8">3</tspan><tspan dy="-3.15">CR</tspan><tspan dy="3.15" font-size="20.8">1</tspan><tspan dy="-9.45" font-size="20.8">+</tspan><tspan dy="6.30"> CCR2</tspan><tspan dy="-6.30" font-size="20.8">+</tspan></text>
<text x="1444.7" y="350.4" font-size="31.5" fill="#0030ff"><tspan>CX</tspan><tspan dy="3.15" font-size="20.8">3</tspan><tspan dy="-3.15">CR</tspan><tspan dy="3.15" font-size="20.8">1</tspan><tspan dy="-9.45" font-size="20.8">-</tspan><tspan dy="6.30"> CCR2</tspan><tspan dy="-6.30" font-size="20.8">-</tspan></text>
<text x="24.0" y="400.7" font-size="37.0">E</text>
<text x="74.8" y="386.5" font-size="37.0"><tspan>CX</tspan><tspan dy="3.70" font-size="24.4">3</tspan><tspan dy="-3.70">CR</tspan><tspan dy="3.70" font-size="24.4">1</tspan><tspan dy="-11.10" font-size="24.4">-</tspan></text>
<text x="106.0" y="418.9" font-size="37.0"><tspan>CCR2</tspan><tspan dy="-7.40" font-size="24.4">-</tspan></text>
<text x="233.8" y="386.5" font-size="37.0"><tspan>CX</tspan><tspan dy="3.70" font-size="24.4">3</tspan><tspan dy="-3.70">CR</tspan><tspan dy="3.70" font-size="24.4">1</tspan><tspan dy="-11.10" font-size="24.4">+</tspan></text>
<text x="233.8" y="418.9" font-size="37.0"><tspan>CCR2</tspan><tspan dy="-7.40" font-size="24.4">+</tspan></text>
<rect x="121.5" y="425.0" width="33.3" height="33.9" fill="#ff8787" />
<rect x="154.5" y="425.0" width="33.3" height="33.9" fill="#f3f4ff" />
<rect x="187.5" y="425.0" width="33.3" height="33.9" fill="#ff453c" />
<rect x="220.6" y="425.0" width="33.3" height="33.9" fill="#4050ff" />
<rect x="253.6" y="425.0" width="33.3" height="33.9" fill="#5866ff" />
<rect x="286.6" y="425.0" width="33.3" height="33.9" fill="#4c5bff" />
<rect x="121.5" y="458.6" width="33.3" height="33.9" fill="#ff2200" />
<rect x="154.5" y="458.6" width="33.3" height="33.9" fill="#dbdeff" />
<rect x="187.5" y="458.6" width="33.3" height="33.9" fill="#ff8787" />
<rect x="220.6" y="458.6" width="33.3" height="33.9" fill="#e2e5ff" />
<rect x="253.6" y="458.6" width="33.3" height="33.9" fill="#ffeeee" />
<rect x="286.6" y="458.6" width="33.3" height="33.9" fill="#b7bdff" />
<rect x="121.5" y="492.1" width="33.3" height="33.9" fill="#ff8787" />
<rect x="154.5" y="492.1" width="33.3" height="33.9" fill="#ffd3d3" />
<rect x="187.5" y="492.1" width="33.3" height="33.9" fill="#ff7171" />
<rect x="220.6" y="492.1" width="33.3" height="33.9" fill="#949dff" />
<rect x="253.6" y="492.1" width="33.3" height="33.9" fill="#abb2ff" />
<rect x="286.6" y="492.1" width="33.3" height="33.9" fill="#6471ff" />
<rect x="121.5" y="525.7" width="33.3" height="33.9" fill="#ffb2b2" />
<rect x="154.5" y="525.7" width="33.3" height="33.9" fill="#ffa8a8" />
<rect x="187.5" y="525.7" width="33.3" height="33.9" fill="#ff7171" />
<rect x="220.6" y="525.7" width="33.3" height="33.9" fill="#8892ff" />
<rect x="253.6" y="525.7" width="33.3" height="33.9" fill="#7c87ff" />
<rect x="286.6" y="525.7" width="33.3" height="33.9" fill="#3549ff" />
<rect x="121.5" y="559.2" width="33.3" height="33.9" fill="#ff2200" />
<rect x="154.5" y="559.2" width="33.3" height="33.9" fill="#ffd8d8" />
<rect x="187.5" y="559.2" width="33.3" height="33.9" fill="#ffbdbd" />
<rect x="220.6" y="559.2" width="33.3" height="33.9" fill="#8892ff" />
<rect x="253.6" y="559.2" width="33.3" height="33.9" fill="#f3f4ff" />
<rect x="286.6" y="559.2" width="33.3" height="33.9" fill="#8892ff" />
<rect x="121.5" y="592.8" width="33.3" height="33.9" fill="#ff8787" />
<rect x="154.5" y="592.8" width="33.3" height="33.9" fill="#ffbdbd" />
<rect x="187.5" y="592.8" width="33.3" height="33.9" fill="#ff9292" />
<rect x="220.6" y="592.8" width="33.3" height="33.9" fill="#ff2200" />
<rect x="253.6" y="592.8" width="33.3" height="33.9" fill="#e7e9ff" />
<rect x="286.6" y="592.8" width="33.3" height="33.9" fill="#c3c8ff" />
<rect x="121.5" y="626.4" width="33.3" height="33.9" fill="#ff6666" />
<rect x="154.5" y="626.4" width="33.3" height="33.9" fill="#dbdeff" />
<rect x="187.5" y="626.4" width="33.3" height="33.9" fill="#ff5050" />
<rect x="220.6" y="626.4" width="33.3" height="33.9" fill="#707cff" />
<rect x="253.6" y="626.4" width="33.3" height="33.9" fill="#8892ff" />
<rect x="286.6" y="626.4" width="33.3" height="33.9" fill="#4c5bff" />
<rect x="121.5" y="659.9" width="33.3" height="33.9" fill="#ff2200" />
<rect x="154.5" y="659.9" width="33.3" height="33.9" fill="#f3f4ff" />
<rect x="187.5" y="659.9" width="33.3" height="33.9" fill="#ff9d9d" />
<rect x="220.6" y="659.9" width="33.3" height="33.9" fill="#ffa8a8" />
<rect x="253.6" y="659.9" width="33.3" height="33.9" fill="#ff2e14" />
<rect x="286.6" y="659.9" width="33.3" height="33.9" fill="#ffdede" />
<rect x="121.5" y="693.5" width="33.3" height="33.9" fill="#ff7171" />
<rect x="154.5" y="693.5" width="33.3" height="33.9" fill="#fff4f4" />
<rect x="187.5" y="693.5" width="33.3" height="33.9" fill="#ff7171" />
<rect x="220.6" y="693.5" width="33.3" height="33.9" fill="#abb2ff" />
<rect x="253.6" y="693.5" width="33.3" height="33.9" fill="#c3c8ff" />
<rect x="286.6" y="693.5" width="33.3" height="33.9" fill="#949dff" />
<rect x="121.5" y="727.0" width="33.3" height="33.9" fill="#ff6666" />
<rect x="154.5" y="727.0" width="33.3" height="33.9" fill="#ffcfcf" />
<rect x="187.5" y="727.0" width="33.3" height="33.9" fill="#ff9d9d" />
<rect x="220.6" y="727.0" width="33.3" height="33.9" fill="#a0a8ff" />
<rect x="253.6" y="727.0" width="33.3" height="33.9" fill="#e7e9ff" />
<rect x="286.6" y="727.0" width="33.3" height="33.9" fill="#b7bdff" />
<rect x="121.5" y="760.6" width="33.3" height="33.9" fill="#ff9d9d" />
<rect x="154.5" y="760.6" width="33.3" height="33.9" fill="#ff7c7c" />
<rect x="187.5" y="760.6" width="33.3" height="33.9" fill="#ffbdbd" />
<rect x="220.6" y="760.6" width="33.3" height="33.9" fill="#8892ff" />
<rect x="253.6" y="760.6" width="33.3" height="33.9" fill="#949dff" />
<rect x="286.6" y="760.6" width="33.3" height="33.9" fill="#707cff" />
<rect x="121.5" y="794.2" width="33.3" height="33.9" fill="#ff7c7c" />
<rect x="154.5" y="794.2" width="33.3" height="33.9" fill="#fffbfb" />
<rect x="187.5" y="794.2" width="33.3" height="33.9" fill="#ff6666" />
<rect x="220.6" y="794.2" width="33.3" height="33.9" fill="#4c5bff" />
<rect x="253.6" y="794.2" width="33.3" height="33.9" fill="#6471ff" />
<rect x="286.6" y="794.2" width="33.3" height="33.9" fill="#5866ff" />
<rect x="121.5" y="827.7" width="33.3" height="33.9" fill="#ff2e14" />
<rect x="154.5" y="827.7" width="33.3" height="33.9" fill="#bcc2ff" />
<rect x="187.5" y="827.7" width="33.3" height="33.9" fill="#ff3928" />
<rect x="220.6" y="827.7" width="33.3" height="33.9" fill="#5866ff" />
<rect x="253.6" y="827.7" width="33.3" height="33.9" fill="#bcc2ff" />
<rect x="286.6" y="827.7" width="33.3" height="33.9" fill="#707cff" />
<rect x="121.5" y="861.3" width="33.3" height="33.9" fill="#ff9292" />
<rect x="154.5" y="861.3" width="33.3" height="33.9" fill="#ffbdbd" />
<rect x="187.5" y="861.3" width="33.3" height="33.9" fill="#ff7c7c" />
<rect x="220.6" y="861.3" width="33.3" height="33.9" fill="#ffbdbd" />
<rect x="253.6" y="861.3" width="33.3" height="33.9" fill="#ff7c7c" />
<rect x="286.6" y="861.3" width="33.3" height="33.9" fill="#fffbfb" />
<rect x="121.5" y="894.8" width="33.3" height="33.9" fill="#ff6666" />
<rect x="154.5" y="894.8" width="33.3" height="33.9" fill="#fffbfb" />
<rect x="187.5" y="894.8" width="33.3" height="33.9" fill="#ff8787" />
<rect x="220.6" y="894.8" width="33.3" height="33.9" fill="#cacfff" />
<rect x="253.6" y="894.8" width="33.3" height="33.9" fill="#fafbff" />
<rect x="286.6" y="894.8" width="33.3" height="33.9" fill="#b7bdff" />
<rect x="121.5" y="928.4" width="33.3" height="33.9" fill="#ff2200" />
<rect x="154.5" y="928.4" width="33.3" height="33.9" fill="#c3c8ff" />
<rect x="187.5" y="928.4" width="33.3" height="33.9" fill="#ff8787" />
<rect x="220.6" y="928.4" width="33.3" height="33.9" fill="#b3b9ff" />
<rect x="253.6" y="928.4" width="33.3" height="33.9" fill="#ffdede" />
<rect x="286.6" y="928.4" width="33.3" height="33.9" fill="#ffe5e5" />
<rect x="121.5" y="962.0" width="33.3" height="33.9" fill="#ff2200" />
<rect x="154.5" y="962.0" width="33.3" height="33.9" fill="#f3f4ff" />
<rect x="187.5" y="962.0" width="33.3" height="33.9" fill="#ffd8d8" />
<rect x="220.6" y="962.0" width="33.3" height="33.9" fill="#cfd3ff" />
<rect x="253.6" y="962.0" width="33.3" height="33.9" fill="#5866ff" />
<rect x="286.6" y="962.0" width="33.3" height="33.9" fill="#1f3aff" />
<rect x="121.5" y="995.5" width="33.3" height="33.9" fill="#2a41ff" />
<rect x="154.5" y="995.5" width="33.3" height="33.9" fill="#5866ff" />
<rect x="187.5" y="995.5" width="33.3" height="33.9" fill="#5866ff" />
<rect x="220.6" y="995.5" width="33.3" height="33.9" fill="#ff2200" />
<rect x="253.6" y="995.5" width="33.3" height="33.9" fill="#ff2200" />
<rect x="286.6" y="995.5" width="33.3" height="33.9" fill="#ff2200" />
<rect x="121.5" y="1029.1" width="33.3" height="33.9" fill="#a0a8ff" />
<rect x="154.5" y="1029.1" width="33.3" height="33.9" fill="#707cff" />
<rect x="187.5" y="1029.1" width="33.3" height="33.9" fill="#1f3aff" />
<rect x="220.6" y="1029.1" width="33.3" height="33.9" fill="#ff2200" />
<rect x="253.6" y="1029.1" width="33.3" height="33.9" fill="#ff2e14" />
<rect x="286.6" y="1029.1" width="33.3" height="33.9" fill="#ff2200" />
<rect x="121.5" y="1062.6" width="33.3" height="33.9" fill="#3549ff" />
<rect x="154.5" y="1062.6" width="33.3" height="33.9" fill="#707cff" />
<rect x="187.5" y="1062.6" width="33.3" height="33.9" fill="#3549ff" />
<rect x="220.6" y="1062.6" width="33.3" height="33.9" fill="#ff2200" />
<rect x="253.6" y="1062.6" width="33.3" height="33.9" fill="#ff9d9d" />
<rect x="286.6" y="1062.6" width="33.3" height="33.9" fill="#ff2200" />
<rect x="121.5" y="1096.2" width="33.3" height="33.9" fill="#e2e5ff" />
<rect x="154.5" y="1096.2" width="33.3" height="33.9" fill="#abb2ff" />
<rect x="187.5" y="1096.2" width="33.3" height="33.9" fill="#cacfff" />
<rect x="220.6" y="1096.2" width="33.3" height="33.9" fill="#ff5b5b" />
<rect x="253.6" y="1096.2" width="33.3" height="33.9" fill="#ff6666" />
<rect x="286.6" y="1096.2" width="33.3" height="33.9" fill="#ffd3d3" />
<rect x="121.5" y="1129.8" width="33.3" height="33.9" fill="#d4d8ff" />
<rect x="154.5" y="1129.8" width="33.3" height="33.9" fill="#d4d8ff" />
<rect x="187.5" y="1129.8" width="33.3" height="33.9" fill="#b3b9ff" />
<rect x="220.6" y="1129.8" width="33.3" height="33.9" fill="#ff2200" />
<rect x="253.6" y="1129.8" width="33.3" height="33.9" fill="#ff2200" />
<rect x="286.6" y="1129.8" width="33.3" height="33.9" fill="#ffdede" />
<rect x="121.5" y="1163.3" width="33.3" height="33.9" fill="#cacfff" />
<rect x="154.5" y="1163.3" width="33.3" height="33.9" fill="#bcc2ff" />
<rect x="187.5" y="1163.3" width="33.3" height="33.9" fill="#a0a8ff" />
<rect x="220.6" y="1163.3" width="33.3" height="33.9" fill="#ff2200" />
<rect x="253.6" y="1163.3" width="33.3" height="33.9" fill="#ff6666" />
<rect x="286.6" y="1163.3" width="33.3" height="33.9" fill="#ff9292" />
<rect x="121.5" y="1196.9" width="33.3" height="33.9" fill="#e7e9ff" />
<rect x="154.5" y="1196.9" width="33.3" height="33.9" fill="#5866ff" />
<rect x="187.5" y="1196.9" width="33.3" height="33.9" fill="#8892ff" />
<rect x="220.6" y="1196.9" width="33.3" height="33.9" fill="#ff7c7c" />
<rect x="253.6" y="1196.9" width="33.3" height="33.9" fill="#ff2200" />
<rect x="286.6" y="1196.9" width="33.3" height="33.9" fill="#ff453c" />
<rect x="121.5" y="1230.4" width="33.3" height="33.9" fill="#ffe9e9" />
<rect x="154.5" y="1230.4" width="33.3" height="33.9" fill="#dbdeff" />
<rect x="187.5" y="1230.4" width="33.3" height="33.9" fill="#5866ff" />
<rect x="220.6" y="1230.4" width="33.3" height="33.9" fill="#ffe9e9" />
<rect x="253.6" y="1230.4" width="33.3" height="33.9" fill="#ff9d9d" />
<rect x="286.6" y="1230.4" width="33.3" height="33.9" fill="#ff2200" />
<line x1="154.5" y1="425.0" x2="154.5" y2="1264.0" stroke="#000" stroke-width="2.40" />
<line x1="187.5" y1="425.0" x2="187.5" y2="1264.0" stroke="#000" stroke-width="2.40" />
<line x1="220.6" y1="425.0" x2="220.6" y2="1264.0" stroke="#000" stroke-width="2.40" />
<line x1="253.6" y1="425.0" x2="253.6" y2="1264.0" stroke="#000" stroke-width="2.40" />
<line x1="286.6" y1="425.0" x2="286.6" y2="1264.0" stroke="#000" stroke-width="2.40" />
<line x1="121.5" y1="458.6" x2="319.6" y2="458.6" stroke="#000" stroke-width="2.40" />
<line x1="121.5" y1="492.1" x2="319.6" y2="492.1" stroke="#000" stroke-width="2.40" />
<line x1="121.5" y1="525.7" x2="319.6" y2="525.7" stroke="#000" stroke-width="2.40" />
<line x1="121.5" y1="559.2" x2="319.6" y2="559.2" stroke="#000" stroke-width="2.40" />
<line x1="121.5" y1="592.8" x2="319.6" y2="592.8" stroke="#000" stroke-width="2.40" />
<line x1="121.5" y1="626.4" x2="319.6" y2="626.4" stroke="#000" stroke-width="2.40" />
<line x1="121.5" y1="659.9" x2="319.6" y2="659.9" stroke="#000" stroke-width="2.40" />
<line x1="121.5" y1="693.5" x2="319.6" y2="693.5" stroke="#000" stroke-width="2.40" />
<line x1="121.5" y1="727.0" x2="319.6" y2="727.0" stroke="#000" stroke-width="2.40" />
<line x1="121.5" y1="760.6" x2="319.6" y2="760.6" stroke="#000" stroke-width="2.40" />
<line x1="121.5" y1="794.2" x2="319.6" y2="794.2" stroke="#000" stroke-width="2.40" />
<line x1="121.5" y1="827.7" x2="319.6" y2="827.7" stroke="#000" stroke-width="2.40" />
<line x1="121.5" y1="861.3" x2="319.6" y2="861.3" stroke="#000" stroke-width="2.40" />
<line x1="121.5" y1="894.8" x2="319.6" y2="894.8" stroke="#000" stroke-width="2.40" />
<line x1="121.5" y1="928.4" x2="319.6" y2="928.4" stroke="#000" stroke-width="2.40" />
<line x1="121.5" y1="962.0" x2="319.6" y2="962.0" stroke="#000" stroke-width="2.40" />
<line x1="121.5" y1="995.5" x2="319.6" y2="995.5" stroke="#000" stroke-width="2.40" />
<line x1="121.5" y1="1029.1" x2="319.6" y2="1029.1" stroke="#000" stroke-width="2.40" />
<line x1="121.5" y1="1062.6" x2="319.6" y2="1062.6" stroke="#000" stroke-width="2.40" />
<line x1="121.5" y1="1096.2" x2="319.6" y2="1096.2" stroke="#000" stroke-width="2.40" />
<line x1="121.5" y1="1129.8" x2="319.6" y2="1129.8" stroke="#000" stroke-width="2.40" />
<line x1="121.5" y1="1163.3" x2="319.6" y2="1163.3" stroke="#000" stroke-width="2.40" />
<line x1="121.5" y1="1196.9" x2="319.6" y2="1196.9" stroke="#000" stroke-width="2.40" />
<line x1="121.5" y1="1230.4" x2="319.6" y2="1230.4" stroke="#000" stroke-width="2.40" />
<rect x="121.5" y="425.0" width="198.1" height="839.0" fill="none" stroke="#000" stroke-width="2.80" />
<text x="115.5" y="451.8" font-size="30.5" text-anchor="end" font-style="italic">Fcna</text>
<text x="115.5" y="485.3" font-size="30.5" text-anchor="end" font-style="italic">P2ry12</text>
<text x="115.5" y="518.9" font-size="30.5" text-anchor="end" font-style="italic">Ppp1r9a</text>
<text x="115.5" y="552.5" font-size="30.5" text-anchor="end" font-style="italic">C2</text>
<text x="115.5" y="586.0" font-size="30.5" text-anchor="end" font-style="italic">Spats2</text>
<text x="115.5" y="619.6" font-size="30.5" text-anchor="end" font-style="italic">Spats2l</text>
<text x="115.5" y="653.1" font-size="30.5" text-anchor="end" font-style="italic">Siglech</text>
<text x="115.5" y="686.7" font-size="30.5" text-anchor="end" font-style="italic">Clec5a</text>
<text x="115.5" y="720.3" font-size="30.5" text-anchor="end" font-style="italic">Clec10a</text>
<text x="115.5" y="753.8" font-size="30.5" text-anchor="end" font-style="italic">Ptpn21</text>
<text x="115.5" y="787.4" font-size="30.5" text-anchor="end" font-style="italic">Ptpn13</text>
<text x="115.5" y="820.9" font-size="30.5" text-anchor="end" font-style="italic">Uaca</text>
<text x="115.5" y="854.5" font-size="30.5" text-anchor="end" font-style="italic">Fndc4</text>
<text x="115.5" y="888.1" font-size="30.5" text-anchor="end" font-style="italic">Siglec1</text>
<text x="115.5" y="921.6" font-size="30.5" text-anchor="end" font-style="italic">B3galnt1</text>
<text x="115.5" y="955.2" font-size="30.5" text-anchor="end" font-style="italic">Emp1</text>
<text x="115.5" y="988.7" font-size="30.5" text-anchor="end" font-style="italic">Fzd6</text>
<text x="115.5" y="1022.3" font-size="30.5" text-anchor="end" font-style="italic">Treml4</text>
<text x="115.5" y="1055.9" font-size="30.5" text-anchor="end" font-style="italic">Klra17</text>
<text x="115.5" y="1089.4" font-size="30.5" text-anchor="end" font-style="italic">Spp1</text>
<text x="115.5" y="1123.0" font-size="30.5" text-anchor="end" font-style="italic">Slamf7</text>
<text x="115.5" y="1156.5" font-size="30.5" text-anchor="end" font-style="italic">Slamf8</text>
<text x="115.5" y="1190.1" font-size="30.5" text-anchor="end" font-style="italic">Traf1</text>
<text x="115.5" y="1223.7" font-size="30.5" text-anchor="end" font-style="italic">Klrd1</text>
<text x="115.5" y="1257.2" font-size="30.5" text-anchor="end" font-style="italic">Gpnmb</text>
<text x="433.0" y="385.5" font-size="37.0">F</text>
<text x="410.6" y="421.0" font-size="37.0">CD206</text>
<text x="521.5" y="413.0" font-size="37.0">+</text>
<text x="548.0" y="421.0" font-size="37.0">CD206</text>
<text x="661.0" y="409.0" font-size="37.0">-</text>
<rect x="451.0" y="426.0" width="33.3" height="33.9" fill="#ff2200" />
<rect x="484.1" y="426.0" width="33.3" height="33.9" fill="#ff2200" />
<rect x="517.1" y="426.0" width="33.3" height="33.9" fill="#ff2200" />
<rect x="550.1" y="426.0" width="33.3" height="33.9" fill="#4050ff" />
<rect x="583.2" y="426.0" width="33.3" height="33.9" fill="#4c5bff" />
<rect x="616.2" y="426.0" width="33.3" height="33.9" fill="#4c5bff" />
<rect x="451.0" y="459.6" width="33.3" height="33.9" fill="#ff2200" />
<rect x="484.1" y="459.6" width="33.3" height="33.9" fill="#ff2200" />
<rect x="517.1" y="459.6" width="33.3" height="33.9" fill="#ff2200" />
<rect x="550.1" y="459.6" width="33.3" height="33.9" fill="#4554ff" />
<rect x="583.2" y="459.6" width="33.3" height="33.9" fill="#4554ff" />
<rect x="616.2" y="459.6" width="33.3" height="33.9" fill="#5362ff" />
<rect x="451.0" y="493.3" width="33.3" height="33.9" fill="#ff2200" />
<rect x="484.1" y="493.3" width="33.3" height="33.9" fill="#ff2200" />
<rect x="517.1" y="493.3" width="33.3" height="33.9" fill="#ff2200" />
<rect x="550.1" y="493.3" width="33.3" height="33.9" fill="#3c4dff" />
<rect x="583.2" y="493.3" width="33.3" height="33.9" fill="#3549ff" />
<rect x="616.2" y="493.3" width="33.3" height="33.9" fill="#2e44ff" />
<rect x="451.0" y="526.9" width="33.3" height="33.9" fill="#ff2200" />
<rect x="484.1" y="526.9" width="33.3" height="33.9" fill="#ff2200" />
<rect x="517.1" y="526.9" width="33.3" height="33.9" fill="#ff2200" />
<rect x="550.1" y="526.9" width="33.3" height="33.9" fill="#3c4dff" />
<rect x="583.2" y="526.9" width="33.3" height="33.9" fill="#4554ff" />
<rect x="616.2" y="526.9" width="33.3" height="33.9" fill="#4c5bff" />
<rect x="451.0" y="560.6" width="33.3" height="33.9" fill="#ff2200" />
<rect x="484.1" y="560.6" width="33.3" height="33.9" fill="#ff3e30" />
<rect x="517.1" y="560.6" width="33.3" height="33.9" fill="#ff2200" />
<rect x="550.1" y="560.6" width="33.3" height="33.9" fill="#5362ff" />
<rect x="583.2" y="560.6" width="33.3" height="33.9" fill="#5d6aff" />
<rect x="616.2" y="560.6" width="33.3" height="33.9" fill="#6b77ff" />
<rect x="451.0" y="594.2" width="33.3" height="33.9" fill="#ff2200" />
<rect x="484.1" y="594.2" width="33.3" height="33.9" fill="#ff2200" />
<rect x="517.1" y="594.2" width="33.3" height="33.9" fill="#ff453c" />
<rect x="550.1" y="594.2" width="33.3" height="33.9" fill="#4c5bff" />
<rect x="583.2" y="594.2" width="33.3" height="33.9" fill="#4554ff" />
<rect x="616.2" y="594.2" width="33.3" height="33.9" fill="#5362ff" />
<rect x="451.0" y="627.8" width="33.3" height="33.9" fill="#ff2200" />
<rect x="484.1" y="627.8" width="33.3" height="33.9" fill="#ff2200" />
<rect x="517.1" y="627.8" width="33.3" height="33.9" fill="#ff2200" />
<rect x="550.1" y="627.8" width="33.3" height="33.9" fill="#4050ff" />
<rect x="583.2" y="627.8" width="33.3" height="33.9" fill="#4554ff" />
<rect x="616.2" y="627.8" width="33.3" height="33.9" fill="#3549ff" />
<rect x="451.0" y="661.5" width="33.3" height="33.9" fill="#ff2200" />
<rect x="484.1" y="661.5" width="33.3" height="33.9" fill="#ff2200" />
<rect x="517.1" y="661.5" width="33.3" height="33.9" fill="#ff2200" />
<rect x="550.1" y="661.5" width="33.3" height="33.9" fill="#6471ff" />
<rect x="583.2" y="661.5" width="33.3" height="33.9" fill="#707cff" />
<rect x="616.2" y="661.5" width="33.3" height="33.9" fill="#707cff" />
<rect x="451.0" y="695.1" width="33.3" height="33.9" fill="#ff2200" />
<rect x="484.1" y="695.1" width="33.3" height="33.9" fill="#ff2200" />
<rect x="517.1" y="695.1" width="33.3" height="33.9" fill="#ff2200" />
<rect x="550.1" y="695.1" width="33.3" height="33.9" fill="#6471ff" />
<rect x="583.2" y="695.1" width="33.3" height="33.9" fill="#707cff" />
<rect x="616.2" y="695.1" width="33.3" height="33.9" fill="#7c87ff" />
<rect x="451.0" y="728.8" width="33.3" height="33.9" fill="#ff7c7c" />
<rect x="484.1" y="728.8" width="33.3" height="33.9" fill="#ff9292" />
<rect x="517.1" y="728.8" width="33.3" height="33.9" fill="#ffacac" />
<rect x="550.1" y="728.8" width="33.3" height="33.9" fill="#5d6aff" />
<rect x="583.2" y="728.8" width="33.3" height="33.9" fill="#707cff" />
<rect x="616.2" y="728.8" width="33.3" height="33.9" fill="#6b77ff" />
<rect x="451.0" y="762.4" width="33.3" height="33.9" fill="#ffd3d3" />
<rect x="484.1" y="762.4" width="33.3" height="33.9" fill="#ffdede" />
<rect x="517.1" y="762.4" width="33.3" height="33.9" fill="#ffb9b9" />
<rect x="550.1" y="762.4" width="33.3" height="33.9" fill="#4050ff" />
<rect x="583.2" y="762.4" width="33.3" height="33.9" fill="#4554ff" />
<rect x="616.2" y="762.4" width="33.3" height="33.9" fill="#5362ff" />
<rect x="451.0" y="796.0" width="33.3" height="33.9" fill="#ff2200" />
<rect x="484.1" y="796.0" width="33.3" height="33.9" fill="#ff5b5b" />
<rect x="517.1" y="796.0" width="33.3" height="33.9" fill="#ff2200" />
<rect x="550.1" y="796.0" width="33.3" height="33.9" fill="#4554ff" />
<rect x="583.2" y="796.0" width="33.3" height="33.9" fill="#4554ff" />
<rect x="616.2" y="796.0" width="33.3" height="33.9" fill="#4554ff" />
<rect x="451.0" y="829.7" width="33.3" height="33.9" fill="#ff2200" />
<rect x="484.1" y="829.7" width="33.3" height="33.9" fill="#ff3928" />
<rect x="517.1" y="829.7" width="33.3" height="33.9" fill="#ff453c" />
<rect x="550.1" y="829.7" width="33.3" height="33.9" fill="#5d6aff" />
<rect x="583.2" y="829.7" width="33.3" height="33.9" fill="#6b77ff" />
<rect x="616.2" y="829.7" width="33.3" height="33.9" fill="#7580ff" />
<rect x="451.0" y="863.3" width="33.3" height="33.9" fill="#ff2200" />
<rect x="484.1" y="863.3" width="33.3" height="33.9" fill="#ff2200" />
<rect x="517.1" y="863.3" width="33.3" height="33.9" fill="#ff2200" />
<rect x="550.1" y="863.3" width="33.3" height="33.9" fill="#5d6aff" />
<rect x="583.2" y="863.3" width="33.3" height="33.9" fill="#707cff" />
<rect x="616.2" y="863.3" width="33.3" height="33.9" fill="#6471ff" />
<rect x="451.0" y="897.0" width="33.3" height="33.9" fill="#ff2200" />
<rect x="484.1" y="897.0" width="33.3" height="33.9" fill="#ff2200" />
<rect x="517.1" y="897.0" width="33.3" height="33.9" fill="#ff3e30" />
<rect x="550.1" y="897.0" width="33.3" height="33.9" fill="#5d6aff" />
<rect x="583.2" y="897.0" width="33.3" height="33.9" fill="#5d6aff" />
<rect x="616.2" y="897.0" width="33.3" height="33.9" fill="#6471ff" />
<rect x="451.0" y="930.6" width="33.3" height="33.9" fill="#ff2e14" />
<rect x="484.1" y="930.6" width="33.3" height="33.9" fill="#ff7c7c" />
<rect x="517.1" y="930.6" width="33.3" height="33.9" fill="#ff6262" />
<rect x="550.1" y="930.6" width="33.3" height="33.9" fill="#6b77ff" />
<rect x="583.2" y="930.6" width="33.3" height="33.9" fill="#7580ff" />
<rect x="616.2" y="930.6" width="33.3" height="33.9" fill="#7580ff" />
<rect x="451.0" y="964.2" width="33.3" height="33.9" fill="#ff2200" />
<rect x="484.1" y="964.2" width="33.3" height="33.9" fill="#ff7171" />
<rect x="517.1" y="964.2" width="33.3" height="33.9" fill="#ff8787" />
<rect x="550.1" y="964.2" width="33.3" height="33.9" fill="#4c5bff" />
<rect x="583.2" y="964.2" width="33.3" height="33.9" fill="#4c5bff" />
<rect x="616.2" y="964.2" width="33.3" height="33.9" fill="#5d6aff" />
<rect x="451.0" y="997.9" width="33.3" height="33.9" fill="#4554ff" />
<rect x="484.1" y="997.9" width="33.3" height="33.9" fill="#4c5bff" />
<rect x="517.1" y="997.9" width="33.3" height="33.9" fill="#5d6aff" />
<rect x="550.1" y="997.9" width="33.3" height="33.9" fill="#ffb2b2" />
<rect x="583.2" y="997.9" width="33.3" height="33.9" fill="#ff5b5b" />
<rect x="616.2" y="997.9" width="33.3" height="33.9" fill="#ff2200" />
<rect x="451.0" y="1031.5" width="33.3" height="33.9" fill="#5362ff" />
<rect x="484.1" y="1031.5" width="33.3" height="33.9" fill="#5362ff" />
<rect x="517.1" y="1031.5" width="33.3" height="33.9" fill="#4554ff" />
<rect x="550.1" y="1031.5" width="33.3" height="33.9" fill="#ff9d9d" />
<rect x="583.2" y="1031.5" width="33.3" height="33.9" fill="#ff6262" />
<rect x="616.2" y="1031.5" width="33.3" height="33.9" fill="#ff2200" />
<rect x="451.0" y="1065.2" width="33.3" height="33.9" fill="#b7bdff" />
<rect x="484.1" y="1065.2" width="33.3" height="33.9" fill="#cacfff" />
<rect x="517.1" y="1065.2" width="33.3" height="33.9" fill="#a0a8ff" />
<rect x="550.1" y="1065.2" width="33.3" height="33.9" fill="#ffd3d3" />
<rect x="583.2" y="1065.2" width="33.3" height="33.9" fill="#ffd3d3" />
<rect x="616.2" y="1065.2" width="33.3" height="33.9" fill="#ffc8c8" />
<rect x="451.0" y="1098.8" width="33.3" height="33.9" fill="#4050ff" />
<rect x="484.1" y="1098.8" width="33.3" height="33.9" fill="#3c4dff" />
<rect x="517.1" y="1098.8" width="33.3" height="33.9" fill="#6b77ff" />
<rect x="550.1" y="1098.8" width="33.3" height="33.9" fill="#ff8787" />
<rect x="583.2" y="1098.8" width="33.3" height="33.9" fill="#ffeeee" />
<rect x="616.2" y="1098.8" width="33.3" height="33.9" fill="#ff3928" />
<rect x="451.0" y="1132.4" width="33.3" height="33.9" fill="#bcc2ff" />
<rect x="484.1" y="1132.4" width="33.3" height="33.9" fill="#bcc2ff" />
<rect x="517.1" y="1132.4" width="33.3" height="33.9" fill="#a4acff" />
<rect x="550.1" y="1132.4" width="33.3" height="33.9" fill="#ff7c7c" />
<rect x="583.2" y="1132.4" width="33.3" height="33.9" fill="#ff9292" />
<rect x="616.2" y="1132.4" width="33.3" height="33.9" fill="#ff7c7c" />
<rect x="451.0" y="1166.1" width="33.3" height="33.9" fill="#abb2ff" />
<rect x="484.1" y="1166.1" width="33.3" height="33.9" fill="#cacfff" />
<rect x="517.1" y="1166.1" width="33.3" height="33.9" fill="#a4acff" />
<rect x="550.1" y="1166.1" width="33.3" height="33.9" fill="#ff7c7c" />
<rect x="583.2" y="1166.1" width="33.3" height="33.9" fill="#ff9d9d" />
<rect x="616.2" y="1166.1" width="33.3" height="33.9" fill="#ff6262" />
<rect x="451.0" y="1199.7" width="33.3" height="33.9" fill="#4c5bff" />
<rect x="484.1" y="1199.7" width="33.3" height="33.9" fill="#4050ff" />
<rect x="517.1" y="1199.7" width="33.3" height="33.9" fill="#5362ff" />
<rect x="550.1" y="1199.7" width="33.3" height="33.9" fill="#ff2200" />
<rect x="583.2" y="1199.7" width="33.3" height="33.9" fill="#ff2200" />
<rect x="616.2" y="1199.7" width="33.3" height="33.9" fill="#ff2200" />
<rect x="451.0" y="1233.4" width="33.3" height="33.9" fill="#bcc2ff" />
<rect x="484.1" y="1233.4" width="33.3" height="33.9" fill="#a4acff" />
<rect x="517.1" y="1233.4" width="33.3" height="33.9" fill="#bcc2ff" />
<rect x="550.1" y="1233.4" width="33.3" height="33.9" fill="#ff3928" />
<rect x="583.2" y="1233.4" width="33.3" height="33.9" fill="#ff2e14" />
<rect x="616.2" y="1233.4" width="33.3" height="33.9" fill="#ff2e14" />
<line x1="484.1" y1="426.0" x2="484.1" y2="1267.0" stroke="#000" stroke-width="2.40" />
<line x1="517.1" y1="426.0" x2="517.1" y2="1267.0" stroke="#000" stroke-width="2.40" />
<line x1="550.1" y1="426.0" x2="550.1" y2="1267.0" stroke="#000" stroke-width="2.40" />
<line x1="583.2" y1="426.0" x2="583.2" y2="1267.0" stroke="#000" stroke-width="2.40" />
<line x1="616.2" y1="426.0" x2="616.2" y2="1267.0" stroke="#000" stroke-width="2.40" />
<line x1="451.0" y1="459.6" x2="649.3" y2="459.6" stroke="#000" stroke-width="2.40" />
<line x1="451.0" y1="493.3" x2="649.3" y2="493.3" stroke="#000" stroke-width="2.40" />
<line x1="451.0" y1="526.9" x2="649.3" y2="526.9" stroke="#000" stroke-width="2.40" />
<line x1="451.0" y1="560.6" x2="649.3" y2="560.6" stroke="#000" stroke-width="2.40" />
<line x1="451.0" y1="594.2" x2="649.3" y2="594.2" stroke="#000" stroke-width="2.40" />
<line x1="451.0" y1="627.8" x2="649.3" y2="627.8" stroke="#000" stroke-width="2.40" />
<line x1="451.0" y1="661.5" x2="649.3" y2="661.5" stroke="#000" stroke-width="2.40" />
<line x1="451.0" y1="695.1" x2="649.3" y2="695.1" stroke="#000" stroke-width="2.40" />
<line x1="451.0" y1="728.8" x2="649.3" y2="728.8" stroke="#000" stroke-width="2.40" />
<line x1="451.0" y1="762.4" x2="649.3" y2="762.4" stroke="#000" stroke-width="2.40" />
<line x1="451.0" y1="796.0" x2="649.3" y2="796.0" stroke="#000" stroke-width="2.40" />
<line x1="451.0" y1="829.7" x2="649.3" y2="829.7" stroke="#000" stroke-width="2.40" />
<line x1="451.0" y1="863.3" x2="649.3" y2="863.3" stroke="#000" stroke-width="2.40" />
<line x1="451.0" y1="897.0" x2="649.3" y2="897.0" stroke="#000" stroke-width="2.40" />
<line x1="451.0" y1="930.6" x2="649.3" y2="930.6" stroke="#000" stroke-width="2.40" />
<line x1="451.0" y1="964.2" x2="649.3" y2="964.2" stroke="#000" stroke-width="2.40" />
<line x1="451.0" y1="997.9" x2="649.3" y2="997.9" stroke="#000" stroke-width="2.40" />
<line x1="451.0" y1="1031.5" x2="649.3" y2="1031.5" stroke="#000" stroke-width="2.40" />
<line x1="451.0" y1="1065.2" x2="649.3" y2="1065.2" stroke="#000" stroke-width="2.40" />
<line x1="451.0" y1="1098.8" x2="649.3" y2="1098.8" stroke="#000" stroke-width="2.40" />
<line x1="451.0" y1="1132.4" x2="649.3" y2="1132.4" stroke="#000" stroke-width="2.40" />
<line x1="451.0" y1="1166.1" x2="649.3" y2="1166.1" stroke="#000" stroke-width="2.40" />
<line x1="451.0" y1="1199.7" x2="649.3" y2="1199.7" stroke="#000" stroke-width="2.40" />
<line x1="451.0" y1="1233.4" x2="649.3" y2="1233.4" stroke="#000" stroke-width="2.40" />
<rect x="451.0" y="426.0" width="198.3" height="841.0" fill="none" stroke="#000" stroke-width="2.80" />
<text x="447.5" y="452.8" font-size="30.5" text-anchor="end" font-style="italic">Fcna</text>
<text x="447.5" y="486.5" font-size="30.5" text-anchor="end" font-style="italic">P2ry12</text>
<text x="447.5" y="520.1" font-size="30.5" text-anchor="end" font-style="italic">Ppp1r9a</text>
<text x="447.5" y="553.7" font-size="30.5" text-anchor="end" font-style="italic">C2</text>
<text x="447.5" y="587.4" font-size="30.5" text-anchor="end" font-style="italic">Spats2</text>
<text x="447.5" y="621.0" font-size="30.5" text-anchor="end" font-style="italic">Spats2l</text>
<text x="447.5" y="654.7" font-size="30.5" text-anchor="end" font-style="italic">Siglech</text>
<text x="447.5" y="688.3" font-size="30.5" text-anchor="end" font-style="italic">Clec5a</text>
<text x="447.5" y="721.9" font-size="30.5" text-anchor="end" font-style="italic">Clec10a</text>
<text x="447.5" y="755.6" font-size="30.5" text-anchor="end" font-style="italic">Ptpn21</text>
<text x="447.5" y="789.2" font-size="30.5" text-anchor="end" font-style="italic">Ptpn13</text>
<text x="447.5" y="822.9" font-size="30.5" text-anchor="end" font-style="italic">Uaca</text>
<text x="447.5" y="856.5" font-size="30.5" text-anchor="end" font-style="italic">Fndc4</text>
<text x="447.5" y="890.1" font-size="30.5" text-anchor="end" font-style="italic">Siglec1</text>
<text x="447.5" y="923.8" font-size="30.5" text-anchor="end" font-style="italic">B3galnt1</text>
<text x="447.5" y="957.4" font-size="30.5" text-anchor="end" font-style="italic">Emp1</text>
<text x="447.5" y="991.1" font-size="30.5" text-anchor="end" font-style="italic">Fzd6</text>
<text x="447.5" y="1024.7" font-size="30.5" text-anchor="end" font-style="italic">Treml4</text>
<text x="447.5" y="1058.3" font-size="30.5" text-anchor="end" font-style="italic">Klra17</text>
<text x="447.5" y="1092.0" font-size="30.5" text-anchor="end" font-style="italic">Spp1</text>
<text x="447.5" y="1125.6" font-size="30.5" text-anchor="end" font-style="italic">Pkp3</text>
<text x="447.5" y="1159.3" font-size="30.5" text-anchor="end" font-style="italic">Slamf8</text>
<text x="447.5" y="1192.9" font-size="30.5" text-anchor="end" font-style="italic">Traf1</text>
<text x="447.5" y="1226.5" font-size="30.5" text-anchor="end" font-style="italic">Klrd1</text>
<text x="447.5" y="1260.2" font-size="30.5" text-anchor="end" font-style="italic">Gpnmb</text>
<defs><linearGradient id="cb1" x1="0" y1="0" x2="1" y2="0"><stop offset="0" stop-color="#1434ff"/><stop offset="0.3" stop-color="#ffffff"/><stop offset="1" stop-color="#f01010"/></linearGradient></defs>
<rect x="318.0" y="1274.5" width="129.0" height="24.0" fill="url(#cb1)" stroke="#000" stroke-width="2.00" />
<line x1="360.6" y1="1274.5" x2="360.6" y2="1278.5" stroke="#000" stroke-width="1.50" />
<line x1="360.6" y1="1294.5" x2="360.6" y2="1298.5" stroke="#000" stroke-width="1.50" />
<line x1="403.1" y1="1274.5" x2="403.1" y2="1278.5" stroke="#000" stroke-width="1.50" />
<line x1="403.1" y1="1294.5" x2="403.1" y2="1298.5" stroke="#000" stroke-width="1.50" />
<text x="305.0" y="1297.0" font-size="36.0" text-anchor="end" font-style="italic">min</text>
<text x="457.0" y="1297.0" font-size="36.0" font-style="italic">max</text>
<text x="23.0" y="1412.8" font-size="37.0">G</text>
<text x="168.5" y="1381.4" font-size="37.0"><tspan>CX</tspan><tspan dy="3.70" font-size="24.4">3</tspan><tspan dy="-3.70">CR</tspan><tspan dy="3.70" font-size="24.4">1</tspan><tspan dy="-11.10" font-size="24.4">-</tspan></text>
<text x="317.0" y="1381.4" font-size="37.0"><tspan>CX</tspan><tspan dy="3.70" font-size="24.4">3</tspan><tspan dy="-3.70">CR</tspan><tspan dy="3.70" font-size="24.4">1</tspan><tspan dy="-11.10" font-size="24.4">+</tspan></text>
<text x="200.0" y="1414.2" font-size="37.0"><tspan>CCR2</tspan><tspan dy="-7.40" font-size="24.4">-</tspan></text>
<text x="317.0" y="1414.2" font-size="37.0"><tspan>CCR2</tspan><tspan dy="-7.40" font-size="24.4">+</tspan></text>
<rect x="221.3" y="1424.0" width="32.4" height="33.5" fill="#fafbff" />
<rect x="253.4" y="1424.0" width="32.4" height="33.5" fill="#dbdeff" />
<rect x="285.5" y="1424.0" width="32.4" height="33.5" fill="#dbdeff" />
<rect x="317.6" y="1424.0" width="32.4" height="33.5" fill="#ffbdbd" />
<rect x="349.8" y="1424.0" width="32.4" height="33.5" fill="#ff5050" />
<rect x="381.9" y="1424.0" width="32.4" height="33.5" fill="#ff453c" />
<rect x="221.3" y="1457.2" width="32.4" height="33.5" fill="#4c5bff" />
<rect x="253.4" y="1457.2" width="32.4" height="33.5" fill="#dbdeff" />
<rect x="285.5" y="1457.2" width="32.4" height="33.5" fill="#8892ff" />
<rect x="317.6" y="1457.2" width="32.4" height="33.5" fill="#ffb2b2" />
<rect x="349.8" y="1457.2" width="32.4" height="33.5" fill="#ff9d9d" />
<rect x="381.9" y="1457.2" width="32.4" height="33.5" fill="#ff2200" />
<rect x="221.3" y="1490.4" width="32.4" height="33.5" fill="#f8f8ff" />
<rect x="253.4" y="1490.4" width="32.4" height="33.5" fill="#ffc8c8" />
<rect x="285.5" y="1490.4" width="32.4" height="33.5" fill="#ffc8c8" />
<rect x="317.6" y="1490.4" width="32.4" height="33.5" fill="#ff7171" />
<rect x="349.8" y="1490.4" width="32.4" height="33.5" fill="#ff7c7c" />
<rect x="381.9" y="1490.4" width="32.4" height="33.5" fill="#ff7c7c" />
<rect x="221.3" y="1523.6" width="32.4" height="33.5" fill="#b7bdff" />
<rect x="253.4" y="1523.6" width="32.4" height="33.5" fill="#a4acff" />
<rect x="285.5" y="1523.6" width="32.4" height="33.5" fill="#8892ff" />
<rect x="317.6" y="1523.6" width="32.4" height="33.5" fill="#ff2e14" />
<rect x="349.8" y="1523.6" width="32.4" height="33.5" fill="#ff9d9d" />
<rect x="381.9" y="1523.6" width="32.4" height="33.5" fill="#ff7c7c" />
<rect x="221.3" y="1556.8" width="32.4" height="33.5" fill="#fff8f8" />
<rect x="253.4" y="1556.8" width="32.4" height="33.5" fill="#b7bdff" />
<rect x="285.5" y="1556.8" width="32.4" height="33.5" fill="#ffeeee" />
<rect x="317.6" y="1556.8" width="32.4" height="33.5" fill="#ff2200" />
<rect x="349.8" y="1556.8" width="32.4" height="33.5" fill="#ff8787" />
<rect x="381.9" y="1556.8" width="32.4" height="33.5" fill="#ff9d9d" />
<rect x="221.3" y="1590.0" width="32.4" height="33.5" fill="#ffcfcf" />
<rect x="253.4" y="1590.0" width="32.4" height="33.5" fill="#c3c8ff" />
<rect x="285.5" y="1590.0" width="32.4" height="33.5" fill="#ffb2b2" />
<rect x="317.6" y="1590.0" width="32.4" height="33.5" fill="#ff2e14" />
<rect x="349.8" y="1590.0" width="32.4" height="33.5" fill="#ff8787" />
<rect x="381.9" y="1590.0" width="32.4" height="33.5" fill="#ff9292" />
<rect x="221.3" y="1623.2" width="32.4" height="33.5" fill="#dbdeff" />
<rect x="253.4" y="1623.2" width="32.4" height="33.5" fill="#cacfff" />
<rect x="285.5" y="1623.2" width="32.4" height="33.5" fill="#cacfff" />
<rect x="317.6" y="1623.2" width="32.4" height="33.5" fill="#ffb9b9" />
<rect x="349.8" y="1623.2" width="32.4" height="33.5" fill="#ff5b5b" />
<rect x="381.9" y="1623.2" width="32.4" height="33.5" fill="#ff453c" />
<rect x="221.3" y="1656.4" width="32.4" height="33.5" fill="#cfd3ff" />
<rect x="253.4" y="1656.4" width="32.4" height="33.5" fill="#c3c8ff" />
<rect x="285.5" y="1656.4" width="32.4" height="33.5" fill="#b7bdff" />
<rect x="317.6" y="1656.4" width="32.4" height="33.5" fill="#ffb9b9" />
<rect x="349.8" y="1656.4" width="32.4" height="33.5" fill="#ff5b5b" />
<rect x="381.9" y="1656.4" width="32.4" height="33.5" fill="#ff2e14" />
<rect x="221.3" y="1689.6" width="32.4" height="33.5" fill="#e7e9ff" />
<rect x="253.4" y="1689.6" width="32.4" height="33.5" fill="#dbdeff" />
<rect x="285.5" y="1689.6" width="32.4" height="33.5" fill="#e7e9ff" />
<rect x="317.6" y="1689.6" width="32.4" height="33.5" fill="#ffb2b2" />
<rect x="349.8" y="1689.6" width="32.4" height="33.5" fill="#ff5b5b" />
<rect x="381.9" y="1689.6" width="32.4" height="33.5" fill="#ff453c" />
<rect x="221.3" y="1722.9" width="32.4" height="33.5" fill="#c3c8ff" />
<rect x="253.4" y="1722.9" width="32.4" height="33.5" fill="#c3c8ff" />
<rect x="285.5" y="1722.9" width="32.4" height="33.5" fill="#b3b9ff" />
<rect x="317.6" y="1722.9" width="32.4" height="33.5" fill="#ffb2b2" />
<rect x="349.8" y="1722.9" width="32.4" height="33.5" fill="#ff5b5b" />
<rect x="381.9" y="1722.9" width="32.4" height="33.5" fill="#ff3e30" />
<rect x="221.3" y="1756.1" width="32.4" height="33.5" fill="#b3b9ff" />
<rect x="253.4" y="1756.1" width="32.4" height="33.5" fill="#d4d8ff" />
<rect x="285.5" y="1756.1" width="32.4" height="33.5" fill="#b7bdff" />
<rect x="317.6" y="1756.1" width="32.4" height="33.5" fill="#ffb2b2" />
<rect x="349.8" y="1756.1" width="32.4" height="33.5" fill="#ff6666" />
<rect x="381.9" y="1756.1" width="32.4" height="33.5" fill="#ff3e30" />
<rect x="221.3" y="1789.3" width="32.4" height="33.5" fill="#cfd3ff" />
<rect x="253.4" y="1789.3" width="32.4" height="33.5" fill="#b7bdff" />
<rect x="285.5" y="1789.3" width="32.4" height="33.5" fill="#b7bdff" />
<rect x="317.6" y="1789.3" width="32.4" height="33.5" fill="#ffc8c8" />
<rect x="349.8" y="1789.3" width="32.4" height="33.5" fill="#ff5050" />
<rect x="381.9" y="1789.3" width="32.4" height="33.5" fill="#ff2e14" />
<rect x="221.3" y="1822.5" width="32.4" height="33.5" fill="#cfd3ff" />
<rect x="253.4" y="1822.5" width="32.4" height="33.5" fill="#949dff" />
<rect x="285.5" y="1822.5" width="32.4" height="33.5" fill="#7c87ff" />
<rect x="317.6" y="1822.5" width="32.4" height="33.5" fill="#ffd8d8" />
<rect x="349.8" y="1822.5" width="32.4" height="33.5" fill="#ff9292" />
<rect x="381.9" y="1822.5" width="32.4" height="33.5" fill="#ff2200" />
<rect x="221.3" y="1855.7" width="32.4" height="33.5" fill="#ffeeee" />
<rect x="253.4" y="1855.7" width="32.4" height="33.5" fill="#ffb2b2" />
<rect x="285.5" y="1855.7" width="32.4" height="33.5" fill="#fff8f8" />
<rect x="317.6" y="1855.7" width="32.4" height="33.5" fill="#ff9d9d" />
<rect x="349.8" y="1855.7" width="32.4" height="33.5" fill="#ff7171" />
<rect x="381.9" y="1855.7" width="32.4" height="33.5" fill="#ff5050" />
<rect x="221.3" y="1888.9" width="32.4" height="33.5" fill="#dbdeff" />
<rect x="253.4" y="1888.9" width="32.4" height="33.5" fill="#fff8f8" />
<rect x="285.5" y="1888.9" width="32.4" height="33.5" fill="#dbdeff" />
<rect x="317.6" y="1888.9" width="32.4" height="33.5" fill="#ff2200" />
<rect x="349.8" y="1888.9" width="32.4" height="33.5" fill="#ffbdbd" />
<rect x="381.9" y="1888.9" width="32.4" height="33.5" fill="#ff6666" />
<rect x="221.3" y="1922.1" width="32.4" height="33.5" fill="#3549ff" />
<rect x="253.4" y="1922.1" width="32.4" height="33.5" fill="#bcc2ff" />
<rect x="285.5" y="1922.1" width="32.4" height="33.5" fill="#abb2ff" />
<rect x="317.6" y="1922.1" width="32.4" height="33.5" fill="#ff2200" />
<rect x="349.8" y="1922.1" width="32.4" height="33.5" fill="#ff9d9d" />
<rect x="381.9" y="1922.1" width="32.4" height="33.5" fill="#cacfff" />
<rect x="221.3" y="1955.3" width="32.4" height="33.5" fill="#8892ff" />
<rect x="253.4" y="1955.3" width="32.4" height="33.5" fill="#abb2ff" />
<rect x="285.5" y="1955.3" width="32.4" height="33.5" fill="#949dff" />
<rect x="317.6" y="1955.3" width="32.4" height="33.5" fill="#ff2200" />
<rect x="349.8" y="1955.3" width="32.4" height="33.5" fill="#ffe5e5" />
<rect x="381.9" y="1955.3" width="32.4" height="33.5" fill="#ffbdbd" />
<line x1="253.4" y1="1424.0" x2="253.4" y2="1988.5" stroke="#000" stroke-width="2.40" />
<line x1="285.5" y1="1424.0" x2="285.5" y2="1988.5" stroke="#000" stroke-width="2.40" />
<line x1="317.6" y1="1424.0" x2="317.6" y2="1988.5" stroke="#000" stroke-width="2.40" />
<line x1="349.8" y1="1424.0" x2="349.8" y2="1988.5" stroke="#000" stroke-width="2.40" />
<line x1="381.9" y1="1424.0" x2="381.9" y2="1988.5" stroke="#000" stroke-width="2.40" />
<line x1="221.3" y1="1457.2" x2="414.0" y2="1457.2" stroke="#000" stroke-width="2.40" />
<line x1="221.3" y1="1490.4" x2="414.0" y2="1490.4" stroke="#000" stroke-width="2.40" />
<line x1="221.3" y1="1523.6" x2="414.0" y2="1523.6" stroke="#000" stroke-width="2.40" />
<line x1="221.3" y1="1556.8" x2="414.0" y2="1556.8" stroke="#000" stroke-width="2.40" />
<line x1="221.3" y1="1590.0" x2="414.0" y2="1590.0" stroke="#000" stroke-width="2.40" />
<line x1="221.3" y1="1623.2" x2="414.0" y2="1623.2" stroke="#000" stroke-width="2.40" />
<line x1="221.3" y1="1656.4" x2="414.0" y2="1656.4" stroke="#000" stroke-width="2.40" />
<line x1="221.3" y1="1689.6" x2="414.0" y2="1689.6" stroke="#000" stroke-width="2.40" />
<line x1="221.3" y1="1722.9" x2="414.0" y2="1722.9" stroke="#000" stroke-width="2.40" />
<line x1="221.3" y1="1756.1" x2="414.0" y2="1756.1" stroke="#000" stroke-width="2.40" />
<line x1="221.3" y1="1789.3" x2="414.0" y2="1789.3" stroke="#000" stroke-width="2.40" />
<line x1="221.3" y1="1822.5" x2="414.0" y2="1822.5" stroke="#000" stroke-width="2.40" />
<line x1="221.3" y1="1855.7" x2="414.0" y2="1855.7" stroke="#000" stroke-width="2.40" />
<line x1="221.3" y1="1888.9" x2="414.0" y2="1888.9" stroke="#000" stroke-width="2.40" />
<line x1="221.3" y1="1922.1" x2="414.0" y2="1922.1" stroke="#000" stroke-width="2.40" />
<line x1="221.3" y1="1955.3" x2="414.0" y2="1955.3" stroke="#000" stroke-width="2.40" />
<rect x="221.3" y="1424.0" width="192.7" height="564.5" fill="none" stroke="#000" stroke-width="2.80" />
<text x="216.5" y="1446.6" font-size="29.0" text-anchor="end" font-style="italic">Cd74</text>
<text x="216.5" y="1479.8" font-size="29.0" text-anchor="end" font-style="italic">Itgax</text>
<text x="216.5" y="1513.0" font-size="29.0" text-anchor="end" font-style="italic">Tnfrsf1b</text>
<text x="216.5" y="1546.2" font-size="29.0" text-anchor="end" font-style="italic">Tnfsf9</text>
<text x="216.5" y="1579.4" font-size="29.0" text-anchor="end" font-style="italic">S100a4</text>
<text x="216.5" y="1612.6" font-size="29.0" text-anchor="end" font-style="italic">S100a6</text>
<text x="216.5" y="1645.8" font-size="29.0" text-anchor="end" font-style="italic">H2-Aa</text>
<text x="216.5" y="1679.0" font-size="29.0" text-anchor="end" font-style="italic">H2-Ab1</text>
<text x="216.5" y="1712.2" font-size="29.0" text-anchor="end" font-style="italic">H2-DMa</text>
<text x="216.5" y="1745.5" font-size="29.0" text-anchor="end" font-style="italic">H2-DMb1</text>
<text x="216.5" y="1778.7" font-size="29.0" text-anchor="end" font-style="italic">H2-DMb2</text>
<text x="216.5" y="1811.9" font-size="29.0" text-anchor="end" font-style="italic">H2-Eb1</text>
<text x="216.5" y="1845.1" font-size="29.0" text-anchor="end" font-style="italic">H2-Eb2</text>
<text x="216.5" y="1878.3" font-size="29.0" text-anchor="end" font-style="italic">Csf2ra</text>
<text x="216.5" y="1911.5" font-size="29.0" text-anchor="end" font-style="italic">Ctss</text>
<text x="216.5" y="1944.7" font-size="29.0" text-anchor="end" font-style="italic">Ctsk</text>
<text x="216.5" y="1977.9" font-size="29.0" text-anchor="end" font-style="italic">Igals3</text>
<rect x="218.0" y="1997.0" width="33.6" height="31.4" fill="#ff2200" />
<rect x="251.3" y="1997.0" width="33.6" height="31.4" fill="#eceeff" />
<rect x="284.7" y="1997.0" width="33.6" height="31.4" fill="#ff2200" />
<rect x="318.0" y="1997.0" width="33.6" height="31.4" fill="#abb2ff" />
<rect x="351.3" y="1997.0" width="33.6" height="31.4" fill="#ffe5e5" />
<rect x="384.7" y="1997.0" width="33.6" height="31.4" fill="#949dff" />
<rect x="218.0" y="2028.1" width="33.6" height="31.4" fill="#ff2200" />
<rect x="251.3" y="2028.1" width="33.6" height="31.4" fill="#ffb2b2" />
<rect x="284.7" y="2028.1" width="33.6" height="31.4" fill="#ff2200" />
<rect x="318.0" y="2028.1" width="33.6" height="31.4" fill="#4554ff" />
<rect x="351.3" y="2028.1" width="33.6" height="31.4" fill="#8892ff" />
<rect x="384.7" y="2028.1" width="33.6" height="31.4" fill="#3549ff" />
<rect x="218.0" y="2059.2" width="33.6" height="31.4" fill="#ff2200" />
<rect x="251.3" y="2059.2" width="33.6" height="31.4" fill="#ffc8c8" />
<rect x="284.7" y="2059.2" width="33.6" height="31.4" fill="#ff5b5b" />
<rect x="318.0" y="2059.2" width="33.6" height="31.4" fill="#6b77ff" />
<rect x="351.3" y="2059.2" width="33.6" height="31.4" fill="#c3c8ff" />
<rect x="384.7" y="2059.2" width="33.6" height="31.4" fill="#7c87ff" />
<rect x="218.0" y="2090.3" width="33.6" height="31.4" fill="#ff2200" />
<rect x="251.3" y="2090.3" width="33.6" height="31.4" fill="#ff3928" />
<rect x="284.7" y="2090.3" width="33.6" height="31.4" fill="#ff5454" />
<rect x="318.0" y="2090.3" width="33.6" height="31.4" fill="#3c4dff" />
<rect x="351.3" y="2090.3" width="33.6" height="31.4" fill="#6b77ff" />
<rect x="384.7" y="2090.3" width="33.6" height="31.4" fill="#2a41ff" />
<rect x="218.0" y="2121.4" width="33.6" height="31.4" fill="#ff2200" />
<rect x="251.3" y="2121.4" width="33.6" height="31.4" fill="#ffc2c2" />
<rect x="284.7" y="2121.4" width="33.6" height="31.4" fill="#ff2200" />
<rect x="318.0" y="2121.4" width="33.6" height="31.4" fill="#a4acff" />
<rect x="351.3" y="2121.4" width="33.6" height="31.4" fill="#bcc2ff" />
<rect x="384.7" y="2121.4" width="33.6" height="31.4" fill="#8892ff" />
<rect x="218.0" y="2152.5" width="33.6" height="31.4" fill="#ff2200" />
<rect x="251.3" y="2152.5" width="33.6" height="31.4" fill="#ff5050" />
<rect x="284.7" y="2152.5" width="33.6" height="31.4" fill="#ff5454" />
<rect x="318.0" y="2152.5" width="33.6" height="31.4" fill="#5d6aff" />
<rect x="351.3" y="2152.5" width="33.6" height="31.4" fill="#949dff" />
<rect x="384.7" y="2152.5" width="33.6" height="31.4" fill="#5d6aff" />
<rect x="218.0" y="2183.6" width="33.6" height="31.4" fill="#ff2200" />
<rect x="251.3" y="2183.6" width="33.6" height="31.4" fill="#ff5050" />
<rect x="284.7" y="2183.6" width="33.6" height="31.4" fill="#ff5454" />
<rect x="318.0" y="2183.6" width="33.6" height="31.4" fill="#5d6aff" />
<rect x="351.3" y="2183.6" width="33.6" height="31.4" fill="#949dff" />
<rect x="384.7" y="2183.6" width="33.6" height="31.4" fill="#5866ff" />
<rect x="218.0" y="2214.8" width="33.6" height="31.4" fill="#ff4b48" />
<rect x="251.3" y="2214.8" width="33.6" height="31.4" fill="#ff5454" />
<rect x="284.7" y="2214.8" width="33.6" height="31.4" fill="#ff2200" />
<rect x="318.0" y="2214.8" width="33.6" height="31.4" fill="#ffacac" />
<rect x="351.3" y="2214.8" width="33.6" height="31.4" fill="#ff5b5b" />
<rect x="384.7" y="2214.8" width="33.6" height="31.4" fill="#ffc2c2" />
<rect x="218.0" y="2245.9" width="33.6" height="31.4" fill="#ff2200" />
<rect x="251.3" y="2245.9" width="33.6" height="31.4" fill="#ff2200" />
<rect x="284.7" y="2245.9" width="33.6" height="31.4" fill="#ff7c7c" />
<rect x="318.0" y="2245.9" width="33.6" height="31.4" fill="#707cff" />
<rect x="351.3" y="2245.9" width="33.6" height="31.4" fill="#3c4dff" />
<rect x="384.7" y="2245.9" width="33.6" height="31.4" fill="#cacfff" />
<rect x="218.0" y="2277.0" width="33.6" height="31.4" fill="#ff8787" />
<rect x="251.3" y="2277.0" width="33.6" height="31.4" fill="#ff2200" />
<rect x="284.7" y="2277.0" width="33.6" height="31.4" fill="#ff2200" />
<rect x="318.0" y="2277.0" width="33.6" height="31.4" fill="#ffe5e5" />
<rect x="351.3" y="2277.0" width="33.6" height="31.4" fill="#ff9292" />
<rect x="384.7" y="2277.0" width="33.6" height="31.4" fill="#ffb2b2" />
<rect x="218.0" y="2308.1" width="33.6" height="31.4" fill="#ff2200" />
<rect x="251.3" y="2308.1" width="33.6" height="31.4" fill="#ffc2c2" />
<rect x="284.7" y="2308.1" width="33.6" height="31.4" fill="#ff2200" />
<rect x="318.0" y="2308.1" width="33.6" height="31.4" fill="#6b77ff" />
<rect x="351.3" y="2308.1" width="33.6" height="31.4" fill="#abb2ff" />
<rect x="384.7" y="2308.1" width="33.6" height="31.4" fill="#6471ff" />
<rect x="218.0" y="2339.2" width="33.6" height="31.4" fill="#ff9d9d" />
<rect x="251.3" y="2339.2" width="33.6" height="31.4" fill="#ff2200" />
<rect x="284.7" y="2339.2" width="33.6" height="31.4" fill="#ff7171" />
<rect x="318.0" y="2339.2" width="33.6" height="31.4" fill="#ff2200" />
<rect x="351.3" y="2339.2" width="33.6" height="31.4" fill="#ff2200" />
<rect x="384.7" y="2339.2" width="33.6" height="31.4" fill="#ff2200" />
<rect x="218.0" y="2370.3" width="33.6" height="31.4" fill="#ff6666" />
<rect x="251.3" y="2370.3" width="33.6" height="31.4" fill="#ff2200" />
<rect x="284.7" y="2370.3" width="33.6" height="31.4" fill="#ff9292" />
<rect x="318.0" y="2370.3" width="33.6" height="31.4" fill="#ff2200" />
<rect x="351.3" y="2370.3" width="33.6" height="31.4" fill="#ff2200" />
<rect x="384.7" y="2370.3" width="33.6" height="31.4" fill="#ff2200" />
<rect x="218.0" y="2401.4" width="33.6" height="31.4" fill="#ff2200" />
<rect x="251.3" y="2401.4" width="33.6" height="31.4" fill="#ff9292" />
<rect x="284.7" y="2401.4" width="33.6" height="31.4" fill="#ff2200" />
<rect x="318.0" y="2401.4" width="33.6" height="31.4" fill="#b7bdff" />
<rect x="351.3" y="2401.4" width="33.6" height="31.4" fill="#ffe5e5" />
<rect x="384.7" y="2401.4" width="33.6" height="31.4" fill="#8892ff" />
<line x1="251.3" y1="1997.0" x2="251.3" y2="2432.5" stroke="#000" stroke-width="2.40" />
<line x1="284.7" y1="1997.0" x2="284.7" y2="2432.5" stroke="#000" stroke-width="2.40" />
<line x1="318.0" y1="1997.0" x2="318.0" y2="2432.5" stroke="#000" stroke-width="2.40" />
<line x1="351.3" y1="1997.0" x2="351.3" y2="2432.5" stroke="#000" stroke-width="2.40" />
<line x1="384.7" y1="1997.0" x2="384.7" y2="2432.5" stroke="#000" stroke-width="2.40" />
<line x1="218.0" y1="2028.1" x2="418.0" y2="2028.1" stroke="#000" stroke-width="2.40" />
<line x1="218.0" y1="2059.2" x2="418.0" y2="2059.2" stroke="#000" stroke-width="2.40" />
<line x1="218.0" y1="2090.3" x2="418.0" y2="2090.3" stroke="#000" stroke-width="2.40" />
<line x1="218.0" y1="2121.4" x2="418.0" y2="2121.4" stroke="#000" stroke-width="2.40" />
<line x1="218.0" y1="2152.5" x2="418.0" y2="2152.5" stroke="#000" stroke-width="2.40" />
<line x1="218.0" y1="2183.6" x2="418.0" y2="2183.6" stroke="#000" stroke-width="2.40" />
<line x1="218.0" y1="2214.8" x2="418.0" y2="2214.8" stroke="#000" stroke-width="2.40" />
<line x1="218.0" y1="2245.9" x2="418.0" y2="2245.9" stroke="#000" stroke-width="2.40" />
<line x1="218.0" y1="2277.0" x2="418.0" y2="2277.0" stroke="#000" stroke-width="2.40" />
<line x1="218.0" y1="2308.1" x2="418.0" y2="2308.1" stroke="#000" stroke-width="2.40" />
<line x1="218.0" y1="2339.2" x2="418.0" y2="2339.2" stroke="#000" stroke-width="2.40" />
<line x1="218.0" y1="2370.3" x2="418.0" y2="2370.3" stroke="#000" stroke-width="2.40" />
<line x1="218.0" y1="2401.4" x2="418.0" y2="2401.4" stroke="#000" stroke-width="2.40" />
<rect x="218.0" y="1997.0" width="200.0" height="435.5" fill="none" stroke="#000" stroke-width="2.80" />
<text x="214.0" y="2021.6" font-size="29.0" text-anchor="end" font-style="italic">Cd209a</text>
<text x="214.0" y="2052.7" font-size="29.0" text-anchor="end" font-style="italic">Cd209b</text>
<text x="214.0" y="2083.8" font-size="29.0" text-anchor="end" font-style="italic">Cd209c</text>
<text x="214.0" y="2114.9" font-size="29.0" text-anchor="end" font-style="italic">Cd209d</text>
<text x="214.0" y="2146.0" font-size="29.0" text-anchor="end" font-style="italic">Cd209e</text>
<text x="214.0" y="2177.1" font-size="29.0" text-anchor="end" font-style="italic">Cd209f</text>
<text x="214.0" y="2208.2" font-size="29.0" text-anchor="end" font-style="italic">Cd209g</text>
<text x="214.0" y="2239.3" font-size="29.0" text-anchor="end" font-style="italic">Dab2</text>
<text x="214.0" y="2270.4" font-size="29.0" text-anchor="end" font-style="italic">Saa3</text>
<text x="214.0" y="2301.5" font-size="29.0" text-anchor="end" font-style="italic">Tgfbr2</text>
<text x="214.0" y="2332.6" font-size="29.0" text-anchor="end" font-style="italic">Lyve1</text>
<text x="214.0" y="2363.7" font-size="29.0" text-anchor="end" font-style="italic">Id2</text>
<text x="214.0" y="2394.8" font-size="29.0" text-anchor="end" font-style="italic">Id3</text>
<text x="214.0" y="2425.9" font-size="29.0" text-anchor="end" font-style="italic">Cd163</text>
<line x1="83.6" y1="1437.0" x2="83.6" y2="1976.4" stroke="#000" stroke-width="2.00" />
<line x1="104.5" y1="1998.2" x2="104.5" y2="2445.3" stroke="#000" stroke-width="2.00" />
<text x="37.2" y="1697.0" font-size="37.0" text-anchor="middle" transform="rotate(-90.0 37.2 1697.0)">insulin resistance inducing pro-</text>
<text x="70.2" y="1689.7" font-size="37.0" text-anchor="middle" transform="rotate(-90.0 70.2 1689.7)">inflammatory genes</text>
<text x="53.3" y="2032.0" font-size="37.0" text-anchor="end" transform="rotate(-90.0 53.3 2032.0)">insulin sensitivity enhancing</text>
<text x="87.6" y="2257.0" font-size="37.0" text-anchor="middle" transform="rotate(-90.0 87.6 2257.0)">anti-inflammatory genes</text>
<defs><linearGradient id="cb2" x1="0" y1="0" x2="1" y2="0"><stop offset="0" stop-color="#1434ff"/><stop offset="0.3" stop-color="#ffffff"/><stop offset="1" stop-color="#f01010"/></linearGradient></defs>
<rect x="229.0" y="2445.5" width="129.5" height="24.5" fill="url(#cb2)" stroke="#000" stroke-width="2.00" />
<line x1="271.7" y1="2445.5" x2="271.7" y2="2449.5" stroke="#000" stroke-width="1.50" />
<line x1="271.7" y1="2466.0" x2="271.7" y2="2470.0" stroke="#000" stroke-width="1.50" />
<line x1="314.5" y1="2445.5" x2="314.5" y2="2449.5" stroke="#000" stroke-width="1.50" />
<line x1="314.5" y1="2466.0" x2="314.5" y2="2470.0" stroke="#000" stroke-width="1.50" />
<text x="216.0" y="2472.0" font-size="36.0" text-anchor="end" font-style="italic">min</text>
<text x="370.0" y="2472.0" font-size="36.0" font-style="italic">max</text>
<text x="739.0" y="428.9" font-size="37.0">H</text>
<line x1="776.0" y1="461.5" x2="776.0" y2="592.0" stroke="#000" stroke-width="2.00" />
<line x1="775.0" y1="592.0" x2="1858.0" y2="592.0" stroke="#000" stroke-width="2.00" />
<line x1="771.0" y1="461.5" x2="776.0" y2="461.5" stroke="#000" stroke-width="2.00" />
<text x="767.3" y="468.8" font-size="36.0" text-anchor="end">2</text>
<line x1="771.0" y1="518.5" x2="776.0" y2="518.5" stroke="#000" stroke-width="2.00" />
<text x="767.3" y="528.7" font-size="36.0" text-anchor="end">1</text>
<line x1="771.0" y1="576.0" x2="776.0" y2="576.0" stroke="#000" stroke-width="2.00" />
<text x="767.3" y="579.5" font-size="36.0" text-anchor="end">0</text>
<line x1="779.0" y1="798.0" x2="779.0" y2="926.5" stroke="#000" stroke-width="2.00" />
<line x1="778.0" y1="926.5" x2="1858.0" y2="926.5" stroke="#000" stroke-width="2.00" />
<line x1="774.0" y1="798.0" x2="779.0" y2="798.0" stroke="#000" stroke-width="2.00" />
<text x="773.5" y="815.0" font-size="36.0" text-anchor="end">2</text>
<line x1="774.0" y1="852.5" x2="779.0" y2="852.5" stroke="#000" stroke-width="2.00" />
<text x="773.5" y="867.7" font-size="36.0" text-anchor="end">1</text>
<line x1="774.0" y1="908.7" x2="779.0" y2="908.7" stroke="#000" stroke-width="2.00" />
<text x="773.5" y="916.7" font-size="36.0" text-anchor="end">0</text>
<text x="737.0" y="665.0" font-size="37.0" text-anchor="middle" transform="rotate(-90.0 737.0 665.0)">Relative expression</text>
<line x1="775.5" y1="576.8" x2="840.3" y2="576.8" stroke="#222" stroke-width="1.40" stroke-dasharray="1.3,1.3"/>
<ellipse cx="793.8" cy="490.7" rx="2.7" ry="4.1" fill="#ff2400"/>
<ellipse cx="787.9" cy="507.4" rx="2.7" ry="4.1" fill="#ff2400"/>
<ellipse cx="800.3" cy="514.7" rx="2.7" ry="4.1" fill="#ff2400"/>
<ellipse cx="793.8" cy="523.9" rx="2.7" ry="4.1" fill="#ff2400"/>
<ellipse cx="800.3" cy="533.5" rx="2.7" ry="4.1" fill="#ff2400"/>
<ellipse cx="787.9" cy="538.9" rx="2.7" ry="4.1" fill="#ff2400"/>
<ellipse cx="820.0" cy="538.9" rx="2.7" ry="4.1" fill="#0030ff"/>
<ellipse cx="824.3" cy="537.4" rx="2.7" ry="4.1" fill="#0030ff"/>
<ellipse cx="815.7" cy="550.7" rx="2.7" ry="4.1" fill="#0030ff"/>
<ellipse cx="820.0" cy="551.7" rx="2.7" ry="4.1" fill="#0030ff"/>
<ellipse cx="824.3" cy="550.7" rx="2.7" ry="4.1" fill="#0030ff"/>
<ellipse cx="828.5" cy="550.7" rx="2.7" ry="4.1" fill="#0030ff"/>
<ellipse cx="818.9" cy="544.3" rx="2.7" ry="4.1" fill="#0030ff"/>
<line x1="784.5" y1="518.1" x2="803.5" y2="518.1" stroke="#000" stroke-width="1.80" />
<line x1="812.2" y1="546.8" x2="831.2" y2="546.8" stroke="#000" stroke-width="1.80" />
<text x="814.5" y="487.5" font-size="32.0" font-style="italic" transform="rotate(-61.0 814.5 487.5)">P=0.0043</text>
<text x="784.5" y="666.0" font-size="37.0" font-style="italic" transform="rotate(-32.0 784.5 666.0)">Cd74</text>
<line x1="862.8" y1="578.5" x2="927.1" y2="578.5" stroke="#222" stroke-width="1.40" stroke-dasharray="1.3,1.3"/>
<ellipse cx="879.5" cy="486.4" rx="2.7" ry="4.1" fill="#ff2400"/>
<ellipse cx="873.1" cy="540.0" rx="2.7" ry="4.1" fill="#ff2400"/>
<ellipse cx="885.9" cy="540.4" rx="2.7" ry="4.1" fill="#ff2400"/>
<ellipse cx="879.5" cy="546.0" rx="2.7" ry="4.1" fill="#ff2400"/>
<ellipse cx="882.7" cy="554.5" rx="2.7" ry="4.1" fill="#ff2400"/>
<ellipse cx="876.3" cy="561.0" rx="2.7" ry="4.1" fill="#ff2400"/>
<ellipse cx="907.8" cy="525.4" rx="2.7" ry="4.1" fill="#0030ff"/>
<ellipse cx="901.4" cy="539.5" rx="2.7" ry="4.1" fill="#0030ff"/>
<ellipse cx="907.8" cy="537.8" rx="2.7" ry="4.1" fill="#0030ff"/>
<ellipse cx="914.6" cy="544.3" rx="2.7" ry="4.1" fill="#0030ff"/>
<ellipse cx="907.8" cy="560.3" rx="2.7" ry="4.1" fill="#0030ff"/>
<ellipse cx="907.8" cy="570.4" rx="2.7" ry="4.1" fill="#0030ff"/>
<line x1="870.0" y1="537.8" x2="889.0" y2="537.8" stroke="#000" stroke-width="1.80" />
<line x1="898.4" y1="546.8" x2="917.4" y2="546.8" stroke="#000" stroke-width="1.80" />
<text x="901.5" y="483.8" font-size="32.0" font-style="italic" transform="rotate(-61.0 901.5 483.8)">P&gt;0.999</text>
<text x="829.5" y="684.0" font-size="37.0" font-style="italic" transform="rotate(-32.0 829.5 684.0)">Tnfrsf1b</text>
<line x1="960.3" y1="579.0" x2="1022.4" y2="579.0" stroke="#222" stroke-width="1.40" stroke-dasharray="1.3,1.3"/>
<ellipse cx="983.8" cy="514.3" rx="2.7" ry="4.1" fill="#ff2400"/>
<ellipse cx="971.0" cy="521.1" rx="2.7" ry="4.1" fill="#ff2400"/>
<ellipse cx="983.8" cy="526.0" rx="2.7" ry="4.1" fill="#ff2400"/>
<ellipse cx="977.4" cy="540.0" rx="2.7" ry="4.1" fill="#ff2400"/>
<ellipse cx="977.4" cy="561.0" rx="2.7" ry="4.1" fill="#ff2400"/>
<ellipse cx="977.4" cy="570.4" rx="2.7" ry="4.1" fill="#ff2400"/>
<ellipse cx="1005.2" cy="561.0" rx="2.7" ry="4.1" fill="#0030ff"/>
<ellipse cx="1002.0" cy="572.5" rx="2.7" ry="4.1" fill="#0030ff"/>
<ellipse cx="998.8" cy="579.0" rx="2.7" ry="4.1" fill="#0030ff"/>
<ellipse cx="1005.2" cy="579.0" rx="2.7" ry="4.1" fill="#0030ff"/>
<ellipse cx="1011.7" cy="579.0" rx="2.7" ry="4.1" fill="#0030ff"/>
<ellipse cx="1008.5" cy="576.4" rx="2.7" ry="4.1" fill="#0030ff"/>
<line x1="969.0" y1="538.7" x2="988.0" y2="538.7" stroke="#000" stroke-width="1.80" />
<line x1="995.7" y1="574.9" x2="1014.7" y2="574.9" stroke="#000" stroke-width="1.80" />
<text x="986.7" y="492.9" font-size="32.0" font-style="italic" transform="rotate(-61.0 986.7 492.9)">P=0.0043</text>
<text x="925.5" y="673.6" font-size="37.0" font-style="italic" transform="rotate(-32.0 925.5 673.6)">Tnfsf9</text>
<line x1="1057.7" y1="580.2" x2="1120.9" y2="580.2" stroke="#222" stroke-width="1.40" stroke-dasharray="1.3,1.3"/>
<ellipse cx="1072.7" cy="507.4" rx="2.7" ry="4.1" fill="#ff2400"/>
<ellipse cx="1066.3" cy="540.4" rx="2.7" ry="4.1" fill="#ff2400"/>
<ellipse cx="1072.7" cy="538.9" rx="2.7" ry="4.1" fill="#ff2400"/>
<ellipse cx="1079.1" cy="544.3" rx="2.7" ry="4.1" fill="#ff2400"/>
<ellipse cx="1069.5" cy="555.4" rx="2.7" ry="4.1" fill="#ff2400"/>
<ellipse cx="1075.9" cy="553.2" rx="2.7" ry="4.1" fill="#ff2400"/>
<ellipse cx="1101.6" cy="562.5" rx="2.7" ry="4.1" fill="#0030ff"/>
<ellipse cx="1098.4" cy="572.5" rx="2.7" ry="4.1" fill="#0030ff"/>
<ellipse cx="1095.2" cy="580.7" rx="2.7" ry="4.1" fill="#0030ff"/>
<ellipse cx="1101.6" cy="580.7" rx="2.7" ry="4.1" fill="#0030ff"/>
<ellipse cx="1108.0" cy="580.7" rx="2.7" ry="4.1" fill="#0030ff"/>
<ellipse cx="1104.8" cy="578.1" rx="2.7" ry="4.1" fill="#0030ff"/>
<line x1="1063.2" y1="540.4" x2="1082.2" y2="540.4" stroke="#000" stroke-width="1.80" />
<line x1="1092.1" y1="576.0" x2="1111.1" y2="576.0" stroke="#000" stroke-width="1.80" />
<text x="1082.9" y="487.5" font-size="32.0" font-style="italic" transform="rotate(-61.0 1082.9 487.5)">P=0.0022</text>
<text x="1026.9" y="686.3" font-size="37.0" font-style="italic" transform="rotate(-32.0 1026.9 686.3)">S100a6</text>
<line x1="1146.8" y1="578.5" x2="1212.1" y2="578.5" stroke="#222" stroke-width="1.40" stroke-dasharray="1.3,1.3"/>
<ellipse cx="1163.9" cy="506.8" rx="2.7" ry="4.1" fill="#ff2400"/>
<ellipse cx="1157.5" cy="546.8" rx="2.7" ry="4.1" fill="#ff2400"/>
<ellipse cx="1170.8" cy="549.6" rx="2.7" ry="4.1" fill="#ff2400"/>
<ellipse cx="1157.5" cy="557.1" rx="2.7" ry="4.1" fill="#ff2400"/>
<ellipse cx="1157.5" cy="567.8" rx="2.7" ry="4.1" fill="#ff2400"/>
<ellipse cx="1170.8" cy="565.7" rx="2.7" ry="4.1" fill="#ff2400"/>
<ellipse cx="1193.3" cy="559.2" rx="2.7" ry="4.1" fill="#0030ff"/>
<ellipse cx="1190.3" cy="564.6" rx="2.7" ry="4.1" fill="#0030ff"/>
<ellipse cx="1196.7" cy="566.7" rx="2.7" ry="4.1" fill="#0030ff"/>
<ellipse cx="1186.8" cy="572.1" rx="2.7" ry="4.1" fill="#0030ff"/>
<ellipse cx="1193.3" cy="572.5" rx="2.7" ry="4.1" fill="#0030ff"/>
<ellipse cx="1199.7" cy="573.8" rx="2.7" ry="4.1" fill="#0030ff"/>
<line x1="1153.5" y1="549.0" x2="1172.5" y2="549.0" stroke="#000" stroke-width="1.80" />
<line x1="1183.9" y1="568.2" x2="1202.9" y2="568.2" stroke="#000" stroke-width="1.80" />
<text x="1180.8" y="485.5" font-size="32.0" font-style="italic" transform="rotate(-61.0 1180.8 485.5)">P=0.0411</text>
<text x="1121.2" y="686.3" font-size="37.0" font-style="italic" transform="rotate(-32.0 1121.2 686.3)">S100a4</text>
<line x1="1238.9" y1="579.0" x2="1305.3" y2="579.0" stroke="#222" stroke-width="1.40" stroke-dasharray="1.3,1.3"/>
<ellipse cx="1256.0" cy="512.1" rx="2.7" ry="4.1" fill="#ff2400"/>
<ellipse cx="1249.6" cy="515.3" rx="2.7" ry="4.1" fill="#ff2400"/>
<ellipse cx="1262.9" cy="516.4" rx="2.7" ry="4.1" fill="#ff2400"/>
<ellipse cx="1256.0" cy="523.9" rx="2.7" ry="4.1" fill="#ff2400"/>
<ellipse cx="1249.6" cy="531.4" rx="2.7" ry="4.1" fill="#ff2400"/>
<ellipse cx="1262.9" cy="526.7" rx="2.7" ry="4.1" fill="#ff2400"/>
<ellipse cx="1285.6" cy="514.3" rx="2.7" ry="4.1" fill="#0030ff"/>
<ellipse cx="1285.6" cy="535.7" rx="2.7" ry="4.1" fill="#0030ff"/>
<ellipse cx="1285.6" cy="549.0" rx="2.7" ry="4.1" fill="#0030ff"/>
<ellipse cx="1285.6" cy="567.4" rx="2.7" ry="4.1" fill="#0030ff"/>
<ellipse cx="1292.0" cy="569.5" rx="2.7" ry="4.1" fill="#0030ff"/>
<ellipse cx="1278.9" cy="574.2" rx="2.7" ry="4.1" fill="#0030ff"/>
<line x1="1246.7" y1="521.1" x2="1265.7" y2="521.1" stroke="#000" stroke-width="1.80" />
<line x1="1276.0" y1="551.7" x2="1295.0" y2="551.7" stroke="#000" stroke-width="1.80" />
<text x="1275.2" y="487.5" font-size="32.0" font-style="italic" transform="rotate(-61.0 1275.2 487.5)">P=0.0411</text>
<text x="1231.9" y="677.2" font-size="37.0" font-style="italic" transform="rotate(-32.0 1231.9 677.2)">H2-Aa</text>
<line x1="1331.0" y1="579.6" x2="1397.4" y2="579.6" stroke="#222" stroke-width="1.40" stroke-dasharray="1.3,1.3"/>
<ellipse cx="1348.1" cy="503.1" rx="2.7" ry="4.1" fill="#ff2400"/>
<ellipse cx="1341.7" cy="519.6" rx="2.7" ry="4.1" fill="#ff2400"/>
<ellipse cx="1348.1" cy="520.7" rx="2.7" ry="4.1" fill="#ff2400"/>
<ellipse cx="1354.5" cy="521.8" rx="2.7" ry="4.1" fill="#ff2400"/>
<ellipse cx="1341.7" cy="529.3" rx="2.7" ry="4.1" fill="#ff2400"/>
<ellipse cx="1350.7" cy="526.7" rx="2.7" ry="4.1" fill="#ff2400"/>
<ellipse cx="1371.2" cy="526.0" rx="2.7" ry="4.1" fill="#0030ff"/>
<ellipse cx="1378.1" cy="532.5" rx="2.7" ry="4.1" fill="#0030ff"/>
<ellipse cx="1371.2" cy="566.7" rx="2.7" ry="4.1" fill="#0030ff"/>
<ellipse cx="1378.1" cy="572.1" rx="2.7" ry="4.1" fill="#0030ff"/>
<ellipse cx="1384.5" cy="573.2" rx="2.7" ry="4.1" fill="#0030ff"/>
<ellipse cx="1371.2" cy="578.5" rx="2.7" ry="4.1" fill="#0030ff"/>
<line x1="1338.0" y1="520.3" x2="1357.0" y2="520.3" stroke="#000" stroke-width="1.80" />
<line x1="1366.2" y1="558.2" x2="1385.2" y2="558.2" stroke="#000" stroke-width="1.80" />
<text x="1353.5" y="488.0" font-size="32.0" font-style="italic" transform="rotate(-61.0 1353.5 488.0)">P=0.0087</text>
<text x="1305.9" y="675.3" font-size="37.0" font-style="italic" transform="rotate(-32.0 1305.9 675.3)">H2-Ab1</text>
<line x1="1422.0" y1="571.0" x2="1486.3" y2="571.0" stroke="#222" stroke-width="1.40" stroke-dasharray="1.3,1.3"/>
<ellipse cx="1439.1" cy="503.1" rx="2.7" ry="4.1" fill="#ff2400"/>
<ellipse cx="1439.1" cy="518.1" rx="2.7" ry="4.1" fill="#ff2400"/>
<ellipse cx="1439.1" cy="533.1" rx="2.7" ry="4.1" fill="#ff2400"/>
<ellipse cx="1432.3" cy="555.4" rx="2.7" ry="4.1" fill="#ff2400"/>
<ellipse cx="1439.1" cy="554.5" rx="2.7" ry="4.1" fill="#ff2400"/>
<ellipse cx="1446.0" cy="555.4" rx="2.7" ry="4.1" fill="#ff2400"/>
<ellipse cx="1461.6" cy="571.0" rx="2.7" ry="4.1" fill="#0030ff"/>
<ellipse cx="1465.9" cy="571.0" rx="2.7" ry="4.1" fill="#0030ff"/>
<ellipse cx="1470.2" cy="571.0" rx="2.7" ry="4.1" fill="#0030ff"/>
<ellipse cx="1474.5" cy="571.0" rx="2.7" ry="4.1" fill="#0030ff"/>
<line x1="1429.6" y1="536.8" x2="1448.6" y2="536.8" stroke="#000" stroke-width="1.80" />
<line x1="1458.5" y1="571.0" x2="1477.5" y2="571.0" stroke="#000" stroke-width="1.80" />
<text x="1438.3" y="488.0" font-size="32.0" font-style="italic" transform="rotate(-61.0 1438.3 488.0)">P=0.0022</text>
<text x="1377.8" y="679.0" font-size="37.0" font-style="italic" transform="rotate(-32.0 1377.8 679.0)">H2-DMa</text>
<line x1="1516.4" y1="580.2" x2="1580.7" y2="580.2" stroke="#222" stroke-width="1.40" stroke-dasharray="1.3,1.3"/>
<ellipse cx="1533.6" cy="513.8" rx="2.7" ry="4.1" fill="#ff2400"/>
<ellipse cx="1533.6" cy="525.0" rx="2.7" ry="4.1" fill="#ff2400"/>
<ellipse cx="1533.6" cy="536.3" rx="2.7" ry="4.1" fill="#ff2400"/>
<ellipse cx="1533.6" cy="549.6" rx="2.7" ry="4.1" fill="#ff2400"/>
<ellipse cx="1533.6" cy="559.7" rx="2.7" ry="4.1" fill="#ff2400"/>
<ellipse cx="1533.6" cy="568.9" rx="2.7" ry="4.1" fill="#ff2400"/>
<ellipse cx="1561.8" cy="546.0" rx="2.7" ry="4.1" fill="#0030ff"/>
<ellipse cx="1561.8" cy="565.7" rx="2.7" ry="4.1" fill="#0030ff"/>
<ellipse cx="1568.2" cy="571.0" rx="2.7" ry="4.1" fill="#0030ff"/>
<ellipse cx="1555.4" cy="580.2" rx="2.7" ry="4.1" fill="#0030ff"/>
<ellipse cx="1561.8" cy="580.2" rx="2.7" ry="4.1" fill="#0030ff"/>
<ellipse cx="1568.2" cy="580.2" rx="2.7" ry="4.1" fill="#0030ff"/>
<line x1="1524.1" y1="542.1" x2="1543.1" y2="542.1" stroke="#000" stroke-width="1.80" />
<line x1="1553.4" y1="570.8" x2="1572.4" y2="570.8" stroke="#000" stroke-width="1.80" />
<text x="1541.5" y="489.9" font-size="32.0" font-style="italic" transform="rotate(-61.0 1541.5 489.9)">P=0.0260</text>
<text x="1442.4" y="695.6" font-size="37.0" font-style="italic" transform="rotate(-32.0 1442.4 695.6)">H2-DMb1</text>
<line x1="1607.4" y1="580.2" x2="1670.6" y2="580.2" stroke="#222" stroke-width="1.40" stroke-dasharray="1.3,1.3"/>
<ellipse cx="1623.5" cy="507.8" rx="2.7" ry="4.1" fill="#ff2400"/>
<ellipse cx="1617.1" cy="537.8" rx="2.7" ry="4.1" fill="#ff2400"/>
<ellipse cx="1629.9" cy="539.5" rx="2.7" ry="4.1" fill="#ff2400"/>
<ellipse cx="1623.5" cy="556.0" rx="2.7" ry="4.1" fill="#ff2400"/>
<ellipse cx="1629.9" cy="573.2" rx="2.7" ry="4.1" fill="#ff2400"/>
<ellipse cx="1617.1" cy="580.2" rx="2.7" ry="4.1" fill="#ff2400"/>
<ellipse cx="1652.0" cy="543.8" rx="2.7" ry="4.1" fill="#0030ff"/>
<ellipse cx="1644.9" cy="580.2" rx="2.7" ry="4.1" fill="#0030ff"/>
<ellipse cx="1649.2" cy="580.2" rx="2.7" ry="4.1" fill="#0030ff"/>
<ellipse cx="1653.5" cy="580.2" rx="2.7" ry="4.1" fill="#0030ff"/>
<ellipse cx="1657.8" cy="580.2" rx="2.7" ry="4.1" fill="#0030ff"/>
<line x1="1614.0" y1="549.2" x2="1633.0" y2="549.2" stroke="#000" stroke-width="1.80" />
<line x1="1642.0" y1="574.2" x2="1661.0" y2="574.2" stroke="#000" stroke-width="1.80" />
<text x="1630.1" y="486.2" font-size="32.0" font-style="italic" transform="rotate(-61.0 1630.1 486.2)">P=0.0195</text>
<text x="1537.5" y="692.0" font-size="37.0" font-style="italic" transform="rotate(-32.0 1537.5 692.0)">H2-DMb2</text>
<line x1="1696.3" y1="580.7" x2="1760.6" y2="580.7" stroke="#222" stroke-width="1.40" stroke-dasharray="1.3,1.3"/>
<ellipse cx="1712.8" cy="510.4" rx="2.7" ry="4.1" fill="#ff2400"/>
<ellipse cx="1712.8" cy="520.3" rx="2.7" ry="4.1" fill="#ff2400"/>
<ellipse cx="1712.8" cy="532.5" rx="2.7" ry="4.1" fill="#ff2400"/>
<ellipse cx="1712.8" cy="549.6" rx="2.7" ry="4.1" fill="#ff2400"/>
<ellipse cx="1706.4" cy="557.1" rx="2.7" ry="4.1" fill="#ff2400"/>
<ellipse cx="1719.2" cy="555.0" rx="2.7" ry="4.1" fill="#ff2400"/>
<ellipse cx="1740.9" cy="553.9" rx="2.7" ry="4.1" fill="#0030ff"/>
<ellipse cx="1734.9" cy="580.2" rx="2.7" ry="4.1" fill="#0030ff"/>
<ellipse cx="1739.2" cy="580.2" rx="2.7" ry="4.1" fill="#0030ff"/>
<ellipse cx="1743.4" cy="580.2" rx="2.7" ry="4.1" fill="#0030ff"/>
<ellipse cx="1747.7" cy="580.2" rx="2.7" ry="4.1" fill="#0030ff"/>
<line x1="1703.3" y1="537.4" x2="1722.3" y2="537.4" stroke="#000" stroke-width="1.80" />
<line x1="1731.7" y1="574.9" x2="1750.7" y2="574.9" stroke="#000" stroke-width="1.80" />
<text x="1716.8" y="486.2" font-size="32.0" font-style="italic" transform="rotate(-61.0 1716.8 486.2)">P=0.0087</text>
<text x="1667.4" y="673.5" font-size="37.0" font-style="italic" transform="rotate(-32.0 1667.4 673.5)">H2-Eb1</text>
<line x1="1785.2" y1="579.0" x2="1850.5" y2="579.0" stroke="#222" stroke-width="1.40" stroke-dasharray="1.3,1.3"/>
<ellipse cx="1802.3" cy="498.8" rx="2.7" ry="4.1" fill="#ff2400"/>
<ellipse cx="1802.3" cy="516.0" rx="2.7" ry="4.1" fill="#ff2400"/>
<ellipse cx="1800.2" cy="551.8" rx="2.7" ry="4.1" fill="#ff2400"/>
<ellipse cx="1795.9" cy="557.5" rx="2.7" ry="4.1" fill="#ff2400"/>
<ellipse cx="1804.5" cy="557.1" rx="2.7" ry="4.1" fill="#ff2400"/>
<ellipse cx="1809.2" cy="555.0" rx="2.7" ry="4.1" fill="#ff2400"/>
<ellipse cx="1831.9" cy="514.9" rx="2.7" ry="4.1" fill="#0030ff"/>
<ellipse cx="1831.9" cy="534.2" rx="2.7" ry="4.1" fill="#0030ff"/>
<ellipse cx="1831.9" cy="547.5" rx="2.7" ry="4.1" fill="#0030ff"/>
<ellipse cx="1825.3" cy="579.0" rx="2.7" ry="4.1" fill="#0030ff"/>
<ellipse cx="1831.9" cy="579.0" rx="2.7" ry="4.1" fill="#0030ff"/>
<ellipse cx="1838.8" cy="579.0" rx="2.7" ry="4.1" fill="#0030ff"/>
<line x1="1792.9" y1="539.3" x2="1811.9" y2="539.3" stroke="#000" stroke-width="1.80" />
<line x1="1822.5" y1="555.6" x2="1841.5" y2="555.6" stroke="#000" stroke-width="1.80" />
<text x="1807.1" y="489.9" font-size="32.0" font-style="italic" transform="rotate(-61.0 1807.1 489.9)">P=0.4827</text>
<text x="1752.2" y="671.6" font-size="37.0" font-style="italic" transform="rotate(-32.0 1752.2 671.6)">Csf2ra</text>
<line x1="778.9" y1="908.7" x2="837.0" y2="908.7" stroke="#222" stroke-width="1.40" stroke-dasharray="1.3,1.3"/>
<ellipse cx="795.8" cy="888.5" rx="2.7" ry="4.1" fill="#ff2400"/>
<ellipse cx="795.8" cy="893.9" rx="2.7" ry="4.1" fill="#ff2400"/>
<ellipse cx="792.1" cy="900.3" rx="2.7" ry="4.1" fill="#ff2400"/>
<ellipse cx="799.2" cy="900.3" rx="2.7" ry="4.1" fill="#ff2400"/>
<ellipse cx="795.8" cy="904.6" rx="2.7" ry="4.1" fill="#ff2400"/>
<ellipse cx="790.0" cy="902.5" rx="2.7" ry="4.1" fill="#ff2400"/>
<ellipse cx="801.8" cy="902.5" rx="2.7" ry="4.1" fill="#ff2400"/>
<ellipse cx="824.7" cy="840.8" rx="2.7" ry="4.1" fill="#0030ff"/>
<ellipse cx="818.7" cy="844.6" rx="2.7" ry="4.1" fill="#0030ff"/>
<ellipse cx="815.7" cy="856.0" rx="2.7" ry="4.1" fill="#0030ff"/>
<ellipse cx="821.7" cy="859.6" rx="2.7" ry="4.1" fill="#0030ff"/>
<ellipse cx="827.5" cy="854.9" rx="2.7" ry="4.1" fill="#0030ff"/>
<ellipse cx="827.5" cy="875.3" rx="2.7" ry="4.1" fill="#0030ff"/>
<ellipse cx="815.7" cy="882.1" rx="2.7" ry="4.1" fill="#0030ff"/>
<ellipse cx="821.7" cy="888.1" rx="2.7" ry="4.1" fill="#0030ff"/>
<ellipse cx="827.5" cy="887.5" rx="2.7" ry="4.1" fill="#0030ff"/>
<ellipse cx="821.7" cy="905.7" rx="2.7" ry="4.1" fill="#0030ff"/>
<line x1="786.8" y1="899.2" x2="804.8" y2="899.2" stroke="#000" stroke-width="1.80" />
<line x1="813.2" y1="869.7" x2="831.2" y2="869.7" stroke="#000" stroke-width="1.80" />
<text x="803.9" y="831.5" font-size="33.5" font-style="italic" transform="rotate(-61.0 803.9 831.5)">P=0.0015</text>
<text x="738.5" y="1014.4" font-size="37.0" font-style="italic" transform="rotate(-32.0 738.5 1014.4)">Cd209a</text>
<line x1="862.4" y1="906.9" x2="926.6" y2="906.9" stroke="#222" stroke-width="1.40" stroke-dasharray="1.3,1.3"/>
<ellipse cx="872.0" cy="903.0" rx="2.7" ry="4.1" fill="#ff2400"/>
<ellipse cx="877.0" cy="904.0" rx="2.7" ry="4.1" fill="#ff2400"/>
<ellipse cx="882.0" cy="903.0" rx="2.7" ry="4.1" fill="#ff2400"/>
<ellipse cx="886.0" cy="905.0" rx="2.7" ry="4.1" fill="#ff2400"/>
<ellipse cx="874.0" cy="907.0" rx="2.7" ry="4.1" fill="#ff2400"/>
<ellipse cx="880.0" cy="908.0" rx="2.7" ry="4.1" fill="#ff2400"/>
<ellipse cx="885.0" cy="907.0" rx="2.7" ry="4.1" fill="#ff2400"/>
<ellipse cx="871.0" cy="906.0" rx="2.7" ry="4.1" fill="#ff2400"/>
<ellipse cx="901.4" cy="830.3" rx="2.7" ry="4.1" fill="#0030ff"/>
<ellipse cx="907.8" cy="838.2" rx="2.7" ry="4.1" fill="#0030ff"/>
<ellipse cx="907.8" cy="862.4" rx="2.7" ry="4.1" fill="#0030ff"/>
<ellipse cx="901.4" cy="881.0" rx="2.7" ry="4.1" fill="#0030ff"/>
<ellipse cx="914.6" cy="877.8" rx="2.7" ry="4.1" fill="#0030ff"/>
<ellipse cx="901.4" cy="890.7" rx="2.7" ry="4.1" fill="#0030ff"/>
<ellipse cx="914.6" cy="887.0" rx="2.7" ry="4.1" fill="#0030ff"/>
<ellipse cx="907.8" cy="895.6" rx="2.7" ry="4.1" fill="#0030ff"/>
<ellipse cx="901.4" cy="902.0" rx="2.7" ry="4.1" fill="#0030ff"/>
<ellipse cx="914.6" cy="899.7" rx="2.7" ry="4.1" fill="#0030ff"/>
<line x1="869.4" y1="905.2" x2="887.4" y2="905.2" stroke="#000" stroke-width="1.80" />
<line x1="898.3" y1="876.5" x2="916.3" y2="876.5" stroke="#000" stroke-width="1.80" />
<text x="907.3" y="822.5" font-size="33.5" font-style="italic" transform="rotate(-61.0 907.3 822.5)">P&lt;0.0001</text>
<text x="840.0" y="1016.2" font-size="37.0" font-style="italic" transform="rotate(-32.0 840.0 1016.2)">Cd209b</text>
<line x1="959.2" y1="908.0" x2="1024.5" y2="908.0" stroke="#222" stroke-width="1.40" stroke-dasharray="1.3,1.3"/>
<ellipse cx="969.9" cy="892.8" rx="2.7" ry="4.1" fill="#ff2400"/>
<ellipse cx="983.2" cy="893.9" rx="2.7" ry="4.1" fill="#ff2400"/>
<ellipse cx="976.3" cy="901.0" rx="2.7" ry="4.1" fill="#ff2400"/>
<ellipse cx="969.9" cy="906.7" rx="2.7" ry="4.1" fill="#ff2400"/>
<ellipse cx="983.2" cy="905.7" rx="2.7" ry="4.1" fill="#ff2400"/>
<ellipse cx="1005.9" cy="837.1" rx="2.7" ry="4.1" fill="#0030ff"/>
<ellipse cx="999.5" cy="848.9" rx="2.7" ry="4.1" fill="#0030ff"/>
<ellipse cx="999.5" cy="858.6" rx="2.7" ry="4.1" fill="#0030ff"/>
<ellipse cx="1012.7" cy="857.5" rx="2.7" ry="4.1" fill="#0030ff"/>
<ellipse cx="1005.9" cy="863.9" rx="2.7" ry="4.1" fill="#0030ff"/>
<ellipse cx="1005.9" cy="879.5" rx="2.7" ry="4.1" fill="#0030ff"/>
<ellipse cx="999.5" cy="894.5" rx="2.7" ry="4.1" fill="#0030ff"/>
<ellipse cx="1005.9" cy="897.1" rx="2.7" ry="4.1" fill="#0030ff"/>
<ellipse cx="1012.7" cy="900.3" rx="2.7" ry="4.1" fill="#0030ff"/>
<ellipse cx="999.5" cy="904.6" rx="2.7" ry="4.1" fill="#0030ff"/>
<line x1="967.5" y1="899.9" x2="985.5" y2="899.9" stroke="#000" stroke-width="1.80" />
<line x1="995.7" y1="874.0" x2="1013.7" y2="874.0" stroke="#000" stroke-width="1.80" />
<text x="1010.7" y="827.9" font-size="33.5" font-style="italic" transform="rotate(-61.0 1010.7 827.9)">P=0.0038</text>
<text x="941.6" y="1014.4" font-size="37.0" font-style="italic" transform="rotate(-32.0 941.6 1014.4)">Cd209c</text>
<line x1="1059.4" y1="906.5" x2="1122.5" y2="906.5" stroke="#222" stroke-width="1.40" stroke-dasharray="1.3,1.3"/>
<ellipse cx="1067.0" cy="899.0" rx="2.7" ry="4.1" fill="#ff2400"/>
<ellipse cx="1072.0" cy="897.0" rx="2.7" ry="4.1" fill="#ff2400"/>
<ellipse cx="1077.0" cy="898.0" rx="2.7" ry="4.1" fill="#ff2400"/>
<ellipse cx="1082.0" cy="900.0" rx="2.7" ry="4.1" fill="#ff2400"/>
<ellipse cx="1069.0" cy="905.0" rx="2.7" ry="4.1" fill="#ff2400"/>
<ellipse cx="1074.0" cy="906.0" rx="2.7" ry="4.1" fill="#ff2400"/>
<ellipse cx="1079.0" cy="905.0" rx="2.7" ry="4.1" fill="#ff2400"/>
<ellipse cx="1070.0" cy="902.0" rx="2.7" ry="4.1" fill="#ff2400"/>
<ellipse cx="1081.0" cy="904.0" rx="2.7" ry="4.1" fill="#ff2400"/>
<ellipse cx="1100.6" cy="832.9" rx="2.7" ry="4.1" fill="#0030ff"/>
<ellipse cx="1107.6" cy="831.1" rx="2.7" ry="4.1" fill="#0030ff"/>
<ellipse cx="1097.3" cy="853.8" rx="2.7" ry="4.1" fill="#0030ff"/>
<ellipse cx="1110.8" cy="853.2" rx="2.7" ry="4.1" fill="#0030ff"/>
<ellipse cx="1104.2" cy="859.6" rx="2.7" ry="4.1" fill="#0030ff"/>
<ellipse cx="1097.3" cy="877.4" rx="2.7" ry="4.1" fill="#0030ff"/>
<ellipse cx="1104.2" cy="876.8" rx="2.7" ry="4.1" fill="#0030ff"/>
<ellipse cx="1110.8" cy="880.6" rx="2.7" ry="4.1" fill="#0030ff"/>
<ellipse cx="1104.2" cy="886.0" rx="2.7" ry="4.1" fill="#0030ff"/>
<ellipse cx="1104.2" cy="896.0" rx="2.7" ry="4.1" fill="#0030ff"/>
<line x1="1065.6" y1="902.5" x2="1083.6" y2="902.5" stroke="#000" stroke-width="1.80" />
<line x1="1095.1" y1="865.0" x2="1113.1" y2="865.0" stroke="#000" stroke-width="1.80" />
<text x="1110.5" y="820.5" font-size="33.5" font-style="italic" transform="rotate(-61.0 1110.5 820.5)">P&lt;0.0001</text>
<text x="1034.1" y="1014.4" font-size="37.0" font-style="italic" transform="rotate(-32.0 1034.1 1014.4)">Cd209d</text>
<line x1="1163.9" y1="912.5" x2="1229.2" y2="912.5" stroke="#222" stroke-width="1.40" stroke-dasharray="1.3,1.3"/>
<ellipse cx="1180.0" cy="892.8" rx="2.7" ry="4.1" fill="#ff2400"/>
<ellipse cx="1173.1" cy="898.2" rx="2.7" ry="4.1" fill="#ff2400"/>
<ellipse cx="1186.4" cy="895.4" rx="2.7" ry="4.1" fill="#ff2400"/>
<ellipse cx="1180.0" cy="904.0" rx="2.7" ry="4.1" fill="#ff2400"/>
<ellipse cx="1173.1" cy="905.7" rx="2.7" ry="4.1" fill="#ff2400"/>
<ellipse cx="1186.4" cy="904.6" rx="2.7" ry="4.1" fill="#ff2400"/>
<ellipse cx="1209.5" cy="841.0" rx="2.7" ry="4.1" fill="#0030ff"/>
<ellipse cx="1209.5" cy="878.9" rx="2.7" ry="4.1" fill="#0030ff"/>
<ellipse cx="1203.5" cy="897.1" rx="2.7" ry="4.1" fill="#0030ff"/>
<ellipse cx="1209.5" cy="901.0" rx="2.7" ry="4.1" fill="#0030ff"/>
<ellipse cx="1215.3" cy="904.6" rx="2.7" ry="4.1" fill="#0030ff"/>
<ellipse cx="1203.5" cy="908.2" rx="2.7" ry="4.1" fill="#0030ff"/>
<ellipse cx="1209.5" cy="908.2" rx="2.7" ry="4.1" fill="#0030ff"/>
<ellipse cx="1215.3" cy="907.8" rx="2.7" ry="4.1" fill="#0030ff"/>
<ellipse cx="1206.8" cy="904.6" rx="2.7" ry="4.1" fill="#0030ff"/>
<ellipse cx="1212.1" cy="905.7" rx="2.7" ry="4.1" fill="#0030ff"/>
<line x1="1170.8" y1="900.1" x2="1188.8" y2="900.1" stroke="#000" stroke-width="1.80" />
<line x1="1200.5" y1="895.8" x2="1218.5" y2="895.8" stroke="#000" stroke-width="1.80" />
<text x="1204.9" y="826.0" font-size="33.5" font-style="italic" transform="rotate(-61.0 1204.9 826.0)">P= 0.6354</text>
<text x="1139.4" y="1014.4" font-size="37.0" font-style="italic" transform="rotate(-32.0 1139.4 1014.4)">Cd209e</text>
<line x1="1257.0" y1="913.4" x2="1321.3" y2="913.4" stroke="#222" stroke-width="1.40" stroke-dasharray="1.3,1.3"/>
<ellipse cx="1270.4" cy="866.0" rx="2.7" ry="4.1" fill="#ff2400"/>
<ellipse cx="1275.7" cy="871.0" rx="2.7" ry="4.1" fill="#ff2400"/>
<ellipse cx="1270.4" cy="876.1" rx="2.7" ry="4.1" fill="#ff2400"/>
<ellipse cx="1270.4" cy="884.3" rx="2.7" ry="4.1" fill="#ff2400"/>
<ellipse cx="1279.6" cy="885.3" rx="2.7" ry="4.1" fill="#ff2400"/>
<ellipse cx="1265.7" cy="890.7" rx="2.7" ry="4.1" fill="#ff2400"/>
<ellipse cx="1275.7" cy="890.7" rx="2.7" ry="4.1" fill="#ff2400"/>
<ellipse cx="1279.6" cy="896.7" rx="2.7" ry="4.1" fill="#ff2400"/>
<ellipse cx="1265.7" cy="904.6" rx="2.7" ry="4.1" fill="#ff2400"/>
<ellipse cx="1275.7" cy="903.5" rx="2.7" ry="4.1" fill="#ff2400"/>
<ellipse cx="1295.6" cy="835.0" rx="2.7" ry="4.1" fill="#0030ff"/>
<ellipse cx="1302.5" cy="836.1" rx="2.7" ry="4.1" fill="#0030ff"/>
<ellipse cx="1309.6" cy="833.3" rx="2.7" ry="4.1" fill="#0030ff"/>
<ellipse cx="1295.6" cy="859.0" rx="2.7" ry="4.1" fill="#0030ff"/>
<ellipse cx="1302.5" cy="858.1" rx="2.7" ry="4.1" fill="#0030ff"/>
<ellipse cx="1302.5" cy="866.0" rx="2.7" ry="4.1" fill="#0030ff"/>
<ellipse cx="1309.6" cy="882.1" rx="2.7" ry="4.1" fill="#0030ff"/>
<ellipse cx="1302.5" cy="886.0" rx="2.7" ry="4.1" fill="#0030ff"/>
<ellipse cx="1309.6" cy="891.7" rx="2.7" ry="4.1" fill="#0030ff"/>
<ellipse cx="1295.6" cy="894.5" rx="2.7" ry="4.1" fill="#0030ff"/>
<line x1="1263.9" y1="887.5" x2="1281.9" y2="887.5" stroke="#000" stroke-width="1.80" />
<line x1="1293.6" y1="864.3" x2="1311.6" y2="864.3" stroke="#000" stroke-width="1.80" />
<text x="1295.5" y="826.0" font-size="33.5" font-style="italic" transform="rotate(-61.0 1295.5 826.0)">P= 0.0286</text>
<text x="1253.5" y="1001.7" font-size="37.0" font-style="italic" transform="rotate(-32.0 1253.5 1001.7)">Dab2</text>
<line x1="1372.7" y1="906.1" x2="1439.1" y2="906.1" stroke="#222" stroke-width="1.40" stroke-dasharray="1.3,1.3"/>
<ellipse cx="1383.4" cy="884.3" rx="2.7" ry="4.1" fill="#ff2400"/>
<ellipse cx="1396.7" cy="880.0" rx="2.7" ry="4.1" fill="#ff2400"/>
<ellipse cx="1388.8" cy="889.6" rx="2.7" ry="4.1" fill="#ff2400"/>
<ellipse cx="1396.7" cy="889.6" rx="2.7" ry="4.1" fill="#ff2400"/>
<ellipse cx="1383.4" cy="892.8" rx="2.7" ry="4.1" fill="#ff2400"/>
<ellipse cx="1392.0" cy="896.0" rx="2.7" ry="4.1" fill="#ff2400"/>
<ellipse cx="1383.4" cy="900.3" rx="2.7" ry="4.1" fill="#ff2400"/>
<ellipse cx="1396.7" cy="900.3" rx="2.7" ry="4.1" fill="#ff2400"/>
<ellipse cx="1388.8" cy="902.5" rx="2.7" ry="4.1" fill="#ff2400"/>
<ellipse cx="1383.4" cy="905.2" rx="2.7" ry="4.1" fill="#ff2400"/>
<ellipse cx="1419.9" cy="851.1" rx="2.7" ry="4.1" fill="#0030ff"/>
<ellipse cx="1419.9" cy="865.0" rx="2.7" ry="4.1" fill="#0030ff"/>
<ellipse cx="1421.0" cy="885.3" rx="2.7" ry="4.1" fill="#0030ff"/>
<ellipse cx="1415.6" cy="898.2" rx="2.7" ry="4.1" fill="#0030ff"/>
<ellipse cx="1424.1" cy="901.4" rx="2.7" ry="4.1" fill="#0030ff"/>
<ellipse cx="1413.4" cy="904.6" rx="2.7" ry="4.1" fill="#0030ff"/>
<ellipse cx="1419.9" cy="904.6" rx="2.7" ry="4.1" fill="#0030ff"/>
<ellipse cx="1426.3" cy="903.5" rx="2.7" ry="4.1" fill="#0030ff"/>
<ellipse cx="1416.6" cy="905.7" rx="2.7" ry="4.1" fill="#0030ff"/>
<ellipse cx="1423.1" cy="906.7" rx="2.7" ry="4.1" fill="#0030ff"/>
<line x1="1380.3" y1="893.5" x2="1398.3" y2="893.5" stroke="#000" stroke-width="1.80" />
<line x1="1411.0" y1="890.7" x2="1429.0" y2="890.7" stroke="#000" stroke-width="1.80" />
<text x="1411.2" y="828.9" font-size="33.5" font-style="italic" transform="rotate(-61.0 1411.2 828.9)">P=0.7245</text>
<text x="1353.8" y="996.4" font-size="37.0" font-style="italic" transform="rotate(-32.0 1353.8 996.4)">Saa1</text>
<line x1="1454.0" y1="905.0" x2="1520.7" y2="905.0" stroke="#222" stroke-width="1.40" stroke-dasharray="1.3,1.3"/>
<ellipse cx="1467.0" cy="893.0" rx="2.7" ry="4.1" fill="#ff2400"/>
<ellipse cx="1473.0" cy="891.0" rx="2.7" ry="4.1" fill="#ff2400"/>
<ellipse cx="1478.0" cy="894.0" rx="2.7" ry="4.1" fill="#ff2400"/>
<ellipse cx="1466.0" cy="899.0" rx="2.7" ry="4.1" fill="#ff2400"/>
<ellipse cx="1471.0" cy="898.0" rx="2.7" ry="4.1" fill="#ff2400"/>
<ellipse cx="1477.0" cy="900.0" rx="2.7" ry="4.1" fill="#ff2400"/>
<ellipse cx="1468.0" cy="904.0" rx="2.7" ry="4.1" fill="#ff2400"/>
<ellipse cx="1474.0" cy="905.0" rx="2.7" ry="4.1" fill="#ff2400"/>
<ellipse cx="1479.0" cy="904.0" rx="2.7" ry="4.1" fill="#ff2400"/>
<ellipse cx="1504.0" cy="836.7" rx="2.7" ry="4.1" fill="#0030ff"/>
<ellipse cx="1499.7" cy="841.0" rx="2.7" ry="4.1" fill="#0030ff"/>
<ellipse cx="1504.0" cy="862.8" rx="2.7" ry="4.1" fill="#0030ff"/>
<ellipse cx="1499.7" cy="866.0" rx="2.7" ry="4.1" fill="#0030ff"/>
<ellipse cx="1499.7" cy="884.3" rx="2.7" ry="4.1" fill="#0030ff"/>
<ellipse cx="1504.0" cy="889.6" rx="2.7" ry="4.1" fill="#0030ff"/>
<ellipse cx="1508.3" cy="888.5" rx="2.7" ry="4.1" fill="#0030ff"/>
<ellipse cx="1496.0" cy="891.7" rx="2.7" ry="4.1" fill="#0030ff"/>
<line x1="1463.6" y1="900.3" x2="1481.6" y2="900.3" stroke="#000" stroke-width="1.80" />
<line x1="1492.9" y1="870.3" x2="1510.9" y2="870.3" stroke="#000" stroke-width="1.80" />
<text x="1499.7" y="817.8" font-size="33.5" font-style="italic" transform="rotate(-61.0 1499.7 817.8)">P&lt;0.0001</text>
<text x="1449.7" y="990.8" font-size="37.0" font-style="italic" transform="rotate(-32.0 1449.7 990.8)">Lyve</text>
<line x1="1535.7" y1="905.7" x2="1603.2" y2="905.7" stroke="#222" stroke-width="1.40" stroke-dasharray="1.3,1.3"/>
<ellipse cx="1554.5" cy="873.1" rx="2.7" ry="4.1" fill="#ff2400"/>
<ellipse cx="1551.8" cy="882.1" rx="2.7" ry="4.1" fill="#ff2400"/>
<ellipse cx="1554.5" cy="885.3" rx="2.7" ry="4.1" fill="#ff2400"/>
<ellipse cx="1547.5" cy="888.5" rx="2.7" ry="4.1" fill="#ff2400"/>
<ellipse cx="1551.8" cy="891.7" rx="2.7" ry="4.1" fill="#ff2400"/>
<ellipse cx="1557.1" cy="891.7" rx="2.7" ry="4.1" fill="#ff2400"/>
<ellipse cx="1561.4" cy="892.8" rx="2.7" ry="4.1" fill="#ff2400"/>
<ellipse cx="1554.5" cy="896.0" rx="2.7" ry="4.1" fill="#ff2400"/>
<ellipse cx="1547.5" cy="900.3" rx="2.7" ry="4.1" fill="#ff2400"/>
<ellipse cx="1561.4" cy="901.4" rx="2.7" ry="4.1" fill="#ff2400"/>
<ellipse cx="1586.0" cy="842.5" rx="2.7" ry="4.1" fill="#0030ff"/>
<ellipse cx="1581.7" cy="848.9" rx="2.7" ry="4.1" fill="#0030ff"/>
<ellipse cx="1583.9" cy="858.6" rx="2.7" ry="4.1" fill="#0030ff"/>
<ellipse cx="1583.9" cy="869.3" rx="2.7" ry="4.1" fill="#0030ff"/>
<ellipse cx="1579.6" cy="876.8" rx="2.7" ry="4.1" fill="#0030ff"/>
<ellipse cx="1588.2" cy="876.1" rx="2.7" ry="4.1" fill="#0030ff"/>
<ellipse cx="1581.7" cy="887.5" rx="2.7" ry="4.1" fill="#0030ff"/>
<ellipse cx="1586.0" cy="889.6" rx="2.7" ry="4.1" fill="#0030ff"/>
<ellipse cx="1590.3" cy="889.0" rx="2.7" ry="4.1" fill="#0030ff"/>
<ellipse cx="1577.5" cy="895.0" rx="2.7" ry="4.1" fill="#0030ff"/>
<line x1="1545.2" y1="890.3" x2="1563.2" y2="890.3" stroke="#000" stroke-width="1.80" />
<line x1="1574.9" y1="873.1" x2="1592.9" y2="873.1" stroke="#000" stroke-width="1.80" />
<text x="1577.1" y="830.7" font-size="33.5" font-style="italic" transform="rotate(-61.0 1577.1 830.7)">P= 0.0232</text>
<text x="1497.7" y="1011.1" font-size="37.0" font-style="italic" transform="rotate(-32.0 1497.7 1011.1)">Tgfbr2</text>
<line x1="1650.3" y1="906.3" x2="1716.7" y2="906.3" stroke="#222" stroke-width="1.40" stroke-dasharray="1.3,1.3"/>
<ellipse cx="1664.2" cy="882.1" rx="2.7" ry="4.1" fill="#ff2400"/>
<ellipse cx="1670.6" cy="880.0" rx="2.7" ry="4.1" fill="#ff2400"/>
<ellipse cx="1667.4" cy="887.5" rx="2.7" ry="4.1" fill="#ff2400"/>
<ellipse cx="1664.2" cy="893.9" rx="2.7" ry="4.1" fill="#ff2400"/>
<ellipse cx="1670.6" cy="893.9" rx="2.7" ry="4.1" fill="#ff2400"/>
<ellipse cx="1661.0" cy="900.3" rx="2.7" ry="4.1" fill="#ff2400"/>
<ellipse cx="1667.4" cy="901.0" rx="2.7" ry="4.1" fill="#ff2400"/>
<ellipse cx="1674.5" cy="901.0" rx="2.7" ry="4.1" fill="#ff2400"/>
<ellipse cx="1697.4" cy="841.8" rx="2.7" ry="4.1" fill="#0030ff"/>
<ellipse cx="1697.4" cy="861.8" rx="2.7" ry="4.1" fill="#0030ff"/>
<ellipse cx="1697.4" cy="884.3" rx="2.7" ry="4.1" fill="#0030ff"/>
<ellipse cx="1691.0" cy="895.4" rx="2.7" ry="4.1" fill="#0030ff"/>
<ellipse cx="1697.4" cy="900.3" rx="2.7" ry="4.1" fill="#0030ff"/>
<ellipse cx="1703.8" cy="901.4" rx="2.7" ry="4.1" fill="#0030ff"/>
<ellipse cx="1691.0" cy="902.5" rx="2.7" ry="4.1" fill="#0030ff"/>
<ellipse cx="1697.4" cy="903.5" rx="2.7" ry="4.1" fill="#0030ff"/>
<ellipse cx="1701.0" cy="902.5" rx="2.7" ry="4.1" fill="#0030ff"/>
<line x1="1658.5" y1="891.7" x2="1676.5" y2="891.7" stroke="#000" stroke-width="1.80" />
<line x1="1688.1" y1="889.6" x2="1706.1" y2="889.6" stroke="#000" stroke-width="1.80" />
<text x="1682.3" y="828.9" font-size="33.5" font-style="italic" transform="rotate(-61.0 1682.3 828.9)">P= 0.2475</text>
<text x="1667.4" y="987.1" font-size="37.0" font-style="italic" transform="rotate(-32.0 1667.4 987.1)">Id2</text>
<line x1="1753.1" y1="905.0" x2="1818.4" y2="905.0" stroke="#222" stroke-width="1.40" stroke-dasharray="1.3,1.3"/>
<ellipse cx="1771.3" cy="848.9" rx="2.7" ry="4.1" fill="#ff2400"/>
<ellipse cx="1767.0" cy="854.3" rx="2.7" ry="4.1" fill="#ff2400"/>
<ellipse cx="1771.3" cy="861.8" rx="2.7" ry="4.1" fill="#ff2400"/>
<ellipse cx="1767.0" cy="869.3" rx="2.7" ry="4.1" fill="#ff2400"/>
<ellipse cx="1775.6" cy="875.7" rx="2.7" ry="4.1" fill="#ff2400"/>
<ellipse cx="1761.7" cy="876.8" rx="2.7" ry="4.1" fill="#ff2400"/>
<ellipse cx="1767.0" cy="884.3" rx="2.7" ry="4.1" fill="#ff2400"/>
<ellipse cx="1771.3" cy="886.4" rx="2.7" ry="4.1" fill="#ff2400"/>
<ellipse cx="1775.6" cy="887.5" rx="2.7" ry="4.1" fill="#ff2400"/>
<ellipse cx="1762.3" cy="892.8" rx="2.7" ry="4.1" fill="#ff2400"/>
<ellipse cx="1799.1" cy="843.1" rx="2.7" ry="4.1" fill="#0030ff"/>
<ellipse cx="1801.3" cy="866.0" rx="2.7" ry="4.1" fill="#0030ff"/>
<ellipse cx="1796.6" cy="873.1" rx="2.7" ry="4.1" fill="#0030ff"/>
<ellipse cx="1791.6" cy="886.4" rx="2.7" ry="4.1" fill="#0030ff"/>
<ellipse cx="1801.3" cy="890.7" rx="2.7" ry="4.1" fill="#0030ff"/>
<ellipse cx="1797.0" cy="891.7" rx="2.7" ry="4.1" fill="#0030ff"/>
<ellipse cx="1791.6" cy="895.0" rx="2.7" ry="4.1" fill="#0030ff"/>
<ellipse cx="1805.6" cy="897.1" rx="2.7" ry="4.1" fill="#0030ff"/>
<ellipse cx="1801.3" cy="900.3" rx="2.7" ry="4.1" fill="#0030ff"/>
<ellipse cx="1791.6" cy="905.2" rx="2.7" ry="4.1" fill="#0030ff"/>
<line x1="1760.0" y1="874.0" x2="1778.0" y2="874.0" stroke="#000" stroke-width="1.80" />
<line x1="1788.7" y1="884.7" x2="1806.7" y2="884.7" stroke="#000" stroke-width="1.80" />
<text x="1770.8" y="828.9" font-size="33.5" font-style="italic" transform="rotate(-61.0 1770.8 828.9)">P= 0.1051</text>
<text x="1761.5" y="989.0" font-size="37.0" font-style="italic" transform="rotate(-32.0 1761.5 989.0)">Id3</text>
<text x="690.0" y="1093.8" font-size="37.0">I</text>
<text x="729.2" y="1111.0" font-size="37.0" fill="#0030ff"><tspan>CX</tspan><tspan dy="3.70" font-size="24.4">3</tspan><tspan dy="-3.70">CR</tspan><tspan dy="3.70" font-size="24.4">1</tspan><tspan dy="-11.10" font-size="24.4">-</tspan><tspan dy="7.40"> CCR2</tspan><tspan dy="-7.40" font-size="24.4">-</tspan></text>
<text x="730.4" y="1153.3" font-size="37.0" fill="#ff2400"><tspan>CX</tspan><tspan dy="3.70" font-size="24.4">3</tspan><tspan dy="-3.70">CR</tspan><tspan dy="3.70" font-size="24.4">1</tspan><tspan dy="-11.10" font-size="24.4">+</tspan><tspan dy="7.40"> CCR2</tspan><tspan dy="-7.40" font-size="24.4">+</tspan></text>
<line x1="793.3" y1="1180.8" x2="793.3" y2="1382.3" stroke="#000" stroke-width="2.00" />
<line x1="792.3" y1="1382.3" x2="997.0" y2="1382.3" stroke="#000" stroke-width="2.00" />
<line x1="788.3" y1="1180.8" x2="793.3" y2="1180.8" stroke="#000" stroke-width="2.00" />
<text x="785.3" y="1200.3" font-size="36.0" text-anchor="end">120</text>
<line x1="788.3" y1="1280.8" x2="793.3" y2="1280.8" stroke="#000" stroke-width="2.00" />
<text x="785.3" y="1286.0" font-size="36.0" text-anchor="end">60</text>
<line x1="788.3" y1="1382.3" x2="793.3" y2="1382.3" stroke="#000" stroke-width="2.00" />
<text x="785.3" y="1383.4" font-size="36.0" text-anchor="end">0</text>
<text x="809.4" y="1203.0" font-size="31.0" font-style="italic">P&lt;0.0001</text>
<text x="892.9" y="1241.0" font-size="31.0" font-style="italic">P&lt;0.0001</text>
<text x="691.0" y="1281.0" font-size="37.0" text-anchor="middle" transform="rotate(-90.0 691.0 1281.0)">genes</text>
<text x="724.0" y="1281.0" font-size="37.0" text-anchor="middle" transform="rotate(-90.0 724.0 1281.0)">expression %</text>
<circle cx="827.7" cy="1243.8" r="5.0" fill="#0030ff"/>
<circle cx="839.6" cy="1238.3" r="5.0" fill="#0030ff"/>
<circle cx="851.7" cy="1231.8" r="5.0" fill="#0030ff"/>
<circle cx="863.2" cy="1238.3" r="5.0" fill="#0030ff"/>
<circle cx="875.7" cy="1229.6" r="5.0" fill="#0030ff"/>
<circle cx="875.7" cy="1243.8" r="5.0" fill="#0030ff"/>
<circle cx="851.7" cy="1246.5" r="5.0" fill="#0030ff"/>
<circle cx="863.2" cy="1252.9" r="5.0" fill="#0030ff"/>
<circle cx="851.7" cy="1260.2" r="5.0" fill="#0030ff"/>
<circle cx="863.2" cy="1262.1" r="5.0" fill="#0030ff"/>
<circle cx="839.6" cy="1286.1" r="5.0" fill="#0030ff"/>
<circle cx="851.7" cy="1286.1" r="5.0" fill="#0030ff"/>
<circle cx="863.2" cy="1282.7" r="5.0" fill="#0030ff"/>
<circle cx="839.6" cy="1312.4" r="5.0" fill="#0030ff"/>
<circle cx="851.7" cy="1321.6" r="5.0" fill="#0030ff"/>
<circle cx="851.7" cy="1274.7" r="5.0" fill="#ff2400"/>
<circle cx="851.7" cy="1311.3" r="5.0" fill="#ff2400"/>
<circle cx="863.2" cy="1313.6" r="5.0" fill="#ff2400"/>
<circle cx="851.7" cy="1334.2" r="5.0" fill="#ff2400"/>
<circle cx="827.7" cy="1349.1" r="5.0" fill="#ff2400"/>
<circle cx="839.6" cy="1352.5" r="5.0" fill="#ff2400"/>
<circle cx="851.7" cy="1344.5" r="5.0" fill="#ff2400"/>
<circle cx="863.2" cy="1357.1" r="5.0" fill="#ff2400"/>
<circle cx="875.7" cy="1352.5" r="5.0" fill="#ff2400"/>
<circle cx="827.7" cy="1363.9" r="5.0" fill="#ff2400"/>
<circle cx="851.7" cy="1357.1" r="5.0" fill="#ff2400"/>
<circle cx="875.7" cy="1366.9" r="5.0" fill="#ff2400"/>
<circle cx="922.7" cy="1255.2" r="5.0" fill="#ff2400"/>
<circle cx="929.5" cy="1256.3" r="5.0" fill="#ff2400"/>
<circle cx="949.0" cy="1251.8" r="5.0" fill="#ff2400"/>
<circle cx="963.9" cy="1258.6" r="5.0" fill="#ff2400"/>
<circle cx="915.8" cy="1266.6" r="5.0" fill="#ff2400"/>
<circle cx="934.1" cy="1262.1" r="5.0" fill="#ff2400"/>
<circle cx="943.3" cy="1265.5" r="5.0" fill="#ff2400"/>
<circle cx="954.7" cy="1264.4" r="5.0" fill="#ff2400"/>
<circle cx="963.9" cy="1273.5" r="5.0" fill="#ff2400"/>
<circle cx="922.7" cy="1271.2" r="5.0" fill="#ff2400"/>
<circle cx="931.8" cy="1273.5" r="5.0" fill="#ff2400"/>
<circle cx="943.3" cy="1272.4" r="5.0" fill="#ff2400"/>
<circle cx="952.4" cy="1271.2" r="5.0" fill="#ff2400"/>
<circle cx="929.5" cy="1282.7" r="5.0" fill="#ff2400"/>
<circle cx="936.4" cy="1282.7" r="5.0" fill="#ff2400"/>
<circle cx="949.0" cy="1280.4" r="5.0" fill="#ff2400"/>
<circle cx="922.7" cy="1278.1" r="5.0" fill="#ff2400"/>
<circle cx="941.0" cy="1268.9" r="5.0" fill="#ff2400"/>
<circle cx="928.4" cy="1313.6" r="5.0" fill="#0030ff"/>
<circle cx="942.1" cy="1313.6" r="5.0" fill="#0030ff"/>
<circle cx="950.1" cy="1315.9" r="5.0" fill="#0030ff"/>
<circle cx="915.8" cy="1323.9" r="5.0" fill="#0030ff"/>
<circle cx="922.7" cy="1321.6" r="5.0" fill="#0030ff"/>
<circle cx="942.1" cy="1323.9" r="5.0" fill="#0030ff"/>
<circle cx="962.7" cy="1323.9" r="5.0" fill="#0030ff"/>
<circle cx="915.8" cy="1330.8" r="5.0" fill="#0030ff"/>
<circle cx="929.5" cy="1333.0" r="5.0" fill="#0030ff"/>
<circle cx="936.4" cy="1330.8" r="5.0" fill="#0030ff"/>
<circle cx="949.0" cy="1330.8" r="5.0" fill="#0030ff"/>
<circle cx="922.7" cy="1341.1" r="5.0" fill="#0030ff"/>
<circle cx="936.4" cy="1341.1" r="5.0" fill="#0030ff"/>
<circle cx="949.0" cy="1344.5" r="5.0" fill="#0030ff"/>
<circle cx="957.0" cy="1338.8" r="5.0" fill="#0030ff"/>
<circle cx="943.3" cy="1335.3" r="5.0" fill="#0030ff"/>
<line x1="822.6" y1="1260.9" x2="880.8" y2="1260.9" stroke="#000" stroke-width="2.00" />
<line x1="822.6" y1="1335.8" x2="880.8" y2="1335.8" stroke="#000" stroke-width="2.00" />
<line x1="910.1" y1="1267.8" x2="968.0" y2="1267.8" stroke="#000" stroke-width="2.00" />
<line x1="910.1" y1="1328.9" x2="968.0" y2="1328.9" stroke="#000" stroke-width="2.00" />
<text x="786.5" y="1475.0" font-size="37.0" transform="rotate(-45.0 786.5 1475.0)">insulin</text>
<text x="773.9" y="1532.2" font-size="37.0" transform="rotate(-45.0 773.9 1532.2)">sensitivity</text>
<text x="902.1" y="1472.7" font-size="37.0" transform="rotate(-45.0 902.1 1472.7)">insulin</text>
<text x="881.5" y="1539.1" font-size="37.0" transform="rotate(-45.0 881.5 1539.1)">resistance</text>
<text x="1041.3" y="1089.7" font-size="37.0">J</text>
<rect x="1063.0" y="1063.0" width="413.6" height="443.0" fill="none" stroke="#000" stroke-width="2.00" />
<line x1="1269.8" y1="1063.0" x2="1269.8" y2="1506.0" stroke="#000" stroke-width="1.30" stroke-dasharray="1.5,1.5"/>
<line x1="1063.0" y1="1284.8" x2="1476.6" y2="1284.8" stroke="#000" stroke-width="1.30" stroke-dasharray="1.5,1.5"/>
<line x1="1060.0" y1="1063.0" x2="1063.0" y2="1063.0" stroke="#000" stroke-width="1.60" />
<line x1="1063.0" y1="1506.0" x2="1063.0" y2="1509.0" stroke="#000" stroke-width="1.60" />
<line x1="1060.0" y1="1118.4" x2="1063.0" y2="1118.4" stroke="#000" stroke-width="1.60" />
<line x1="1114.7" y1="1506.0" x2="1114.7" y2="1509.0" stroke="#000" stroke-width="1.60" />
<line x1="1060.0" y1="1173.8" x2="1063.0" y2="1173.8" stroke="#000" stroke-width="1.60" />
<line x1="1166.4" y1="1506.0" x2="1166.4" y2="1509.0" stroke="#000" stroke-width="1.60" />
<line x1="1060.0" y1="1229.1" x2="1063.0" y2="1229.1" stroke="#000" stroke-width="1.60" />
<line x1="1218.1" y1="1506.0" x2="1218.1" y2="1509.0" stroke="#000" stroke-width="1.60" />
<line x1="1060.0" y1="1284.5" x2="1063.0" y2="1284.5" stroke="#000" stroke-width="1.60" />
<line x1="1269.8" y1="1506.0" x2="1269.8" y2="1509.0" stroke="#000" stroke-width="1.60" />
<line x1="1060.0" y1="1339.9" x2="1063.0" y2="1339.9" stroke="#000" stroke-width="1.60" />
<line x1="1321.5" y1="1506.0" x2="1321.5" y2="1509.0" stroke="#000" stroke-width="1.60" />
<line x1="1060.0" y1="1395.2" x2="1063.0" y2="1395.2" stroke="#000" stroke-width="1.60" />
<line x1="1373.2" y1="1506.0" x2="1373.2" y2="1509.0" stroke="#000" stroke-width="1.60" />
<line x1="1060.0" y1="1450.6" x2="1063.0" y2="1450.6" stroke="#000" stroke-width="1.60" />
<line x1="1424.9" y1="1506.0" x2="1424.9" y2="1509.0" stroke="#000" stroke-width="1.60" />
<line x1="1060.0" y1="1506.0" x2="1063.0" y2="1506.0" stroke="#000" stroke-width="1.60" />
<line x1="1476.6" y1="1506.0" x2="1476.6" y2="1509.0" stroke="#000" stroke-width="1.60" />
<line x1="1269.8" y1="1284.8" x2="1136.3" y2="1202.3" stroke="#128a50" stroke-width="2.20" stroke-dasharray="7,4"/>
<line x1="1269.8" y1="1284.8" x2="1087.1" y2="1320.9" stroke="#128a50" stroke-width="2.20" stroke-dasharray="7,4"/>
<line x1="1269.8" y1="1284.8" x2="1143.4" y2="1413.0" stroke="#128a50" stroke-width="2.20" stroke-dasharray="7,4"/>
<line x1="1269.8" y1="1284.8" x2="1315.4" y2="1155.2" stroke="#128a50" stroke-width="2.20" stroke-dasharray="7,4"/>
<line x1="1269.8" y1="1284.8" x2="1405.2" y2="1370.4" stroke="#128a50" stroke-width="2.20" stroke-dasharray="7,4"/>
<line x1="1269.8" y1="1284.8" x2="1322.7" y2="1397.3" stroke="#128a50" stroke-width="2.20" stroke-dasharray="7,4"/>
<circle cx="1136.3" cy="1202.3" r="5.2" fill="#6673ee" stroke="#000" stroke-width="1.40"/>
<circle cx="1087.1" cy="1320.9" r="5.2" fill="#0a1ef0" stroke="#000" stroke-width="1.40"/>
<circle cx="1143.4" cy="1413.0" r="5.2" fill="#6673ee" stroke="#000" stroke-width="1.40"/>
<circle cx="1315.4" cy="1155.2" r="5.2" fill="#f4a0a0" stroke="#000" stroke-width="1.40"/>
<circle cx="1405.2" cy="1370.4" r="5.2" fill="#ee2200" stroke="#000" stroke-width="1.40"/>
<circle cx="1322.7" cy="1397.3" r="5.2" fill="#f4a0a0" stroke="#000" stroke-width="1.40"/>
<text x="1140.7" y="1143.4" font-size="36.0" text-anchor="middle">ATM</text>
<text x="1141.4" y="1176.1" font-size="36.0" text-anchor="middle">markers</text>
<text x="1393.4" y="1153.9" font-size="36.0" text-anchor="middle">MDM</text>
<text x="1394.0" y="1186.6" font-size="36.0" text-anchor="middle">markers</text>
<text x="1155.1" y="1263.8" font-size="36.0" text-anchor="middle">insulin</text>
<text x="1160.4" y="1296.5" font-size="36.0" text-anchor="middle">sensitivity</text>
<text x="1160.4" y="1329.3" font-size="36.0" text-anchor="middle">genes</text>
<text x="1394.0" y="1280.8" font-size="36.0" text-anchor="middle">pro-</text>
<text x="1394.0" y="1316.2" font-size="36.0" text-anchor="middle">inflammatory</text>
<text x="1393.4" y="1348.9" font-size="36.0" text-anchor="middle">genes</text>
<text x="1153.2" y="1447.0" font-size="36.0" text-anchor="middle">survival</text>
<text x="1153.2" y="1479.8" font-size="36.0" text-anchor="middle">genes</text>
<text x="1352.2" y="1431.4" font-size="36.0" text-anchor="middle">insulin</text>
<text x="1351.6" y="1464.0" font-size="36.0" text-anchor="middle">resistance</text>
<text x="1356.8" y="1496.8" font-size="36.0" text-anchor="middle">genes</text>
<text x="1057.0" y="1271.0" font-size="33.0" text-anchor="middle" font-weight="bold" transform="rotate(-90.0 1057.0 1271.0)">PC3</text>
<text x="1271.5" y="1544.0" font-size="33.0" text-anchor="middle" font-weight="bold">PC1</text>
<text x="1535.0" y="1093.7" font-size="37.0">K</text>
<text x="1587.4" y="1093.0" font-size="31.0" font-style="italic">P=0.0303</text>
<text x="1751.2" y="1093.0" font-size="31.0" font-style="italic">P=0.0079</text>
<rect x="1530.4" y="1121.9" width="54.5" height="137.3" fill="#0365c0" />
<text x="1574.5" y="1190.5" font-size="36.5" text-anchor="middle" fill="#fff" transform="rotate(-90.0 1574.5 1190.5)">Human</text>
<text x="1616.0" y="1194.7" font-size="37.0" text-anchor="middle" transform="rotate(-90.0 1616.0 1194.7)">% macs</text>
<line x1="1667.5" y1="1115.0" x2="1667.5" y2="1272.0" stroke="#000" stroke-width="2.00" />
<line x1="1666.5" y1="1272.0" x2="1753.7" y2="1272.0" stroke="#000" stroke-width="2.00" />
<line x1="1662.5" y1="1115.0" x2="1667.5" y2="1115.0" stroke="#000" stroke-width="2.00" />
<text x="1662.9" y="1132.0" font-size="36.0" text-anchor="end">40</text>
<line x1="1662.5" y1="1193.5" x2="1667.5" y2="1193.5" stroke="#000" stroke-width="2.00" />
<text x="1662.9" y="1202.4" font-size="36.0" text-anchor="end">20</text>
<line x1="1662.5" y1="1272.0" x2="1667.5" y2="1272.0" stroke="#000" stroke-width="2.00" />
<text x="1662.9" y="1274.0" font-size="36.0" text-anchor="end">0</text>
<circle cx="1690.0" cy="1233.0" r="5.0" fill="#0030ff"/>
<circle cx="1698.0" cy="1234.0" r="5.0" fill="#0030ff"/>
<circle cx="1703.0" cy="1240.0" r="5.0" fill="#0030ff"/>
<circle cx="1699.0" cy="1253.0" r="5.0" fill="#0030ff"/>
<circle cx="1692.0" cy="1261.0" r="5.0" fill="#0030ff"/>
<line x1="1683.9" y1="1242.9" x2="1705.9" y2="1242.9" stroke="#000" stroke-width="1.60" />
<circle cx="1727.5" cy="1146.2" r="5.0" fill="#ff2400"/>
<circle cx="1721.5" cy="1201.2" r="5.0" fill="#ff2400"/>
<circle cx="1733.5" cy="1201.2" r="5.0" fill="#ff2400"/>
<circle cx="1734.5" cy="1222.9" r="5.0" fill="#ff2400"/>
<circle cx="1721.0" cy="1230.6" r="5.0" fill="#ff2400"/>
<line x1="1716.6" y1="1200.4" x2="1738.4" y2="1200.4" stroke="#000" stroke-width="1.60" />
<line x1="1804.9" y1="1114.2" x2="1804.9" y2="1269.5" stroke="#000" stroke-width="2.00" />
<line x1="1803.9" y1="1269.5" x2="1891.9" y2="1269.5" stroke="#000" stroke-width="2.00" />
<line x1="1799.9" y1="1114.2" x2="1804.9" y2="1114.2" stroke="#000" stroke-width="2.00" />
<text x="1799.9" y="1128.3" font-size="36.0" text-anchor="end">110</text>
<line x1="1799.9" y1="1191.0" x2="1804.9" y2="1191.0" stroke="#000" stroke-width="2.00" />
<text x="1799.9" y="1201.2" font-size="36.0" text-anchor="end">85</text>
<line x1="1799.9" y1="1269.5" x2="1804.9" y2="1269.5" stroke="#000" stroke-width="2.00" />
<text x="1799.9" y="1274.0" font-size="36.0" text-anchor="end">60</text>
<circle cx="1829.0" cy="1151.0" r="5.0" fill="#0030ff"/>
<circle cx="1836.0" cy="1154.0" r="5.0" fill="#0030ff"/>
<circle cx="1841.0" cy="1158.0" r="5.0" fill="#0030ff"/>
<circle cx="1829.0" cy="1166.0" r="5.0" fill="#0030ff"/>
<circle cx="1836.0" cy="1169.0" r="5.0" fill="#0030ff"/>
<circle cx="1842.0" cy="1170.0" r="5.0" fill="#0030ff"/>
<line x1="1821.5" y1="1162.8" x2="1843.3" y2="1162.8" stroke="#000" stroke-width="1.60" />
<circle cx="1858.6" cy="1170.5" r="5.0" fill="#ff2400"/>
<circle cx="1871.4" cy="1174.3" r="5.0" fill="#ff2400"/>
<circle cx="1858.6" cy="1187.0" r="5.0" fill="#ff2400"/>
<circle cx="1871.4" cy="1187.9" r="5.0" fill="#ff2400"/>
<circle cx="1865.0" cy="1220.4" r="5.0" fill="#ff2400"/>
<line x1="1854.0" y1="1187.9" x2="1876.0" y2="1187.9" stroke="#000" stroke-width="1.60" />
<text x="1628.4" y="1307.3" font-size="37.0"><tspan>CCR2</tspan><tspan dy="-7.40" font-size="24.4">+</tspan></text>
<text x="1774.2" y="1307.3" font-size="37.0"><tspan>CCR2</tspan><tspan dy="-7.40" font-size="24.4">-</tspan></text>
<text x="1556.7" y="1343.2" font-size="37.0">L</text>
<rect x="1540.1" y="1369.2" width="53.7" height="136.4" fill="#0365c0" />
<text x="1585.0" y="1437.4" font-size="36.5" text-anchor="middle" fill="#fff" transform="rotate(-90.0 1585.0 1437.4)">Human</text>
<text x="1633.5" y="1426.0" font-size="37.0" text-anchor="middle" transform="rotate(-90.0 1633.5 1426.0)"><tspan>CCR2</tspan><tspan dy="-7.40" font-size="24.4">-</tspan></text>
<text x="1666.0" y="1426.0" font-size="37.0" text-anchor="middle" transform="rotate(-90.0 1666.0 1426.0)">macs /</text>
<text x="1700.0" y="1426.0" font-size="37.0" text-anchor="middle" transform="rotate(-90.0 1700.0 1426.0)">FOV</text>
<line x1="1750.4" y1="1345.7" x2="1750.4" y2="1497.9" stroke="#000" stroke-width="2.00" />
<line x1="1749.4" y1="1497.9" x2="1835.6" y2="1497.9" stroke="#000" stroke-width="2.00" />
<line x1="1745.4" y1="1345.7" x2="1750.4" y2="1345.7" stroke="#000" stroke-width="2.00" />
<text x="1742.4" y="1363.6" font-size="36.0" text-anchor="end">24</text>
<line x1="1745.4" y1="1422.0" x2="1750.4" y2="1422.0" stroke="#000" stroke-width="2.00" />
<text x="1742.4" y="1432.7" font-size="36.0" text-anchor="end">12</text>
<line x1="1745.4" y1="1497.9" x2="1750.4" y2="1497.9" stroke="#000" stroke-width="2.00" />
<text x="1742.4" y="1505.6" font-size="36.0" text-anchor="end">0</text>
<text x="1760.1" y="1359.8" font-size="31.0" font-style="italic">P=0.0004</text>
<circle cx="1770.0" cy="1383.0" r="4.5" fill="#0030ff"/>
<circle cx="1776.0" cy="1383.0" r="4.5" fill="#0030ff"/>
<circle cx="1782.0" cy="1383.0" r="4.5" fill="#0030ff"/>
<circle cx="1769.0" cy="1394.0" r="4.5" fill="#0030ff"/>
<circle cx="1782.0" cy="1399.0" r="4.5" fill="#0030ff"/>
<circle cx="1775.0" cy="1407.0" r="4.5" fill="#0030ff"/>
<circle cx="1786.0" cy="1402.0" r="4.5" fill="#0030ff"/>
<circle cx="1770.0" cy="1413.0" r="4.5" fill="#0030ff"/>
<circle cx="1779.0" cy="1415.0" r="4.5" fill="#0030ff"/>
<circle cx="1786.0" cy="1418.0" r="4.5" fill="#0030ff"/>
<circle cx="1772.0" cy="1425.0" r="4.5" fill="#0030ff"/>
<circle cx="1781.0" cy="1430.0" r="4.5" fill="#0030ff"/>
<circle cx="1776.0" cy="1437.0" r="4.5" fill="#0030ff"/>
<circle cx="1772.0" cy="1447.0" r="4.5" fill="#0030ff"/>
<circle cx="1777.0" cy="1459.0" r="4.5" fill="#0030ff"/>
<line x1="1763.0" y1="1416.6" x2="1788.0" y2="1416.6" stroke="#000" stroke-width="1.60" />
<circle cx="1812.0" cy="1421.0" r="4.5" fill="#ff2400"/>
<circle cx="1807.0" cy="1438.0" r="4.5" fill="#ff2400"/>
<circle cx="1813.0" cy="1440.0" r="4.5" fill="#ff2400"/>
<circle cx="1820.0" cy="1440.0" r="4.5" fill="#ff2400"/>
<circle cx="1805.0" cy="1446.0" r="4.5" fill="#ff2400"/>
<circle cx="1816.0" cy="1449.0" r="4.5" fill="#ff2400"/>
<circle cx="1822.0" cy="1452.0" r="4.5" fill="#ff2400"/>
<circle cx="1808.0" cy="1456.0" r="4.5" fill="#ff2400"/>
<circle cx="1818.0" cy="1460.0" r="4.5" fill="#ff2400"/>
<circle cx="1812.0" cy="1465.0" r="4.5" fill="#ff2400"/>
<circle cx="1822.0" cy="1468.0" r="4.5" fill="#ff2400"/>
<circle cx="1806.0" cy="1475.0" r="4.5" fill="#ff2400"/>
<line x1="1800.0" y1="1449.3" x2="1824.0" y2="1449.3" stroke="#000" stroke-width="1.60" />
<text x="1619.4" y="1531.2" font-size="37.0" fill="#0030ff">lean</text>
<text x="1766.5" y="1536.3" font-size="37.0" fill="#ff2400">obese</text>
<rect x="481.0" y="1383.0" width="154.7" height="67.4" fill="#0365c0" />
<text x="558.3" y="1429.0" font-size="36.7" text-anchor="middle" fill="#fff">Mouse</text>
<text x="468.0" y="1514.0" font-size="37.0">M</text>
<line x1="515.7" y1="1545.0" x2="515.7" y2="1711.0" stroke="#000" stroke-width="2.00" />
<line x1="514.7" y1="1711.0" x2="680.5" y2="1711.0" stroke="#000" stroke-width="2.00" />
<line x1="510.7" y1="1545.0" x2="515.7" y2="1545.0" stroke="#000" stroke-width="2.00" />
<text x="510.4" y="1567.2" font-size="36.0" text-anchor="end">100</text>
<line x1="510.7" y1="1627.4" x2="515.7" y2="1627.4" stroke="#000" stroke-width="2.00" />
<text x="510.4" y="1643.9" font-size="36.0" text-anchor="end">50</text>
<line x1="510.7" y1="1711.0" x2="515.7" y2="1711.0" stroke="#000" stroke-width="2.00" />
<text x="510.4" y="1714.9" font-size="36.0" text-anchor="end">0</text>
<text x="447.0" y="1627.0" font-size="37.0" text-anchor="middle" transform="rotate(-90.0 447.0 1627.0)">% macs</text>
<text x="556.5" y="1607.0" font-size="32.0" font-style="italic" transform="rotate(-90.0 556.5 1607.0)">P=0.0286</text>
<text x="586.0" y="1551.0" font-size="31.0" font-style="italic">P=0.0286</text>
<line x1="526.0" y1="1620.0" x2="591.0" y2="1620.0" stroke="#000" stroke-width="2.00" />
<line x1="618.0" y1="1564.0" x2="682.0" y2="1564.0" stroke="#000" stroke-width="2.00" />
<circle cx="536.0" cy="1690.0" r="3.8" fill="#0030ff"/>
<circle cx="544.0" cy="1694.0" r="3.8" fill="#0030ff"/>
<circle cx="550.0" cy="1696.0" r="3.8" fill="#0030ff"/>
<circle cx="536.0" cy="1700.0" r="3.8" fill="#0030ff"/>
<line x1="531.0" y1="1694.6" x2="552.0" y2="1694.6" stroke="#000" stroke-width="1.60" />
<circle cx="573.0" cy="1642.0" r="3.8" fill="#ff2400"/>
<circle cx="566.0" cy="1649.0" r="3.8" fill="#ff2400"/>
<circle cx="578.0" cy="1655.0" r="3.8" fill="#ff2400"/>
<circle cx="573.0" cy="1670.0" r="3.8" fill="#ff2400"/>
<line x1="563.0" y1="1654.0" x2="583.0" y2="1654.0" stroke="#000" stroke-width="1.60" />
<circle cx="619.0" cy="1578.0" r="3.8" fill="#0030ff"/>
<circle cx="625.0" cy="1582.0" r="3.8" fill="#0030ff"/>
<circle cx="632.0" cy="1582.0" r="3.8" fill="#0030ff"/>
<circle cx="625.0" cy="1601.0" r="3.8" fill="#0030ff"/>
<line x1="614.0" y1="1586.5" x2="635.0" y2="1586.5" stroke="#000" stroke-width="1.60" />
<circle cx="655.5" cy="1605.0" r="3.8" fill="#ff2400"/>
<circle cx="647.0" cy="1628.0" r="3.8" fill="#ff2400"/>
<circle cx="661.0" cy="1630.0" r="3.8" fill="#ff2400"/>
<circle cx="655.5" cy="1642.0" r="3.8" fill="#ff2400"/>
<line x1="645.0" y1="1625.5" x2="666.0" y2="1625.5" stroke="#000" stroke-width="1.60" />
<text x="445.0" y="1752.0" font-size="37.0"><tspan>CX</tspan><tspan dy="3.70" font-size="24.4">3</tspan><tspan dy="-3.70">CR</tspan><tspan dy="3.70" font-size="24.4">1</tspan><tspan dy="-11.10" font-size="24.4">+</tspan></text>
<text x="476.0" y="1785.0" font-size="37.0"><tspan>CCR2</tspan><tspan dy="-7.40" font-size="24.4">+</tspan></text>
<text x="608.0" y="1752.0" font-size="37.0"><tspan>CX</tspan><tspan dy="3.70" font-size="24.4">3</tspan><tspan dy="-3.70">CR</tspan><tspan dy="3.70" font-size="24.4">1</tspan><tspan dy="-11.10" font-size="24.4">-</tspan></text>
<text x="608.0" y="1785.0" font-size="37.0"><tspan>CCR2</tspan><tspan dy="-7.40" font-size="24.4">-</tspan></text>
<text x="494.0" y="1818.0" font-size="37.0" fill="#0030ff">lean</text>
<text x="604.0" y="1821.0" font-size="37.0" fill="#ff2400">obese</text>
<text x="841.0" y="1592.0" font-size="37.0">N</text>
<rect x="814.2" y="1608.8" width="266.3" height="52.0" fill="#3280b4" />
<rect x="1087.6" y="1609.8" width="264.1" height="51.2" fill="#3280b4" />
<text x="947.4" y="1645.5" font-size="32.0" text-anchor="middle" fill="#fff" font-weight="bold" xml:space="preserve">60 Days  HFD</text>
<text x="1213.0" y="1646.0" font-size="32.0" text-anchor="middle" fill="#fff" font-weight="bold" xml:space="preserve">120 Days  HFD</text>
<text x="776.0" y="1687.0" font-size="34.0" text-anchor="middle" transform="rotate(-90.0 776.0 1687.0)">auto-</text>
<text x="805.0" y="1683.0" font-size="34.0" text-anchor="middle" transform="rotate(-90.0 805.0 1683.0)">fluorescence</text>
<text x="776.0" y="1864.5" font-size="34.0" text-anchor="middle" transform="rotate(-90.0 776.0 1864.5)">td</text>
<text x="805.0" y="1869.6" font-size="34.0" text-anchor="middle" transform="rotate(-90.0 805.0 1869.6)">Tomato</text>
<text x="803.0" y="2013.8" font-size="34.0" text-anchor="middle" transform="rotate(-90.0 803.0 2013.8)">merged</text>
<text x="878.7" y="2105.2" font-size="34.0" text-anchor="middle">lean</text>
<text x="1022.3" y="2105.2" font-size="34.0" text-anchor="middle">obese</text>
<text x="1158.0" y="2105.2" font-size="34.0" text-anchor="middle">lean</text>
<text x="1289.0" y="2105.2" font-size="34.0" text-anchor="middle">obese</text>
<defs><filter id="bl1" x="-50%" y="-50%" width="200%" height="200%"><feGaussianBlur stdDeviation="1.2"/></filter><filter id="bl2" x="-50%" y="-50%" width="200%" height="200%"><feGaussianBlur stdDeviation="2.2"/></filter></defs>
<clipPath id="nc00"><rect x="814.2" y="1661.3" width="131.4" height="134.4"/></clipPath>
<rect x="814.2" y="1661.3" width="131.4" height="134.4" fill="#000" />
<clipPath id="nc01"><rect x="814.2" y="1801.0" width="131.4" height="136.0"/></clipPath>
<rect x="814.2" y="1801.0" width="131.4" height="136.0" fill="#000" />
<clipPath id="nc02"><rect x="814.2" y="1943.3" width="131.4" height="136.0"/></clipPath>
<rect x="814.2" y="1943.3" width="131.4" height="136.0" fill="#000" />
<clipPath id="nc10"><rect x="949.2" y="1661.3" width="132.0" height="134.4"/></clipPath>
<rect x="949.2" y="1661.3" width="132.0" height="134.4" fill="#000" />
<clipPath id="nc11"><rect x="949.2" y="1801.0" width="132.0" height="136.0"/></clipPath>
<rect x="949.2" y="1801.0" width="132.0" height="136.0" fill="#000" />
<clipPath id="nc12"><rect x="949.2" y="1943.3" width="132.0" height="136.0"/></clipPath>
<rect x="949.2" y="1943.3" width="132.0" height="136.0" fill="#000" />
<clipPath id="nc20"><rect x="1087.3" y="1661.3" width="132.4" height="134.4"/></clipPath>
<rect x="1087.3" y="1661.3" width="132.4" height="134.4" fill="#000" />
<clipPath id="nc21"><rect x="1087.3" y="1801.0" width="132.4" height="136.0"/></clipPath>
<rect x="1087.3" y="1801.0" width="132.4" height="136.0" fill="#000" />
<clipPath id="nc22"><rect x="1087.3" y="1943.3" width="132.4" height="136.0"/></clipPath>
<rect x="1087.3" y="1943.3" width="132.4" height="136.0" fill="#000" />
<clipPath id="nc30"><rect x="1222.9" y="1661.3" width="129.5" height="134.4"/></clipPath>
<rect x="1222.9" y="1661.3" width="129.5" height="134.4" fill="#000" />
<clipPath id="nc31"><rect x="1222.9" y="1801.0" width="129.5" height="136.0"/></clipPath>
<rect x="1222.9" y="1801.0" width="129.5" height="136.0" fill="#000" />
<clipPath id="nc32"><rect x="1222.9" y="1943.3" width="129.5" height="136.0"/></clipPath>
<rect x="1222.9" y="1943.3" width="129.5" height="136.0" fill="#000" />
<rect x="1087.3" y="1661.3" width="132.4" height="134.4" fill="#031603" />
<rect x="814.2" y="1661.3" width="131.4" height="134.4" fill="#020a02" />
<rect x="1087.3" y="1943.3" width="132.4" height="136.0" fill="#031603" />
<rect x="814.2" y="1943.3" width="131.4" height="136.0" fill="#020a02" />
<g clip-path="url(#nc00)"><g filter="url(#bl1)" fill="#1ee81e"><ellipse cx="911.4" cy="1767.9" rx="2.1" ry="1.5" opacity="0.43"/><ellipse cx="809.4" cy="1702.5" rx="1.7" ry="1.7" opacity="0.20"/><ellipse cx="856.7" cy="1712.8" rx="1.6" ry="0.6" opacity="0.23"/><ellipse cx="885.7" cy="1683.3" rx="0.9" ry="1.6" opacity="0.20"/><ellipse cx="830.8" cy="1661.5" rx="2.0" ry="0.9" opacity="0.23"/><ellipse cx="928.5" cy="1700.1" rx="2.1" ry="1.2" opacity="0.36"/><ellipse cx="884.8" cy="1687.5" rx="2.1" ry="1.7" opacity="0.25"/><ellipse cx="861.9" cy="1702.1" rx="0.8" ry="1.0" opacity="0.34"/><ellipse cx="848.3" cy="1683.9" rx="1.2" ry="1.6" opacity="0.30"/><ellipse cx="825.2" cy="1697.9" rx="0.8" ry="1.8" opacity="0.17"/><ellipse cx="924.9" cy="1663.7" rx="1.9" ry="1.0" opacity="0.33"/><ellipse cx="868.3" cy="1697.9" rx="2.1" ry="0.8" opacity="0.38"/><ellipse cx="937.6" cy="1707.4" rx="1.2" ry="1.2" opacity="0.39"/><ellipse cx="855.8" cy="1670.3" rx="2.0" ry="0.6" opacity="0.44"/><ellipse cx="841.4" cy="1711.5" rx="2.1" ry="1.0" opacity="0.43"/><ellipse cx="855.1" cy="1703.8" rx="1.0" ry="0.7" opacity="0.21"/><ellipse cx="944.8" cy="1682.9" rx="0.8" ry="1.8" opacity="0.32"/><ellipse cx="858.3" cy="1714.0" rx="1.9" ry="1.1" opacity="0.29"/><ellipse cx="860.7" cy="1693.5" rx="1.4" ry="1.6" opacity="0.20"/><ellipse cx="938.6" cy="1745.8" rx="1.9" ry="0.7" opacity="0.29"/><ellipse cx="865.6" cy="1685.6" rx="1.4" ry="1.8" opacity="0.41"/><ellipse cx="873.6" cy="1726.7" rx="1.8" ry="1.2" opacity="0.25"/><ellipse cx="868.0" cy="1706.1" rx="2.2" ry="1.8" opacity="0.35"/><ellipse cx="851.6" cy="1700.4" rx="1.1" ry="1.5" opacity="0.42"/><ellipse cx="864.0" cy="1671.7" rx="1.7" ry="1.4" opacity="0.38"/><ellipse cx="851.6" cy="1684.4" rx="1.4" ry="1.5" opacity="0.36"/><ellipse cx="883.5" cy="1688.5" rx="1.6" ry="0.6" opacity="0.32"/><ellipse cx="845.7" cy="1681.5" rx="1.9" ry="1.4" opacity="0.40"/><ellipse cx="836.0" cy="1677.3" rx="1.9" ry="1.0" opacity="0.41"/><ellipse cx="904.4" cy="1792.1" rx="2.1" ry="1.2" opacity="0.32"/><ellipse cx="880.6" cy="1667.1" rx="1.4" ry="1.4" opacity="0.37"/><ellipse cx="836.7" cy="1765.9" rx="1.6" ry="1.4" opacity="0.29"/><ellipse cx="915.7" cy="1746.6" rx="1.8" ry="0.6" opacity="0.21"/><ellipse cx="847.9" cy="1687.3" rx="1.7" ry="1.4" opacity="0.17"/><ellipse cx="857.2" cy="1699.9" rx="0.9" ry="1.0" opacity="0.22"/><ellipse cx="878.0" cy="1698.8" rx="1.3" ry="1.3" opacity="0.34"/><ellipse cx="856.8" cy="1695.0" rx="1.3" ry="0.9" opacity="0.28"/><ellipse cx="865.7" cy="1683.5" rx="0.8" ry="1.3" opacity="0.19"/><ellipse cx="858.7" cy="1739.1" rx="2.1" ry="1.6" opacity="0.29"/><ellipse cx="898.3" cy="1710.8" rx="0.9" ry="1.3" opacity="0.33"/><ellipse cx="941.0" cy="1742.9" rx="1.2" ry="1.7" opacity="0.16"/><ellipse cx="830.9" cy="1687.5" rx="0.9" ry="1.4" opacity="0.42"/><ellipse cx="843.2" cy="1699.5" rx="1.1" ry="1.8" opacity="0.27"/><ellipse cx="933.9" cy="1741.1" rx="1.1" ry="1.8" opacity="0.31"/><ellipse cx="831.9" cy="1731.9" rx="1.4" ry="0.9" opacity="0.30"/><ellipse cx="840.6" cy="1684.8" rx="1.1" ry="1.5" opacity="0.40"/><ellipse cx="840.5" cy="1693.0" rx="2.1" ry="1.5" opacity="0.23"/><ellipse cx="890.0" cy="1730.0" rx="1.1" ry="1.3" opacity="0.30"/><ellipse cx="893.3" cy="1760.9" rx="0.9" ry="1.5" opacity="0.25"/><ellipse cx="858.2" cy="1701.1" rx="1.5" ry="1.2" opacity="0.27"/><ellipse cx="891.6" cy="1666.2" rx="1.1" ry="1.1" opacity="0.43"/><ellipse cx="885.7" cy="1663.3" rx="1.9" ry="1.1" opacity="0.33"/><ellipse cx="897.0" cy="1725.9" rx="2.1" ry="1.1" opacity="0.28"/><ellipse cx="839.9" cy="1701.0" rx="1.9" ry="0.7" opacity="0.41"/><ellipse cx="870.9" cy="1699.7" rx="1.9" ry="1.7" opacity="0.20"/><ellipse cx="833.8" cy="1690.3" rx="1.2" ry="0.8" opacity="0.33"/><ellipse cx="823.2" cy="1692.1" rx="1.9" ry="1.6" opacity="0.36"/><ellipse cx="846.7" cy="1657.0" rx="2.2" ry="1.4" opacity="0.18"/><ellipse cx="842.9" cy="1747.8" rx="2.1" ry="1.5" opacity="0.20"/><ellipse cx="866.1" cy="1691.4" rx="1.6" ry="1.1" opacity="0.21"/><ellipse cx="819.9" cy="1675.8" rx="1.3" ry="0.7" opacity="0.18"/><ellipse cx="911.4" cy="1779.0" rx="0.9" ry="1.1" opacity="0.25"/><ellipse cx="878.3" cy="1787.1" rx="1.3" ry="0.7" opacity="0.37"/><ellipse cx="840.1" cy="1683.1" rx="2.1" ry="1.3" opacity="0.34"/><ellipse cx="841.7" cy="1691.9" rx="1.8" ry="1.2" opacity="0.20"/><ellipse cx="833.7" cy="1711.9" rx="1.0" ry="1.5" opacity="0.35"/><ellipse cx="851.9" cy="1690.0" rx="0.9" ry="1.3" opacity="0.23"/><ellipse cx="877.1" cy="1704.6" rx="1.9" ry="0.6" opacity="0.37"/><ellipse cx="885.0" cy="1723.3" rx="1.7" ry="0.9" opacity="0.20"/><ellipse cx="901.3" cy="1771.3" rx="0.9" ry="1.3" opacity="0.27"/><ellipse cx="842.4" cy="1712.0" rx="1.2" ry="1.1" opacity="0.20"/><ellipse cx="899.1" cy="1769.1" rx="1.4" ry="1.6" opacity="0.31"/><ellipse cx="889.3" cy="1760.5" rx="1.3" ry="0.7" opacity="0.17"/><ellipse cx="896.9" cy="1702.5" rx="1.4" ry="1.5" opacity="0.16"/><ellipse cx="877.6" cy="1682.9" rx="1.3" ry="1.2" opacity="0.19"/><ellipse cx="866.7" cy="1706.7" rx="1.3" ry="1.7" opacity="0.21"/><ellipse cx="854.2" cy="1703.5" rx="1.1" ry="0.9" opacity="0.30"/><ellipse cx="873.3" cy="1689.2" rx="2.1" ry="1.4" opacity="0.36"/><ellipse cx="865.6" cy="1692.9" rx="1.7" ry="0.9" opacity="0.36"/><ellipse cx="835.6" cy="1688.2" rx="0.7" ry="0.9" opacity="0.19"/><ellipse cx="875.0" cy="1693.1" rx="1.2" ry="1.2" opacity="0.25"/><ellipse cx="908.2" cy="1683.2" rx="1.1" ry="1.4" opacity="0.44"/><ellipse cx="870.6" cy="1792.0" rx="0.7" ry="0.7" opacity="0.39"/><ellipse cx="880.4" cy="1700.2" rx="2.2" ry="1.2" opacity="0.26"/><ellipse cx="894.8" cy="1708.3" rx="1.4" ry="1.7" opacity="0.18"/><ellipse cx="875.3" cy="1699.7" rx="0.8" ry="0.9" opacity="0.28"/><ellipse cx="861.5" cy="1696.5" rx="2.2" ry="0.8" opacity="0.31"/><ellipse cx="848.0" cy="1694.2" rx="1.2" ry="0.7" opacity="0.32"/><ellipse cx="892.6" cy="1776.1" rx="1.0" ry="0.6" opacity="0.32"/><ellipse cx="838.7" cy="1689.4" rx="1.6" ry="1.5" opacity="0.43"/><ellipse cx="820.7" cy="1703.5" rx="1.0" ry="0.7" opacity="0.25"/><ellipse cx="861.4" cy="1669.7" rx="1.2" ry="0.8" opacity="0.19"/><ellipse cx="874.5" cy="1702.8" rx="1.6" ry="0.9" opacity="0.18"/><ellipse cx="820.5" cy="1688.1" rx="1.1" ry="1.0" opacity="0.19"/><ellipse cx="843.1" cy="1716.8" rx="1.5" ry="1.7" opacity="0.35"/><ellipse cx="889.5" cy="1720.6" rx="1.9" ry="1.4" opacity="0.44"/><ellipse cx="906.1" cy="1697.2" rx="1.9" ry="1.1" opacity="0.20"/><ellipse cx="863.8" cy="1704.9" rx="1.7" ry="0.9" opacity="0.18"/><ellipse cx="887.2" cy="1665.0" rx="0.8" ry="0.8" opacity="0.27"/><ellipse cx="938.5" cy="1743.3" rx="1.0" ry="1.1" opacity="0.27"/><ellipse cx="882.6" cy="1696.7" rx="1.9" ry="1.5" opacity="0.19"/><ellipse cx="836.6" cy="1756.4" rx="1.4" ry="1.7" opacity="0.39"/><ellipse cx="838.0" cy="1723.7" rx="1.4" ry="1.1" opacity="0.29"/><ellipse cx="936.9" cy="1732.7" rx="2.2" ry="1.3" opacity="0.19"/><ellipse cx="869.1" cy="1668.3" rx="2.2" ry="0.6" opacity="0.33"/><ellipse cx="870.9" cy="1685.8" rx="1.0" ry="0.9" opacity="0.22"/><ellipse cx="861.0" cy="1761.9" rx="1.1" ry="1.0" opacity="0.24"/><ellipse cx="924.3" cy="1775.2" rx="1.6" ry="1.1" opacity="0.20"/><ellipse cx="878.4" cy="1666.4" rx="1.0" ry="0.7" opacity="0.37"/><ellipse cx="840.3" cy="1768.1" rx="1.2" ry="1.4" opacity="0.41"/><ellipse cx="919.0" cy="1711.7" rx="0.7" ry="1.2" opacity="0.33"/><ellipse cx="842.8" cy="1703.1" rx="0.7" ry="1.0" opacity="0.27"/><ellipse cx="850.4" cy="1681.8" rx="2.2" ry="1.6" opacity="0.43"/><ellipse cx="902.0" cy="1733.2" rx="1.9" ry="1.0" opacity="0.34"/><ellipse cx="882.6" cy="1699.4" rx="0.8" ry="0.7" opacity="0.27"/><ellipse cx="913.7" cy="1757.0" rx="1.2" ry="1.7" opacity="0.24"/><ellipse cx="823.6" cy="1762.3" rx="1.7" ry="1.7" opacity="0.42"/><ellipse cx="924.0" cy="1760.3" rx="1.6" ry="0.9" opacity="0.31"/><ellipse cx="845.5" cy="1791.9" rx="1.5" ry="1.1" opacity="0.16"/><ellipse cx="868.9" cy="1713.6" rx="2.0" ry="1.7" opacity="0.34"/><ellipse cx="879.9" cy="1708.8" rx="1.5" ry="1.5" opacity="0.27"/><ellipse cx="842.1" cy="1702.2" rx="1.1" ry="1.3" opacity="0.42"/><ellipse cx="833.3" cy="1677.6" rx="1.0" ry="0.7" opacity="0.33"/><ellipse cx="929.3" cy="1758.9" rx="1.3" ry="1.1" opacity="0.32"/><ellipse cx="853.8" cy="1698.9" rx="1.6" ry="1.8" opacity="0.22"/><ellipse cx="875.4" cy="1707.3" rx="1.6" ry="0.8" opacity="0.22"/><ellipse cx="898.9" cy="1753.8" rx="1.8" ry="0.7" opacity="0.30"/><ellipse cx="939.6" cy="1704.0" rx="2.0" ry="1.4" opacity="0.43"/><ellipse cx="843.6" cy="1669.9" rx="1.4" ry="0.7" opacity="0.22"/><ellipse cx="865.8" cy="1699.7" rx="1.6" ry="0.7" opacity="0.38"/><ellipse cx="921.1" cy="1769.0" rx="1.8" ry="1.7" opacity="0.44"/><ellipse cx="940.6" cy="1675.1" rx="0.9" ry="0.7" opacity="0.22"/><ellipse cx="827.0" cy="1700.7" rx="1.8" ry="0.7" opacity="0.28"/><ellipse cx="863.3" cy="1677.1" rx="1.6" ry="1.0" opacity="0.36"/><ellipse cx="903.1" cy="1687.5" rx="0.8" ry="1.5" opacity="0.37"/><ellipse cx="873.2" cy="1706.0" rx="1.2" ry="1.5" opacity="0.43"/><ellipse cx="850.3" cy="1711.2" rx="1.7" ry="1.5" opacity="0.33"/><ellipse cx="836.0" cy="1718.5" rx="1.5" ry="0.7" opacity="0.29"/><ellipse cx="852.3" cy="1690.6" rx="1.1" ry="0.7" opacity="0.30"/><ellipse cx="885.1" cy="1713.1" rx="2.1" ry="0.7" opacity="0.27"/><ellipse cx="814.9" cy="1763.9" rx="1.2" ry="0.6" opacity="0.24"/><ellipse cx="838.3" cy="1706.6" rx="0.8" ry="0.9" opacity="0.45"/><ellipse cx="847.9" cy="1696.3" rx="1.1" ry="1.7" opacity="0.36"/><ellipse cx="821.1" cy="1713.9" rx="1.9" ry="1.1" opacity="0.34"/><ellipse cx="898.7" cy="1746.5" rx="0.8" ry="0.6" opacity="0.39"/><ellipse cx="882.5" cy="1676.7" rx="2.1" ry="1.1" opacity="0.45"/><ellipse cx="931.0" cy="1681.2" rx="1.9" ry="1.1" opacity="0.45"/><ellipse cx="842.6" cy="1717.8" rx="1.1" ry="1.2" opacity="0.25"/><ellipse cx="830.4" cy="1684.0" rx="1.4" ry="0.7" opacity="0.27"/><ellipse cx="930.2" cy="1687.6" rx="0.7" ry="1.6" opacity="0.44"/><ellipse cx="832.1" cy="1693.0" rx="2.1" ry="1.7" opacity="0.17"/><ellipse cx="842.0" cy="1700.1" rx="1.8" ry="1.0" opacity="0.39"/><ellipse cx="802.2" cy="1690.9" rx="1.8" ry="0.7" opacity="0.19"/><ellipse cx="863.3" cy="1710.7" rx="1.4" ry="1.3" opacity="0.45"/><ellipse cx="842.0" cy="1690.7" rx="1.5" ry="1.5" opacity="0.20"/><ellipse cx="855.5" cy="1693.6" rx="1.9" ry="1.1" opacity="0.31"/><ellipse cx="918.1" cy="1668.8" rx="1.5" ry="0.6" opacity="0.28"/><ellipse cx="872.9" cy="1696.9" rx="1.4" ry="1.4" opacity="0.43"/><ellipse cx="825.2" cy="1691.1" rx="2.1" ry="1.7" opacity="0.45"/><ellipse cx="879.4" cy="1723.4" rx="0.8" ry="1.1" opacity="0.38"/><ellipse cx="865.1" cy="1785.2" rx="1.1" ry="1.3" opacity="0.41"/><ellipse cx="842.4" cy="1708.5" rx="1.5" ry="0.8" opacity="0.30"/><ellipse cx="871.8" cy="1702.0" rx="0.9" ry="1.8" opacity="0.24"/><ellipse cx="863.1" cy="1672.8" rx="1.1" ry="1.6" opacity="0.35"/><ellipse cx="845.8" cy="1687.7" rx="1.1" ry="1.7" opacity="0.29"/><ellipse cx="837.4" cy="1679.7" rx="0.8" ry="1.5" opacity="0.33"/><ellipse cx="892.1" cy="1702.3" rx="1.4" ry="1.6" opacity="0.17"/><ellipse cx="829.6" cy="1757.9" rx="1.6" ry="1.3" opacity="0.23"/><ellipse cx="828.7" cy="1669.9" rx="1.7" ry="0.7" opacity="0.18"/><ellipse cx="831.2" cy="1671.5" rx="1.8" ry="0.7" opacity="0.35"/><ellipse cx="830.0" cy="1762.4" rx="1.1" ry="1.0" opacity="0.16"/><ellipse cx="881.8" cy="1782.2" rx="1.4" ry="0.8" opacity="0.23"/><ellipse cx="869.0" cy="1692.2" rx="0.8" ry="1.0" opacity="0.19"/><ellipse cx="835.3" cy="1681.3" rx="1.0" ry="0.8" opacity="0.31"/><ellipse cx="872.8" cy="1738.1" rx="2.1" ry="0.8" opacity="0.24"/><ellipse cx="814.4" cy="1688.5" rx="1.5" ry="1.4" opacity="0.29"/><ellipse cx="923.7" cy="1700.6" rx="0.9" ry="0.9" opacity="0.27"/><ellipse cx="848.9" cy="1745.6" rx="1.7" ry="1.7" opacity="0.20"/><ellipse cx="858.3" cy="1675.1" rx="1.6" ry="1.6" opacity="0.33"/><ellipse cx="875.6" cy="1692.9" rx="1.7" ry="1.5" opacity="0.24"/><ellipse cx="851.9" cy="1700.8" rx="0.8" ry="1.5" opacity="0.28"/><ellipse cx="822.4" cy="1701.7" rx="1.0" ry="1.7" opacity="0.39"/><ellipse cx="880.5" cy="1675.3" rx="1.3" ry="0.9" opacity="0.17"/><ellipse cx="852.2" cy="1675.8" rx="1.5" ry="1.7" opacity="0.44"/><ellipse cx="883.5" cy="1709.7" rx="0.9" ry="1.2" opacity="0.19"/><ellipse cx="885.3" cy="1719.9" rx="1.1" ry="1.3" opacity="0.45"/><ellipse cx="862.3" cy="1711.6" rx="2.1" ry="1.1" opacity="0.35"/><ellipse cx="856.9" cy="1770.0" rx="1.5" ry="0.8" opacity="0.18"/><ellipse cx="875.2" cy="1720.7" rx="2.1" ry="1.3" opacity="0.31"/><ellipse cx="855.6" cy="1684.5" rx="1.4" ry="1.5" opacity="0.34"/><ellipse cx="865.2" cy="1715.9" rx="1.8" ry="0.7" opacity="0.45"/><ellipse cx="860.5" cy="1700.6" rx="1.4" ry="1.3" opacity="0.41"/><ellipse cx="853.2" cy="1689.0" rx="1.6" ry="0.9" opacity="0.27"/><ellipse cx="854.3" cy="1688.3" rx="1.8" ry="1.0" opacity="0.34"/><ellipse cx="878.2" cy="1778.4" rx="2.1" ry="0.9" opacity="0.26"/><ellipse cx="831.6" cy="1717.6" rx="1.3" ry="1.8" opacity="0.20"/><ellipse cx="913.4" cy="1758.9" rx="0.7" ry="1.7" opacity="0.25"/><ellipse cx="900.8" cy="1717.7" rx="2.0" ry="1.4" opacity="0.26"/><ellipse cx="880.4" cy="1756.6" rx="1.6" ry="1.6" opacity="0.21"/><ellipse cx="891.6" cy="1695.5" rx="1.9" ry="1.6" opacity="0.18"/><ellipse cx="876.9" cy="1677.3" rx="1.0" ry="1.8" opacity="0.41"/><ellipse cx="870.0" cy="1677.4" rx="1.3" ry="1.4" opacity="0.23"/><ellipse cx="885.4" cy="1696.6" rx="1.6" ry="1.5" opacity="0.31"/><ellipse cx="844.9" cy="1716.7" rx="1.3" ry="1.3" opacity="0.38"/><ellipse cx="853.4" cy="1690.7" rx="1.1" ry="1.6" opacity="0.21"/><ellipse cx="890.2" cy="1697.5" rx="0.9" ry="1.1" opacity="0.29"/><ellipse cx="876.6" cy="1731.2" rx="0.7" ry="1.6" opacity="0.39"/><ellipse cx="923.6" cy="1743.6" rx="1.8" ry="1.6" opacity="0.34"/><ellipse cx="901.4" cy="1667.2" rx="1.0" ry="0.7" opacity="0.26"/><ellipse cx="850.3" cy="1699.7" rx="1.0" ry="0.6" opacity="0.29"/><ellipse cx="853.6" cy="1681.5" rx="0.9" ry="1.7" opacity="0.42"/><ellipse cx="842.6" cy="1715.3" rx="1.4" ry="1.1" opacity="0.17"/><ellipse cx="859.6" cy="1673.9" rx="2.0" ry="1.4" opacity="0.39"/><ellipse cx="934.3" cy="1767.6" rx="1.3" ry="1.4" opacity="0.36"/><ellipse cx="907.7" cy="1720.7" rx="1.0" ry="1.0" opacity="0.24"/><ellipse cx="915.0" cy="1687.0" rx="1.5" ry="1.6" opacity="0.27"/><ellipse cx="841.3" cy="1687.1" rx="0.9" ry="0.9" opacity="0.16"/><ellipse cx="847.8" cy="1698.3" rx="0.7" ry="1.3" opacity="0.44"/><ellipse cx="856.9" cy="1785.2" rx="0.8" ry="0.8" opacity="0.16"/><ellipse cx="829.2" cy="1681.2" rx="1.4" ry="1.6" opacity="0.29"/><ellipse cx="893.8" cy="1733.3" rx="1.0" ry="1.1" opacity="0.29"/><ellipse cx="844.3" cy="1700.8" rx="1.9" ry="0.7" opacity="0.32"/><ellipse cx="842.5" cy="1679.1" rx="0.8" ry="1.5" opacity="0.28"/><ellipse cx="877.8" cy="1676.2" rx="1.2" ry="1.4" opacity="0.20"/><ellipse cx="825.0" cy="1747.2" rx="2.1" ry="1.4" opacity="0.17"/><ellipse cx="875.7" cy="1720.7" rx="0.9" ry="0.9" opacity="0.29"/><ellipse cx="849.4" cy="1686.0" rx="1.1" ry="0.7" opacity="0.25"/><ellipse cx="852.4" cy="1674.2" rx="1.2" ry="1.7" opacity="0.19"/><ellipse cx="863.9" cy="1715.8" rx="1.4" ry="0.7" opacity="0.41"/><ellipse cx="847.6" cy="1681.1" rx="2.0" ry="0.7" opacity="0.23"/><ellipse cx="852.9" cy="1721.2" rx="1.5" ry="1.0" opacity="0.31"/><ellipse cx="888.8" cy="1721.8" rx="1.7" ry="1.3" opacity="0.28"/><ellipse cx="870.8" cy="1706.4" rx="2.0" ry="1.0" opacity="0.27"/><ellipse cx="891.6" cy="1684.8" rx="1.4" ry="1.5" opacity="0.17"/><ellipse cx="857.7" cy="1664.9" rx="0.8" ry="0.7" opacity="0.35"/><ellipse cx="853.3" cy="1692.2" rx="1.4" ry="0.8" opacity="0.26"/><ellipse cx="881.0" cy="1775.7" rx="2.0" ry="1.3" opacity="0.41"/><ellipse cx="838.9" cy="1697.3" rx="1.6" ry="0.7" opacity="0.42"/><ellipse cx="866.3" cy="1662.6" rx="2.1" ry="1.1" opacity="0.41"/><ellipse cx="831.3" cy="1761.5" rx="1.8" ry="1.1" opacity="0.24"/><ellipse cx="816.8" cy="1712.4" rx="1.3" ry="0.9" opacity="0.34"/><ellipse cx="839.6" cy="1685.2" rx="1.1" ry="0.6" opacity="0.40"/><ellipse cx="846.1" cy="1728.2" rx="1.6" ry="1.2" opacity="0.43"/><ellipse cx="854.3" cy="1706.7" rx="1.6" ry="0.8" opacity="0.44"/><ellipse cx="840.2" cy="1695.3" rx="1.5" ry="0.7" opacity="0.23"/><ellipse cx="917.4" cy="1690.9" rx="1.4" ry="0.6" opacity="0.20"/><ellipse cx="873.4" cy="1694.1" rx="1.1" ry="0.7" opacity="0.19"/><ellipse cx="911.2" cy="1784.6" rx="2.0" ry="1.5" opacity="0.24"/><ellipse cx="855.3" cy="1700.4" rx="1.0" ry="1.5" opacity="0.31"/><ellipse cx="843.1" cy="1721.0" rx="2.0" ry="1.5" opacity="0.38"/><ellipse cx="887.2" cy="1712.7" rx="1.6" ry="0.9" opacity="0.17"/><ellipse cx="846.4" cy="1697.2" rx="0.8" ry="0.9" opacity="0.27"/><ellipse cx="878.0" cy="1773.5" rx="1.8" ry="1.3" opacity="0.26"/><ellipse cx="844.6" cy="1713.4" rx="2.0" ry="1.5" opacity="0.25"/><ellipse cx="882.7" cy="1696.3" rx="1.0" ry="0.6" opacity="0.25"/><ellipse cx="864.4" cy="1715.2" rx="1.6" ry="0.9" opacity="0.38"/><ellipse cx="865.1" cy="1692.0" rx="1.6" ry="1.4" opacity="0.38"/><ellipse cx="875.7" cy="1681.1" rx="1.7" ry="0.7" opacity="0.22"/><ellipse cx="847.6" cy="1693.5" rx="1.8" ry="1.0" opacity="0.30"/><ellipse cx="924.1" cy="1701.8" rx="1.5" ry="1.3" opacity="0.35"/><ellipse cx="857.2" cy="1701.3" rx="6.0" ry="4.0" opacity="0.59"/><ellipse cx="844.2" cy="1698.3" rx="5.0" ry="3.0" opacity="0.52"/><ellipse cx="900.2" cy="1709.3" rx="4.5" ry="3.0" opacity="0.65"/><ellipse cx="941.2" cy="1698.3" rx="2.5" ry="3.5" opacity="0.59"/><ellipse cx="941.2" cy="1712.3" rx="3.0" ry="2.0" opacity="0.59"/><ellipse cx="930.2" cy="1667.3" rx="3.0" ry="2.5" opacity="0.52"/><ellipse cx="843.2" cy="1678.3" rx="4.0" ry="3.0" opacity="0.45"/><ellipse cx="820.6" cy="1758.3" rx="3.0" ry="3.0" opacity="0.65"/><ellipse cx="819.2" cy="1749.3" rx="3.0" ry="2.0" opacity="0.52"/><ellipse cx="827.2" cy="1750.3" rx="2.5" ry="2.0" opacity="0.52"/><ellipse cx="903.2" cy="1769.3" rx="3.0" ry="2.0" opacity="0.45"/><ellipse cx="878.2" cy="1766.3" rx="2.5" ry="2.5" opacity="0.39"/><ellipse cx="835.2" cy="1728.3" rx="3.0" ry="2.5" opacity="0.39"/><ellipse cx="822.2" cy="1769.3" rx="2.0" ry="2.0" opacity="0.52"/><ellipse cx="872.2" cy="1711.3" rx="3.0" ry="2.0" opacity="0.39"/></g></g>
<g clip-path="url(#nc10)"><g filter="url(#bl1)" fill="#1ee81e"><ellipse cx="977.6" cy="1666.9" rx="8.0" ry="1.6" opacity="1.00"/><ellipse cx="1003.9" cy="1670.1" rx="3.2" ry="1.8" opacity="1.00" transform="rotate(15 1003.9 1670.1)"/><ellipse cx="969.6" cy="1685.3" rx="4.0" ry="1.7" opacity="1.00"/><ellipse cx="977.6" cy="1686.8" rx="2.0" ry="1.5" opacity="0.90"/><ellipse cx="1062.2" cy="1678.0" rx="4.8" ry="2.4" opacity="1.00" transform="rotate(-20 1062.2 1678.0)"/><ellipse cx="1020.7" cy="1709.1" rx="2.5" ry="2.0" opacity="0.80"/><ellipse cx="1027.0" cy="1736.3" rx="8.0" ry="2.8" opacity="1.00" transform="rotate(-25 1027.0 1736.3)"/><ellipse cx="1022.2" cy="1733.3" rx="4.0" ry="2.0" opacity="1.00" transform="rotate(-25 1022.2 1733.3)"/><ellipse cx="1007.1" cy="1748.2" rx="5.5" ry="2.8" opacity="1.00" transform="rotate(-10 1007.1 1748.2)"/><ellipse cx="972.8" cy="1747.3" rx="4.0" ry="2.5" opacity="1.00"/><ellipse cx="956.9" cy="1745.5" rx="6.0" ry="0.8" opacity="0.80"/><ellipse cx="1028.6" cy="1765.8" rx="2.4" ry="2.4" opacity="1.00"/><ellipse cx="1035.8" cy="1769.0" rx="1.8" ry="1.8" opacity="1.00"/><ellipse cx="1078.9" cy="1782.5" rx="4.0" ry="2.5" opacity="1.00" transform="rotate(-20 1078.9 1782.5)"/><ellipse cx="1024.6" cy="1795.3" rx="4.5" ry="2.0" opacity="1.00"/><ellipse cx="1057.2" cy="1741.0" rx="2.5" ry="1.5" opacity="0.60"/><ellipse cx="1049.2" cy="1731.3" rx="3.0" ry="2.0" opacity="0.40"/><ellipse cx="1019.2" cy="1779.3" rx="1.5" ry="1.5" opacity="0.80"/><ellipse cx="1022.2" cy="1787.3" rx="1.5" ry="1.5" opacity="0.80"/><ellipse cx="1067.2" cy="1673.3" rx="2.0" ry="2.0" opacity="0.80"/><ellipse cx="991.2" cy="1699.6" rx="0.8" ry="0.9" opacity="0.56"/><ellipse cx="968.3" cy="1721.3" rx="0.9" ry="0.6" opacity="0.34"/><ellipse cx="1070.1" cy="1666.0" rx="0.8" ry="0.7" opacity="0.31"/><ellipse cx="985.8" cy="1684.3" rx="0.8" ry="1.1" opacity="0.33"/><ellipse cx="996.2" cy="1753.6" rx="0.9" ry="0.5" opacity="0.39"/><ellipse cx="987.2" cy="1779.6" rx="0.8" ry="0.7" opacity="0.49"/><ellipse cx="1013.3" cy="1682.7" rx="1.0" ry="1.0" opacity="0.49"/><ellipse cx="1020.0" cy="1763.5" rx="1.2" ry="0.9" opacity="0.32"/><ellipse cx="1015.9" cy="1749.4" rx="0.7" ry="1.0" opacity="0.45"/><ellipse cx="1030.1" cy="1743.1" rx="1.0" ry="1.1" opacity="0.58"/><ellipse cx="1042.0" cy="1754.8" rx="0.7" ry="0.9" opacity="0.55"/><ellipse cx="959.0" cy="1761.4" rx="0.7" ry="0.8" opacity="0.51"/><ellipse cx="1043.6" cy="1762.8" rx="0.8" ry="1.2" opacity="0.48"/><ellipse cx="1023.7" cy="1792.2" rx="0.7" ry="1.0" opacity="0.68"/><ellipse cx="962.0" cy="1764.3" rx="1.0" ry="0.9" opacity="0.62"/><ellipse cx="1061.3" cy="1682.4" rx="0.8" ry="0.9" opacity="0.58"/><ellipse cx="1073.9" cy="1767.7" rx="1.1" ry="0.5" opacity="0.47"/><ellipse cx="1068.1" cy="1786.3" rx="1.0" ry="0.7" opacity="0.61"/><ellipse cx="1019.3" cy="1750.1" rx="0.9" ry="1.1" opacity="0.59"/><ellipse cx="1075.4" cy="1727.5" rx="0.8" ry="1.0" opacity="0.52"/><ellipse cx="957.5" cy="1788.0" rx="0.7" ry="0.8" opacity="0.32"/><ellipse cx="975.6" cy="1784.0" rx="0.7" ry="0.7" opacity="0.62"/><ellipse cx="982.1" cy="1750.1" rx="0.9" ry="1.1" opacity="0.49"/><ellipse cx="993.3" cy="1697.0" rx="0.8" ry="0.5" opacity="0.35"/><ellipse cx="970.2" cy="1704.2" rx="1.0" ry="1.2" opacity="0.44"/><ellipse cx="983.2" cy="1701.4" rx="0.9" ry="0.8" opacity="0.35"/><ellipse cx="1018.2" cy="1698.3" rx="0.6" ry="1.0" opacity="0.34"/><ellipse cx="1007.4" cy="1762.9" rx="0.9" ry="1.1" opacity="0.43"/><ellipse cx="1072.3" cy="1669.0" rx="1.1" ry="0.8" opacity="0.30"/><ellipse cx="984.4" cy="1791.8" rx="1.0" ry="1.0" opacity="0.62"/></g></g>
<g clip-path="url(#nc20)"><g filter="url(#bl2)" fill="#1ee81e"><ellipse cx="1104.7" cy="1699.3" rx="6.5" ry="2.6" opacity="1.00"/><ellipse cx="1094.3" cy="1690.3" rx="3.0" ry="2.5" opacity="0.50"/><ellipse cx="1100.3" cy="1694.3" rx="3.0" ry="2.0" opacity="0.50"/><ellipse cx="1103.1" cy="1724.6" rx="9.5" ry="5.0" opacity="1.00" transform="rotate(25 1103.1 1724.6)"/><ellipse cx="1142.7" cy="1727.7" rx="8.0" ry="3.2" opacity="1.00" transform="rotate(25 1142.7 1727.7)"/><ellipse cx="1115.8" cy="1742.0" rx="3.0" ry="2.5" opacity="0.50"/><ellipse cx="1182.3" cy="1749.3" rx="3.2" ry="5.0" opacity="1.00"/><ellipse cx="1181.3" cy="1761.3" rx="2.5" ry="5.0" opacity="0.70"/><ellipse cx="1125.3" cy="1781.3" rx="7.0" ry="4.0" opacity="1.00" transform="rotate(40 1125.3 1781.3)"/><ellipse cx="1120.3" cy="1775.3" rx="3.0" ry="2.5" opacity="0.60"/><ellipse cx="1175.9" cy="1669.3" rx="5.0" ry="3.0" opacity="0.60"/><ellipse cx="1137.9" cy="1692.9" rx="2.5" ry="2.5" opacity="0.60"/><ellipse cx="1157.3" cy="1681.3" rx="14.0" ry="1.2" opacity="0.35" transform="rotate(-25 1157.3 1681.3)"/><ellipse cx="1201.3" cy="1753.1" rx="3.0" ry="5.0" opacity="0.35"/><ellipse cx="1204.3" cy="1784.3" rx="3.0" ry="4.0" opacity="0.35"/><ellipse cx="1107.3" cy="1761.3" rx="3.0" ry="3.0" opacity="0.30"/></g></g>
<g clip-path="url(#nc30)"><g filter="url(#bl1)" fill="#1ee81e"><ellipse cx="1298.9" cy="1677.1" rx="4.0" ry="6.0" opacity="1.00" transform="rotate(20 1298.9 1677.1)"/><ellipse cx="1295.9" cy="1671.3" rx="3.0" ry="3.0" opacity="0.70"/><ellipse cx="1285.9" cy="1670.8" rx="4.0" ry="3.0" opacity="0.50"/><ellipse cx="1244.9" cy="1675.3" rx="3.0" ry="1.5" opacity="0.60"/><ellipse cx="1256.9" cy="1704.0" rx="2.5" ry="1.5" opacity="0.60" transform="rotate(20 1256.9 1704.0)"/><ellipse cx="1327.3" cy="1711.9" rx="3.0" ry="3.0" opacity="1.00"/><ellipse cx="1329.9" cy="1716.3" rx="2.0" ry="1.5" opacity="0.90"/><ellipse cx="1297.3" cy="1724.6" rx="3.0" ry="3.0" opacity="0.50"/><ellipse cx="1302.9" cy="1740.3" rx="2.0" ry="4.0" opacity="1.00"/><ellipse cx="1317.9" cy="1759.3" rx="4.0" ry="2.0" opacity="0.60"/><ellipse cx="1308.3" cy="1765.7" rx="2.5" ry="2.0" opacity="0.50"/><ellipse cx="1272.9" cy="1786.3" rx="5.0" ry="4.0" opacity="1.00" transform="rotate(20 1272.9 1786.3)"/><ellipse cx="1323.9" cy="1787.9" rx="5.0" ry="5.0" opacity="0.70"/><ellipse cx="1314.9" cy="1667.3" rx="1.5" ry="1.5" opacity="0.50"/><ellipse cx="1334.9" cy="1697.3" rx="2.0" ry="2.0" opacity="0.50"/><ellipse cx="1243.6" cy="1703.2" rx="0.9" ry="1.2" opacity="0.66"/><ellipse cx="1258.6" cy="1791.7" rx="0.9" ry="0.7" opacity="0.33"/><ellipse cx="1287.7" cy="1731.0" rx="0.9" ry="0.7" opacity="0.68"/><ellipse cx="1292.8" cy="1703.3" rx="1.1" ry="0.7" opacity="0.47"/><ellipse cx="1253.8" cy="1694.2" rx="1.3" ry="1.0" opacity="0.51"/><ellipse cx="1313.6" cy="1750.7" rx="0.9" ry="0.8" opacity="0.36"/><ellipse cx="1246.0" cy="1679.0" rx="0.8" ry="0.5" opacity="0.57"/><ellipse cx="1278.3" cy="1693.7" rx="0.8" ry="0.9" opacity="0.38"/><ellipse cx="1332.4" cy="1726.1" rx="0.6" ry="0.6" opacity="0.66"/><ellipse cx="1303.6" cy="1701.2" rx="1.1" ry="0.5" opacity="0.66"/><ellipse cx="1341.2" cy="1749.7" rx="0.5" ry="0.8" opacity="0.63"/><ellipse cx="1305.2" cy="1690.5" rx="0.7" ry="0.6" opacity="0.51"/><ellipse cx="1261.9" cy="1721.2" rx="1.2" ry="1.2" opacity="0.50"/><ellipse cx="1325.2" cy="1680.7" rx="1.3" ry="1.2" opacity="0.49"/><ellipse cx="1335.9" cy="1701.9" rx="1.3" ry="0.8" opacity="0.67"/><ellipse cx="1330.8" cy="1784.8" rx="1.1" ry="0.6" opacity="0.41"/><ellipse cx="1311.7" cy="1781.4" rx="1.0" ry="0.5" opacity="0.44"/><ellipse cx="1279.1" cy="1685.6" rx="0.7" ry="0.9" opacity="0.45"/><ellipse cx="1270.9" cy="1716.9" rx="1.3" ry="1.0" opacity="0.60"/><ellipse cx="1340.8" cy="1667.3" rx="1.2" ry="0.6" opacity="0.38"/><ellipse cx="1320.5" cy="1761.2" rx="1.0" ry="0.9" opacity="0.59"/><ellipse cx="1287.8" cy="1688.6" rx="0.7" ry="0.6" opacity="0.31"/><ellipse cx="1342.9" cy="1786.8" rx="0.8" ry="0.8" opacity="0.41"/><ellipse cx="1324.9" cy="1727.3" rx="0.6" ry="1.2" opacity="0.67"/><ellipse cx="1247.8" cy="1723.0" rx="0.7" ry="1.0" opacity="0.44"/></g></g>
<g clip-path="url(#nc02)"><g filter="url(#bl1)" fill="#1ee81e"><ellipse cx="911.4" cy="2049.9" rx="2.1" ry="1.5" opacity="0.43"/><ellipse cx="809.4" cy="1984.5" rx="1.7" ry="1.7" opacity="0.20"/><ellipse cx="856.7" cy="1994.8" rx="1.6" ry="0.6" opacity="0.23"/><ellipse cx="885.7" cy="1965.3" rx="0.9" ry="1.6" opacity="0.20"/><ellipse cx="830.8" cy="1943.5" rx="2.0" ry="0.9" opacity="0.23"/><ellipse cx="928.5" cy="1982.1" rx="2.1" ry="1.2" opacity="0.36"/><ellipse cx="884.8" cy="1969.5" rx="2.1" ry="1.7" opacity="0.25"/><ellipse cx="861.9" cy="1984.1" rx="0.8" ry="1.0" opacity="0.34"/><ellipse cx="848.3" cy="1965.9" rx="1.2" ry="1.6" opacity="0.30"/><ellipse cx="825.2" cy="1979.9" rx="0.8" ry="1.8" opacity="0.17"/><ellipse cx="924.9" cy="1945.7" rx="1.9" ry="1.0" opacity="0.33"/><ellipse cx="868.3" cy="1979.9" rx="2.1" ry="0.8" opacity="0.38"/><ellipse cx="937.6" cy="1989.4" rx="1.2" ry="1.2" opacity="0.39"/><ellipse cx="855.8" cy="1952.3" rx="2.0" ry="0.6" opacity="0.44"/><ellipse cx="841.4" cy="1993.5" rx="2.1" ry="1.0" opacity="0.43"/><ellipse cx="855.1" cy="1985.8" rx="1.0" ry="0.7" opacity="0.21"/><ellipse cx="944.8" cy="1964.9" rx="0.8" ry="1.8" opacity="0.32"/><ellipse cx="858.3" cy="1996.0" rx="1.9" ry="1.1" opacity="0.29"/><ellipse cx="860.7" cy="1975.5" rx="1.4" ry="1.6" opacity="0.20"/><ellipse cx="938.6" cy="2027.8" rx="1.9" ry="0.7" opacity="0.29"/><ellipse cx="865.6" cy="1967.6" rx="1.4" ry="1.8" opacity="0.41"/><ellipse cx="873.6" cy="2008.7" rx="1.8" ry="1.2" opacity="0.25"/><ellipse cx="868.0" cy="1988.1" rx="2.2" ry="1.8" opacity="0.35"/><ellipse cx="851.6" cy="1982.4" rx="1.1" ry="1.5" opacity="0.42"/><ellipse cx="864.0" cy="1953.7" rx="1.7" ry="1.4" opacity="0.38"/><ellipse cx="851.6" cy="1966.4" rx="1.4" ry="1.5" opacity="0.36"/><ellipse cx="883.5" cy="1970.5" rx="1.6" ry="0.6" opacity="0.32"/><ellipse cx="845.7" cy="1963.5" rx="1.9" ry="1.4" opacity="0.40"/><ellipse cx="836.0" cy="1959.3" rx="1.9" ry="1.0" opacity="0.41"/><ellipse cx="904.4" cy="2074.1" rx="2.1" ry="1.2" opacity="0.32"/><ellipse cx="880.6" cy="1949.1" rx="1.4" ry="1.4" opacity="0.37"/><ellipse cx="836.7" cy="2047.9" rx="1.6" ry="1.4" opacity="0.29"/><ellipse cx="915.7" cy="2028.6" rx="1.8" ry="0.6" opacity="0.21"/><ellipse cx="847.9" cy="1969.3" rx="1.7" ry="1.4" opacity="0.17"/><ellipse cx="857.2" cy="1981.9" rx="0.9" ry="1.0" opacity="0.22"/><ellipse cx="878.0" cy="1980.8" rx="1.3" ry="1.3" opacity="0.34"/><ellipse cx="856.8" cy="1977.0" rx="1.3" ry="0.9" opacity="0.28"/><ellipse cx="865.7" cy="1965.5" rx="0.8" ry="1.3" opacity="0.19"/><ellipse cx="858.7" cy="2021.1" rx="2.1" ry="1.6" opacity="0.29"/><ellipse cx="898.3" cy="1992.8" rx="0.9" ry="1.3" opacity="0.33"/><ellipse cx="941.0" cy="2024.9" rx="1.2" ry="1.7" opacity="0.16"/><ellipse cx="830.9" cy="1969.5" rx="0.9" ry="1.4" opacity="0.42"/><ellipse cx="843.2" cy="1981.5" rx="1.1" ry="1.8" opacity="0.27"/><ellipse cx="933.9" cy="2023.1" rx="1.1" ry="1.8" opacity="0.31"/><ellipse cx="831.9" cy="2013.9" rx="1.4" ry="0.9" opacity="0.30"/><ellipse cx="840.6" cy="1966.8" rx="1.1" ry="1.5" opacity="0.40"/><ellipse cx="840.5" cy="1975.0" rx="2.1" ry="1.5" opacity="0.23"/><ellipse cx="890.0" cy="2012.0" rx="1.1" ry="1.3" opacity="0.30"/><ellipse cx="893.3" cy="2042.9" rx="0.9" ry="1.5" opacity="0.25"/><ellipse cx="858.2" cy="1983.1" rx="1.5" ry="1.2" opacity="0.27"/><ellipse cx="891.6" cy="1948.2" rx="1.1" ry="1.1" opacity="0.43"/><ellipse cx="885.7" cy="1945.3" rx="1.9" ry="1.1" opacity="0.33"/><ellipse cx="897.0" cy="2007.9" rx="2.1" ry="1.1" opacity="0.28"/><ellipse cx="839.9" cy="1983.0" rx="1.9" ry="0.7" opacity="0.41"/><ellipse cx="870.9" cy="1981.7" rx="1.9" ry="1.7" opacity="0.20"/><ellipse cx="833.8" cy="1972.3" rx="1.2" ry="0.8" opacity="0.33"/><ellipse cx="823.2" cy="1974.1" rx="1.9" ry="1.6" opacity="0.36"/><ellipse cx="846.7" cy="1939.0" rx="2.2" ry="1.4" opacity="0.18"/><ellipse cx="842.9" cy="2029.8" rx="2.1" ry="1.5" opacity="0.20"/><ellipse cx="866.1" cy="1973.4" rx="1.6" ry="1.1" opacity="0.21"/><ellipse cx="819.9" cy="1957.8" rx="1.3" ry="0.7" opacity="0.18"/><ellipse cx="911.4" cy="2061.0" rx="0.9" ry="1.1" opacity="0.25"/><ellipse cx="878.3" cy="2069.1" rx="1.3" ry="0.7" opacity="0.37"/><ellipse cx="840.1" cy="1965.1" rx="2.1" ry="1.3" opacity="0.34"/><ellipse cx="841.7" cy="1973.9" rx="1.8" ry="1.2" opacity="0.20"/><ellipse cx="833.7" cy="1993.9" rx="1.0" ry="1.5" opacity="0.35"/><ellipse cx="851.9" cy="1972.0" rx="0.9" ry="1.3" opacity="0.23"/><ellipse cx="877.1" cy="1986.6" rx="1.9" ry="0.6" opacity="0.37"/><ellipse cx="885.0" cy="2005.3" rx="1.7" ry="0.9" opacity="0.20"/><ellipse cx="901.3" cy="2053.3" rx="0.9" ry="1.3" opacity="0.27"/><ellipse cx="842.4" cy="1994.0" rx="1.2" ry="1.1" opacity="0.20"/><ellipse cx="899.1" cy="2051.1" rx="1.4" ry="1.6" opacity="0.31"/><ellipse cx="889.3" cy="2042.5" rx="1.3" ry="0.7" opacity="0.17"/><ellipse cx="896.9" cy="1984.5" rx="1.4" ry="1.5" opacity="0.16"/><ellipse cx="877.6" cy="1964.9" rx="1.3" ry="1.2" opacity="0.19"/><ellipse cx="866.7" cy="1988.7" rx="1.3" ry="1.7" opacity="0.21"/><ellipse cx="854.2" cy="1985.5" rx="1.1" ry="0.9" opacity="0.30"/><ellipse cx="873.3" cy="1971.2" rx="2.1" ry="1.4" opacity="0.36"/><ellipse cx="865.6" cy="1974.9" rx="1.7" ry="0.9" opacity="0.36"/><ellipse cx="835.6" cy="1970.2" rx="0.7" ry="0.9" opacity="0.19"/><ellipse cx="875.0" cy="1975.1" rx="1.2" ry="1.2" opacity="0.25"/><ellipse cx="908.2" cy="1965.2" rx="1.1" ry="1.4" opacity="0.44"/><ellipse cx="870.6" cy="2074.0" rx="0.7" ry="0.7" opacity="0.39"/><ellipse cx="880.4" cy="1982.2" rx="2.2" ry="1.2" opacity="0.26"/><ellipse cx="894.8" cy="1990.3" rx="1.4" ry="1.7" opacity="0.18"/><ellipse cx="875.3" cy="1981.7" rx="0.8" ry="0.9" opacity="0.28"/><ellipse cx="861.5" cy="1978.5" rx="2.2" ry="0.8" opacity="0.31"/><ellipse cx="848.0" cy="1976.2" rx="1.2" ry="0.7" opacity="0.32"/><ellipse cx="892.6" cy="2058.1" rx="1.0" ry="0.6" opacity="0.32"/><ellipse cx="838.7" cy="1971.4" rx="1.6" ry="1.5" opacity="0.43"/><ellipse cx="820.7" cy="1985.5" rx="1.0" ry="0.7" opacity="0.25"/><ellipse cx="861.4" cy="1951.7" rx="1.2" ry="0.8" opacity="0.19"/><ellipse cx="874.5" cy="1984.8" rx="1.6" ry="0.9" opacity="0.18"/><ellipse cx="820.5" cy="1970.1" rx="1.1" ry="1.0" opacity="0.19"/><ellipse cx="843.1" cy="1998.8" rx="1.5" ry="1.7" opacity="0.35"/><ellipse cx="889.5" cy="2002.6" rx="1.9" ry="1.4" opacity="0.44"/><ellipse cx="906.1" cy="1979.2" rx="1.9" ry="1.1" opacity="0.20"/><ellipse cx="863.8" cy="1986.9" rx="1.7" ry="0.9" opacity="0.18"/><ellipse cx="887.2" cy="1947.0" rx="0.8" ry="0.8" opacity="0.27"/><ellipse cx="938.5" cy="2025.3" rx="1.0" ry="1.1" opacity="0.27"/><ellipse cx="882.6" cy="1978.7" rx="1.9" ry="1.5" opacity="0.19"/><ellipse cx="836.6" cy="2038.4" rx="1.4" ry="1.7" opacity="0.39"/><ellipse cx="838.0" cy="2005.7" rx="1.4" ry="1.1" opacity="0.29"/><ellipse cx="936.9" cy="2014.7" rx="2.2" ry="1.3" opacity="0.19"/><ellipse cx="869.1" cy="1950.3" rx="2.2" ry="0.6" opacity="0.33"/><ellipse cx="870.9" cy="1967.8" rx="1.0" ry="0.9" opacity="0.22"/><ellipse cx="861.0" cy="2043.9" rx="1.1" ry="1.0" opacity="0.24"/><ellipse cx="924.3" cy="2057.2" rx="1.6" ry="1.1" opacity="0.20"/><ellipse cx="878.4" cy="1948.4" rx="1.0" ry="0.7" opacity="0.37"/><ellipse cx="840.3" cy="2050.1" rx="1.2" ry="1.4" opacity="0.41"/><ellipse cx="919.0" cy="1993.7" rx="0.7" ry="1.2" opacity="0.33"/><ellipse cx="842.8" cy="1985.1" rx="0.7" ry="1.0" opacity="0.27"/><ellipse cx="850.4" cy="1963.8" rx="2.2" ry="1.6" opacity="0.43"/><ellipse cx="902.0" cy="2015.2" rx="1.9" ry="1.0" opacity="0.34"/><ellipse cx="882.6" cy="1981.4" rx="0.8" ry="0.7" opacity="0.27"/><ellipse cx="913.7" cy="2039.0" rx="1.2" ry="1.7" opacity="0.24"/><ellipse cx="823.6" cy="2044.3" rx="1.7" ry="1.7" opacity="0.42"/><ellipse cx="924.0" cy="2042.3" rx="1.6" ry="0.9" opacity="0.31"/><ellipse cx="845.5" cy="2073.9" rx="1.5" ry="1.1" opacity="0.16"/><ellipse cx="868.9" cy="1995.6" rx="2.0" ry="1.7" opacity="0.34"/><ellipse cx="879.9" cy="1990.8" rx="1.5" ry="1.5" opacity="0.27"/><ellipse cx="842.1" cy="1984.2" rx="1.1" ry="1.3" opacity="0.42"/><ellipse cx="833.3" cy="1959.6" rx="1.0" ry="0.7" opacity="0.33"/><ellipse cx="929.3" cy="2040.9" rx="1.3" ry="1.1" opacity="0.32"/><ellipse cx="853.8" cy="1980.9" rx="1.6" ry="1.8" opacity="0.22"/><ellipse cx="875.4" cy="1989.3" rx="1.6" ry="0.8" opacity="0.22"/><ellipse cx="898.9" cy="2035.8" rx="1.8" ry="0.7" opacity="0.30"/><ellipse cx="939.6" cy="1986.0" rx="2.0" ry="1.4" opacity="0.43"/><ellipse cx="843.6" cy="1951.9" rx="1.4" ry="0.7" opacity="0.22"/><ellipse cx="865.8" cy="1981.7" rx="1.6" ry="0.7" opacity="0.38"/><ellipse cx="921.1" cy="2051.0" rx="1.8" ry="1.7" opacity="0.44"/><ellipse cx="940.6" cy="1957.1" rx="0.9" ry="0.7" opacity="0.22"/><ellipse cx="827.0" cy="1982.7" rx="1.8" ry="0.7" opacity="0.28"/><ellipse cx="863.3" cy="1959.1" rx="1.6" ry="1.0" opacity="0.36"/><ellipse cx="903.1" cy="1969.5" rx="0.8" ry="1.5" opacity="0.37"/><ellipse cx="873.2" cy="1988.0" rx="1.2" ry="1.5" opacity="0.43"/><ellipse cx="850.3" cy="1993.2" rx="1.7" ry="1.5" opacity="0.33"/><ellipse cx="836.0" cy="2000.5" rx="1.5" ry="0.7" opacity="0.29"/><ellipse cx="852.3" cy="1972.6" rx="1.1" ry="0.7" opacity="0.30"/><ellipse cx="885.1" cy="1995.1" rx="2.1" ry="0.7" opacity="0.27"/><ellipse cx="814.9" cy="2045.9" rx="1.2" ry="0.6" opacity="0.24"/><ellipse cx="838.3" cy="1988.6" rx="0.8" ry="0.9" opacity="0.45"/><ellipse cx="847.9" cy="1978.3" rx="1.1" ry="1.7" opacity="0.36"/><ellipse cx="821.1" cy="1995.9" rx="1.9" ry="1.1" opacity="0.34"/><ellipse cx="898.7" cy="2028.5" rx="0.8" ry="0.6" opacity="0.39"/><ellipse cx="882.5" cy="1958.7" rx="2.1" ry="1.1" opacity="0.45"/><ellipse cx="931.0" cy="1963.2" rx="1.9" ry="1.1" opacity="0.45"/><ellipse cx="842.6" cy="1999.8" rx="1.1" ry="1.2" opacity="0.25"/><ellipse cx="830.4" cy="1966.0" rx="1.4" ry="0.7" opacity="0.27"/><ellipse cx="930.2" cy="1969.6" rx="0.7" ry="1.6" opacity="0.44"/><ellipse cx="832.1" cy="1975.0" rx="2.1" ry="1.7" opacity="0.17"/><ellipse cx="842.0" cy="1982.1" rx="1.8" ry="1.0" opacity="0.39"/><ellipse cx="802.2" cy="1972.9" rx="1.8" ry="0.7" opacity="0.19"/><ellipse cx="863.3" cy="1992.7" rx="1.4" ry="1.3" opacity="0.45"/><ellipse cx="842.0" cy="1972.7" rx="1.5" ry="1.5" opacity="0.20"/><ellipse cx="855.5" cy="1975.6" rx="1.9" ry="1.1" opacity="0.31"/><ellipse cx="918.1" cy="1950.8" rx="1.5" ry="0.6" opacity="0.28"/><ellipse cx="872.9" cy="1978.9" rx="1.4" ry="1.4" opacity="0.43"/><ellipse cx="825.2" cy="1973.1" rx="2.1" ry="1.7" opacity="0.45"/><ellipse cx="879.4" cy="2005.4" rx="0.8" ry="1.1" opacity="0.38"/><ellipse cx="865.1" cy="2067.2" rx="1.1" ry="1.3" opacity="0.41"/><ellipse cx="842.4" cy="1990.5" rx="1.5" ry="0.8" opacity="0.30"/><ellipse cx="871.8" cy="1984.0" rx="0.9" ry="1.8" opacity="0.24"/><ellipse cx="863.1" cy="1954.8" rx="1.1" ry="1.6" opacity="0.35"/><ellipse cx="845.8" cy="1969.7" rx="1.1" ry="1.7" opacity="0.29"/><ellipse cx="837.4" cy="1961.7" rx="0.8" ry="1.5" opacity="0.33"/><ellipse cx="892.1" cy="1984.3" rx="1.4" ry="1.6" opacity="0.17"/><ellipse cx="829.6" cy="2039.9" rx="1.6" ry="1.3" opacity="0.23"/><ellipse cx="828.7" cy="1951.9" rx="1.7" ry="0.7" opacity="0.18"/><ellipse cx="831.2" cy="1953.5" rx="1.8" ry="0.7" opacity="0.35"/><ellipse cx="830.0" cy="2044.4" rx="1.1" ry="1.0" opacity="0.16"/><ellipse cx="881.8" cy="2064.2" rx="1.4" ry="0.8" opacity="0.23"/><ellipse cx="869.0" cy="1974.2" rx="0.8" ry="1.0" opacity="0.19"/><ellipse cx="835.3" cy="1963.3" rx="1.0" ry="0.8" opacity="0.31"/><ellipse cx="872.8" cy="2020.1" rx="2.1" ry="0.8" opacity="0.24"/><ellipse cx="814.4" cy="1970.5" rx="1.5" ry="1.4" opacity="0.29"/><ellipse cx="923.7" cy="1982.6" rx="0.9" ry="0.9" opacity="0.27"/><ellipse cx="848.9" cy="2027.6" rx="1.7" ry="1.7" opacity="0.20"/><ellipse cx="858.3" cy="1957.1" rx="1.6" ry="1.6" opacity="0.33"/><ellipse cx="875.6" cy="1974.9" rx="1.7" ry="1.5" opacity="0.24"/><ellipse cx="851.9" cy="1982.8" rx="0.8" ry="1.5" opacity="0.28"/><ellipse cx="822.4" cy="1983.7" rx="1.0" ry="1.7" opacity="0.39"/><ellipse cx="880.5" cy="1957.3" rx="1.3" ry="0.9" opacity="0.17"/><ellipse cx="852.2" cy="1957.8" rx="1.5" ry="1.7" opacity="0.44"/><ellipse cx="883.5" cy="1991.7" rx="0.9" ry="1.2" opacity="0.19"/><ellipse cx="885.3" cy="2001.9" rx="1.1" ry="1.3" opacity="0.45"/><ellipse cx="862.3" cy="1993.6" rx="2.1" ry="1.1" opacity="0.35"/><ellipse cx="856.9" cy="2052.0" rx="1.5" ry="0.8" opacity="0.18"/><ellipse cx="875.2" cy="2002.7" rx="2.1" ry="1.3" opacity="0.31"/><ellipse cx="855.6" cy="1966.5" rx="1.4" ry="1.5" opacity="0.34"/><ellipse cx="865.2" cy="1997.9" rx="1.8" ry="0.7" opacity="0.45"/><ellipse cx="860.5" cy="1982.6" rx="1.4" ry="1.3" opacity="0.41"/><ellipse cx="853.2" cy="1971.0" rx="1.6" ry="0.9" opacity="0.27"/><ellipse cx="854.3" cy="1970.3" rx="1.8" ry="1.0" opacity="0.34"/><ellipse cx="878.2" cy="2060.4" rx="2.1" ry="0.9" opacity="0.26"/><ellipse cx="831.6" cy="1999.6" rx="1.3" ry="1.8" opacity="0.20"/><ellipse cx="913.4" cy="2040.9" rx="0.7" ry="1.7" opacity="0.25"/><ellipse cx="900.8" cy="1999.7" rx="2.0" ry="1.4" opacity="0.26"/><ellipse cx="880.4" cy="2038.6" rx="1.6" ry="1.6" opacity="0.21"/><ellipse cx="891.6" cy="1977.5" rx="1.9" ry="1.6" opacity="0.18"/><ellipse cx="876.9" cy="1959.3" rx="1.0" ry="1.8" opacity="0.41"/><ellipse cx="870.0" cy="1959.4" rx="1.3" ry="1.4" opacity="0.23"/><ellipse cx="885.4" cy="1978.6" rx="1.6" ry="1.5" opacity="0.31"/><ellipse cx="844.9" cy="1998.7" rx="1.3" ry="1.3" opacity="0.38"/><ellipse cx="853.4" cy="1972.7" rx="1.1" ry="1.6" opacity="0.21"/><ellipse cx="890.2" cy="1979.5" rx="0.9" ry="1.1" opacity="0.29"/><ellipse cx="876.6" cy="2013.2" rx="0.7" ry="1.6" opacity="0.39"/><ellipse cx="923.6" cy="2025.6" rx="1.8" ry="1.6" opacity="0.34"/><ellipse cx="901.4" cy="1949.2" rx="1.0" ry="0.7" opacity="0.26"/><ellipse cx="850.3" cy="1981.7" rx="1.0" ry="0.6" opacity="0.29"/><ellipse cx="853.6" cy="1963.5" rx="0.9" ry="1.7" opacity="0.42"/><ellipse cx="842.6" cy="1997.3" rx="1.4" ry="1.1" opacity="0.17"/><ellipse cx="859.6" cy="1955.9" rx="2.0" ry="1.4" opacity="0.39"/><ellipse cx="934.3" cy="2049.6" rx="1.3" ry="1.4" opacity="0.36"/><ellipse cx="907.7" cy="2002.7" rx="1.0" ry="1.0" opacity="0.24"/><ellipse cx="915.0" cy="1969.0" rx="1.5" ry="1.6" opacity="0.27"/><ellipse cx="841.3" cy="1969.1" rx="0.9" ry="0.9" opacity="0.16"/><ellipse cx="847.8" cy="1980.3" rx="0.7" ry="1.3" opacity="0.44"/><ellipse cx="856.9" cy="2067.2" rx="0.8" ry="0.8" opacity="0.16"/><ellipse cx="829.2" cy="1963.2" rx="1.4" ry="1.6" opacity="0.29"/><ellipse cx="893.8" cy="2015.3" rx="1.0" ry="1.1" opacity="0.29"/><ellipse cx="844.3" cy="1982.8" rx="1.9" ry="0.7" opacity="0.32"/><ellipse cx="842.5" cy="1961.1" rx="0.8" ry="1.5" opacity="0.28"/><ellipse cx="877.8" cy="1958.2" rx="1.2" ry="1.4" opacity="0.20"/><ellipse cx="825.0" cy="2029.2" rx="2.1" ry="1.4" opacity="0.17"/><ellipse cx="875.7" cy="2002.7" rx="0.9" ry="0.9" opacity="0.29"/><ellipse cx="849.4" cy="1968.0" rx="1.1" ry="0.7" opacity="0.25"/><ellipse cx="852.4" cy="1956.2" rx="1.2" ry="1.7" opacity="0.19"/><ellipse cx="863.9" cy="1997.8" rx="1.4" ry="0.7" opacity="0.41"/><ellipse cx="847.6" cy="1963.1" rx="2.0" ry="0.7" opacity="0.23"/><ellipse cx="852.9" cy="2003.2" rx="1.5" ry="1.0" opacity="0.31"/><ellipse cx="888.8" cy="2003.8" rx="1.7" ry="1.3" opacity="0.28"/><ellipse cx="870.8" cy="1988.4" rx="2.0" ry="1.0" opacity="0.27"/><ellipse cx="891.6" cy="1966.8" rx="1.4" ry="1.5" opacity="0.17"/><ellipse cx="857.7" cy="1946.9" rx="0.8" ry="0.7" opacity="0.35"/><ellipse cx="853.3" cy="1974.2" rx="1.4" ry="0.8" opacity="0.26"/><ellipse cx="881.0" cy="2057.7" rx="2.0" ry="1.3" opacity="0.41"/><ellipse cx="838.9" cy="1979.3" rx="1.6" ry="0.7" opacity="0.42"/><ellipse cx="866.3" cy="1944.6" rx="2.1" ry="1.1" opacity="0.41"/><ellipse cx="831.3" cy="2043.5" rx="1.8" ry="1.1" opacity="0.24"/><ellipse cx="816.8" cy="1994.4" rx="1.3" ry="0.9" opacity="0.34"/><ellipse cx="839.6" cy="1967.2" rx="1.1" ry="0.6" opacity="0.40"/><ellipse cx="846.1" cy="2010.2" rx="1.6" ry="1.2" opacity="0.43"/><ellipse cx="854.3" cy="1988.7" rx="1.6" ry="0.8" opacity="0.44"/><ellipse cx="840.2" cy="1977.3" rx="1.5" ry="0.7" opacity="0.23"/><ellipse cx="917.4" cy="1972.9" rx="1.4" ry="0.6" opacity="0.20"/><ellipse cx="873.4" cy="1976.1" rx="1.1" ry="0.7" opacity="0.19"/><ellipse cx="911.2" cy="2066.6" rx="2.0" ry="1.5" opacity="0.24"/><ellipse cx="855.3" cy="1982.4" rx="1.0" ry="1.5" opacity="0.31"/><ellipse cx="843.1" cy="2003.0" rx="2.0" ry="1.5" opacity="0.38"/><ellipse cx="887.2" cy="1994.7" rx="1.6" ry="0.9" opacity="0.17"/><ellipse cx="846.4" cy="1979.2" rx="0.8" ry="0.9" opacity="0.27"/><ellipse cx="878.0" cy="2055.5" rx="1.8" ry="1.3" opacity="0.26"/><ellipse cx="844.6" cy="1995.4" rx="2.0" ry="1.5" opacity="0.25"/><ellipse cx="882.7" cy="1978.3" rx="1.0" ry="0.6" opacity="0.25"/><ellipse cx="864.4" cy="1997.2" rx="1.6" ry="0.9" opacity="0.38"/><ellipse cx="865.1" cy="1974.0" rx="1.6" ry="1.4" opacity="0.38"/><ellipse cx="875.7" cy="1963.1" rx="1.7" ry="0.7" opacity="0.22"/><ellipse cx="847.6" cy="1975.5" rx="1.8" ry="1.0" opacity="0.30"/><ellipse cx="924.1" cy="1983.8" rx="1.5" ry="1.3" opacity="0.35"/><ellipse cx="857.2" cy="1983.3" rx="6.0" ry="4.0" opacity="0.59"/><ellipse cx="844.2" cy="1980.3" rx="5.0" ry="3.0" opacity="0.52"/><ellipse cx="900.2" cy="1991.3" rx="4.5" ry="3.0" opacity="0.65"/><ellipse cx="941.2" cy="1980.3" rx="2.5" ry="3.5" opacity="0.59"/><ellipse cx="941.2" cy="1994.3" rx="3.0" ry="2.0" opacity="0.59"/><ellipse cx="930.2" cy="1949.3" rx="3.0" ry="2.5" opacity="0.52"/><ellipse cx="843.2" cy="1960.3" rx="4.0" ry="3.0" opacity="0.45"/><ellipse cx="820.6" cy="2040.3" rx="3.0" ry="3.0" opacity="0.65"/><ellipse cx="819.2" cy="2031.3" rx="3.0" ry="2.0" opacity="0.52"/><ellipse cx="827.2" cy="2032.3" rx="2.5" ry="2.0" opacity="0.52"/><ellipse cx="903.2" cy="2051.3" rx="3.0" ry="2.0" opacity="0.45"/><ellipse cx="878.2" cy="2048.3" rx="2.5" ry="2.5" opacity="0.39"/><ellipse cx="835.2" cy="2010.3" rx="3.0" ry="2.5" opacity="0.39"/><ellipse cx="822.2" cy="2051.3" rx="2.0" ry="2.0" opacity="0.52"/><ellipse cx="872.2" cy="1993.3" rx="3.0" ry="2.0" opacity="0.39"/></g></g>
<g clip-path="url(#nc12)"><g filter="url(#bl1)" fill="#1ee81e"><ellipse cx="977.6" cy="1948.9" rx="8.0" ry="1.6" opacity="1.00"/><ellipse cx="1003.9" cy="1952.1" rx="3.2" ry="1.8" opacity="1.00" transform="rotate(15 1003.9 1952.1)"/><ellipse cx="969.6" cy="1967.3" rx="4.0" ry="1.7" opacity="1.00"/><ellipse cx="977.6" cy="1968.8" rx="2.0" ry="1.5" opacity="0.90"/><ellipse cx="1062.2" cy="1960.0" rx="4.8" ry="2.4" opacity="1.00" transform="rotate(-20 1062.2 1960.0)"/><ellipse cx="1020.7" cy="1991.1" rx="2.5" ry="2.0" opacity="0.80"/><ellipse cx="1027.0" cy="2018.3" rx="8.0" ry="2.8" opacity="1.00" transform="rotate(-25 1027.0 2018.3)"/><ellipse cx="1022.2" cy="2015.3" rx="4.0" ry="2.0" opacity="1.00" transform="rotate(-25 1022.2 2015.3)"/><ellipse cx="1007.1" cy="2030.2" rx="5.5" ry="2.8" opacity="1.00" transform="rotate(-10 1007.1 2030.2)"/><ellipse cx="972.8" cy="2029.3" rx="4.0" ry="2.5" opacity="1.00"/><ellipse cx="956.9" cy="2027.5" rx="6.0" ry="0.8" opacity="0.80"/><ellipse cx="1028.6" cy="2047.8" rx="2.4" ry="2.4" opacity="1.00"/><ellipse cx="1035.8" cy="2051.0" rx="1.8" ry="1.8" opacity="1.00"/><ellipse cx="1078.9" cy="2064.5" rx="4.0" ry="2.5" opacity="1.00" transform="rotate(-20 1078.9 2064.5)"/><ellipse cx="1024.6" cy="2077.3" rx="4.5" ry="2.0" opacity="1.00"/><ellipse cx="1057.2" cy="2023.0" rx="2.5" ry="1.5" opacity="0.60"/><ellipse cx="1049.2" cy="2013.3" rx="3.0" ry="2.0" opacity="0.40"/><ellipse cx="1019.2" cy="2061.3" rx="1.5" ry="1.5" opacity="0.80"/><ellipse cx="1022.2" cy="2069.3" rx="1.5" ry="1.5" opacity="0.80"/><ellipse cx="1067.2" cy="1955.3" rx="2.0" ry="2.0" opacity="0.80"/><ellipse cx="991.2" cy="1981.6" rx="0.8" ry="0.9" opacity="0.56"/><ellipse cx="968.3" cy="2003.3" rx="0.9" ry="0.6" opacity="0.34"/><ellipse cx="1070.1" cy="1948.0" rx="0.8" ry="0.7" opacity="0.31"/><ellipse cx="985.8" cy="1966.3" rx="0.8" ry="1.1" opacity="0.33"/><ellipse cx="996.2" cy="2035.6" rx="0.9" ry="0.5" opacity="0.39"/><ellipse cx="987.2" cy="2061.6" rx="0.8" ry="0.7" opacity="0.49"/><ellipse cx="1013.3" cy="1964.7" rx="1.0" ry="1.0" opacity="0.49"/><ellipse cx="1020.0" cy="2045.5" rx="1.2" ry="0.9" opacity="0.32"/><ellipse cx="1015.9" cy="2031.4" rx="0.7" ry="1.0" opacity="0.45"/><ellipse cx="1030.1" cy="2025.1" rx="1.0" ry="1.1" opacity="0.58"/><ellipse cx="1042.0" cy="2036.8" rx="0.7" ry="0.9" opacity="0.55"/><ellipse cx="959.0" cy="2043.4" rx="0.7" ry="0.8" opacity="0.51"/><ellipse cx="1043.6" cy="2044.8" rx="0.8" ry="1.2" opacity="0.48"/><ellipse cx="1023.7" cy="2074.2" rx="0.7" ry="1.0" opacity="0.68"/><ellipse cx="962.0" cy="2046.3" rx="1.0" ry="0.9" opacity="0.62"/><ellipse cx="1061.3" cy="1964.4" rx="0.8" ry="0.9" opacity="0.58"/><ellipse cx="1073.9" cy="2049.7" rx="1.1" ry="0.5" opacity="0.47"/><ellipse cx="1068.1" cy="2068.3" rx="1.0" ry="0.7" opacity="0.61"/><ellipse cx="1019.3" cy="2032.1" rx="0.9" ry="1.1" opacity="0.59"/><ellipse cx="1075.4" cy="2009.5" rx="0.8" ry="1.0" opacity="0.52"/><ellipse cx="957.5" cy="2070.0" rx="0.7" ry="0.8" opacity="0.32"/><ellipse cx="975.6" cy="2066.0" rx="0.7" ry="0.7" opacity="0.62"/><ellipse cx="982.1" cy="2032.1" rx="0.9" ry="1.1" opacity="0.49"/><ellipse cx="993.3" cy="1979.0" rx="0.8" ry="0.5" opacity="0.35"/><ellipse cx="970.2" cy="1986.2" rx="1.0" ry="1.2" opacity="0.44"/><ellipse cx="983.2" cy="1983.4" rx="0.9" ry="0.8" opacity="0.35"/><ellipse cx="1018.2" cy="1980.3" rx="0.6" ry="1.0" opacity="0.34"/><ellipse cx="1007.4" cy="2044.9" rx="0.9" ry="1.1" opacity="0.43"/><ellipse cx="1072.3" cy="1951.0" rx="1.1" ry="0.8" opacity="0.30"/><ellipse cx="984.4" cy="2073.8" rx="1.0" ry="1.0" opacity="0.62"/></g></g>
<g clip-path="url(#nc22)"><g filter="url(#bl2)" fill="#1ee81e"><ellipse cx="1104.7" cy="1981.3" rx="6.5" ry="2.6" opacity="1.00"/><ellipse cx="1094.3" cy="1972.3" rx="3.0" ry="2.5" opacity="0.50"/><ellipse cx="1100.3" cy="1976.3" rx="3.0" ry="2.0" opacity="0.50"/><ellipse cx="1103.1" cy="2006.6" rx="9.5" ry="5.0" opacity="1.00" transform="rotate(25 1103.1 2006.6)"/><ellipse cx="1142.7" cy="2009.7" rx="8.0" ry="3.2" opacity="1.00" transform="rotate(25 1142.7 2009.7)"/><ellipse cx="1115.8" cy="2024.0" rx="3.0" ry="2.5" opacity="0.50"/><ellipse cx="1182.3" cy="2031.3" rx="3.2" ry="5.0" opacity="1.00"/><ellipse cx="1181.3" cy="2043.3" rx="2.5" ry="5.0" opacity="0.70"/><ellipse cx="1125.3" cy="2063.3" rx="7.0" ry="4.0" opacity="1.00" transform="rotate(40 1125.3 2063.3)"/><ellipse cx="1120.3" cy="2057.3" rx="3.0" ry="2.5" opacity="0.60"/><ellipse cx="1175.9" cy="1951.3" rx="5.0" ry="3.0" opacity="0.60"/><ellipse cx="1137.9" cy="1974.9" rx="2.5" ry="2.5" opacity="0.60"/><ellipse cx="1157.3" cy="1963.3" rx="14.0" ry="1.2" opacity="0.35" transform="rotate(-25 1157.3 1963.3)"/><ellipse cx="1201.3" cy="2035.1" rx="3.0" ry="5.0" opacity="0.35"/><ellipse cx="1204.3" cy="2066.3" rx="3.0" ry="4.0" opacity="0.35"/><ellipse cx="1107.3" cy="2043.3" rx="3.0" ry="3.0" opacity="0.30"/></g></g>
<g clip-path="url(#nc32)"><g filter="url(#bl1)" fill="#1ee81e"><ellipse cx="1298.9" cy="1959.1" rx="4.0" ry="6.0" opacity="1.00" transform="rotate(20 1298.9 1959.1)"/><ellipse cx="1295.9" cy="1953.3" rx="3.0" ry="3.0" opacity="0.70"/><ellipse cx="1285.9" cy="1952.8" rx="4.0" ry="3.0" opacity="0.50"/><ellipse cx="1244.9" cy="1957.3" rx="3.0" ry="1.5" opacity="0.60"/><ellipse cx="1256.9" cy="1986.0" rx="2.5" ry="1.5" opacity="0.60" transform="rotate(20 1256.9 1986.0)"/><ellipse cx="1327.3" cy="1993.9" rx="3.0" ry="3.0" opacity="1.00"/><ellipse cx="1329.9" cy="1998.3" rx="2.0" ry="1.5" opacity="0.90"/><ellipse cx="1297.3" cy="2006.6" rx="3.0" ry="3.0" opacity="0.50"/><ellipse cx="1302.9" cy="2022.3" rx="2.0" ry="4.0" opacity="1.00"/><ellipse cx="1317.9" cy="2041.3" rx="4.0" ry="2.0" opacity="0.60"/><ellipse cx="1308.3" cy="2047.7" rx="2.5" ry="2.0" opacity="0.50"/><ellipse cx="1272.9" cy="2068.3" rx="5.0" ry="4.0" opacity="1.00" transform="rotate(20 1272.9 2068.3)"/><ellipse cx="1323.9" cy="2069.9" rx="5.0" ry="5.0" opacity="0.70"/><ellipse cx="1314.9" cy="1949.3" rx="1.5" ry="1.5" opacity="0.50"/><ellipse cx="1334.9" cy="1979.3" rx="2.0" ry="2.0" opacity="0.50"/><ellipse cx="1243.6" cy="1985.2" rx="0.9" ry="1.2" opacity="0.66"/><ellipse cx="1258.6" cy="2073.7" rx="0.9" ry="0.7" opacity="0.33"/><ellipse cx="1287.7" cy="2013.0" rx="0.9" ry="0.7" opacity="0.68"/><ellipse cx="1292.8" cy="1985.3" rx="1.1" ry="0.7" opacity="0.47"/><ellipse cx="1253.8" cy="1976.2" rx="1.3" ry="1.0" opacity="0.51"/><ellipse cx="1313.6" cy="2032.7" rx="0.9" ry="0.8" opacity="0.36"/><ellipse cx="1246.0" cy="1961.0" rx="0.8" ry="0.5" opacity="0.57"/><ellipse cx="1278.3" cy="1975.7" rx="0.8" ry="0.9" opacity="0.38"/><ellipse cx="1332.4" cy="2008.1" rx="0.6" ry="0.6" opacity="0.66"/><ellipse cx="1303.6" cy="1983.2" rx="1.1" ry="0.5" opacity="0.66"/><ellipse cx="1341.2" cy="2031.7" rx="0.5" ry="0.8" opacity="0.63"/><ellipse cx="1305.2" cy="1972.5" rx="0.7" ry="0.6" opacity="0.51"/><ellipse cx="1261.9" cy="2003.2" rx="1.2" ry="1.2" opacity="0.50"/><ellipse cx="1325.2" cy="1962.7" rx="1.3" ry="1.2" opacity="0.49"/><ellipse cx="1335.9" cy="1983.9" rx="1.3" ry="0.8" opacity="0.67"/><ellipse cx="1330.8" cy="2066.8" rx="1.1" ry="0.6" opacity="0.41"/><ellipse cx="1311.7" cy="2063.4" rx="1.0" ry="0.5" opacity="0.44"/><ellipse cx="1279.1" cy="1967.6" rx="0.7" ry="0.9" opacity="0.45"/><ellipse cx="1270.9" cy="1998.9" rx="1.3" ry="1.0" opacity="0.60"/><ellipse cx="1340.8" cy="1949.3" rx="1.2" ry="0.6" opacity="0.38"/><ellipse cx="1320.5" cy="2043.2" rx="1.0" ry="0.9" opacity="0.59"/><ellipse cx="1287.8" cy="1970.6" rx="0.7" ry="0.6" opacity="0.31"/><ellipse cx="1342.9" cy="2068.8" rx="0.8" ry="0.8" opacity="0.41"/><ellipse cx="1324.9" cy="2009.3" rx="0.6" ry="1.2" opacity="0.67"/><ellipse cx="1247.8" cy="2005.0" rx="0.7" ry="1.0" opacity="0.44"/></g></g>
<g clip-path="url(#nc01)"><g filter="url(#bl2)" fill="#ff1a0a"><ellipse cx="831.7" cy="1827.3" rx="7.0" ry="9.0" opacity="0.55"/><ellipse cx="925.8" cy="1848.0" rx="6.0" ry="6.0" opacity="0.30"/><ellipse cx="913.2" cy="1808.0" rx="2.5" ry="2.0" opacity="0.30"/><ellipse cx="858.8" cy="1844.9" rx="2.0" ry="2.0" opacity="0.35"/><ellipse cx="900.2" cy="1855.0" rx="2.5" ry="1.5" opacity="0.40"/><ellipse cx="820.6" cy="1904.0" rx="1.5" ry="1.5" opacity="0.60"/><ellipse cx="941.8" cy="1843.0" rx="2.0" ry="2.0" opacity="0.35"/><ellipse cx="822.2" cy="1916.0" rx="1.3" ry="1.3" opacity="0.50"/></g></g>
<g clip-path="url(#nc11)"><g filter="url(#bl1)" fill="#ff1a0a"><ellipse cx="975.2" cy="1810.0" rx="20.0" ry="2.6" opacity="1.00" transform="rotate(-14 975.2 1810.0)"/><ellipse cx="989.2" cy="1808.0" rx="7.0" ry="3.5" opacity="1.00" transform="rotate(-10 989.2 1808.0)"/><ellipse cx="957.2" cy="1815.0" rx="4.0" ry="2.2" opacity="1.00"/><ellipse cx="972.2" cy="1828.0" rx="17.0" ry="2.6" opacity="1.00" transform="rotate(28 972.2 1828.0)"/><ellipse cx="971.2" cy="1825.0" rx="6.0" ry="4.0" opacity="1.00" transform="rotate(20 971.2 1825.0)"/><ellipse cx="1003.1" cy="1811.4" rx="3.0" ry="1.6" opacity="1.00"/><ellipse cx="1062.1" cy="1818.5" rx="2.5" ry="1.5" opacity="0.50"/><ellipse cx="1019.1" cy="1851.2" rx="1.5" ry="1.5" opacity="0.80"/><ellipse cx="1027.0" cy="1878.4" rx="5.0" ry="1.3" opacity="1.00" transform="rotate(-30 1027.0 1878.4)"/><ellipse cx="1004.7" cy="1887.9" rx="8.0" ry="2.0" opacity="1.00"/><ellipse cx="1031.8" cy="1889.5" rx="7.0" ry="5.0" opacity="1.00" transform="rotate(-15 1031.8 1889.5)"/><ellipse cx="1042.2" cy="1879.0" rx="3.0" ry="7.0" opacity="1.00" transform="rotate(35 1042.2 1879.0)"/><ellipse cx="972.8" cy="1887.0" rx="3.0" ry="2.0" opacity="1.00"/><ellipse cx="955.2" cy="1886.5" rx="5.0" ry="0.8" opacity="0.80"/><ellipse cx="1025.4" cy="1921.4" rx="4.0" ry="8.0" opacity="1.00" transform="rotate(20 1025.4 1921.4)"/><ellipse cx="1029.2" cy="1928.0" rx="5.0" ry="2.5" opacity="1.00"/><ellipse cx="1028.6" cy="1905.5" rx="1.8" ry="1.8" opacity="1.00"/><ellipse cx="1035.8" cy="1909.5" rx="1.5" ry="1.5" opacity="1.00"/><ellipse cx="1047.8" cy="1932.6" rx="5.5" ry="3.5" opacity="1.00"/><ellipse cx="1078.1" cy="1923.0" rx="3.0" ry="1.8" opacity="1.00" transform="rotate(-20 1078.1 1923.0)"/></g></g>
<g clip-path="url(#nc21)"><g filter="url(#bl2)" fill="#ff1a0a"><ellipse cx="1133.2" cy="1867.5" rx="10.0" ry="4.0" opacity="1.00" transform="rotate(30 1133.2 1867.5)"/><ellipse cx="1167.3" cy="1881.5" rx="12.0" ry="2.8" opacity="1.00" transform="rotate(8 1167.3 1881.5)"/><ellipse cx="1173.3" cy="1891.0" rx="4.0" ry="5.0" opacity="1.00"/><ellipse cx="1173.3" cy="1901.0" rx="2.6" ry="10.0" opacity="1.00"/><ellipse cx="1089.7" cy="1862.7" rx="2.5" ry="2.0" opacity="0.60"/><ellipse cx="1098.3" cy="1840.5" rx="2.5" ry="1.5" opacity="0.50"/><ellipse cx="1120.3" cy="1924.0" rx="3.0" ry="2.0" opacity="0.50" transform="rotate(30 1120.3 1924.0)"/><ellipse cx="1213.3" cy="1809.0" rx="1.5" ry="1.5" opacity="0.40"/><ellipse cx="1214.3" cy="1815.0" rx="1.5" ry="1.5" opacity="0.40"/></g></g>
<g clip-path="url(#nc31)"><g filter="url(#bl1)" fill="#ff1a0a"><ellipse cx="1292.5" cy="1813.7" rx="6.0" ry="5.0" opacity="0.80" transform="rotate(20 1292.5 1813.7)"/><ellipse cx="1298.9" cy="1821.0" rx="3.5" ry="4.5" opacity="0.90"/><ellipse cx="1243.5" cy="1816.0" rx="3.0" ry="1.6" opacity="0.80"/><ellipse cx="1316.3" cy="1837.4" rx="6.5" ry="4.0" opacity="1.00" transform="rotate(10 1316.3 1837.4)"/><ellipse cx="1327.3" cy="1837.4" rx="5.0" ry="6.5" opacity="1.00"/><ellipse cx="1327.9" cy="1853.0" rx="6.0" ry="6.5" opacity="1.00" transform="rotate(40 1327.9 1853.0)"/><ellipse cx="1252.9" cy="1843.0" rx="4.0" ry="2.5" opacity="0.70" transform="rotate(30 1252.9 1843.0)"/><ellipse cx="1302.9" cy="1881.7" rx="3.2" ry="9.5" opacity="1.00" transform="rotate(-5 1302.9 1881.7)"/><ellipse cx="1297.3" cy="1866.0" rx="2.0" ry="2.0" opacity="0.50"/><ellipse cx="1235.6" cy="1908.6" rx="7.0" ry="6.0" opacity="1.00" transform="rotate(30 1235.6 1908.6)"/><ellipse cx="1232.9" cy="1916.0" rx="4.0" ry="3.0" opacity="0.80"/><ellipse cx="1309.5" cy="1906.0" rx="5.0" ry="4.0" opacity="1.00"/><ellipse cx="1272.9" cy="1926.0" rx="6.0" ry="3.5" opacity="1.00" transform="rotate(20 1272.9 1926.0)"/><ellipse cx="1322.9" cy="1922.8" rx="5.5" ry="5.5" opacity="1.00"/><ellipse cx="1244.9" cy="1934.5" rx="16.0" ry="2.0" opacity="0.80" transform="rotate(5 1244.9 1934.5)"/><ellipse cx="1332.9" cy="1909.0" rx="20.0" ry="1.8" opacity="0.70" transform="rotate(8 1332.9 1909.0)"/><ellipse cx="1332.9" cy="1896.0" rx="2.0" ry="2.0" opacity="0.50"/></g></g>
<g clip-path="url(#nc02)"><g filter="url(#bl2)" fill="#ff1a0a"><ellipse cx="831.7" cy="1969.6" rx="7.0" ry="9.0" opacity="0.55"/><ellipse cx="925.8" cy="1990.3" rx="6.0" ry="6.0" opacity="0.30"/><ellipse cx="913.2" cy="1950.3" rx="2.5" ry="2.0" opacity="0.30"/><ellipse cx="858.8" cy="1987.2" rx="2.0" ry="2.0" opacity="0.35"/><ellipse cx="900.2" cy="1997.3" rx="2.5" ry="1.5" opacity="0.40"/><ellipse cx="820.6" cy="2046.3" rx="1.5" ry="1.5" opacity="0.60"/><ellipse cx="941.8" cy="1985.3" rx="2.0" ry="2.0" opacity="0.35"/><ellipse cx="822.2" cy="2058.3" rx="1.3" ry="1.3" opacity="0.50"/></g></g>
<g clip-path="url(#nc12)"><g filter="url(#bl1)" fill="#ff1a0a"><ellipse cx="975.2" cy="1952.3" rx="20.0" ry="2.6" opacity="1.00" transform="rotate(-14 975.2 1952.3)"/><ellipse cx="989.2" cy="1950.3" rx="7.0" ry="3.5" opacity="1.00" transform="rotate(-10 989.2 1950.3)"/><ellipse cx="957.2" cy="1957.3" rx="4.0" ry="2.2" opacity="1.00"/><ellipse cx="972.2" cy="1970.3" rx="17.0" ry="2.6" opacity="1.00" transform="rotate(28 972.2 1970.3)"/><ellipse cx="971.2" cy="1967.3" rx="6.0" ry="4.0" opacity="1.00" transform="rotate(20 971.2 1967.3)"/><ellipse cx="1003.1" cy="1953.7" rx="3.0" ry="1.6" opacity="1.00"/><ellipse cx="1062.1" cy="1960.8" rx="2.5" ry="1.5" opacity="0.50"/><ellipse cx="1019.1" cy="1993.5" rx="1.5" ry="1.5" opacity="0.80"/><ellipse cx="1027.0" cy="2020.7" rx="5.0" ry="1.3" opacity="1.00" transform="rotate(-30 1027.0 2020.7)"/><ellipse cx="1004.7" cy="2030.2" rx="8.0" ry="2.0" opacity="1.00"/><ellipse cx="1031.8" cy="2031.8" rx="7.0" ry="5.0" opacity="1.00" transform="rotate(-15 1031.8 2031.8)"/><ellipse cx="1042.2" cy="2021.3" rx="3.0" ry="7.0" opacity="1.00" transform="rotate(35 1042.2 2021.3)"/><ellipse cx="972.8" cy="2029.3" rx="3.0" ry="2.0" opacity="1.00"/><ellipse cx="955.2" cy="2028.8" rx="5.0" ry="0.8" opacity="0.80"/><ellipse cx="1025.4" cy="2063.7" rx="4.0" ry="8.0" opacity="1.00" transform="rotate(20 1025.4 2063.7)"/><ellipse cx="1029.2" cy="2070.3" rx="5.0" ry="2.5" opacity="1.00"/><ellipse cx="1028.6" cy="2047.8" rx="1.8" ry="1.8" opacity="1.00"/><ellipse cx="1035.8" cy="2051.8" rx="1.5" ry="1.5" opacity="1.00"/><ellipse cx="1047.8" cy="2074.9" rx="5.5" ry="3.5" opacity="1.00"/><ellipse cx="1078.1" cy="2065.3" rx="3.0" ry="1.8" opacity="1.00" transform="rotate(-20 1078.1 2065.3)"/></g></g>
<g clip-path="url(#nc22)"><g filter="url(#bl2)" fill="#ff1a0a"><ellipse cx="1133.2" cy="2009.8" rx="10.0" ry="4.0" opacity="1.00" transform="rotate(30 1133.2 2009.8)"/><ellipse cx="1167.3" cy="2023.8" rx="12.0" ry="2.8" opacity="1.00" transform="rotate(8 1167.3 2023.8)"/><ellipse cx="1173.3" cy="2033.3" rx="4.0" ry="5.0" opacity="1.00"/><ellipse cx="1173.3" cy="2043.3" rx="2.6" ry="10.0" opacity="1.00"/><ellipse cx="1089.7" cy="2005.0" rx="2.5" ry="2.0" opacity="0.60"/><ellipse cx="1098.3" cy="1982.8" rx="2.5" ry="1.5" opacity="0.50"/><ellipse cx="1120.3" cy="2066.3" rx="3.0" ry="2.0" opacity="0.50" transform="rotate(30 1120.3 2066.3)"/><ellipse cx="1213.3" cy="1951.3" rx="1.5" ry="1.5" opacity="0.40"/><ellipse cx="1214.3" cy="1957.3" rx="1.5" ry="1.5" opacity="0.40"/></g></g>
<g clip-path="url(#nc32)"><g filter="url(#bl1)" fill="#ff1a0a"><ellipse cx="1292.5" cy="1956.0" rx="6.0" ry="5.0" opacity="0.80" transform="rotate(20 1292.5 1956.0)"/><ellipse cx="1298.9" cy="1963.3" rx="3.5" ry="4.5" opacity="0.90"/><ellipse cx="1243.5" cy="1958.3" rx="3.0" ry="1.6" opacity="0.80"/><ellipse cx="1316.3" cy="1979.7" rx="6.5" ry="4.0" opacity="1.00" transform="rotate(10 1316.3 1979.7)"/><ellipse cx="1327.3" cy="1979.7" rx="5.0" ry="6.5" opacity="1.00"/><ellipse cx="1327.9" cy="1995.3" rx="6.0" ry="6.5" opacity="1.00" transform="rotate(40 1327.9 1995.3)"/><ellipse cx="1252.9" cy="1985.3" rx="4.0" ry="2.5" opacity="0.70" transform="rotate(30 1252.9 1985.3)"/><ellipse cx="1302.9" cy="2024.0" rx="3.2" ry="9.5" opacity="1.00" transform="rotate(-5 1302.9 2024.0)"/><ellipse cx="1297.3" cy="2008.3" rx="2.0" ry="2.0" opacity="0.50"/><ellipse cx="1235.6" cy="2050.9" rx="7.0" ry="6.0" opacity="1.00" transform="rotate(30 1235.6 2050.9)"/><ellipse cx="1232.9" cy="2058.3" rx="4.0" ry="3.0" opacity="0.80"/><ellipse cx="1309.5" cy="2048.3" rx="5.0" ry="4.0" opacity="1.00"/><ellipse cx="1272.9" cy="2068.3" rx="6.0" ry="3.5" opacity="1.00" transform="rotate(20 1272.9 2068.3)"/><ellipse cx="1322.9" cy="2065.1" rx="5.5" ry="5.5" opacity="1.00"/><ellipse cx="1244.9" cy="2076.8" rx="16.0" ry="2.0" opacity="0.80" transform="rotate(5 1244.9 2076.8)"/><ellipse cx="1332.9" cy="2051.3" rx="20.0" ry="1.8" opacity="0.70" transform="rotate(8 1332.9 2051.3)"/><ellipse cx="1332.9" cy="2038.3" rx="2.0" ry="2.0" opacity="0.50"/></g></g>
<g clip-path="url(#nc12)"><g filter="url(#bl1)" fill="#ffee10"><ellipse cx="1027.0" cy="2018.3" rx="6.0" ry="2.0" opacity="0.90" transform="rotate(-25 1027.0 2018.3)"/><ellipse cx="1007.1" cy="2030.2" rx="4.0" ry="2.0" opacity="0.90" transform="rotate(-10 1007.1 2030.2)"/><ellipse cx="972.8" cy="2029.3" rx="3.0" ry="2.0" opacity="0.90"/><ellipse cx="1024.6" cy="2077.3" rx="3.5" ry="1.5" opacity="0.90"/><ellipse cx="1078.9" cy="2064.5" rx="3.0" ry="2.0" opacity="0.90" transform="rotate(-20 1078.9 2064.5)"/><ellipse cx="1003.9" cy="1952.1" rx="2.5" ry="1.5" opacity="0.90" transform="rotate(15 1003.9 1952.1)"/></g></g>
<g clip-path="url(#nc22)"><g filter="url(#bl2)" fill="#ffc020"><ellipse cx="1133.2" cy="2009.8" rx="6.0" ry="2.5" opacity="0.85" transform="rotate(30 1133.2 2009.8)"/><ellipse cx="1175.3" cy="2031.3" rx="4.0" ry="5.0" opacity="0.80"/></g></g>
<g clip-path="url(#nc32)"><g filter="url(#bl1)" fill="#ffd020"><ellipse cx="1298.9" cy="1959.1" rx="3.5" ry="5.0" opacity="0.90" transform="rotate(20 1298.9 1959.1)"/><ellipse cx="1327.3" cy="1993.9" rx="2.5" ry="2.5" opacity="0.90"/><ellipse cx="1272.9" cy="2068.3" rx="4.0" ry="3.0" opacity="0.90" transform="rotate(20 1272.9 2068.3)"/><ellipse cx="1302.9" cy="2022.3" rx="1.5" ry="3.0" opacity="0.90"/><ellipse cx="1323.9" cy="2069.9" rx="3.0" ry="3.0" opacity="0.70"/></g></g>
<line x1="1230.0" y1="1785.8" x2="1260.0" y2="1785.8" stroke="#fff" stroke-width="2.60" />
<text x="1410.0" y="1571.5" font-size="37.0">O</text>
<line x1="1513.0" y1="1642.5" x2="1513.0" y2="1772.7" stroke="#000" stroke-width="2.00" />
<line x1="1512.0" y1="1772.7" x2="1622.7" y2="1772.7" stroke="#000" stroke-width="2.00" />
<line x1="1508.0" y1="1642.5" x2="1513.0" y2="1642.5" stroke="#000" stroke-width="2.00" />
<text x="1509.3" y="1652.0" font-size="36.0" text-anchor="end">100</text>
<line x1="1508.0" y1="1707.0" x2="1513.0" y2="1707.0" stroke="#000" stroke-width="2.00" />
<text x="1509.3" y="1718.0" font-size="36.0" text-anchor="end">50</text>
<line x1="1508.0" y1="1772.7" x2="1513.0" y2="1772.7" stroke="#000" stroke-width="2.00" />
<text x="1509.3" y="1776.4" font-size="36.0" text-anchor="end">0</text>
<text x="1506.0" y="1612.5" font-size="31.0" font-style="italic">P&lt;0.0001</text>
<line x1="1552.8" y1="1629.8" x2="1603.2" y2="1629.8" stroke="#000" stroke-width="2.00" />
<circle cx="1526.6" cy="1766.4" r="3.3" fill="#0030ff"/>
<circle cx="1534.5" cy="1765.7" r="3.3" fill="#0030ff"/>
<circle cx="1542.4" cy="1766.4" r="3.3" fill="#0030ff"/>
<line x1="1524.0" y1="1767.0" x2="1546.0" y2="1767.0" stroke="#000" stroke-width="1.60" />
<circle cx="1560.3" cy="1665.5" r="3.3" fill="#ff2400"/>
<circle cx="1568.5" cy="1664.5" r="3.3" fill="#ff2400"/>
<circle cx="1576.0" cy="1664.5" r="3.3" fill="#ff2400"/>
<circle cx="1575.5" cy="1656.0" r="3.3" fill="#ff2400"/>
<line x1="1556.5" y1="1662.0" x2="1579.2" y2="1662.0" stroke="#000" stroke-width="1.60" />
<circle cx="1594.4" cy="1642.5" r="3.3" fill="#ff2400"/>
<circle cx="1602.3" cy="1644.0" r="3.3" fill="#ff2400"/>
<circle cx="1609.5" cy="1642.5" r="3.3" fill="#ff2400"/>
<circle cx="1600.7" cy="1655.0" r="3.3" fill="#ff2400"/>
<circle cx="1601.6" cy="1683.4" r="3.3" fill="#ff2400"/>
<line x1="1590.6" y1="1654.0" x2="1612.7" y2="1654.0" stroke="#000" stroke-width="1.60" />
<text x="1533.4" y="1799.6" font-size="36.0" text-anchor="middle">0</text>
<text x="1569.6" y="1799.6" font-size="36.0" text-anchor="middle">2</text>
<text x="1606.4" y="1799.6" font-size="36.0" text-anchor="middle">4</text>
<text x="1575.5" y="1833.2" font-size="36.0" text-anchor="middle">(months)</text>
<text x="1418.5" y="1714.5" font-size="36.0" text-anchor="middle" transform="rotate(-90.0 1418.5 1714.5)">monocyte-</text>
<text x="1452.0" y="1715.0" font-size="36.0" text-anchor="middle" transform="rotate(-90.0 1452.0 1715.0)">derived macs %</text>
<line x1="1516.2" y1="1894.7" x2="1516.2" y2="2025.5" stroke="#000" stroke-width="2.00" />
<line x1="1515.2" y1="2025.5" x2="1626.0" y2="2025.5" stroke="#000" stroke-width="2.00" />
<line x1="1511.2" y1="1894.7" x2="1516.2" y2="1894.7" stroke="#000" stroke-width="2.00" />
<text x="1512.4" y="1908.8" font-size="36.0" text-anchor="end">100</text>
<line x1="1511.2" y1="1960.9" x2="1516.2" y2="1960.9" stroke="#000" stroke-width="2.00" />
<text x="1512.4" y="1973.5" font-size="36.0" text-anchor="end">50</text>
<line x1="1511.2" y1="2025.5" x2="1516.2" y2="2025.5" stroke="#000" stroke-width="2.00" />
<text x="1512.4" y="2031.8" font-size="36.0" text-anchor="end">0</text>
<text x="1506.0" y="1877.4" font-size="31.0" font-style="italic">P&lt;0.0001</text>
<line x1="1551.8" y1="1892.1" x2="1603.2" y2="1892.1" stroke="#000" stroke-width="2.00" />
<circle cx="1531.3" cy="1902.5" r="3.3" fill="#0030ff"/>
<circle cx="1539.2" cy="1902.0" r="3.3" fill="#0030ff"/>
<circle cx="1546.5" cy="1902.5" r="3.3" fill="#0030ff"/>
<line x1="1528.0" y1="1902.3" x2="1550.0" y2="1902.3" stroke="#000" stroke-width="1.60" />
<circle cx="1564.0" cy="2003.0" r="3.3" fill="#ff2400"/>
<circle cx="1571.5" cy="2005.0" r="3.3" fill="#ff2400"/>
<circle cx="1579.0" cy="2005.0" r="3.3" fill="#ff2400"/>
<circle cx="1564.0" cy="2011.0" r="3.3" fill="#ff2400"/>
<circle cx="1571.5" cy="2012.0" r="3.3" fill="#ff2400"/>
<line x1="1560.3" y1="2005.6" x2="1583.3" y2="2005.6" stroke="#000" stroke-width="1.60" />
<circle cx="1605.4" cy="2013.0" r="3.3" fill="#ff2400"/>
<circle cx="1597.5" cy="2024.5" r="3.3" fill="#ff2400"/>
<circle cx="1605.4" cy="2024.5" r="3.3" fill="#ff2400"/>
<circle cx="1613.3" cy="2024.5" r="3.3" fill="#ff2400"/>
<line x1="1594.0" y1="2021.4" x2="1616.0" y2="2021.4" stroke="#000" stroke-width="1.60" />
<text x="1539.2" y="2053.7" font-size="36.0" text-anchor="middle">0</text>
<text x="1569.2" y="2053.7" font-size="36.0" text-anchor="middle">2</text>
<text x="1602.3" y="2053.7" font-size="36.0" text-anchor="middle">4</text>
<text x="1574.0" y="2082.5" font-size="36.0" text-anchor="middle">(months)</text>
<text x="1430.0" y="1976.0" font-size="36.0" text-anchor="middle" transform="rotate(-90.0 1430.0 1976.0)">resident</text>
<text x="1463.0" y="1976.0" font-size="36.0" text-anchor="middle" transform="rotate(-90.0 1463.0 1976.0)">macs %</text>
<text x="1452.5" y="2118.5" font-size="36.0" fill="#0030ff">CD</text>
<text x="1540.8" y="2118.5" font-size="36.0" fill="#ff2400">HFD</text>
<text x="1723.6" y="1596.7" font-size="37.0">P</text>
<text x="1745.7" y="1639.3" font-size="36.0" fill="#0030ff">CD</text>
<text x="1818.2" y="1639.3" font-size="36.0" fill="#ff2400">HFD</text>
<text x="1748.8" y="1672.4" font-size="31.0" font-style="italic">P=0.0159</text>
<line x1="1782.0" y1="1704.0" x2="1782.0" y2="1826.9" stroke="#000" stroke-width="2.00" />
<line x1="1781.0" y1="1826.9" x2="1867.0" y2="1826.9" stroke="#000" stroke-width="2.00" />
<line x1="1777.0" y1="1704.0" x2="1782.0" y2="1704.0" stroke="#000" stroke-width="2.00" />
<text x="1774.0" y="1710.2" font-size="36.0" text-anchor="end">30</text>
<line x1="1777.0" y1="1765.4" x2="1782.0" y2="1765.4" stroke="#000" stroke-width="2.00" />
<text x="1774.0" y="1774.9" font-size="36.0" text-anchor="end">15</text>
<line x1="1777.0" y1="1826.9" x2="1782.0" y2="1826.9" stroke="#000" stroke-width="2.00" />
<text x="1774.0" y="1834.8" font-size="36.0" text-anchor="end">0</text>
<circle cx="1797.7" cy="1774.9" r="3.9" fill="#0030ff"/>
<circle cx="1807.2" cy="1767.6" r="3.9" fill="#0030ff"/>
<circle cx="1816.6" cy="1774.9" r="3.9" fill="#0030ff"/>
<circle cx="1807.2" cy="1779.6" r="3.9" fill="#0030ff"/>
<circle cx="1806.5" cy="1794.7" r="3.9" fill="#0030ff"/>
<line x1="1795.0" y1="1777.0" x2="1819.0" y2="1777.0" stroke="#000" stroke-width="1.60" />
<circle cx="1834.6" cy="1726.6" r="3.9" fill="#ff2400"/>
<circle cx="1849.7" cy="1719.7" r="3.9" fill="#ff2400"/>
<circle cx="1841.9" cy="1743.3" r="3.9" fill="#ff2400"/>
<circle cx="1841.9" cy="1752.8" r="3.9" fill="#ff2400"/>
<line x1="1830.6" y1="1735.5" x2="1854.5" y2="1735.5" stroke="#000" stroke-width="1.60" />
<text x="1824.5" y="1863.1" font-size="36.0" text-anchor="middle">8 wks</text>
<text x="1758.3" y="1907.3" font-size="31.0" font-style="italic">P=0.0571</text>
<line x1="1781.0" y1="1929.3" x2="1781.0" y2="2057.0" stroke="#000" stroke-width="2.00" />
<line x1="1780.0" y1="2057.0" x2="1868.0" y2="2057.0" stroke="#000" stroke-width="2.00" />
<line x1="1776.0" y1="1929.3" x2="1781.0" y2="1929.3" stroke="#000" stroke-width="2.00" />
<text x="1773.0" y="1938.8" font-size="36.0" text-anchor="end">30</text>
<line x1="1776.0" y1="1993.0" x2="1781.0" y2="1993.0" stroke="#000" stroke-width="2.00" />
<text x="1773.0" y="2000.9" font-size="36.0" text-anchor="end">15</text>
<line x1="1776.0" y1="2057.0" x2="1781.0" y2="2057.0" stroke="#000" stroke-width="2.00" />
<text x="1773.0" y="2064.9" font-size="36.0" text-anchor="end">0</text>
<circle cx="1806.2" cy="2012.9" r="3.9" fill="#0030ff"/>
<circle cx="1806.2" cy="2027.1" r="3.9" fill="#0030ff"/>
<circle cx="1799.3" cy="2042.8" r="3.9" fill="#0030ff"/>
<circle cx="1813.5" cy="2041.3" r="3.9" fill="#0030ff"/>
<line x1="1795.0" y1="2031.8" x2="1819.0" y2="2031.8" stroke="#000" stroke-width="1.60" />
<circle cx="1843.4" cy="1959.9" r="3.9" fill="#ff2400"/>
<circle cx="1835.6" cy="1995.5" r="3.9" fill="#ff2400"/>
<circle cx="1851.3" cy="2001.8" r="3.9" fill="#ff2400"/>
<circle cx="1843.4" cy="2021.7" r="3.9" fill="#ff2400"/>
<line x1="1832.0" y1="1994.6" x2="1856.0" y2="1994.6" stroke="#000" stroke-width="1.60" />
<text x="1831.6" y="2085.4" font-size="36.0" text-anchor="middle">16 wks</text>
<text x="1690.0" y="1858.5" font-size="36.0" text-anchor="middle" transform="rotate(-90.0 1690.0 1858.5)">apoptotic VAT resident macs %</text>
<text x="1725.0" y="1858.4" font-size="36.0" text-anchor="middle" transform="rotate(-90.0 1725.0 1858.4)"><tspan>(annexin V</tspan><tspan dy="-7.20" font-size="23.8">+</tspan><tspan dy="7.20">)</tspan></text>
<text x="482.0" y="1881.7" font-size="37.0">Q</text>
<line x1="592.0" y1="1915.5" x2="592.0" y2="2087.0" stroke="#000" stroke-width="2.00" />
<line x1="591.0" y1="2087.0" x2="696.0" y2="2087.0" stroke="#000" stroke-width="2.00" />
<line x1="587.0" y1="1915.5" x2="592.0" y2="1915.5" stroke="#000" stroke-width="2.00" />
<text x="587.8" y="1931.5" font-size="36.0" text-anchor="end">20</text>
<line x1="587.0" y1="2001.5" x2="592.0" y2="2001.5" stroke="#000" stroke-width="2.00" />
<text x="587.8" y="2015.2" font-size="36.0" text-anchor="end">10</text>
<line x1="587.0" y1="2087.0" x2="592.0" y2="2087.0" stroke="#000" stroke-width="2.00" />
<text x="587.8" y="2096.3" font-size="36.0" text-anchor="end">0</text>
<text x="590.5" y="1907.2" font-size="31.0" font-style="italic">P=0.0159</text>
<circle cx="622.2" cy="2028.8" r="5.5" fill="#0030ff"/>
<circle cx="630.7" cy="2050.8" r="5.5" fill="#0030ff"/>
<circle cx="620.7" cy="2060.7" r="5.5" fill="#0030ff"/>
<circle cx="630.7" cy="2067.3" r="5.5" fill="#0030ff"/>
<circle cx="613.6" cy="2070.7" r="5.5" fill="#0030ff"/>
<line x1="608.0" y1="2055.9" x2="636.5" y2="2055.9" stroke="#000" stroke-width="1.60" />
<circle cx="666.3" cy="1958.2" r="5.5" fill="#ff2400"/>
<circle cx="657.8" cy="2003.8" r="5.5" fill="#ff2400"/>
<circle cx="675.7" cy="2013.8" r="5.5" fill="#ff2400"/>
<circle cx="657.8" cy="2026.6" r="5.5" fill="#ff2400"/>
<line x1="652.0" y1="2000.0" x2="681.5" y2="2000.0" stroke="#000" stroke-width="1.60" />
<line x1="591.7" y1="2200.0" x2="591.7" y2="2374.8" stroke="#000" stroke-width="1.50" />
<line x1="591.0" y1="2374.8" x2="698.5" y2="2374.8" stroke="#000" stroke-width="1.50" />
<line x1="586.7" y1="2200.0" x2="591.7" y2="2200.0" stroke="#000" stroke-width="1.50" />
<text x="592.2" y="2224.5" font-size="36.0" text-anchor="end">30</text>
<line x1="586.7" y1="2288.5" x2="591.7" y2="2288.5" stroke="#000" stroke-width="1.50" />
<text x="592.2" y="2305.6" font-size="36.0" text-anchor="end">15</text>
<line x1="586.7" y1="2374.8" x2="591.7" y2="2374.8" stroke="#000" stroke-width="1.50" />
<text x="592.2" y="2379.7" font-size="36.0" text-anchor="end">0</text>
<text x="590.8" y="2184.6" font-size="31.0" font-style="italic">P=0.3429</text>
<circle cx="622.2" cy="2302.8" r="5.5" fill="#0030ff"/>
<circle cx="612.2" cy="2324.7" r="5.5" fill="#0030ff"/>
<circle cx="632.1" cy="2329.8" r="5.5" fill="#0030ff"/>
<circle cx="622.2" cy="2348.3" r="5.5" fill="#0030ff"/>
<line x1="608.0" y1="2326.1" x2="638.0" y2="2326.1" stroke="#000" stroke-width="1.60" />
<circle cx="667.7" cy="2248.7" r="5.5" fill="#ff2400"/>
<circle cx="667.7" cy="2295.7" r="5.5" fill="#ff2400"/>
<circle cx="667.7" cy="2318.4" r="5.5" fill="#ff2400"/>
<circle cx="667.7" cy="2335.5" r="5.5" fill="#ff2400"/>
<line x1="652.0" y1="2300.0" x2="682.5" y2="2300.0" stroke="#000" stroke-width="1.60" />
<text x="579.5" y="2448.0" font-size="36.0" fill="#0030ff">CD</text>
<text x="663.5" y="2448.0" font-size="36.0" fill="#ff2400">HFD</text>
<text x="502.0" y="2141.0" font-size="36.0" text-anchor="middle" transform="rotate(-90.0 502.0 2141.0)" xml:space="preserve"><tspan>Apoptotic  Macs % (casp 3</tspan><tspan dy="-7.20" font-size="23.8">+</tspan><tspan dy="7.20">)</tspan></text>
<text x="540.0" y="1998.7" font-size="36.0" text-anchor="middle" transform="rotate(-90.0 540.0 1998.7)"><tspan>CX</tspan><tspan dy="3.60" font-size="23.8">3</tspan><tspan dy="-3.60">CR</tspan><tspan dy="3.60" font-size="23.8">1</tspan><tspan dy="-10.80" font-size="23.8">-</tspan><tspan dy="7.20"> CCR2</tspan><tspan dy="-7.20" font-size="23.8">-</tspan></text>
<text x="549.0" y="2299.0" font-size="36.0" text-anchor="middle" transform="rotate(-90.0 549.0 2299.0)"><tspan>CX</tspan><tspan dy="3.60" font-size="23.8">3</tspan><tspan dy="-3.60">CR</tspan><tspan dy="3.60" font-size="23.8">1</tspan><tspan dy="-10.80" font-size="23.8">+</tspan><tspan dy="7.20">CCR2</tspan><tspan dy="-7.20" font-size="23.8">+</tspan></text>
<text x="903.0" y="2175.6" font-size="37.0">R</text>
<text x="952.2" y="2194.7" font-size="31.0" font-style="italic">P=0.0003</text>
<line x1="964.5" y1="2218.8" x2="964.5" y2="2387.7" stroke="#000" stroke-width="2.00" />
<line x1="963.5" y1="2387.7" x2="1070.0" y2="2387.7" stroke="#000" stroke-width="2.00" />
<line x1="959.5" y1="2218.8" x2="964.5" y2="2218.8" stroke="#000" stroke-width="2.00" />
<text x="960.5" y="2233.0" font-size="36.0" text-anchor="end">10</text>
<line x1="959.5" y1="2303.7" x2="964.5" y2="2303.7" stroke="#000" stroke-width="2.00" />
<text x="960.5" y="2316.5" font-size="36.0" text-anchor="end">5</text>
<line x1="959.5" y1="2387.7" x2="964.5" y2="2387.7" stroke="#000" stroke-width="2.00" />
<text x="960.5" y="2397.3" font-size="36.0" text-anchor="end">0</text>
<ellipse cx="991.5" cy="2324.7" rx="4.8" ry="5.1" fill="#0030ff"/>
<ellipse cx="996.6" cy="2324.7" rx="4.8" ry="5.1" fill="#0030ff"/>
<ellipse cx="994.0" cy="2335.3" rx="4.8" ry="5.1" fill="#0030ff"/>
<ellipse cx="994.0" cy="2345.6" rx="4.8" ry="5.1" fill="#0030ff"/>
<ellipse cx="983.8" cy="2356.2" rx="4.8" ry="5.1" fill="#0030ff"/>
<ellipse cx="988.9" cy="2356.2" rx="4.8" ry="5.1" fill="#0030ff"/>
<ellipse cx="999.2" cy="2356.2" rx="4.8" ry="5.1" fill="#0030ff"/>
<ellipse cx="1004.6" cy="2356.2" rx="4.8" ry="5.1" fill="#0030ff"/>
<ellipse cx="988.9" cy="2366.7" rx="4.8" ry="5.1" fill="#0030ff"/>
<ellipse cx="999.2" cy="2366.7" rx="4.8" ry="5.1" fill="#0030ff"/>
<ellipse cx="994.0" cy="2366.7" rx="4.8" ry="5.1" fill="#0030ff"/>
<ellipse cx="991.5" cy="2377.6" rx="4.8" ry="5.1" fill="#0030ff"/>
<ellipse cx="996.6" cy="2377.6" rx="4.8" ry="5.1" fill="#0030ff"/>
<ellipse cx="994.0" cy="2388.2" rx="4.8" ry="5.1" fill="#0030ff"/>
<line x1="979.0" y1="2357.1" x2="1009.4" y2="2357.1" stroke="#000" stroke-width="2.20" />
<ellipse cx="1039.9" cy="2271.9" rx="4.8" ry="5.1" fill="#ff2400"/>
<ellipse cx="1034.7" cy="2293.0" rx="4.8" ry="5.1" fill="#ff2400"/>
<ellipse cx="1045.0" cy="2293.0" rx="4.8" ry="5.1" fill="#ff2400"/>
<ellipse cx="1039.9" cy="2303.9" rx="4.8" ry="5.1" fill="#ff2400"/>
<ellipse cx="1034.7" cy="2314.2" rx="4.8" ry="5.1" fill="#ff2400"/>
<ellipse cx="1045.0" cy="2314.2" rx="4.8" ry="5.1" fill="#ff2400"/>
<ellipse cx="1029.3" cy="2324.7" rx="4.8" ry="5.1" fill="#ff2400"/>
<ellipse cx="1039.9" cy="2324.7" rx="4.8" ry="5.1" fill="#ff2400"/>
<ellipse cx="1050.1" cy="2324.7" rx="4.8" ry="5.1" fill="#ff2400"/>
<ellipse cx="1039.9" cy="2335.3" rx="4.8" ry="5.1" fill="#ff2400"/>
<ellipse cx="1029.3" cy="2345.9" rx="4.8" ry="5.1" fill="#ff2400"/>
<ellipse cx="1039.9" cy="2345.9" rx="4.8" ry="5.1" fill="#ff2400"/>
<ellipse cx="1050.1" cy="2345.9" rx="4.8" ry="5.1" fill="#ff2400"/>
<ellipse cx="1039.9" cy="2366.7" rx="4.8" ry="5.1" fill="#ff2400"/>
<line x1="1024.5" y1="2321.9" x2="1054.9" y2="2321.9" stroke="#000" stroke-width="2.20" />
<text x="944.0" y="2449.3" font-size="36.0" fill="#0030ff">CD</text>
<text x="1033.0" y="2449.3" font-size="36.0" fill="#ff2400">HFD</text>
<text x="879.0" y="2303.5" font-size="36.0" text-anchor="middle" transform="rotate(-90.0 879.0 2303.5)"><tspan>Casp3</tspan><tspan dy="-7.20" font-size="23.8">+</tspan><tspan dy="7.20">resident</tspan></text>
<text x="913.0" y="2303.5" font-size="36.0" text-anchor="middle" transform="rotate(-90.0 913.0 2303.5)">macs / FOV</text>
<text x="1228.6" y="2174.2" font-size="37.0">S</text>
<text x="1291.2" y="2195.0" font-size="31.0" font-style="italic">P=0.0005</text>
<line x1="1285.5" y1="2216.6" x2="1285.5" y2="2390.0" stroke="#000" stroke-width="2.00" />
<line x1="1284.5" y1="2390.0" x2="1462.0" y2="2390.0" stroke="#000" stroke-width="2.00" />
<line x1="1280.5" y1="2216.6" x2="1285.5" y2="2216.6" stroke="#000" stroke-width="2.00" />
<text x="1280.5" y="2233.0" font-size="36.0" text-anchor="end">100</text>
<line x1="1280.5" y1="2304.2" x2="1285.5" y2="2304.2" stroke="#000" stroke-width="2.00" />
<text x="1280.5" y="2317.9" font-size="36.0" text-anchor="end">50</text>
<line x1="1280.5" y1="2390.0" x2="1285.5" y2="2390.0" stroke="#000" stroke-width="2.00" />
<text x="1280.5" y="2397.3" font-size="36.0" text-anchor="end">0</text>
<line x1="1323.8" y1="2217.3" x2="1390.6" y2="2217.3" stroke="#000" stroke-width="2.00" />
<circle cx="1326.4" cy="2254.3" r="6.8" fill="#0030ff"/>
<circle cx="1317.3" cy="2263.9" r="6.8" fill="#0030ff"/>
<circle cx="1335.5" cy="2263.9" r="6.8" fill="#0030ff"/>
<circle cx="1326.4" cy="2268.0" r="6.8" fill="#0030ff"/>
<circle cx="1317.3" cy="2278.5" r="6.8" fill="#0030ff"/>
<circle cx="1326.4" cy="2280.6" r="6.8" fill="#0030ff"/>
<circle cx="1335.5" cy="2282.6" r="6.8" fill="#0030ff"/>
<circle cx="1317.3" cy="2293.7" r="6.8" fill="#0030ff"/>
<circle cx="1330.0" cy="2275.0" r="6.8" fill="#0030ff"/>
<line x1="1310.2" y1="2274.2" x2="1342.6" y2="2274.2" stroke="#000" stroke-width="2.00" />
<circle cx="1383.0" cy="2302.8" r="6.8" fill="#ff2400"/>
<circle cx="1377.0" cy="2303.8" r="6.8" fill="#ff2400"/>
<circle cx="1370.9" cy="2305.3" r="6.8" fill="#ff2400"/>
<circle cx="1365.3" cy="2311.9" r="6.8" fill="#ff2400"/>
<circle cx="1377.0" cy="2310.0" r="6.8" fill="#ff2400"/>
<circle cx="1383.0" cy="2312.0" r="6.8" fill="#ff2400"/>
<circle cx="1365.3" cy="2327.6" r="6.8" fill="#ff2400"/>
<circle cx="1377.0" cy="2320.0" r="6.8" fill="#ff2400"/>
<circle cx="1383.0" cy="2318.0" r="6.8" fill="#ff2400"/>
<line x1="1358.3" y1="2313.6" x2="1390.1" y2="2313.6" stroke="#000" stroke-width="2.00" />
<circle cx="1422.0" cy="2250.2" r="6.8" fill="#11ee11"/>
<circle cx="1431.1" cy="2278.0" r="6.8" fill="#11ee11"/>
<circle cx="1413.2" cy="2289.7" r="6.8" fill="#11ee11"/>
<circle cx="1422.0" cy="2295.7" r="6.8" fill="#11ee11"/>
<circle cx="1431.1" cy="2292.7" r="6.8" fill="#11ee11"/>
<circle cx="1431.1" cy="2307.4" r="6.8" fill="#11ee11"/>
<circle cx="1413.2" cy="2311.9" r="6.8" fill="#11ee11"/>
<line x1="1406.3" y1="2289.7" x2="1437.7" y2="2289.7" stroke="#000" stroke-width="2.00" />
<text x="1283.4" y="2448.2" font-size="36.0" fill="#0030ff">CD</text>
<text x="1362.0" y="2448.2" font-size="36.0" fill="#ff2400">HFD</text>
<text x="1464.0" y="2448.2" font-size="36.0" fill="#11ee11">HFD withdrawal</text>
<text x="1183.0" y="2292.0" font-size="36.0" text-anchor="middle" transform="rotate(-90.0 1183.0 2292.0)"><tspan>CX</tspan><tspan dy="3.60" font-size="23.8">3</tspan><tspan dy="-3.60">CR</tspan><tspan dy="3.60" font-size="23.8">1</tspan><tspan dy="-10.80" font-size="23.8">-</tspan></text>
<text x="1215.0" y="2294.6" font-size="36.0" text-anchor="middle" transform="rotate(-90.0 1215.0 2294.6)"><tspan>CCR2</tspan><tspan dy="-7.20" font-size="23.8">-</tspan><tspan dy="7.20">macs %</tspan></text>
<text x="1607.3" y="2174.6" font-size="37.0">T</text>
<text x="1668.1" y="2195.0" font-size="31.0" font-style="italic">P=0.0085</text>
<line x1="1667.0" y1="2220.5" x2="1667.0" y2="2388.5" stroke="#000" stroke-width="1.50" />
<line x1="1666.2" y1="2388.5" x2="1771.4" y2="2388.5" stroke="#000" stroke-width="1.50" />
<line x1="1662.0" y1="2220.5" x2="1667.0" y2="2220.5" stroke="#000" stroke-width="1.50" />
<text x="1662.3" y="2232.3" font-size="36.0" text-anchor="end">10</text>
<line x1="1662.0" y1="2305.0" x2="1667.0" y2="2305.0" stroke="#000" stroke-width="1.50" />
<text x="1662.3" y="2316.7" font-size="36.0" text-anchor="end">5</text>
<line x1="1662.0" y1="2388.5" x2="1667.0" y2="2388.5" stroke="#000" stroke-width="1.50" />
<text x="1662.3" y="2397.2" font-size="36.0" text-anchor="end">0</text>
<ellipse cx="1697.0" cy="2294.2" rx="6" ry="6.5" fill="#ff2400"/>
<ellipse cx="1694.0" cy="2316.3" rx="6" ry="6.5" fill="#ff2400"/>
<ellipse cx="1700.0" cy="2322.2" rx="6" ry="6.5" fill="#ff2400"/>
<ellipse cx="1694.0" cy="2333.2" rx="6" ry="6.5" fill="#ff2400"/>
<ellipse cx="1700.0" cy="2344.2" rx="6" ry="6.5" fill="#ff2400"/>
<ellipse cx="1694.0" cy="2355.8" rx="6" ry="6.5" fill="#ff2400"/>
<ellipse cx="1688.4" cy="2361.2" rx="6" ry="6.5" fill="#ff2400"/>
<ellipse cx="1700.0" cy="2366.8" rx="6" ry="6.5" fill="#ff2400"/>
<ellipse cx="1706.0" cy="2366.8" rx="6" ry="6.5" fill="#ff2400"/>
<ellipse cx="1688.4" cy="2378.2" rx="6" ry="6.5" fill="#ff2400"/>
<line x1="1682.1" y1="2344.1" x2="1711.9" y2="2344.1" stroke="#000" stroke-width="2.00" />
<ellipse cx="1733.0" cy="2271.6" rx="6" ry="6.5" fill="#11ee11"/>
<ellipse cx="1741.7" cy="2277.3" rx="6" ry="6.5" fill="#11ee11"/>
<ellipse cx="1750.6" cy="2277.3" rx="6" ry="6.5" fill="#11ee11"/>
<ellipse cx="1733.0" cy="2288.6" rx="6" ry="6.5" fill="#11ee11"/>
<ellipse cx="1750.6" cy="2299.6" rx="6" ry="6.5" fill="#11ee11"/>
<ellipse cx="1733.0" cy="2310.9" rx="6" ry="6.5" fill="#11ee11"/>
<ellipse cx="1750.6" cy="2316.3" rx="6" ry="6.5" fill="#11ee11"/>
<ellipse cx="1741.7" cy="2327.6" rx="6" ry="6.5" fill="#11ee11"/>
<ellipse cx="1746.1" cy="2344.2" rx="6" ry="6.5" fill="#11ee11"/>
<ellipse cx="1737.2" cy="2349.9" rx="6" ry="6.5" fill="#11ee11"/>
<line x1="1727.1" y1="2306.7" x2="1756.5" y2="2306.7" stroke="#000" stroke-width="2.00" />
<text x="1591.0" y="2292.0" font-size="36.0" text-anchor="middle" transform="rotate(-90.0 1591.0 2292.0)" xml:space="preserve"><tspan>Ki67+  CCR2</tspan><tspan dy="-7.20" font-size="23.8">-</tspan></text>
<text x="1626.0" y="2299.0" font-size="36.0" text-anchor="middle" transform="rotate(-90.0 1626.0 2299.0)">macs %</text>
</svg>
</body></html>
